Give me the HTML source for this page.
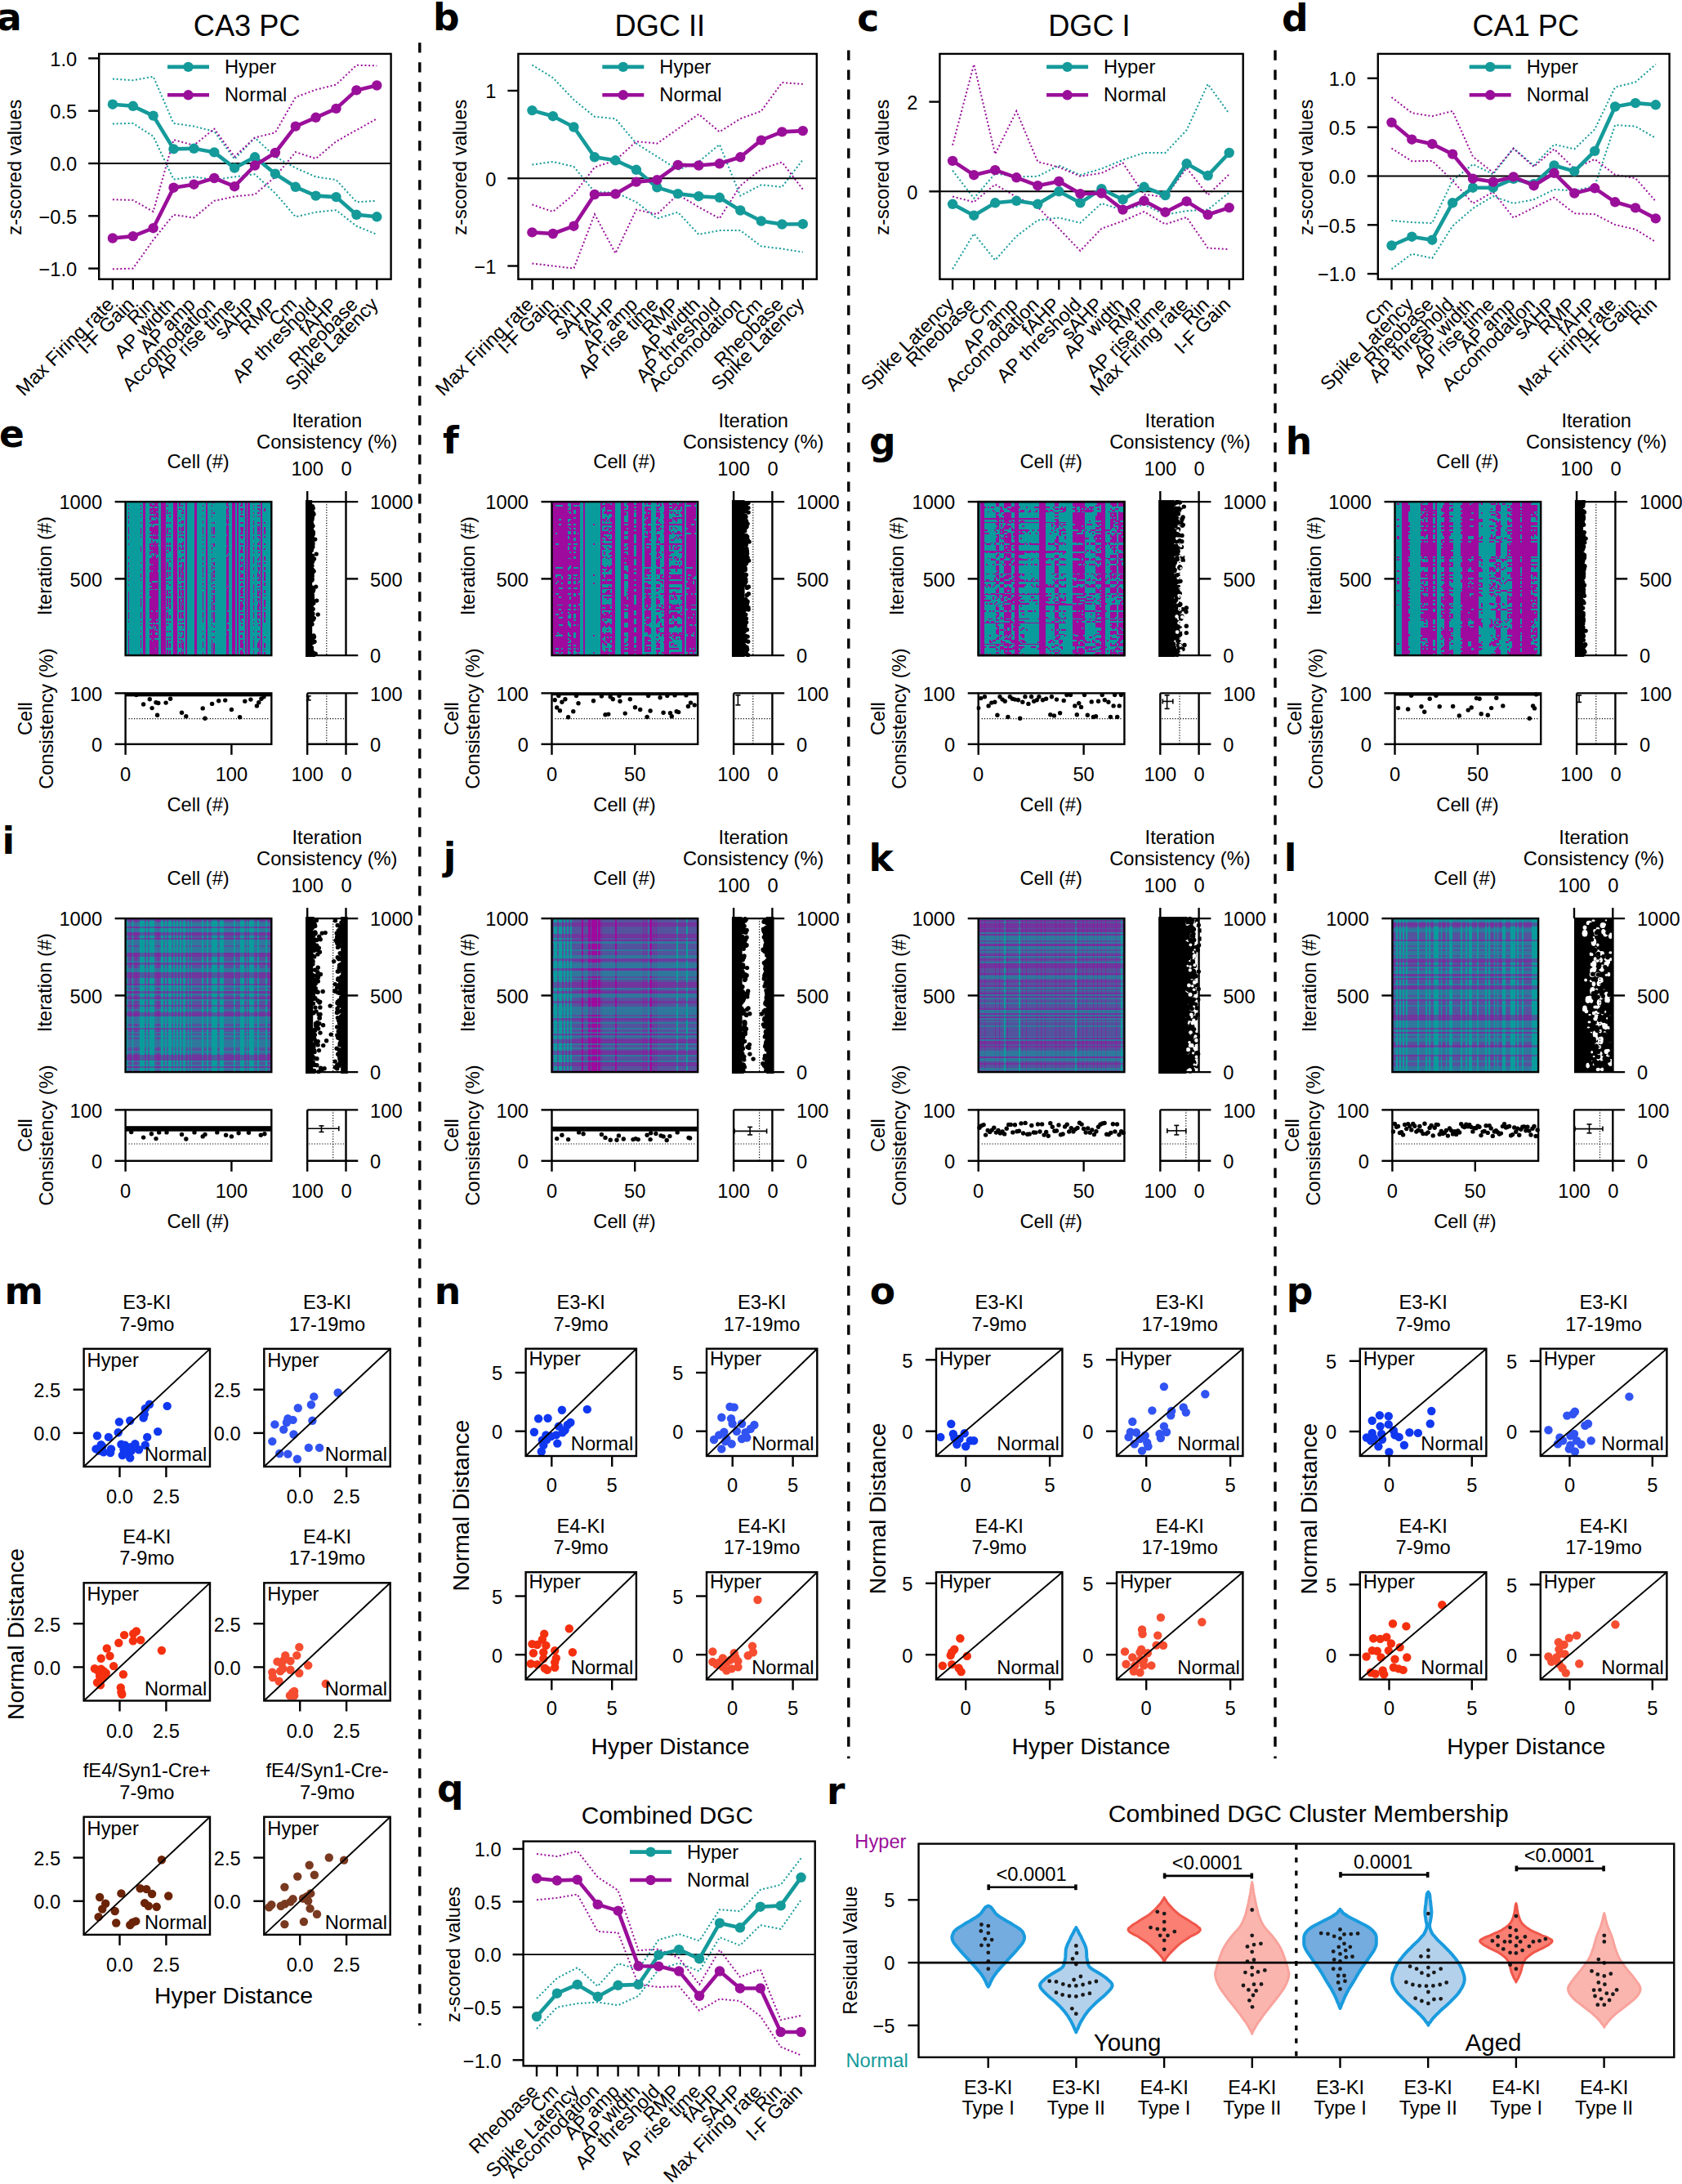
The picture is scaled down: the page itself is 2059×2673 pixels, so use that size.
<!DOCTYPE html>
<html><head><meta charset="utf-8"><title>Figure</title>
<style>
html,body{margin:0;padding:0;background:#fff}
svg{display:block;font-family:"Liberation Sans",Arial,sans-serif;font-size:23.7px;fill:#000}
.b{font-family:"DejaVu Sans",sans-serif;font-weight:bold}
.k{stroke:#000;stroke-width:2.4}
.hm{shape-rendering:crispEdges}
</style></head><body>
<svg width="2059" height="2673" viewBox="0 0 2059 2673">
<rect width="2059" height="2673" fill="#fff"/>
<polyline points="137.9,96.5 162.8,98.3 187.6,93.7 212.5,150.9 237.4,154.6 262.3,160.8 287.1,194.8 312,168.5 336.9,191.7 361.8,205.6 386.6,216.4 411.5,220.1 436.4,247.3 461.3,245.8" fill="none" stroke="#159a9a" stroke-width="2" stroke-dasharray="2 2.7"/>
<polyline points="137.9,151.5 162.8,150.9 187.6,166.9 212.5,219.5 237.4,216.4 262.3,220.1 287.1,216.4 312,213.3 336.9,236.5 361.8,265.3 386.6,259.7 411.5,257.2 436.4,276.7 461.3,286.9" fill="none" stroke="#159a9a" stroke-width="2" stroke-dasharray="2 2.7"/>
<polyline points="137.9,244.2 162.8,244.9 187.6,259.1 212.5,171 237.4,177.8 262.3,157.7 287.1,191.7 312,168.5 336.9,162.3 361.8,119 386.6,109.8 411.5,103.6 436.4,79.8 461.3,80.4" fill="none" stroke="#9a0f9a" stroke-width="2" stroke-dasharray="2 2.7"/>
<polyline points="137.9,329.3 162.8,328.6 187.6,293.7 212.5,262.8 237.4,266.5 262.3,245.8 287.1,240.5 312,238 336.9,216.4 361.8,186.1 386.6,194.1 411.5,173.1 436.4,159.2 461.3,145.3" fill="none" stroke="#9a0f9a" stroke-width="2" stroke-dasharray="2 2.7"/>
<line x1="121.2" y1="200" x2="478.6" y2="200" stroke="#000" stroke-width="1.9"/>
<polyline points="137.9,127.7 162.8,129.8 187.6,141.6 212.5,182.4 237.4,181.8 262.3,186.4 287.1,205.6 312,192.3 336.9,212.7 361.8,228.8 386.6,239.6 411.5,241.1 436.4,262.8 461.3,265.3" fill="none" stroke="#159a9a" stroke-width="4.6" stroke-linejoin="round"/>
<circle cx="137.9" cy="127.7" r="6.2" fill="#159a9a"/>
<circle cx="162.8" cy="129.8" r="6.2" fill="#159a9a"/>
<circle cx="187.6" cy="141.6" r="6.2" fill="#159a9a"/>
<circle cx="212.5" cy="182.4" r="6.2" fill="#159a9a"/>
<circle cx="237.4" cy="181.8" r="6.2" fill="#159a9a"/>
<circle cx="262.3" cy="186.4" r="6.2" fill="#159a9a"/>
<circle cx="287.1" cy="205.6" r="6.2" fill="#159a9a"/>
<circle cx="312" cy="192.3" r="6.2" fill="#159a9a"/>
<circle cx="336.9" cy="212.7" r="6.2" fill="#159a9a"/>
<circle cx="361.8" cy="228.8" r="6.2" fill="#159a9a"/>
<circle cx="386.6" cy="239.6" r="6.2" fill="#159a9a"/>
<circle cx="411.5" cy="241.1" r="6.2" fill="#159a9a"/>
<circle cx="436.4" cy="262.8" r="6.2" fill="#159a9a"/>
<circle cx="461.3" cy="265.3" r="6.2" fill="#159a9a"/>
<polyline points="137.9,291.5 162.8,289.1 187.6,279.2 212.5,229.7 237.4,225.7 262.3,218 287.1,228.2 312,202.5 336.9,187 361.8,154.6 386.6,143.8 411.5,132.9 436.4,110.4 461.3,104.5" fill="none" stroke="#9a0f9a" stroke-width="4.6" stroke-linejoin="round"/>
<circle cx="137.9" cy="291.5" r="6.2" fill="#9a0f9a"/>
<circle cx="162.8" cy="289.1" r="6.2" fill="#9a0f9a"/>
<circle cx="187.6" cy="279.2" r="6.2" fill="#9a0f9a"/>
<circle cx="212.5" cy="229.7" r="6.2" fill="#9a0f9a"/>
<circle cx="237.4" cy="225.7" r="6.2" fill="#9a0f9a"/>
<circle cx="262.3" cy="218" r="6.2" fill="#9a0f9a"/>
<circle cx="287.1" cy="228.2" r="6.2" fill="#9a0f9a"/>
<circle cx="312" cy="202.5" r="6.2" fill="#9a0f9a"/>
<circle cx="336.9" cy="187" r="6.2" fill="#9a0f9a"/>
<circle cx="361.8" cy="154.6" r="6.2" fill="#9a0f9a"/>
<circle cx="386.6" cy="143.8" r="6.2" fill="#9a0f9a"/>
<circle cx="411.5" cy="132.9" r="6.2" fill="#9a0f9a"/>
<circle cx="436.4" cy="110.4" r="6.2" fill="#9a0f9a"/>
<circle cx="461.3" cy="104.5" r="6.2" fill="#9a0f9a"/>
<rect x="121.2" y="65.9" width="357.4" height="275.8" fill="none" stroke="#000" stroke-width="2.4"/>
<line x1="108.2" y1="71.4" x2="121.2" y2="71.4" class="k"/>
<text x="94.2" y="80.6" text-anchor="end">1.0</text>
<line x1="108.2" y1="135.7" x2="121.2" y2="135.7" class="k"/>
<text x="94.2" y="144.9" text-anchor="end">0.5</text>
<line x1="108.2" y1="200" x2="121.2" y2="200" class="k"/>
<text x="94.2" y="209.2" text-anchor="end">0.0</text>
<line x1="108.2" y1="264.3" x2="121.2" y2="264.3" class="k"/>
<text x="94.2" y="273.5" text-anchor="end">−0.5</text>
<line x1="108.2" y1="328.6" x2="121.2" y2="328.6" class="k"/>
<text x="94.2" y="337.8" text-anchor="end">−1.0</text>
<line x1="137.9" y1="341.6" x2="137.9" y2="354.6" class="k"/>
<text transform="translate(140.9 374.1) rotate(-45)" text-anchor="end">Max Firing rate</text>
<line x1="162.8" y1="341.6" x2="162.8" y2="354.6" class="k"/>
<text transform="translate(165.8 374.1) rotate(-45)" text-anchor="end">I-F Gain</text>
<line x1="187.6" y1="341.6" x2="187.6" y2="354.6" class="k"/>
<text transform="translate(190.6 374.1) rotate(-45)" text-anchor="end">Rin</text>
<line x1="212.5" y1="341.6" x2="212.5" y2="354.6" class="k"/>
<text transform="translate(215.5 374.1) rotate(-45)" text-anchor="end">AP width</text>
<line x1="237.4" y1="341.6" x2="237.4" y2="354.6" class="k"/>
<text transform="translate(240.4 374.1) rotate(-45)" text-anchor="end">AP amp</text>
<line x1="262.3" y1="341.6" x2="262.3" y2="354.6" class="k"/>
<text transform="translate(265.3 374.1) rotate(-45)" text-anchor="end">Accomodation</text>
<line x1="287.1" y1="341.6" x2="287.1" y2="354.6" class="k"/>
<text transform="translate(290.1 374.1) rotate(-45)" text-anchor="end">AP rise time</text>
<line x1="312" y1="341.6" x2="312" y2="354.6" class="k"/>
<text transform="translate(315 374.1) rotate(-45)" text-anchor="end">sAHP</text>
<line x1="336.9" y1="341.6" x2="336.9" y2="354.6" class="k"/>
<text transform="translate(339.9 374.1) rotate(-45)" text-anchor="end">RMP</text>
<line x1="361.8" y1="341.6" x2="361.8" y2="354.6" class="k"/>
<text transform="translate(364.8 374.1) rotate(-45)" text-anchor="end">Cm</text>
<line x1="386.6" y1="341.6" x2="386.6" y2="354.6" class="k"/>
<text transform="translate(389.6 374.1) rotate(-45)" text-anchor="end">AP threshold</text>
<line x1="411.5" y1="341.6" x2="411.5" y2="354.6" class="k"/>
<text transform="translate(414.5 374.1) rotate(-45)" text-anchor="end">fAHP</text>
<line x1="436.4" y1="341.6" x2="436.4" y2="354.6" class="k"/>
<text transform="translate(439.4 374.1) rotate(-45)" text-anchor="end">Rheobase</text>
<line x1="461.3" y1="341.6" x2="461.3" y2="354.6" class="k"/>
<text transform="translate(464.3 374.1) rotate(-45)" text-anchor="end">Spike Latency</text>
<text transform="translate(26 204.7) rotate(-90)" text-anchor="middle">z-scored values</text>
<text x="302.2" y="44.4" text-anchor="middle" font-size="36.2">CA3 PC</text>
<line x1="205" y1="81.9" x2="256" y2="81.9" stroke="#159a9a" stroke-width="4.6"/>
<circle cx="230.5" cy="81.9" r="6.2" fill="#159a9a"/>
<text x="275" y="89.9">Hyper</text>
<line x1="205" y1="116.3" x2="256" y2="116.3" stroke="#9a0f9a" stroke-width="4.6"/>
<circle cx="230.5" cy="116.3" r="6.2" fill="#9a0f9a"/>
<text x="275" y="124.3">Normal</text>
<polyline points="651.4,79.5 676.9,95.2 702.4,122.1 727.9,142.8 753.4,145.3 778.9,175.6 804.4,191.7 829.8,207.8 855.3,197.9 880.8,176.8 906.3,239.6 931.8,226.3 957.3,228.8 982.8,195.4" fill="none" stroke="#159a9a" stroke-width="2" stroke-dasharray="2 2.7"/>
<polyline points="651.4,201.6 676.9,197.9 702.4,204 727.9,235 753.4,235.6 778.9,247.3 804.4,267.4 829.8,259.7 855.3,286.9 880.8,282 906.3,282 931.8,301.4 957.3,304.5 982.8,308.5" fill="none" stroke="#159a9a" stroke-width="2" stroke-dasharray="2 2.7"/>
<polyline points="651.4,250.4 676.9,259.1 702.4,238 727.9,204.7 753.4,196.3 778.9,173.1 804.4,175.6 829.8,157.7 855.3,139.7 880.8,161.4 906.3,145.3 931.8,136 957.3,101.1 982.8,102.9" fill="none" stroke="#9a0f9a" stroke-width="2" stroke-dasharray="2 2.7"/>
<polyline points="651.4,322.4 676.9,325.5 702.4,328.6 727.9,262.2 753.4,310.1 778.9,256.6 804.4,262.2 829.8,238 855.3,253.5 880.8,267.4 906.3,227.2 931.8,207.1 957.3,198.5 982.8,231.9" fill="none" stroke="#9a0f9a" stroke-width="2" stroke-dasharray="2 2.7"/>
<line x1="634.4" y1="218.3" x2="999.8" y2="218.3" stroke="#000" stroke-width="1.9"/>
<polyline points="651.4,135.1 676.9,142.2 702.4,155.5 727.9,192.3 753.4,196.3 778.9,207.8 804.4,229.4 829.8,237.1 855.3,240.2 880.8,241.8 906.3,257.5 931.8,270.5 957.3,274.5 982.8,274.2" fill="none" stroke="#159a9a" stroke-width="4.6" stroke-linejoin="round"/>
<circle cx="651.4" cy="135.1" r="6.2" fill="#159a9a"/>
<circle cx="676.9" cy="142.2" r="6.2" fill="#159a9a"/>
<circle cx="702.4" cy="155.5" r="6.2" fill="#159a9a"/>
<circle cx="727.9" cy="192.3" r="6.2" fill="#159a9a"/>
<circle cx="753.4" cy="196.3" r="6.2" fill="#159a9a"/>
<circle cx="778.9" cy="207.8" r="6.2" fill="#159a9a"/>
<circle cx="804.4" cy="229.4" r="6.2" fill="#159a9a"/>
<circle cx="829.8" cy="237.1" r="6.2" fill="#159a9a"/>
<circle cx="855.3" cy="240.2" r="6.2" fill="#159a9a"/>
<circle cx="880.8" cy="241.8" r="6.2" fill="#159a9a"/>
<circle cx="906.3" cy="257.5" r="6.2" fill="#159a9a"/>
<circle cx="931.8" cy="270.5" r="6.2" fill="#159a9a"/>
<circle cx="957.3" cy="274.5" r="6.2" fill="#159a9a"/>
<circle cx="982.8" cy="274.2" r="6.2" fill="#159a9a"/>
<polyline points="651.4,284.4 676.9,286 702.4,276.7 727.9,238 753.4,237.4 778.9,222.6 804.4,220.1 829.8,201.9 855.3,202.5 880.8,200.3 906.3,192.3 931.8,171.6 957.3,161.4 982.8,160.1" fill="none" stroke="#9a0f9a" stroke-width="4.6" stroke-linejoin="round"/>
<circle cx="651.4" cy="284.4" r="6.2" fill="#9a0f9a"/>
<circle cx="676.9" cy="286" r="6.2" fill="#9a0f9a"/>
<circle cx="702.4" cy="276.7" r="6.2" fill="#9a0f9a"/>
<circle cx="727.9" cy="238" r="6.2" fill="#9a0f9a"/>
<circle cx="753.4" cy="237.4" r="6.2" fill="#9a0f9a"/>
<circle cx="778.9" cy="222.6" r="6.2" fill="#9a0f9a"/>
<circle cx="804.4" cy="220.1" r="6.2" fill="#9a0f9a"/>
<circle cx="829.8" cy="201.9" r="6.2" fill="#9a0f9a"/>
<circle cx="855.3" cy="202.5" r="6.2" fill="#9a0f9a"/>
<circle cx="880.8" cy="200.3" r="6.2" fill="#9a0f9a"/>
<circle cx="906.3" cy="192.3" r="6.2" fill="#9a0f9a"/>
<circle cx="931.8" cy="171.6" r="6.2" fill="#9a0f9a"/>
<circle cx="957.3" cy="161.4" r="6.2" fill="#9a0f9a"/>
<circle cx="982.8" cy="160.1" r="6.2" fill="#9a0f9a"/>
<rect x="634.4" y="65.9" width="365.4" height="275.8" fill="none" stroke="#000" stroke-width="2.4"/>
<line x1="621.4" y1="111" x2="634.4" y2="111" class="k"/>
<text x="607.4" y="120.2" text-anchor="end">1</text>
<line x1="621.4" y1="218.3" x2="634.4" y2="218.3" class="k"/>
<text x="607.4" y="227.5" text-anchor="end">0</text>
<line x1="621.4" y1="325.5" x2="634.4" y2="325.5" class="k"/>
<text x="607.4" y="334.7" text-anchor="end">−1</text>
<line x1="651.4" y1="341.6" x2="651.4" y2="354.6" class="k"/>
<text transform="translate(654.4 374.1) rotate(-45)" text-anchor="end">Max Firing rate</text>
<line x1="676.9" y1="341.6" x2="676.9" y2="354.6" class="k"/>
<text transform="translate(679.9 374.1) rotate(-45)" text-anchor="end">I-F Gain</text>
<line x1="702.4" y1="341.6" x2="702.4" y2="354.6" class="k"/>
<text transform="translate(705.4 374.1) rotate(-45)" text-anchor="end">Rin</text>
<line x1="727.9" y1="341.6" x2="727.9" y2="354.6" class="k"/>
<text transform="translate(730.9 374.1) rotate(-45)" text-anchor="end">sAHP</text>
<line x1="753.4" y1="341.6" x2="753.4" y2="354.6" class="k"/>
<text transform="translate(756.4 374.1) rotate(-45)" text-anchor="end">fAHP</text>
<line x1="778.9" y1="341.6" x2="778.9" y2="354.6" class="k"/>
<text transform="translate(781.9 374.1) rotate(-45)" text-anchor="end">AP amp</text>
<line x1="804.4" y1="341.6" x2="804.4" y2="354.6" class="k"/>
<text transform="translate(807.4 374.1) rotate(-45)" text-anchor="end">AP rise time</text>
<line x1="829.8" y1="341.6" x2="829.8" y2="354.6" class="k"/>
<text transform="translate(832.8 374.1) rotate(-45)" text-anchor="end">RMP</text>
<line x1="855.3" y1="341.6" x2="855.3" y2="354.6" class="k"/>
<text transform="translate(858.3 374.1) rotate(-45)" text-anchor="end">AP width</text>
<line x1="880.8" y1="341.6" x2="880.8" y2="354.6" class="k"/>
<text transform="translate(883.8 374.1) rotate(-45)" text-anchor="end">AP threshold</text>
<line x1="906.3" y1="341.6" x2="906.3" y2="354.6" class="k"/>
<text transform="translate(909.3 374.1) rotate(-45)" text-anchor="end">Accomodation</text>
<line x1="931.8" y1="341.6" x2="931.8" y2="354.6" class="k"/>
<text transform="translate(934.8 374.1) rotate(-45)" text-anchor="end">Cm</text>
<line x1="957.3" y1="341.6" x2="957.3" y2="354.6" class="k"/>
<text transform="translate(960.3 374.1) rotate(-45)" text-anchor="end">Rheobase</text>
<line x1="982.8" y1="341.6" x2="982.8" y2="354.6" class="k"/>
<text transform="translate(985.8 374.1) rotate(-45)" text-anchor="end">Spike Latency</text>
<text transform="translate(571 204.7) rotate(-90)" text-anchor="middle">z-scored values</text>
<text x="807.8" y="44.4" text-anchor="middle" font-size="36.2">DGC II</text>
<line x1="737.3" y1="81.9" x2="788.3" y2="81.9" stroke="#159a9a" stroke-width="4.6"/>
<circle cx="762.8" cy="81.9" r="6.2" fill="#159a9a"/>
<text x="807.3" y="89.9">Hyper</text>
<line x1="737.3" y1="116.3" x2="788.3" y2="116.3" stroke="#9a0f9a" stroke-width="4.6"/>
<circle cx="762.8" cy="116.3" r="6.2" fill="#9a0f9a"/>
<text x="807.3" y="124.3">Normal</text>
<polyline points="1166.1,208.7 1192.2,242.7 1218.2,212.4 1244.3,216.4 1270.3,215.8 1296.3,202.5 1322.4,214.2 1348.4,206.5 1374.5,195.7 1400.5,187 1426.5,187 1452.6,159.2 1478.6,102.9 1504.7,139.1" fill="none" stroke="#159a9a" stroke-width="2" stroke-dasharray="2 2.7"/>
<polyline points="1166.1,329.3 1192.2,286 1218.2,318.4 1244.3,289.1 1270.3,269.6 1296.3,266.5 1322.4,272.7 1348.4,248.9 1374.5,257.2 1400.5,250.4 1426.5,262.8 1452.6,258.1 1478.6,256.6 1504.7,235.6" fill="none" stroke="#159a9a" stroke-width="2" stroke-dasharray="2 2.7"/>
<polyline points="1166.1,177.8 1192.2,78.8 1218.2,188.6 1244.3,136 1270.3,197.9 1296.3,204.7 1322.4,215.8 1348.4,211.8 1374.5,199.4 1400.5,238 1426.5,241.1 1452.6,205.6 1478.6,238.7 1504.7,213.3" fill="none" stroke="#9a0f9a" stroke-width="2" stroke-dasharray="2 2.7"/>
<polyline points="1166.1,240.5 1192.2,247.3 1218.2,225.7 1244.3,241.1 1270.3,253.5 1296.3,279.8 1322.4,307 1348.4,279.8 1374.5,270.5 1400.5,259.1 1426.5,274.5 1452.6,265.9 1478.6,303.6 1504.7,305.1" fill="none" stroke="#9a0f9a" stroke-width="2" stroke-dasharray="2 2.7"/>
<line x1="1150.4" y1="234.3" x2="1521.7" y2="234.3" stroke="#000" stroke-width="1.9"/>
<polyline points="1166.1,249.8 1192.2,263.7 1218.2,248.3 1244.3,245.8 1270.3,249.8 1296.3,234.3 1322.4,248.3 1348.4,231.2 1374.5,244.2 1400.5,228.8 1426.5,239 1452.6,200.3 1478.6,214.9 1504.7,187" fill="none" stroke="#159a9a" stroke-width="4.6" stroke-linejoin="round"/>
<circle cx="1166.1" cy="249.8" r="6.2" fill="#159a9a"/>
<circle cx="1192.2" cy="263.7" r="6.2" fill="#159a9a"/>
<circle cx="1218.2" cy="248.3" r="6.2" fill="#159a9a"/>
<circle cx="1244.3" cy="245.8" r="6.2" fill="#159a9a"/>
<circle cx="1270.3" cy="249.8" r="6.2" fill="#159a9a"/>
<circle cx="1296.3" cy="234.3" r="6.2" fill="#159a9a"/>
<circle cx="1322.4" cy="248.3" r="6.2" fill="#159a9a"/>
<circle cx="1348.4" cy="231.2" r="6.2" fill="#159a9a"/>
<circle cx="1374.5" cy="244.2" r="6.2" fill="#159a9a"/>
<circle cx="1400.5" cy="228.8" r="6.2" fill="#159a9a"/>
<circle cx="1426.5" cy="239" r="6.2" fill="#159a9a"/>
<circle cx="1452.6" cy="200.3" r="6.2" fill="#159a9a"/>
<circle cx="1478.6" cy="214.9" r="6.2" fill="#159a9a"/>
<circle cx="1504.7" cy="187" r="6.2" fill="#159a9a"/>
<polyline points="1166.1,196.9 1192.2,214.2 1218.2,208.1 1244.3,217.3 1270.3,227.2 1296.3,222 1322.4,237.1 1348.4,236.5 1374.5,256.6 1400.5,245.8 1426.5,259.7 1452.6,246.4 1478.6,262.8 1504.7,254.1" fill="none" stroke="#9a0f9a" stroke-width="4.6" stroke-linejoin="round"/>
<circle cx="1166.1" cy="196.9" r="6.2" fill="#9a0f9a"/>
<circle cx="1192.2" cy="214.2" r="6.2" fill="#9a0f9a"/>
<circle cx="1218.2" cy="208.1" r="6.2" fill="#9a0f9a"/>
<circle cx="1244.3" cy="217.3" r="6.2" fill="#9a0f9a"/>
<circle cx="1270.3" cy="227.2" r="6.2" fill="#9a0f9a"/>
<circle cx="1296.3" cy="222" r="6.2" fill="#9a0f9a"/>
<circle cx="1322.4" cy="237.1" r="6.2" fill="#9a0f9a"/>
<circle cx="1348.4" cy="236.5" r="6.2" fill="#9a0f9a"/>
<circle cx="1374.5" cy="256.6" r="6.2" fill="#9a0f9a"/>
<circle cx="1400.5" cy="245.8" r="6.2" fill="#9a0f9a"/>
<circle cx="1426.5" cy="259.7" r="6.2" fill="#9a0f9a"/>
<circle cx="1452.6" cy="246.4" r="6.2" fill="#9a0f9a"/>
<circle cx="1478.6" cy="262.8" r="6.2" fill="#9a0f9a"/>
<circle cx="1504.7" cy="254.1" r="6.2" fill="#9a0f9a"/>
<rect x="1150.4" y="65.9" width="371.3" height="275.8" fill="none" stroke="#000" stroke-width="2.4"/>
<line x1="1137.4" y1="124.6" x2="1150.4" y2="124.6" class="k"/>
<text x="1123.4" y="133.8" text-anchor="end">2</text>
<line x1="1137.4" y1="234.3" x2="1150.4" y2="234.3" class="k"/>
<text x="1123.4" y="243.5" text-anchor="end">0</text>
<line x1="1166.1" y1="341.6" x2="1166.1" y2="354.6" class="k"/>
<text transform="translate(1169.1 374.1) rotate(-45)" text-anchor="end">Spike Latency</text>
<line x1="1192.2" y1="341.6" x2="1192.2" y2="354.6" class="k"/>
<text transform="translate(1195.2 374.1) rotate(-45)" text-anchor="end">Rheobase</text>
<line x1="1218.2" y1="341.6" x2="1218.2" y2="354.6" class="k"/>
<text transform="translate(1221.2 374.1) rotate(-45)" text-anchor="end">Cm</text>
<line x1="1244.3" y1="341.6" x2="1244.3" y2="354.6" class="k"/>
<text transform="translate(1247.3 374.1) rotate(-45)" text-anchor="end">AP amp</text>
<line x1="1270.3" y1="341.6" x2="1270.3" y2="354.6" class="k"/>
<text transform="translate(1273.3 374.1) rotate(-45)" text-anchor="end">Accomodation</text>
<line x1="1296.3" y1="341.6" x2="1296.3" y2="354.6" class="k"/>
<text transform="translate(1299.3 374.1) rotate(-45)" text-anchor="end">fAHP</text>
<line x1="1322.4" y1="341.6" x2="1322.4" y2="354.6" class="k"/>
<text transform="translate(1325.4 374.1) rotate(-45)" text-anchor="end">AP threshold</text>
<line x1="1348.4" y1="341.6" x2="1348.4" y2="354.6" class="k"/>
<text transform="translate(1351.4 374.1) rotate(-45)" text-anchor="end">sAHP</text>
<line x1="1374.5" y1="341.6" x2="1374.5" y2="354.6" class="k"/>
<text transform="translate(1377.5 374.1) rotate(-45)" text-anchor="end">AP width</text>
<line x1="1400.5" y1="341.6" x2="1400.5" y2="354.6" class="k"/>
<text transform="translate(1403.5 374.1) rotate(-45)" text-anchor="end">RMP</text>
<line x1="1426.5" y1="341.6" x2="1426.5" y2="354.6" class="k"/>
<text transform="translate(1429.5 374.1) rotate(-45)" text-anchor="end">AP rise time</text>
<line x1="1452.6" y1="341.6" x2="1452.6" y2="354.6" class="k"/>
<text transform="translate(1455.6 374.1) rotate(-45)" text-anchor="end">Max Firing rate</text>
<line x1="1478.6" y1="341.6" x2="1478.6" y2="354.6" class="k"/>
<text transform="translate(1481.6 374.1) rotate(-45)" text-anchor="end">Rin</text>
<line x1="1504.7" y1="341.6" x2="1504.7" y2="354.6" class="k"/>
<text transform="translate(1507.7 374.1) rotate(-45)" text-anchor="end">I-F Gain</text>
<text transform="translate(1088 204.7) rotate(-90)" text-anchor="middle">z-scored values</text>
<text x="1333.4" y="44.4" text-anchor="middle" font-size="36.2">DGC I</text>
<line x1="1281.1" y1="81.9" x2="1332.1" y2="81.9" stroke="#159a9a" stroke-width="4.6"/>
<circle cx="1306.6" cy="81.9" r="6.2" fill="#159a9a"/>
<text x="1351.1" y="89.9">Hyper</text>
<line x1="1281.1" y1="116.3" x2="1332.1" y2="116.3" stroke="#9a0f9a" stroke-width="4.6"/>
<circle cx="1306.6" cy="116.3" r="6.2" fill="#9a0f9a"/>
<text x="1351.1" y="124.3">Normal</text>
<polyline points="1703.5,269.9 1728.3,272.1 1753.2,273 1778.1,221 1803,201 1827.8,213.3 1852.7,181.5 1877.6,202.5 1902.5,176.8 1927.3,182.4 1952.2,158.3 1977.1,106.7 2002,100.5 2026.8,78.8" fill="none" stroke="#159a9a" stroke-width="2" stroke-dasharray="2 2.7"/>
<polyline points="1703.5,329.3 1728.3,310.7 1753.2,316 1778.1,276.7 1803,255.1 1827.8,240.2 1852.7,248.9 1877.6,244.2 1902.5,231.9 1927.3,233.4 1952.2,227.8 1977.1,153 2002,154.6 2026.8,169.1" fill="none" stroke="#159a9a" stroke-width="2" stroke-dasharray="2 2.7"/>
<polyline points="1703.5,119 1728.3,138.2 1753.2,142.2 1778.1,136 1803,191.7 1827.8,211.2 1852.7,181.8 1877.6,204 1902.5,182.4 1927.3,206.5 1952.2,194.8 1977.1,213.9 2002,218 2026.8,246.4" fill="none" stroke="#9a0f9a" stroke-width="2" stroke-dasharray="2 2.7"/>
<polyline points="1703.5,181.5 1728.3,197.2 1753.2,196.9 1778.1,221 1803,248.9 1827.8,235 1852.7,266.5 1877.6,254.1 1902.5,241.8 1927.3,261.2 1952.2,262.2 1977.1,275.1 2002,280.7 2026.8,296.2" fill="none" stroke="#9a0f9a" stroke-width="2" stroke-dasharray="2 2.7"/>
<line x1="1686.8" y1="215.5" x2="2043.5" y2="215.5" stroke="#000" stroke-width="1.9"/>
<polyline points="1703.5,300.5 1728.3,289.7 1753.2,293.7 1778.1,248.3 1803,229.7 1827.8,229.7 1852.7,218.9 1877.6,225.1 1902.5,202.5 1927.3,209.6 1952.2,184.9 1977.1,130.5 2002,126.1 2026.8,128.3" fill="none" stroke="#159a9a" stroke-width="4.6" stroke-linejoin="round"/>
<circle cx="1703.5" cy="300.5" r="6.2" fill="#159a9a"/>
<circle cx="1728.3" cy="289.7" r="6.2" fill="#159a9a"/>
<circle cx="1753.2" cy="293.7" r="6.2" fill="#159a9a"/>
<circle cx="1778.1" cy="248.3" r="6.2" fill="#159a9a"/>
<circle cx="1803" cy="229.7" r="6.2" fill="#159a9a"/>
<circle cx="1827.8" cy="229.7" r="6.2" fill="#159a9a"/>
<circle cx="1852.7" cy="218.9" r="6.2" fill="#159a9a"/>
<circle cx="1877.6" cy="225.1" r="6.2" fill="#159a9a"/>
<circle cx="1902.5" cy="202.5" r="6.2" fill="#159a9a"/>
<circle cx="1927.3" cy="209.6" r="6.2" fill="#159a9a"/>
<circle cx="1952.2" cy="184.9" r="6.2" fill="#159a9a"/>
<circle cx="1977.1" cy="130.5" r="6.2" fill="#159a9a"/>
<circle cx="2002" cy="126.1" r="6.2" fill="#159a9a"/>
<circle cx="2026.8" cy="128.3" r="6.2" fill="#159a9a"/>
<polyline points="1703.5,149.9 1728.3,170.7 1753.2,176.2 1778.1,188.6 1803,218.6 1827.8,222.6 1852.7,216.4 1877.6,227.2 1902.5,211.8 1927.3,236.5 1952.2,230.3 1977.1,247.3 2002,254.4 2026.8,267.4" fill="none" stroke="#9a0f9a" stroke-width="4.6" stroke-linejoin="round"/>
<circle cx="1703.5" cy="149.9" r="6.2" fill="#9a0f9a"/>
<circle cx="1728.3" cy="170.7" r="6.2" fill="#9a0f9a"/>
<circle cx="1753.2" cy="176.2" r="6.2" fill="#9a0f9a"/>
<circle cx="1778.1" cy="188.6" r="6.2" fill="#9a0f9a"/>
<circle cx="1803" cy="218.6" r="6.2" fill="#9a0f9a"/>
<circle cx="1827.8" cy="222.6" r="6.2" fill="#9a0f9a"/>
<circle cx="1852.7" cy="216.4" r="6.2" fill="#9a0f9a"/>
<circle cx="1877.6" cy="227.2" r="6.2" fill="#9a0f9a"/>
<circle cx="1902.5" cy="211.8" r="6.2" fill="#9a0f9a"/>
<circle cx="1927.3" cy="236.5" r="6.2" fill="#9a0f9a"/>
<circle cx="1952.2" cy="230.3" r="6.2" fill="#9a0f9a"/>
<circle cx="1977.1" cy="247.3" r="6.2" fill="#9a0f9a"/>
<circle cx="2002" cy="254.4" r="6.2" fill="#9a0f9a"/>
<circle cx="2026.8" cy="267.4" r="6.2" fill="#9a0f9a"/>
<rect x="1686.8" y="65.9" width="356.8" height="275.8" fill="none" stroke="#000" stroke-width="2.4"/>
<line x1="1673.8" y1="95.8" x2="1686.8" y2="95.8" class="k"/>
<text x="1659.8" y="105" text-anchor="end">1.0</text>
<line x1="1673.8" y1="155.7" x2="1686.8" y2="155.7" class="k"/>
<text x="1659.8" y="164.9" text-anchor="end">0.5</text>
<line x1="1673.8" y1="215.5" x2="1686.8" y2="215.5" class="k"/>
<text x="1659.8" y="224.7" text-anchor="end">0.0</text>
<line x1="1673.8" y1="275.3" x2="1686.8" y2="275.3" class="k"/>
<text x="1659.8" y="284.5" text-anchor="end">−0.5</text>
<line x1="1673.8" y1="335.1" x2="1686.8" y2="335.1" class="k"/>
<text x="1659.8" y="344.3" text-anchor="end">−1.0</text>
<line x1="1703.5" y1="341.6" x2="1703.5" y2="354.6" class="k"/>
<text transform="translate(1706.5 374.1) rotate(-45)" text-anchor="end">Cm</text>
<line x1="1728.3" y1="341.6" x2="1728.3" y2="354.6" class="k"/>
<text transform="translate(1731.3 374.1) rotate(-45)" text-anchor="end">Spike Latency</text>
<line x1="1753.2" y1="341.6" x2="1753.2" y2="354.6" class="k"/>
<text transform="translate(1756.2 374.1) rotate(-45)" text-anchor="end">Rheobase</text>
<line x1="1778.1" y1="341.6" x2="1778.1" y2="354.6" class="k"/>
<text transform="translate(1781.1 374.1) rotate(-45)" text-anchor="end">AP threshold</text>
<line x1="1803" y1="341.6" x2="1803" y2="354.6" class="k"/>
<text transform="translate(1806 374.1) rotate(-45)" text-anchor="end">AP width</text>
<line x1="1827.8" y1="341.6" x2="1827.8" y2="354.6" class="k"/>
<text transform="translate(1830.8 374.1) rotate(-45)" text-anchor="end">AP rise time</text>
<line x1="1852.7" y1="341.6" x2="1852.7" y2="354.6" class="k"/>
<text transform="translate(1855.7 374.1) rotate(-45)" text-anchor="end">AP amp</text>
<line x1="1877.6" y1="341.6" x2="1877.6" y2="354.6" class="k"/>
<text transform="translate(1880.6 374.1) rotate(-45)" text-anchor="end">Accomodation</text>
<line x1="1902.5" y1="341.6" x2="1902.5" y2="354.6" class="k"/>
<text transform="translate(1905.5 374.1) rotate(-45)" text-anchor="end">sAHP</text>
<line x1="1927.3" y1="341.6" x2="1927.3" y2="354.6" class="k"/>
<text transform="translate(1930.3 374.1) rotate(-45)" text-anchor="end">RMP</text>
<line x1="1952.2" y1="341.6" x2="1952.2" y2="354.6" class="k"/>
<text transform="translate(1955.2 374.1) rotate(-45)" text-anchor="end">fAHP</text>
<line x1="1977.1" y1="341.6" x2="1977.1" y2="354.6" class="k"/>
<text transform="translate(1980.1 374.1) rotate(-45)" text-anchor="end">Max Firing rate</text>
<line x1="2002" y1="341.6" x2="2002" y2="354.6" class="k"/>
<text transform="translate(2005 374.1) rotate(-45)" text-anchor="end">I-F Gain</text>
<line x1="2026.8" y1="341.6" x2="2026.8" y2="354.6" class="k"/>
<text transform="translate(2029.8 374.1) rotate(-45)" text-anchor="end">Rin</text>
<text transform="translate(1607.4 204.7) rotate(-90)" text-anchor="middle">z-scored values</text>
<text x="1867.8" y="44.4" text-anchor="middle" font-size="36.2">CA1 PC</text>
<line x1="1798.7" y1="81.9" x2="1849.7" y2="81.9" stroke="#159a9a" stroke-width="4.6"/>
<circle cx="1824.2" cy="81.9" r="6.2" fill="#159a9a"/>
<text x="1868.7" y="89.9">Hyper</text>
<line x1="1798.7" y1="116.3" x2="1849.7" y2="116.3" stroke="#9a0f9a" stroke-width="4.6"/>
<circle cx="1824.2" cy="116.3" r="6.2" fill="#9a0f9a"/>
<text x="1868.7" y="124.3">Normal</text>
<polyline points="657,2445.9 681.9,2421.1 706.8,2408.2 731.7,2431 756.6,2403.2 781.5,2410.3 806.3,2374.1 831.2,2367 856.1,2375.4 881,2337.1 905.9,2339.2 930.8,2312.9 955.7,2306.8 980.6,2274.3" fill="none" stroke="#159a9a" stroke-width="2" stroke-dasharray="2 2.7"/>
<polyline points="657,2483 681.9,2456.7 706.8,2452.1 731.7,2450.5 756.6,2454.2 781.5,2442.8 806.3,2410.3 831.2,2402.6 856.1,2412.5 881,2371.1 905.9,2381 930.8,2356.2 955.7,2360.9 980.6,2325.3" fill="none" stroke="#159a9a" stroke-width="2" stroke-dasharray="2 2.7"/>
<polyline points="657,2269 681.9,2272.1 706.8,2265.6 731.7,2297.5 756.6,2313.6 781.5,2387.1 806.3,2385.6 831.2,2396.4 856.1,2428.9 881,2386.5 905.9,2419.6 930.8,2410.3 955.7,2472.2 980.6,2466.9" fill="none" stroke="#9a0f9a" stroke-width="2" stroke-dasharray="2 2.7"/>
<polyline points="657,2325.3 681.9,2322.8 706.8,2318.5 731.7,2363.9 756.6,2365.5 781.5,2428.9 806.3,2432 831.2,2431 856.1,2460.7 881,2446.5 905.9,2449 930.8,2467.5 955.7,2505.2 980.6,2515.4" fill="none" stroke="#9a0f9a" stroke-width="2" stroke-dasharray="2 2.7"/>
<line x1="640.6" y1="2392.1" x2="997.6" y2="2392.1" stroke="#000" stroke-width="1.9"/>
<polyline points="657,2468.1 681.9,2439.7 706.8,2428.9 731.7,2443.7 756.6,2429.8 781.5,2428.9 806.3,2392.7 831.2,2386.2 856.1,2397.3 881,2353.7 905.9,2359.3 930.8,2333.7 955.7,2332.4 980.6,2297.8" fill="none" stroke="#159a9a" stroke-width="4.6" stroke-linejoin="round"/>
<circle cx="657" cy="2468.1" r="6.2" fill="#159a9a"/>
<circle cx="681.9" cy="2439.7" r="6.2" fill="#159a9a"/>
<circle cx="706.8" cy="2428.9" r="6.2" fill="#159a9a"/>
<circle cx="731.7" cy="2443.7" r="6.2" fill="#159a9a"/>
<circle cx="756.6" cy="2429.8" r="6.2" fill="#159a9a"/>
<circle cx="781.5" cy="2428.9" r="6.2" fill="#159a9a"/>
<circle cx="806.3" cy="2392.7" r="6.2" fill="#159a9a"/>
<circle cx="831.2" cy="2386.2" r="6.2" fill="#159a9a"/>
<circle cx="856.1" cy="2397.3" r="6.2" fill="#159a9a"/>
<circle cx="881" cy="2353.7" r="6.2" fill="#159a9a"/>
<circle cx="905.9" cy="2359.3" r="6.2" fill="#159a9a"/>
<circle cx="930.8" cy="2333.7" r="6.2" fill="#159a9a"/>
<circle cx="955.7" cy="2332.4" r="6.2" fill="#159a9a"/>
<circle cx="980.6" cy="2297.8" r="6.2" fill="#159a9a"/>
<polyline points="657,2299 681.9,2301.5 706.8,2300.6 731.7,2330.9 756.6,2338.6 781.5,2406.3 806.3,2406.6 831.2,2412.5 856.1,2442.8 881,2412.5 905.9,2433.5 930.8,2433.5 955.7,2487 980.6,2487" fill="none" stroke="#9a0f9a" stroke-width="4.6" stroke-linejoin="round"/>
<circle cx="657" cy="2299" r="6.2" fill="#9a0f9a"/>
<circle cx="681.9" cy="2301.5" r="6.2" fill="#9a0f9a"/>
<circle cx="706.8" cy="2300.6" r="6.2" fill="#9a0f9a"/>
<circle cx="731.7" cy="2330.9" r="6.2" fill="#9a0f9a"/>
<circle cx="756.6" cy="2338.6" r="6.2" fill="#9a0f9a"/>
<circle cx="781.5" cy="2406.3" r="6.2" fill="#9a0f9a"/>
<circle cx="806.3" cy="2406.6" r="6.2" fill="#9a0f9a"/>
<circle cx="831.2" cy="2412.5" r="6.2" fill="#9a0f9a"/>
<circle cx="856.1" cy="2442.8" r="6.2" fill="#9a0f9a"/>
<circle cx="881" cy="2412.5" r="6.2" fill="#9a0f9a"/>
<circle cx="905.9" cy="2433.5" r="6.2" fill="#9a0f9a"/>
<circle cx="930.8" cy="2433.5" r="6.2" fill="#9a0f9a"/>
<circle cx="955.7" cy="2487" r="6.2" fill="#9a0f9a"/>
<circle cx="980.6" cy="2487" r="6.2" fill="#9a0f9a"/>
<rect x="640.6" y="2253.6" width="357.1" height="274.8" fill="none" stroke="#000" stroke-width="2.4"/>
<line x1="627.6" y1="2262.9" x2="640.6" y2="2262.9" class="k"/>
<text x="613.6" y="2272.1" text-anchor="end">1.0</text>
<line x1="627.6" y1="2327.5" x2="640.6" y2="2327.5" class="k"/>
<text x="613.6" y="2336.7" text-anchor="end">0.5</text>
<line x1="627.6" y1="2392.1" x2="640.6" y2="2392.1" class="k"/>
<text x="613.6" y="2401.3" text-anchor="end">0.0</text>
<line x1="627.6" y1="2456.7" x2="640.6" y2="2456.7" class="k"/>
<text x="613.6" y="2465.9" text-anchor="end">−0.5</text>
<line x1="627.6" y1="2521.3" x2="640.6" y2="2521.3" class="k"/>
<text x="613.6" y="2530.5" text-anchor="end">−1.0</text>
<line x1="657" y1="2528.4" x2="657" y2="2541.4" class="k"/>
<text transform="translate(660 2560.9) rotate(-45)" text-anchor="end">Rheobase</text>
<line x1="681.9" y1="2528.4" x2="681.9" y2="2541.4" class="k"/>
<text transform="translate(684.9 2560.9) rotate(-45)" text-anchor="end">Cm</text>
<line x1="706.8" y1="2528.4" x2="706.8" y2="2541.4" class="k"/>
<text transform="translate(709.8 2560.9) rotate(-45)" text-anchor="end">Spike Latency</text>
<line x1="731.7" y1="2528.4" x2="731.7" y2="2541.4" class="k"/>
<text transform="translate(734.7 2560.9) rotate(-45)" text-anchor="end">Accomodation</text>
<line x1="756.6" y1="2528.4" x2="756.6" y2="2541.4" class="k"/>
<text transform="translate(759.6 2560.9) rotate(-45)" text-anchor="end">AP amp</text>
<line x1="781.5" y1="2528.4" x2="781.5" y2="2541.4" class="k"/>
<text transform="translate(784.5 2560.9) rotate(-45)" text-anchor="end">AP width</text>
<line x1="806.3" y1="2528.4" x2="806.3" y2="2541.4" class="k"/>
<text transform="translate(809.3 2560.9) rotate(-45)" text-anchor="end">AP threshold</text>
<line x1="831.2" y1="2528.4" x2="831.2" y2="2541.4" class="k"/>
<text transform="translate(834.2 2560.9) rotate(-45)" text-anchor="end">RMP</text>
<line x1="856.1" y1="2528.4" x2="856.1" y2="2541.4" class="k"/>
<text transform="translate(859.1 2560.9) rotate(-45)" text-anchor="end">AP rise time</text>
<line x1="881" y1="2528.4" x2="881" y2="2541.4" class="k"/>
<text transform="translate(884 2560.9) rotate(-45)" text-anchor="end">fAHP</text>
<line x1="905.9" y1="2528.4" x2="905.9" y2="2541.4" class="k"/>
<text transform="translate(908.9 2560.9) rotate(-45)" text-anchor="end">sAHP</text>
<line x1="930.8" y1="2528.4" x2="930.8" y2="2541.4" class="k"/>
<text transform="translate(933.8 2560.9) rotate(-45)" text-anchor="end">Max Firing rate</text>
<line x1="955.7" y1="2528.4" x2="955.7" y2="2541.4" class="k"/>
<text transform="translate(958.7 2560.9) rotate(-45)" text-anchor="end">Rin</text>
<line x1="980.6" y1="2528.4" x2="980.6" y2="2541.4" class="k"/>
<text transform="translate(983.6 2560.9) rotate(-45)" text-anchor="end">I-F Gain</text>
<text transform="translate(563 2392) rotate(-90)" text-anchor="middle">z-scored values</text>
<text x="816.8" y="2232.1" text-anchor="middle" font-size="29.8">Combined DGC</text>
<line x1="771" y1="2266.6" x2="822" y2="2266.6" stroke="#159a9a" stroke-width="4.6"/>
<circle cx="796.5" cy="2266.6" r="6.2" fill="#159a9a"/>
<text x="841" y="2274.6">Hyper</text>
<line x1="771" y1="2301" x2="822" y2="2301" stroke="#9a0f9a" stroke-width="4.6"/>
<circle cx="796.5" cy="2301" r="6.2" fill="#9a0f9a"/>
<text x="841" y="2309">Normal</text>
<g class="hm">
<rect x="153.6" y="614.1" width="178.7" height="188" fill="#0a9c9c"/>
<rect x="156.8" y="614.1" width="1.4" height="188" fill="#9e0a9e"/>
<line x1="157.5" y1="614.1" x2="157.5" y2="802.1" stroke="#0a9c9c" stroke-width="1.5" stroke-dasharray="3.8 1.9 1.9 1.9 3.8 1.9 1.9 3.8 1.9 3.8 3.8 9.5 1.9 3.8 5.7 1.9 13.3 3.8 3.8 3.8 1.9 3.8 1.9 1.9 1.9 3.8 1.9 1.9 3.8 1.9 7.6 22.8 1.9 9.5 1.9 1.9 9.5 3.8 1.9 24.7"/>
<rect x="171.9" y="614.1" width="1.2" height="188" fill="#9e0a9e"/>
<line x1="172.5" y1="614.1" x2="172.5" y2="802.1" stroke="#0a9c9c" stroke-width="1.3" stroke-dasharray="3.8 1.9 1.9 1.9 3.8 1.9 1.9 1.9 5.7 1.9 5.7 7.6 1.9 1.9 11.4 5.7 13.3 1.9 5.7 1.9 3.8 5.7 1.9 1.9 11.4 1.9 3.8 1.9 1.9 11.4 5.7 7.6 3.8 1.9 1.9 1.9 5.7 1.9 3.8 3.8 1.9 9.5 5.7 3.8"/>
<rect x="175.4" y="614.1" width="3" height="188" fill="#9e0a9e"/>
<rect x="183.4" y="614.1" width="3.9" height="188" fill="#9e0a9e"/>
<line x1="184" y1="614.1" x2="184" y2="802.1" stroke="#0a9c9c" stroke-width="1.4" stroke-dasharray="1.9 3.8 1.9 3.8 1.9 1.9 1.9 5.7 1.9 1.9 3.8 5.7 1.9 1.9 1.9 1.9 7.6 7.6 1.9 3.8 3.8 7.6 1.9 5.7 1.9 13.3 1.9 1.9 1.9 1.9 1.9 7.6 1.9 24.7 3.8 1.9 1.9 1.9 3.8 5.7 1.9 3.8 1.9 19"/>
<line x1="185.3" y1="614.1" x2="185.3" y2="802.1" stroke="#0a9c9c" stroke-width="1.4" stroke-dasharray="1.9 3.8 1.9 7.6 1.9 1.9 3.8 3.8 1.9 11.4 1.9 7.6 1.9 1.9 1.9 7.6 5.7 34.2 1.9 1.9 1.9 24.7 1.9 7.6 1.9 3.8 1.9 3.8 1.9 3.8 3.8 24.7"/>
<line x1="186.6" y1="614.1" x2="186.6" y2="802.1" stroke="#0a9c9c" stroke-width="1.4" stroke-dasharray="0 1.9 1.9 1.9 1.9 1.9 3.8 1.9 1.9 1.9 3.8 5.7 1.9 13.3 3.8 1.9 1.9 1.9 1.9 3.8 1.9 1.9 1.9 11.4 1.9 5.7 1.9 11.4 1.9 7.6 1.9 24.7 1.9 19 1.9 13.3 1.9 17.1"/>
<rect x="187.3" y="614.1" width="6.7" height="188" fill="#9e0a9e"/>
<line x1="188" y1="614.1" x2="188" y2="802.1" stroke="#0a9c9c" stroke-width="1.4" stroke-dasharray="0 1.9 1.9 11.4 1.9 1.9 3.8 3.8 3.8 9.5 1.9 3.8 3.8 13.3 3.8 30.4 1.9 49.4 1.9 1.9 1.9 34.2"/>
<line x1="189.3" y1="614.1" x2="189.3" y2="802.1" stroke="#0a9c9c" stroke-width="1.4" stroke-dasharray="0 5.7 1.9 13.3 1.9 3.8 1.9 17.1 1.9 5.7 1.9 41.8 1.9 7.6 1.9 39.9 1.9 3.8 3.8 9.5 1.9 19"/>
<line x1="190.7" y1="614.1" x2="190.7" y2="802.1" stroke="#0a9c9c" stroke-width="1.4" stroke-dasharray="0 5.7 1.9 7.6 1.9 1.9 3.8 3.8 1.9 11.4 1.9 3.8 1.9 15.2 1.9 32.3 1.9 7.6 1.9 43.7 3.8 3.8 3.8 3.8 1.9 9.5 1.9 7.6"/>
<line x1="192" y1="614.1" x2="192" y2="802.1" stroke="#0a9c9c" stroke-width="1.4" stroke-dasharray="0 5.7 1.9 3.8 1.9 5.7 1.9 5.7 1.9 17.1 5.7 13.3 3.8 28.5 1.9 7.6 1.9 24.7 1.9 9.5 1.9 1.9 1.9 5.7 1.9 1.9 3.8 3.8 1.9 19"/>
<line x1="193.3" y1="614.1" x2="193.3" y2="802.1" stroke="#0a9c9c" stroke-width="1.4" stroke-dasharray="0 1.9 1.9 7.6 1.9 7.6 1.9 3.8 1.9 11.4 1.9 3.8 3.8 3.8 1.9 9.5 1.9 17.1 1.9 57 1.9 3.8 1.9 17.1 1.9 19"/>
<rect x="196.7" y="614.1" width="6.2" height="188" fill="#9e0a9e"/>
<rect x="203.8" y="614.1" width="1.8" height="188" fill="#9e0a9e"/>
<line x1="204.7" y1="614.1" x2="204.7" y2="802.1" stroke="#0a9c9c" stroke-width="1.8" stroke-dasharray="3.8 1.9 3.8 1.9 1.9 1.9 9.5 1.9 5.7 7.6 1.9 1.9 5.7 3.8 1.9 3.8 1.9 1.9 5.7 1.9 3.8 9.5 1.9 7.6 1.9 1.9 1.9 1.9 7.6 7.6 1.9 11.4 1.9 1.9 1.9 7.6 3.8 1.9 1.9 1.9 5.7 1.9 5.7 1.9 1.9 9.5 1.9 7.6"/>
<rect x="207.3" y="614.1" width="1.8" height="188" fill="#9e0a9e"/>
<line x1="208.2" y1="614.1" x2="208.2" y2="802.1" stroke="#0a9c9c" stroke-width="1.8" stroke-dasharray="0 1.9 11.4 1.9 1.9 1.9 5.7 1.9 5.7 1.9 3.8 1.9 1.9 1.9 5.7 3.8 1.9 5.7 7.6 1.9 1.9 1.9 5.7 3.8 1.9 1.9 1.9 1.9 3.8 1.9 3.8 1.9 5.7 1.9 1.9 3.8 1.9 5.7 1.9 5.7 7.6 3.8 3.8 1.9 9.5 1.9 5.7 1.9 1.9 1.9 1.9 5.7 3.8 5.7"/>
<rect x="211.7" y="614.1" width="5.3" height="188" fill="#9e0a9e"/>
<rect x="218.8" y="614.1" width="1.8" height="188" fill="#9e0a9e"/>
<line x1="219.7" y1="614.1" x2="219.7" y2="802.1" stroke="#0a9c9c" stroke-width="1.8" stroke-dasharray="0 5.7 1.9 1.9 9.5 1.9 3.8 1.9 3.8 5.7 1.9 1.9 1.9 1.9 7.6 1.9 1.9 3.8 9.5 3.8 1.9 3.8 1.9 13.3 1.9 1.9 3.8 1.9 1.9 1.9 1.9 7.6 1.9 15.2 1.9 7.6 3.8 1.9 1.9 1.9 5.7 1.9 1.9 1.9 1.9 1.9 1.9 1.9 1.9 5.7 5.7 3.8"/>
<rect x="221.5" y="614.1" width="3.5" height="188" fill="#9e0a9e"/>
<line x1="222.1" y1="614.1" x2="222.1" y2="802.1" stroke="#0a9c9c" stroke-width="1.2" stroke-dasharray="3.8 1.9 1.9 1.9 3.8 1.9 7.6 3.8 3.8 9.5 1.9 1.9 5.7 3.8 3.8 1.9 1.9 1.9 5.7 1.9 3.8 1.9 3.8 7.6 1.9 7.6 1.9 3.8 1.9 1.9 1.9 3.8 1.9 5.7 1.9 11.4 1.9 7.6 3.8 1.9 1.9 1.9 5.7 1.9 5.7 1.9 1.9 9.5 1.9 7.6"/>
<line x1="223.3" y1="614.1" x2="223.3" y2="802.1" stroke="#0a9c9c" stroke-width="1.2" stroke-dasharray="0 1.9 1.9 1.9 3.8 1.9 1.9 1.9 1.9 1.9 3.8 3.8 3.8 5.7 1.9 1.9 1.9 1.9 5.7 9.5 1.9 1.9 3.8 3.8 3.8 13.3 1.9 3.8 1.9 1.9 1.9 7.6 1.9 7.6 1.9 5.7 1.9 7.6 1.9 7.6 3.8 1.9 1.9 1.9 1.9 1.9 1.9 1.9 3.8 3.8 1.9 1.9 1.9 7.6 3.8 3.8"/>
<line x1="224.5" y1="614.1" x2="224.5" y2="802.1" stroke="#0a9c9c" stroke-width="1.2" stroke-dasharray="9.5 1.9 1.9 1.9 7.6 3.8 1.9 7.6 1.9 1.9 1.9 3.8 1.9 5.7 1.9 3.8 1.9 1.9 3.8 3.8 3.8 9.5 1.9 11.4 1.9 3.8 1.9 1.9 1.9 24.7 1.9 1.9 1.9 3.8 1.9 3.8 1.9 3.8 3.8 9.5 3.8 9.5 1.9 5.7"/>
<rect x="226.8" y="614.1" width="2.1" height="188" fill="#9e0a9e"/>
<rect x="237.5" y="614.1" width="3.5" height="188" fill="#9e0a9e"/>
<rect x="248.1" y="614.1" width="1.2" height="188" fill="#9e0a9e"/>
<line x1="248.7" y1="614.1" x2="248.7" y2="802.1" stroke="#0a9c9c" stroke-width="1.3" stroke-dasharray="3.8 1.9 3.8 1.9 5.7 1.9 3.8 3.8 3.8 9.5 1.9 1.9 1.9 1.9 3.8 1.9 3.8 1.9 1.9 1.9 3.8 5.7 1.9 3.8 1.9 7.6 1.9 3.8 1.9 1.9 1.9 3.8 1.9 1.9 3.8 22.8 1.9 7.6 1.9 3.8 9.5 1.9 3.8 3.8 3.8 7.6 5.7 3.8"/>
<rect x="251.6" y="614.1" width="2.1" height="188" fill="#9e0a9e"/>
<rect x="258.7" y="614.1" width="1.2" height="188" fill="#9e0a9e"/>
<line x1="259.3" y1="614.1" x2="259.3" y2="802.1" stroke="#0a9c9c" stroke-width="1.3" stroke-dasharray="0 1.9 1.9 1.9 3.8 1.9 1.9 1.9 1.9 1.9 5.7 1.9 3.8 9.5 1.9 1.9 7.6 1.9 1.9 3.8 1.9 1.9 5.7 3.8 1.9 1.9 1.9 5.7 1.9 13.3 1.9 3.8 3.8 3.8 1.9 1.9 1.9 1.9 1.9 11.4 1.9 7.6 3.8 1.9 1.9 1.9 5.7 1.9 5.7 1.9 1.9 19"/>
<rect x="261.4" y="614.1" width="1.4" height="188" fill="#9e0a9e"/>
<line x1="262.1" y1="614.1" x2="262.1" y2="802.1" stroke="#0a9c9c" stroke-width="1.5" stroke-dasharray="0 1.9 11.4 1.9 9.5 1.9 3.8 9.5 1.9 1.9 7.6 3.8 13.3 1.9 3.8 3.8 1.9 1.9 1.9 3.8 1.9 3.8 1.9 1.9 3.8 1.9 1.9 1.9 1.9 3.8 1.9 9.5 1.9 7.6 1.9 13.3 3.8 1.9 3.8 1.9 5.7 1.9 5.7 15.2"/>
<rect x="276.5" y="614.1" width="3.5" height="188" fill="#9e0a9e"/>
<line x1="277" y1="614.1" x2="277" y2="802.1" stroke="#0a9c9c" stroke-width="1.2" stroke-dasharray="0 5.7 1.9 19 1.9 11.4 1.9 11.4 1.9 9.5 1.9 39.9 1.9 53.2 1.9 24.7"/>
<line x1="278.2" y1="614.1" x2="278.2" y2="802.1" stroke="#0a9c9c" stroke-width="1.2" stroke-dasharray="0 5.7 1.9 7.6 1.9 1.9 1.9 43.7 1.9 36.1 1.9 28.5 1.9 13.3 1.9 5.7 1.9 30.4"/>
<line x1="279.4" y1="614.1" x2="279.4" y2="802.1" stroke="#0a9c9c" stroke-width="1.2" stroke-dasharray="0 1.9 1.9 7.6 1.9 13.3 1.9 34.2 1.9 68.4 1.9 13.3 1.9 5.7 1.9 30.4"/>
<rect x="284.1" y="614.1" width="3.9" height="188" fill="#9e0a9e"/>
<rect x="289.8" y="614.1" width="1.8" height="188" fill="#9e0a9e"/>
<rect x="294.2" y="614.1" width="3.5" height="188" fill="#9e0a9e"/>
<line x1="294.8" y1="614.1" x2="294.8" y2="802.1" stroke="#0a9c9c" stroke-width="1.2" stroke-dasharray="3.8 1.9 1.9 1.9 7.6 1.9 5.7 1.9 3.8 3.8 3.8 1.9 1.9 1.9 5.7 3.8 5.7 3.8 5.7 1.9 1.9 5.7 1.9 3.8 1.9 1.9 1.9 3.8 1.9 1.9 3.8 1.9 5.7 3.8 1.9 1.9 1.9 1.9 1.9 11.4 1.9 1.9 1.9 7.6 11.4 1.9 3.8 3.8 1.9 9.5 3.8 5.7"/>
<line x1="296" y1="614.1" x2="296" y2="802.1" stroke="#0a9c9c" stroke-width="1.2" stroke-dasharray="0 5.7 1.9 3.8 1.9 1.9 1.9 1.9 5.7 1.9 3.8 9.5 1.9 3.8 5.7 1.9 1.9 7.6 3.8 3.8 3.8 1.9 3.8 3.8 3.8 5.7 1.9 1.9 1.9 3.8 1.9 11.4 1.9 1.9 1.9 11.4 1.9 1.9 1.9 3.8 3.8 1.9 1.9 1.9 5.7 1.9 3.8 3.8 1.9 9.5 1.9 7.6"/>
<line x1="297.1" y1="614.1" x2="297.1" y2="802.1" stroke="#0a9c9c" stroke-width="1.2" stroke-dasharray="7.6 1.9 7.6 1.9 5.7 1.9 3.8 5.7 1.9 1.9 1.9 1.9 7.6 1.9 7.6 1.9 9.5 11.4 3.8 5.7 1.9 1.9 3.8 1.9 1.9 1.9 3.8 1.9 1.9 1.9 1.9 3.8 3.8 3.8 5.7 1.9 1.9 3.8 15.2 1.9 9.5 1.9 1.9 7.6 3.8 3.8"/>
<rect x="299.5" y="614.1" width="2.7" height="188" fill="#9e0a9e"/>
<rect x="303" y="614.1" width="2.7" height="188" fill="#9e0a9e"/>
<rect x="310.1" y="614.1" width="1.2" height="188" fill="#9e0a9e"/>
<line x1="310.8" y1="614.1" x2="310.8" y2="802.1" stroke="#0a9c9c" stroke-width="1.3" stroke-dasharray="0 1.9 1.9 1.9 1.9 1.9 3.8 1.9 1.9 1.9 3.8 5.7 1.9 9.5 1.9 3.8 5.7 1.9 1.9 3.8 1.9 1.9 3.8 9.5 3.8 3.8 5.7 3.8 1.9 1.9 3.8 5.7 1.9 3.8 1.9 1.9 1.9 5.7 1.9 7.6 1.9 7.6 3.8 1.9 1.9 1.9 5.7 1.9 5.7 1.9 1.9 9.5 3.8 5.7"/>
<rect x="314.6" y="614.1" width="3.5" height="188" fill="#9e0a9e"/>
<line x1="315.2" y1="614.1" x2="315.2" y2="802.1" stroke="#0a9c9c" stroke-width="1.2" stroke-dasharray="3.8 1.9 1.9 1.9 3.8 1.9 1.9 1.9 5.7 1.9 1.9 11.4 1.9 1.9 7.6 1.9 1.9 3.8 11.4 1.9 1.9 3.8 1.9 1.9 3.8 7.6 1.9 1.9 3.8 1.9 1.9 1.9 1.9 7.6 1.9 3.8 3.8 7.6 1.9 7.6 1.9 3.8 9.5 1.9 3.8 3.8 5.7 5.7 5.7 3.8"/>
<line x1="316.3" y1="614.1" x2="316.3" y2="802.1" stroke="#0a9c9c" stroke-width="1.2" stroke-dasharray="3.8 1.9 1.9 1.9 3.8 1.9 9.5 1.9 3.8 5.7 1.9 1.9 1.9 1.9 5.7 3.8 1.9 3.8 1.9 1.9 5.7 3.8 7.6 5.7 1.9 3.8 3.8 1.9 3.8 1.9 7.6 5.7 1.9 1.9 1.9 11.4 1.9 1.9 1.9 3.8 3.8 1.9 1.9 1.9 5.7 1.9 5.7 1.9 3.8 7.6 1.9 1.9 1.9 3.8"/>
<line x1="317.5" y1="614.1" x2="317.5" y2="802.1" stroke="#0a9c9c" stroke-width="1.2" stroke-dasharray="0 1.9 1.9 1.9 1.9 3.8 1.9 1.9 1.9 1.9 5.7 1.9 1.9 11.4 1.9 3.8 1.9 1.9 1.9 1.9 3.8 1.9 1.9 1.9 3.8 3.8 3.8 3.8 1.9 3.8 5.7 7.6 3.8 1.9 1.9 1.9 1.9 3.8 1.9 1.9 1.9 3.8 1.9 5.7 1.9 1.9 1.9 1.9 1.9 3.8 7.6 1.9 5.7 1.9 1.9 1.9 1.9 1.9 1.9 11.4 1.9 5.7"/>
<rect x="319" y="614.1" width="2.3" height="188" fill="#9e0a9e"/>
<rect x="323.4" y="614.1" width="1.4" height="188" fill="#9e0a9e"/>
<line x1="324.1" y1="614.1" x2="324.1" y2="802.1" stroke="#0a9c9c" stroke-width="1.5" stroke-dasharray="7.6 3.8 13.3 1.9 3.8 9.5 1.9 1.9 7.6 1.9 3.8 1.9 7.6 5.7 1.9 1.9 3.8 3.8 1.9 11.4 1.9 3.8 5.7 3.8 1.9 1.9 3.8 9.5 1.9 1.9 1.9 7.6 1.9 3.8 17.1 1.9 5.7 5.7 1.9 1.9 1.9 3.8"/>
</g>
<rect x="153.6" y="614.1" width="178.7" height="188" fill="none" stroke="#000" stroke-width="2.4"/>
<line x1="140.6" y1="614.1" x2="153.6" y2="614.1" class="k"/>
<text x="125.1" y="623.4" text-anchor="end">1000</text>
<line x1="140.6" y1="708.4" x2="153.6" y2="708.4" class="k"/>
<text x="125.1" y="717.7" text-anchor="end">500</text>
<text transform="translate(62.6 692.6) rotate(-90)" text-anchor="middle">Iteration (#)</text>
<text x="242.6" y="572.9" text-anchor="middle">Cell (#)</text>
<text x="400.3" y="523.3" text-anchor="middle">Iteration</text>
<text x="400.3" y="548.5" text-anchor="middle">Consistency (%)</text>
<text x="376.2" y="582.1" text-anchor="middle">100</text>
<text x="424.1" y="582.1" text-anchor="middle">0</text>
<clipPath id="c1"><rect x="373.2" y="612.1" width="53.3" height="192"/></clipPath>
<g clip-path="url(#c1)">
<rect x="374" y="612.1" width="8.2" height="192" fill="#000"/>
<circle cx="384.1" cy="699.1" r="2.7"/>
<circle cx="382.3" cy="701.6" r="2.7"/>
<circle cx="381.9" cy="709.6" r="2.7"/>
<circle cx="381.7" cy="710.3" r="2.7"/>
<circle cx="381.4" cy="732.5" r="2.7"/>
<circle cx="381.8" cy="671.1" r="2.7"/>
<circle cx="382" cy="631.1" r="2.7"/>
<circle cx="383.2" cy="622" r="2.7"/>
<circle cx="383.1" cy="798.8" r="2.7"/>
<circle cx="381.6" cy="729.8" r="2.7"/>
<circle cx="382.9" cy="643.7" r="2.7"/>
<circle cx="381.4" cy="625.3" r="2.7"/>
<circle cx="381.2" cy="649.9" r="2.7"/>
<circle cx="381.5" cy="701.3" r="2.7"/>
<circle cx="382.1" cy="696.9" r="2.7"/>
<circle cx="382.6" cy="734.5" r="2.7"/>
<circle cx="382" cy="708.1" r="2.7"/>
<circle cx="382.5" cy="666.4" r="2.7"/>
<circle cx="383.8" cy="801.7" r="2.7"/>
<circle cx="381.3" cy="747.2" r="2.7"/>
<circle cx="381.3" cy="673.4" r="2.7"/>
<circle cx="382.3" cy="627.3" r="2.7"/>
<circle cx="383.3" cy="758.2" r="2.7"/>
<circle cx="382.7" cy="686.8" r="2.7"/>
<circle cx="381.2" cy="794.2" r="2.7"/>
<circle cx="381.2" cy="653.5" r="2.7"/>
<circle cx="385" cy="785.2" r="2.7"/>
<circle cx="381.9" cy="688.8" r="2.7"/>
<circle cx="382.8" cy="627.8" r="2.7"/>
<circle cx="382.9" cy="664.8" r="2.7"/>
<circle cx="382.9" cy="630.5" r="2.7"/>
<circle cx="384.3" cy="756.6" r="2.7"/>
<circle cx="381.2" cy="636.3" r="2.7"/>
<circle cx="381.8" cy="625.4" r="2.7"/>
<circle cx="382" cy="763.9" r="2.7"/>
<circle cx="382.8" cy="698.2" r="2.7"/>
<circle cx="381.3" cy="649.9" r="2.7"/>
<circle cx="381.9" cy="735.1" r="2.7"/>
<circle cx="382" cy="636" r="2.7"/>
<circle cx="381.7" cy="664.8" r="2.7"/>
<circle cx="381.6" cy="796.6" r="2.7"/>
<circle cx="382.3" cy="780.5" r="2.7"/>
<circle cx="383.3" cy="653.7" r="2.7"/>
<circle cx="382.9" cy="734.8" r="2.7"/>
<circle cx="382.1" cy="633" r="2.7"/>
<circle cx="381.3" cy="662.7" r="2.7"/>
<circle cx="381.7" cy="759.4" r="2.7"/>
<circle cx="382.2" cy="627.9" r="2.7"/>
<circle cx="382.1" cy="631" r="2.7"/>
<circle cx="381.7" cy="727.1" r="2.7"/>
<circle cx="384.5" cy="684" r="2.7"/>
<circle cx="382.2" cy="705" r="2.7"/>
<circle cx="381.8" cy="722.1" r="2.7"/>
<circle cx="381.8" cy="643.1" r="2.7"/>
<circle cx="381.6" cy="784.9" r="2.7"/>
<circle cx="382.1" cy="649.8" r="2.7"/>
<circle cx="382" cy="753.1" r="2.7"/>
<circle cx="381.5" cy="792.7" r="2.7"/>
<circle cx="382.3" cy="780" r="2.7"/>
<circle cx="382.1" cy="633.6" r="2.7"/>
<circle cx="382.2" cy="621.4" r="2.7"/>
<circle cx="381.4" cy="746.6" r="2.7"/>
<circle cx="382" cy="662.4" r="2.7"/>
<circle cx="382.8" cy="669.3" r="2.7"/>
<circle cx="381.3" cy="647.1" r="2.7"/>
<circle cx="381.7" cy="657" r="2.7"/>
<circle cx="382.3" cy="719.3" r="2.7"/>
<circle cx="382.7" cy="666.8" r="2.7"/>
<circle cx="381.3" cy="786.6" r="2.7"/>
<circle cx="381.4" cy="664.7" r="2.7"/>
<circle cx="382" cy="697.9" r="2.7"/>
<circle cx="381.5" cy="683.4" r="2.7"/>
<circle cx="382.1" cy="721.7" r="2.7"/>
<circle cx="382.2" cy="781.6" r="2.7"/>
<circle cx="382.4" cy="798.4" r="2.7"/>
<circle cx="382.9" cy="724" r="2.7"/>
<circle cx="381.5" cy="640.5" r="2.7"/>
<circle cx="381.3" cy="785.2" r="2.7"/>
<circle cx="381.5" cy="745.9" r="2.7"/>
<circle cx="381.3" cy="733.7" r="2.7"/>
<circle cx="381.3" cy="704.8" r="2.7"/>
<circle cx="382.4" cy="802" r="2.7"/>
<circle cx="383.3" cy="628.2" r="2.7"/>
<circle cx="381.8" cy="783.3" r="2.7"/>
<circle cx="381.9" cy="752.7" r="2.7"/>
<circle cx="383.5" cy="786.1" r="2.7"/>
<circle cx="382.4" cy="680.2" r="2.7"/>
<circle cx="383.9" cy="777.9" r="2.7"/>
<circle cx="381.9" cy="692.5" r="2.7"/>
<circle cx="383.8" cy="721.8" r="2.7"/>
<circle cx="382.5" cy="731.6" r="2.7"/>
<circle cx="382.4" cy="728.6" r="2.7"/>
<circle cx="384" cy="629.2" r="2.7"/>
<circle cx="384.5" cy="779.5" r="2.7"/>
<circle cx="382.9" cy="751" r="2.7"/>
<circle cx="382.6" cy="723.3" r="2.7"/>
<circle cx="381.5" cy="696.9" r="2.7"/>
<circle cx="381.7" cy="755.1" r="2.7"/>
<circle cx="382.5" cy="619.7" r="2.7"/>
<circle cx="382.1" cy="657.4" r="2.7"/>
<circle cx="383.1" cy="745.4" r="2.7"/>
<circle cx="381.2" cy="787.1" r="2.7"/>
<circle cx="382.4" cy="662.2" r="2.7"/>
<circle cx="381.3" cy="741.6" r="2.7"/>
<circle cx="382.6" cy="652.2" r="2.7"/>
<circle cx="383.8" cy="738.2" r="2.7"/>
<circle cx="382.1" cy="697.2" r="2.7"/>
<circle cx="382" cy="739.3" r="2.7"/>
<circle cx="383.4" cy="651.4" r="2.7"/>
<circle cx="382.2" cy="786" r="2.7"/>
<circle cx="387.2" cy="678.1" r="2.7"/>
<circle cx="386.7" cy="718.1" r="2.7"/>
<circle cx="387.7" cy="735.1" r="2.7"/>
<circle cx="389.2" cy="752.1" r="2.7"/>
<circle cx="386.2" cy="800.1" r="2.7"/>
<circle cx="385.7" cy="660.1" r="2.7"/>
</g>
<line x1="399.8" y1="614.1" x2="399.8" y2="802.1" stroke="#000" stroke-width="1.2" stroke-dasharray="1.2 2"/>
<line x1="376.2" y1="601.1" x2="376.2" y2="614.1" class="k"/>
<line x1="423.5" y1="601.1" x2="423.5" y2="802.1" class="k"/>
<line x1="376.2" y1="614.1" x2="438.3" y2="614.1" class="k"/>
<line x1="376.2" y1="802.1" x2="438.3" y2="802.1" class="k"/>
<line x1="423.5" y1="708.4" x2="438.3" y2="708.4" class="k"/>
<text x="453.1" y="623.4">1000</text>
<text x="453.1" y="717.7">500</text>
<text x="453.1" y="811.4">0</text>
<line x1="157.6" y1="879.6" x2="330.3" y2="879.6" stroke="#000" stroke-width="1.2" stroke-dasharray="1.2 2"/>
<clipPath id="c2"><rect x="151.6" y="845.4" width="182.7" height="68.4"/></clipPath>
<g clip-path="url(#c2)">
<rect x="153.6" y="848.4" width="178.7" height="4" fill="#000"/>
<circle cx="166.9" cy="850.6" r="2.7"/>
<circle cx="175.6" cy="862" r="2.7"/>
<circle cx="183.3" cy="855.8" r="2.7"/>
<circle cx="186.1" cy="866.6" r="2.7"/>
<circle cx="191" cy="859.8" r="2.7"/>
<circle cx="193.8" cy="860.5" r="2.7"/>
<circle cx="192.6" cy="875.3" r="2.7"/>
<circle cx="203.1" cy="860.1" r="2.7"/>
<circle cx="208.6" cy="855.2" r="2.7"/>
<circle cx="222.5" cy="872.2" r="2.7"/>
<circle cx="227.8" cy="876.8" r="2.7"/>
<circle cx="248.2" cy="866.9" r="2.7"/>
<circle cx="251" cy="879.3" r="2.7"/>
<circle cx="259.6" cy="861.4" r="2.7"/>
<circle cx="267.7" cy="857.7" r="2.7"/>
<circle cx="275.7" cy="857.1" r="2.7"/>
<circle cx="283.4" cy="868.5" r="2.7"/>
<circle cx="293.6" cy="877.8" r="2.7"/>
<circle cx="299.8" cy="858.3" r="2.7"/>
<circle cx="306.9" cy="856.1" r="2.7"/>
<circle cx="314.4" cy="863.9" r="2.7"/>
<circle cx="316.8" cy="859.8" r="2.7"/>
<circle cx="319.9" cy="855.2" r="2.7"/>
<circle cx="323" cy="852.7" r="2.7"/>
</g>
<rect x="153.6" y="848.4" width="178.7" height="62.4" fill="none" stroke="#000" stroke-width="2.4"/>
<line x1="140.6" y1="848.4" x2="153.6" y2="848.4" class="k"/>
<text x="125.1" y="857.7" text-anchor="end">100</text>
<line x1="140.6" y1="910.8" x2="153.6" y2="910.8" class="k"/>
<text x="125.1" y="920.1" text-anchor="end">0</text>
<line x1="153.6" y1="910.8" x2="153.6" y2="923.8" class="k"/>
<line x1="283.4" y1="910.8" x2="283.4" y2="923.8" class="k"/>
<text x="153.6" y="956.1" text-anchor="middle">0</text>
<text x="283.4" y="956.1" text-anchor="middle">100</text>
<text transform="translate(39.1 879.6) rotate(-90)" text-anchor="middle">Cell</text>
<text transform="translate(65.1 879.6) rotate(-90)" text-anchor="middle">Consistency (%)</text>
<text x="242.6" y="993.3" text-anchor="middle">Cell (#)</text>
<line x1="399.8" y1="848.4" x2="399.8" y2="910.8" stroke="#000" stroke-width="1.2" stroke-dasharray="1.2 2"/>
<line x1="378.2" y1="879.6" x2="423.5" y2="879.6" stroke="#000" stroke-width="1.2" stroke-dasharray="1.2 2"/>
<line x1="376.2" y1="848.4" x2="376.2" y2="923.8" class="k"/>
<line x1="423.5" y1="848.4" x2="423.5" y2="923.8" class="k"/>
<line x1="376.2" y1="848.4" x2="438.3" y2="848.4" class="k"/>
<line x1="376.2" y1="910.8" x2="438.3" y2="910.8" class="k"/>
<text x="453.1" y="857.7">100</text>
<text x="453.1" y="920.1">0</text>
<text x="376.2" y="956.1" text-anchor="middle">100</text>
<text x="424.1" y="956.1" text-anchor="middle">0</text>
<line x1="377.7" y1="851.9" x2="377.7" y2="856.9" stroke="#000" stroke-width="1.6"/>
<line x1="374.7" y1="851.9" x2="380.7" y2="851.9" stroke="#000" stroke-width="1.6"/>
<line x1="374.7" y1="856.9" x2="380.7" y2="856.9" stroke="#000" stroke-width="1.6"/>
<g class="hm">
<rect x="675.5" y="614.1" width="178.7" height="188" fill="#0a9c9c"/>
<rect x="675.5" y="614.1" width="4.4" height="188" fill="#9e0a9e"/>
<rect x="679.9" y="614.1" width="8.9" height="188" fill="#9e0a9e"/>
<line x1="681.1" y1="614.1" x2="681.1" y2="802.1" stroke="#0a9c9c" stroke-width="2.3" stroke-dasharray="0 3.8 1.9 32.3 1.9 11.4 1.9 26.6 1.9 7.6 3.8 5.7 1.9 11.4 1.9 22.8 1.9 24.7 1.9 13.3 1.9 3.8 1.9 1.9"/>
<line x1="683.3" y1="614.1" x2="683.3" y2="802.1" stroke="#0a9c9c" stroke-width="2.3" stroke-dasharray="0 3.8 1.9 45.6 1.9 26.6 1.9 7.6 1.9 5.7 1.9 13.3 1.9 11.4 1.9 9.5 1.9 20.9 1.9 1.9 1.9 13.3 1.9 3.8 1.9 1.9"/>
<line x1="685.5" y1="614.1" x2="685.5" y2="802.1" stroke="#0a9c9c" stroke-width="2.3" stroke-dasharray="0 3.8 1.9 15.2 1.9 3.8 1.9 51.3 1.9 7.6 1.9 13.3 1.9 9.5 1.9 7.6 1.9 3.8 1.9 7.6 1.9 7.6 1.9 9.5 3.8 20.9 1.9 0"/>
<line x1="687.7" y1="614.1" x2="687.7" y2="802.1" stroke="#0a9c9c" stroke-width="2.3" stroke-dasharray="0 3.8 1.9 74.1 1.9 9.5 3.8 3.8 1.9 3.8 1.9 19 1.9 7.6 1.9 3.8 1.9 7.6 1.9 11.4 1.9 13.3 1.9 3.8 1.9 1.9"/>
<rect x="688.8" y="614.1" width="6.2" height="188" fill="#9e0a9e"/>
<rect x="695.1" y="614.1" width="3.6" height="188" fill="#9e0a9e"/>
<line x1="695.9" y1="614.1" x2="695.9" y2="802.1" stroke="#0a9c9c" stroke-width="1.8" stroke-dasharray="0 1.9 3.8 1.9 1.9 1.9 1.9 7.6 3.8 1.9 1.9 1.9 1.9 3.8 3.8 1.9 3.8 5.7 1.9 1.9 3.8 9.5 1.9 9.5 3.8 5.7 1.9 1.9 1.9 1.9 3.8 3.8 1.9 5.7 1.9 11.4 1.9 3.8 1.9 1.9 1.9 1.9 3.8 3.8 5.7 7.6 5.7 1.9 1.9 1.9 1.9 1.9 1.9 1.9 1.9 1.9 5.7 0"/>
<line x1="697.7" y1="614.1" x2="697.7" y2="802.1" stroke="#0a9c9c" stroke-width="1.8" stroke-dasharray="0 1.9 7.6 1.9 3.8 5.7 1.9 3.8 1.9 3.8 1.9 1.9 3.8 11.4 1.9 7.6 1.9 5.7 1.9 7.6 3.8 7.6 5.7 1.9 3.8 3.8 1.9 5.7 1.9 1.9 3.8 5.7 3.8 1.9 1.9 3.8 5.7 5.7 5.7 9.5 1.9 3.8 3.8 1.9 1.9 1.9 1.9 3.8 1.9 1.9"/>
<rect x="698.6" y="614.1" width="3.6" height="188" fill="#9e0a9e"/>
<rect x="702.2" y="614.1" width="2.7" height="188" fill="#9e0a9e"/>
<line x1="703.5" y1="614.1" x2="703.5" y2="802.1" stroke="#0a9c9c" stroke-width="2.7" stroke-dasharray="0 3.8 1.9 3.8 5.7 3.8 1.9 5.7 1.9 3.8 1.9 1.9 3.8 3.8 3.8 3.8 1.9 1.9 3.8 1.9 1.9 3.8 3.8 9.5 1.9 7.6 1.9 1.9 1.9 1.9 3.8 3.8 1.9 5.7 3.8 9.5 3.8 1.9 1.9 3.8 5.7 1.9 1.9 3.8 1.9 7.6 7.6 7.6 1.9 1.9 1.9 1.9 5.7 0"/>
<rect x="704.8" y="614.1" width="5.3" height="188" fill="#9e0a9e"/>
<line x1="705.7" y1="614.1" x2="705.7" y2="802.1" stroke="#0a9c9c" stroke-width="1.8" stroke-dasharray="0 3.8 1.9 45.6 1.9 26.6 1.9 7.6 1.9 13.3 1.9 77.9 1.9 1.9"/>
<line x1="707.5" y1="614.1" x2="707.5" y2="802.1" stroke="#0a9c9c" stroke-width="1.8" stroke-dasharray="0 38 1.9 39.9 1.9 11.4 1.9 3.8 1.9 30.4 1.9 17.1 1.9 26.6 1.9 7.6"/>
<line x1="709.3" y1="614.1" x2="709.3" y2="802.1" stroke="#0a9c9c" stroke-width="1.8" stroke-dasharray="0 3.8 1.9 91.2 1.9 13.3 1.9 11.4 1.9 57 1.9 1.9"/>
<rect x="713.7" y="614.1" width="2.1" height="188" fill="#9e0a9e"/>
<line x1="727.2" y1="614.1" x2="727.2" y2="802.1" stroke="#9e0a9e" stroke-width="2.2" stroke-dasharray="0 26.6 1.9 22.8 1.9 36.1 1.9 7.6 1.9 62.7 1.9 19 1.9 1.9"/>
<rect x="735.1" y="614.1" width="2.1" height="188" fill="#9e0a9e"/>
<line x1="738.2" y1="614.1" x2="738.2" y2="802.1" stroke="#9e0a9e" stroke-width="2.1" stroke-dasharray="1.9 1.9 3.8 13.3 1.9 3.8 1.9 7.6 7.6 1.9 1.9 1.9 3.8 1.9 3.8 7.6 1.9 9.5 3.8 1.9 1.9 3.8 5.7 1.9 3.8 3.8 1.9 5.7 1.9 11.4 3.8 1.9 1.9 3.8 5.7 3.8 7.6 5.7 7.6 1.9 3.8 9.5 5.7 0"/>
<line x1="740.2" y1="614.1" x2="740.2" y2="802.1" stroke="#9e0a9e" stroke-width="2.1" stroke-dasharray="0 3.8 1.9 5.7 3.8 5.7 3.8 1.9 1.9 3.8 1.9 1.9 3.8 1.9 1.9 7.6 1.9 3.8 1.9 1.9 3.8 15.2 1.9 11.4 1.9 1.9 3.8 3.8 1.9 5.7 1.9 1.9 1.9 7.6 3.8 1.9 1.9 1.9 1.9 1.9 3.8 1.9 1.9 1.9 3.8 9.5 3.8 5.7 3.8 9.5 3.8 0"/>
<line x1="742.2" y1="614.1" x2="742.2" y2="802.1" stroke="#9e0a9e" stroke-width="2.1" stroke-dasharray="15.2 3.8 3.8 3.8 1.9 1.9 3.8 1.9 3.8 1.9 5.7 3.8 1.9 13.3 1.9 11.4 1.9 1.9 1.9 3.8 11.4 3.8 1.9 3.8 3.8 1.9 1.9 7.6 7.6 1.9 7.6 1.9 1.9 3.8 3.8 5.7 11.4 1.9 3.8 1.9 1.9 1.9 5.7 0"/>
<line x1="744.3" y1="614.1" x2="744.3" y2="802.1" stroke="#9e0a9e" stroke-width="2.1" stroke-dasharray="0 1.9 7.6 1.9 5.7 5.7 1.9 1.9 1.9 1.9 1.9 3.8 3.8 3.8 3.8 3.8 1.9 1.9 1.9 11.4 1.9 7.6 7.6 3.8 5.7 1.9 3.8 3.8 1.9 1.9 5.7 1.9 3.8 5.7 7.6 1.9 7.6 5.7 5.7 1.9 1.9 1.9 5.7 1.9 5.7 5.7 1.9 1.9 5.7 0"/>
<line x1="746.3" y1="614.1" x2="746.3" y2="802.1" stroke="#9e0a9e" stroke-width="2.1" stroke-dasharray="0 1.9 7.6 1.9 3.8 5.7 1.9 3.8 1.9 3.8 3.8 1.9 1.9 1.9 1.9 1.9 1.9 3.8 1.9 3.8 1.9 3.8 1.9 3.8 1.9 9.5 3.8 5.7 5.7 1.9 3.8 1.9 3.8 1.9 5.7 1.9 1.9 7.6 7.6 3.8 5.7 5.7 3.8 7.6 13.3 11.4 1.9 1.9"/>
<line x1="748.3" y1="614.1" x2="748.3" y2="802.1" stroke="#9e0a9e" stroke-width="2.1" stroke-dasharray="1.9 1.9 5.7 1.9 3.8 3.8 5.7 1.9 1.9 3.8 1.9 1.9 3.8 5.7 1.9 3.8 1.9 3.8 1.9 1.9 3.8 1.9 1.9 9.5 3.8 7.6 5.7 1.9 3.8 3.8 1.9 5.7 1.9 1.9 1.9 7.6 1.9 3.8 1.9 1.9 3.8 1.9 1.9 7.6 3.8 7.6 3.8 1.9 1.9 3.8 1.9 3.8 1.9 3.8 3.8 0"/>
<rect x="749.3" y="614.1" width="3.6" height="188" fill="#9e0a9e"/>
<rect x="760" y="614.1" width="4.4" height="188" fill="#9e0a9e"/>
<rect x="764.4" y="614.1" width="4.4" height="188" fill="#9e0a9e"/>
<line x1="765.5" y1="614.1" x2="765.5" y2="802.1" stroke="#0a9c9c" stroke-width="2.3" stroke-dasharray="5.7 1.9 1.9 1.9 1.9 3.8 7.6 1.9 1.9 7.6 3.8 1.9 3.8 5.7 3.8 1.9 1.9 1.9 1.9 5.7 1.9 3.8 1.9 1.9 5.7 3.8 7.6 1.9 19 9.5 1.9 3.8 1.9 1.9 7.6 5.7 5.7 5.7 5.7 1.9 5.7 1.9 1.9 1.9 1.9 3.8 3.8 0"/>
<line x1="767.7" y1="614.1" x2="767.7" y2="802.1" stroke="#0a9c9c" stroke-width="2.3" stroke-dasharray="1.9 1.9 5.7 1.9 13.3 1.9 1.9 3.8 1.9 1.9 3.8 1.9 3.8 5.7 1.9 1.9 3.8 1.9 3.8 13.3 7.6 3.8 5.7 1.9 9.5 1.9 1.9 1.9 1.9 1.9 3.8 5.7 3.8 1.9 1.9 1.9 7.6 5.7 5.7 5.7 11.4 1.9 3.8 1.9 1.9 3.8 3.8 0"/>
<rect x="768.9" y="614.1" width="7.1" height="188" fill="#9e0a9e"/>
<line x1="777.3" y1="614.1" x2="777.3" y2="802.1" stroke="#9e0a9e" stroke-width="2.7" stroke-dasharray="0 3.8 1.9 1.9 1.9 1.9 1.9 5.7 1.9 5.7 1.9 3.8 1.9 1.9 3.8 11.4 1.9 13.3 3.8 7.6 3.8 1.9 1.9 3.8 5.7 1.9 3.8 1.9 3.8 3.8 3.8 11.4 7.6 5.7 3.8 7.6 3.8 5.7 5.7 7.6 1.9 3.8 1.9 1.9 3.8 1.9"/>
<rect x="778.6" y="614.1" width="7.1" height="188" fill="#9e0a9e"/>
<rect x="788.8" y="614.1" width="8.5" height="188" fill="#9e0a9e"/>
<line x1="789.8" y1="614.1" x2="789.8" y2="802.1" stroke="#0a9c9c" stroke-width="2.2" stroke-dasharray="0 3.8 1.9 5.7 3.8 5.7 1.9 3.8 1.9 3.8 1.9 1.9 1.9 3.8 1.9 36.1 1.9 11.4 1.9 1.9 1.9 5.7 1.9 5.7 1.9 1.9 1.9 13.3 1.9 11.4 1.9 1.9 1.9 9.5 5.7 19 3.8 0"/>
<line x1="792" y1="614.1" x2="792" y2="802.1" stroke="#0a9c9c" stroke-width="2.2" stroke-dasharray="0 1.9 3.8 13.3 1.9 15.2 3.8 1.9 1.9 7.6 1.9 1.9 1.9 22.8 1.9 7.6 1.9 1.9 1.9 1.9 1.9 5.7 1.9 19 3.8 11.4 1.9 7.6 1.9 7.6 5.7 9.5 1.9 7.6 1.9 1.9"/>
<line x1="794.1" y1="614.1" x2="794.1" y2="802.1" stroke="#0a9c9c" stroke-width="2.2" stroke-dasharray="0 3.8 1.9 1.9 1.9 3.8 1.9 11.4 1.9 22.8 1.9 1.9 1.9 22.8 1.9 7.6 5.7 1.9 3.8 3.8 1.9 5.7 1.9 17.1 1.9 7.6 1.9 7.6 1.9 11.4 1.9 3.8 1.9 3.8 1.9 1.9 1.9 3.8 1.9 1.9"/>
<line x1="796.2" y1="614.1" x2="796.2" y2="802.1" stroke="#0a9c9c" stroke-width="2.2" stroke-dasharray="0 3.8 1.9 1.9 1.9 17.1 1.9 7.6 1.9 7.6 1.9 3.8 1.9 9.5 1.9 15.2 1.9 1.9 1.9 3.8 1.9 1.9 1.9 1.9 3.8 3.8 1.9 5.7 1.9 1.9 1.9 7.6 1.9 1.9 3.8 15.2 5.7 7.6 5.7 1.9 1.9 3.8 1.9 7.6 3.8 0"/>
<rect x="802.6" y="614.1" width="5.3" height="188" fill="#9e0a9e"/>
<line x1="803.5" y1="614.1" x2="803.5" y2="802.1" stroke="#0a9c9c" stroke-width="1.8" stroke-dasharray="0 1.9 3.8 1.9 1.9 1.9 1.9 5.7 3.8 3.8 1.9 3.8 1.9 3.8 1.9 1.9 5.7 3.8 1.9 1.9 1.9 3.8 3.8 1.9 3.8 7.6 3.8 7.6 1.9 1.9 1.9 1.9 3.8 3.8 1.9 3.8 3.8 1.9 1.9 7.6 3.8 1.9 1.9 1.9 3.8 1.9 1.9 7.6 3.8 5.7 5.7 1.9 1.9 1.9 1.9 1.9 1.9 1.9 1.9 3.8 1.9 1.9"/>
<line x1="805.3" y1="614.1" x2="805.3" y2="802.1" stroke="#0a9c9c" stroke-width="1.8" stroke-dasharray="0 3.8 1.9 5.7 1.9 5.7 1.9 5.7 1.9 7.6 3.8 11.4 1.9 15.2 1.9 9.5 1.9 7.6 5.7 1.9 3.8 3.8 1.9 3.8 3.8 1.9 1.9 7.6 1.9 3.8 1.9 1.9 3.8 9.5 5.7 7.6 3.8 1.9 3.8 7.6 1.9 7.6"/>
<line x1="807.1" y1="614.1" x2="807.1" y2="802.1" stroke="#0a9c9c" stroke-width="1.8" stroke-dasharray="0 1.9 3.8 1.9 1.9 1.9 1.9 7.6 3.8 1.9 1.9 3.8 1.9 1.9 3.8 3.8 3.8 3.8 1.9 7.6 1.9 3.8 1.9 11.4 1.9 7.6 5.7 1.9 3.8 3.8 1.9 1.9 11.4 5.7 3.8 1.9 1.9 1.9 7.6 3.8 7.6 1.9 1.9 1.9 9.5 1.9 1.9 5.7 1.9 3.8 3.8 0"/>
<line x1="808.9" y1="614.1" x2="808.9" y2="802.1" stroke="#9e0a9e" stroke-width="1.8" stroke-dasharray="0 1.9 3.8 20.9 1.9 3.8 1.9 17.1 1.9 13.3 1.9 20.9 5.7 1.9 1.9 13.3 1.9 11.4 1.9 1.9 3.8 15.2 5.7 5.7 5.7 22.8"/>
<line x1="810.6" y1="614.1" x2="810.6" y2="802.1" stroke="#9e0a9e" stroke-width="1.8" stroke-dasharray="0 51.3 1.9 7.6 1.9 17.1 1.9 7.6 1.9 1.9 1.9 1.9 3.8 3.8 1.9 5.7 1.9 11.4 3.8 1.9 1.9 1.9 1.9 3.8 1.9 9.5 1.9 5.7 1.9 22.8 1.9 1.9"/>
<line x1="812.4" y1="614.1" x2="812.4" y2="802.1" stroke="#9e0a9e" stroke-width="1.8" stroke-dasharray="0 1.9 1.9 9.5 1.9 5.7 1.9 3.8 1.9 3.8 1.9 3.8 1.9 11.4 1.9 26.6 1.9 11.4 1.9 17.1 1.9 1.9 1.9 13.3 1.9 7.6 1.9 17.1 1.9 1.9 1.9 5.7 1.9 11.4 1.9 1.9"/>
<rect x="813.3" y="614.1" width="5.3" height="188" fill="#9e0a9e"/>
<line x1="819.6" y1="614.1" x2="819.6" y2="802.1" stroke="#9e0a9e" stroke-width="2.1" stroke-dasharray="0 3.8 1.9 1.9 1.9 1.9 1.9 7.6 3.8 1.9 1.9 7.6 3.8 11.4 1.9 7.6 3.8 1.9 1.9 11.4 1.9 1.9 1.9 3.8 1.9 1.9 1.9 1.9 3.8 3.8 1.9 5.7 1.9 11.4 1.9 3.8 1.9 3.8 5.7 7.6 3.8 5.7 1.9 1.9 1.9 1.9 3.8 7.6 1.9 5.7 1.9 0"/>
<line x1="821.6" y1="614.1" x2="821.6" y2="802.1" stroke="#9e0a9e" stroke-width="2.1" stroke-dasharray="1.9 1.9 1.9 1.9 1.9 1.9 3.8 5.7 3.8 1.9 1.9 1.9 3.8 3.8 1.9 5.7 1.9 3.8 7.6 1.9 1.9 3.8 1.9 1.9 1.9 5.7 3.8 7.6 5.7 1.9 3.8 3.8 1.9 5.7 1.9 1.9 3.8 5.7 7.6 1.9 7.6 3.8 1.9 1.9 3.8 7.6 3.8 3.8 1.9 1.9 3.8 1.9 1.9 3.8 3.8 0"/>
<line x1="823.6" y1="614.1" x2="823.6" y2="802.1" stroke="#9e0a9e" stroke-width="2.1" stroke-dasharray="0 1.9 7.6 1.9 1.9 5.7 1.9 5.7 1.9 7.6 1.9 7.6 1.9 3.8 1.9 7.6 1.9 15.2 3.8 7.6 5.7 1.9 3.8 3.8 1.9 3.8 3.8 3.8 1.9 5.7 7.6 1.9 3.8 5.7 1.9 3.8 3.8 5.7 3.8 1.9 1.9 5.7 1.9 3.8 1.9 3.8 3.8 0"/>
<line x1="825.6" y1="614.1" x2="825.6" y2="802.1" stroke="#9e0a9e" stroke-width="2.1" stroke-dasharray="0 1.9 5.7 5.7 1.9 3.8 3.8 3.8 1.9 1.9 1.9 5.7 1.9 3.8 1.9 5.7 1.9 1.9 3.8 7.6 3.8 7.6 3.8 7.6 5.7 1.9 3.8 3.8 1.9 3.8 7.6 7.6 7.6 1.9 7.6 3.8 5.7 7.6 9.5 5.7 1.9 1.9 1.9 3.8 3.8 0"/>
<line x1="827.6" y1="614.1" x2="827.6" y2="802.1" stroke="#9e0a9e" stroke-width="2.1" stroke-dasharray="0 1.9 3.8 1.9 1.9 5.7 1.9 1.9 5.7 1.9 1.9 3.8 1.9 3.8 1.9 1.9 1.9 7.6 3.8 1.9 1.9 7.6 1.9 1.9 1.9 1.9 1.9 1.9 7.6 3.8 5.7 1.9 3.8 3.8 1.9 5.7 1.9 1.9 3.8 5.7 3.8 1.9 1.9 1.9 7.6 3.8 5.7 7.6 5.7 9.5 1.9 1.9 1.9 3.8 3.8 0"/>
<line x1="829.6" y1="614.1" x2="829.6" y2="802.1" stroke="#9e0a9e" stroke-width="2.1" stroke-dasharray="0 3.8 5.7 1.9 1.9 1.9 1.9 1.9 1.9 5.7 1.9 7.6 3.8 3.8 1.9 5.7 1.9 1.9 3.8 9.5 3.8 5.7 3.8 7.6 5.7 1.9 3.8 3.8 3.8 3.8 1.9 11.4 3.8 1.9 1.9 3.8 3.8 9.5 3.8 7.6 3.8 1.9 1.9 9.5 1.9 3.8 3.8 0"/>
<line x1="831.6" y1="614.1" x2="831.6" y2="802.1" stroke="#9e0a9e" stroke-width="2.1" stroke-dasharray="0 1.9 7.6 9.5 1.9 5.7 1.9 7.6 3.8 1.9 1.9 7.6 1.9 1.9 1.9 3.8 1.9 11.4 1.9 3.8 1.9 7.6 5.7 1.9 3.8 3.8 1.9 5.7 1.9 13.3 1.9 1.9 1.9 3.8 3.8 9.5 3.8 5.7 5.7 19 3.8 0"/>
<line x1="833.6" y1="614.1" x2="833.6" y2="802.1" stroke="#9e0a9e" stroke-width="2.1" stroke-dasharray="0 1.9 3.8 5.7 3.8 3.8 1.9 5.7 1.9 9.5 1.9 1.9 3.8 5.7 1.9 7.6 1.9 5.7 3.8 5.7 3.8 7.6 1.9 1.9 1.9 1.9 3.8 11.4 1.9 1.9 3.8 5.7 1.9 7.6 1.9 1.9 3.8 7.6 1.9 7.6 1.9 1.9 5.7 15.2 1.9 1.9"/>
<rect x="834.6" y="614.1" width="3.6" height="188" fill="#9e0a9e"/>
<rect x="840" y="614.1" width="11.6" height="188" fill="#9e0a9e"/>
<line x1="840.9" y1="614.1" x2="840.9" y2="802.1" stroke="#0a9c9c" stroke-width="2" stroke-dasharray="0 3.8 1.9 26.6 1.9 3.8 1.9 39.9 1.9 15.2 1.9 5.7 1.9 5.7 1.9 17.1 1.9 28.5 3.8 19 1.9 1.9"/>
<line x1="842.9" y1="614.1" x2="842.9" y2="802.1" stroke="#0a9c9c" stroke-width="2" stroke-dasharray="0 3.8 1.9 32.3 1.9 39.9 1.9 7.6 1.9 1.9 1.9 9.5 1.9 34.2 1.9 45.6"/>
<line x1="844.8" y1="614.1" x2="844.8" y2="802.1" stroke="#0a9c9c" stroke-width="2" stroke-dasharray="0 3.8 1.9 32.3 1.9 39.9 1.9 7.6 1.9 58.9 1.9 26.6 1.9 3.8 1.9 1.9"/>
<line x1="846.7" y1="614.1" x2="846.7" y2="802.1" stroke="#0a9c9c" stroke-width="2" stroke-dasharray="0 26.6 1.9 51.3 1.9 30.4 1.9 11.4 1.9 3.8 1.9 7.6 1.9 7.6 1.9 9.5 3.8 19 1.9 1.9"/>
<line x1="848.6" y1="614.1" x2="848.6" y2="802.1" stroke="#0a9c9c" stroke-width="2" stroke-dasharray="0 26.6 1.9 64.6 1.9 1.9 3.8 24.7 1.9 3.8 1.9 3.8 1.9 20.9 1.9 1.9 1.9 13.3 1.9 7.6"/>
<line x1="850.6" y1="614.1" x2="850.6" y2="802.1" stroke="#0a9c9c" stroke-width="2" stroke-dasharray="0 3.8 1.9 15.2 1.9 15.2 1.9 51.3 3.8 17.1 1.9 11.4 1.9 3.8 1.9 17.1 1.9 32.3 1.9 1.9"/>
</g>
<rect x="675.5" y="614.1" width="178.7" height="188" fill="none" stroke="#000" stroke-width="2.4"/>
<line x1="662.5" y1="614.1" x2="675.5" y2="614.1" class="k"/>
<text x="647" y="623.4" text-anchor="end">1000</text>
<line x1="662.5" y1="708.4" x2="675.5" y2="708.4" class="k"/>
<text x="647" y="717.7" text-anchor="end">500</text>
<text transform="translate(580.9 692.6) rotate(-90)" text-anchor="middle">Iteration (#)</text>
<text x="764.5" y="572.9" text-anchor="middle">Cell (#)</text>
<text x="922.2" y="523.3" text-anchor="middle">Iteration</text>
<text x="922.2" y="548.5" text-anchor="middle">Consistency (%)</text>
<text x="898.1" y="582.1" text-anchor="middle">100</text>
<text x="946" y="582.1" text-anchor="middle">0</text>
<clipPath id="c3"><rect x="895.1" y="612.1" width="53.3" height="192"/></clipPath>
<g clip-path="url(#c3)">
<rect x="895.9" y="612.1" width="15.7" height="192" fill="#000"/>
<circle cx="912.6" cy="703.3" r="2.7"/>
<circle cx="913.7" cy="640.9" r="2.7"/>
<circle cx="912" cy="616.1" r="2.7"/>
<circle cx="912" cy="766.4" r="2.7"/>
<circle cx="913.2" cy="743.9" r="2.7"/>
<circle cx="912.5" cy="738.4" r="2.7"/>
<circle cx="912" cy="641.4" r="2.7"/>
<circle cx="911.1" cy="784.4" r="2.7"/>
<circle cx="911" cy="625.2" r="2.7"/>
<circle cx="911.5" cy="743.2" r="2.7"/>
<circle cx="914.6" cy="677.5" r="2.7"/>
<circle cx="913.3" cy="617.6" r="2.7"/>
<circle cx="913.2" cy="625.5" r="2.7"/>
<circle cx="912.1" cy="631.2" r="2.7"/>
<circle cx="911.8" cy="799.7" r="2.7"/>
<circle cx="911" cy="693.7" r="2.7"/>
<circle cx="911.9" cy="639.5" r="2.7"/>
<circle cx="913.8" cy="644.8" r="2.7"/>
<circle cx="912.1" cy="745.1" r="2.7"/>
<circle cx="911.1" cy="767.5" r="2.7"/>
<circle cx="913.5" cy="689.4" r="2.7"/>
<circle cx="912.2" cy="703.7" r="2.7"/>
<circle cx="914.6" cy="686.4" r="2.7"/>
<circle cx="911.4" cy="796" r="2.7"/>
<circle cx="911.8" cy="797.6" r="2.7"/>
<circle cx="912.6" cy="682.4" r="2.7"/>
<circle cx="911.2" cy="743.8" r="2.7"/>
<circle cx="911.7" cy="658.3" r="2.7"/>
<circle cx="915.1" cy="682.4" r="2.7"/>
<circle cx="910.9" cy="708.1" r="2.7"/>
<circle cx="911.8" cy="619.4" r="2.7"/>
<circle cx="913" cy="711.7" r="2.7"/>
<circle cx="912.8" cy="655.9" r="2.7"/>
<circle cx="911.7" cy="759.2" r="2.7"/>
<circle cx="912.1" cy="633.4" r="2.7"/>
<circle cx="911.1" cy="744.9" r="2.7"/>
<circle cx="911" cy="621" r="2.7"/>
<circle cx="912.9" cy="733.8" r="2.7"/>
<circle cx="912.3" cy="623.9" r="2.7"/>
<circle cx="911" cy="667.1" r="2.7"/>
<circle cx="913.4" cy="703.6" r="2.7"/>
<circle cx="911.3" cy="793.8" r="2.7"/>
<circle cx="912.7" cy="645.6" r="2.7"/>
<circle cx="911.7" cy="649.7" r="2.7"/>
<circle cx="910.8" cy="754.8" r="2.7"/>
<circle cx="910.8" cy="664.5" r="2.7"/>
<circle cx="911.6" cy="759" r="2.7"/>
<circle cx="912.2" cy="615.7" r="2.7"/>
<circle cx="915.9" cy="621.6" r="2.7"/>
<circle cx="915.5" cy="801.8" r="2.7"/>
<circle cx="912.8" cy="708.8" r="2.7"/>
<circle cx="910.9" cy="762.1" r="2.7"/>
<circle cx="911.8" cy="770.5" r="2.7"/>
<circle cx="912" cy="713.2" r="2.7"/>
<circle cx="912" cy="703.8" r="2.7"/>
<circle cx="912" cy="792.1" r="2.7"/>
<circle cx="911.7" cy="782.2" r="2.7"/>
<circle cx="912.4" cy="778.3" r="2.7"/>
<circle cx="913.4" cy="666.4" r="2.7"/>
<circle cx="911.6" cy="744.9" r="2.7"/>
<circle cx="911.1" cy="746.6" r="2.7"/>
<circle cx="912.6" cy="662" r="2.7"/>
<circle cx="911.1" cy="742.6" r="2.7"/>
<circle cx="911.8" cy="780.8" r="2.7"/>
<circle cx="910.7" cy="693.1" r="2.7"/>
<circle cx="913.3" cy="798.2" r="2.7"/>
<circle cx="914.6" cy="719.4" r="2.7"/>
<circle cx="914.6" cy="795" r="2.7"/>
<circle cx="913.5" cy="757.1" r="2.7"/>
<circle cx="912.2" cy="783.5" r="2.7"/>
<circle cx="912.6" cy="762.5" r="2.7"/>
<circle cx="911.7" cy="683.4" r="2.7"/>
<circle cx="911" cy="752.4" r="2.7"/>
<circle cx="910.8" cy="747.6" r="2.7"/>
<circle cx="912.2" cy="784" r="2.7"/>
<circle cx="915.7" cy="785.3" r="2.7"/>
<circle cx="911.2" cy="714.7" r="2.7"/>
<circle cx="913" cy="632.6" r="2.7"/>
<circle cx="912.8" cy="680.5" r="2.7"/>
<circle cx="916" cy="743.7" r="2.7"/>
<circle cx="911.5" cy="715.9" r="2.7"/>
<circle cx="911.5" cy="714.5" r="2.7"/>
<circle cx="912.1" cy="745.8" r="2.7"/>
<circle cx="911.8" cy="690.6" r="2.7"/>
<circle cx="911.1" cy="674.9" r="2.7"/>
<circle cx="911.9" cy="631.1" r="2.7"/>
<circle cx="912" cy="672.8" r="2.7"/>
<circle cx="914.6" cy="738.1" r="2.7"/>
<circle cx="911" cy="789.8" r="2.7"/>
<circle cx="911.1" cy="705.8" r="2.7"/>
<circle cx="912.2" cy="697.5" r="2.7"/>
<circle cx="914" cy="678.3" r="2.7"/>
<circle cx="913.4" cy="658.9" r="2.7"/>
<circle cx="915.9" cy="615.6" r="2.7"/>
<circle cx="910.9" cy="681.8" r="2.7"/>
<circle cx="912.2" cy="695.4" r="2.7"/>
<circle cx="913.2" cy="655.5" r="2.7"/>
<circle cx="912" cy="745.3" r="2.7"/>
<circle cx="913.9" cy="644.6" r="2.7"/>
<circle cx="911.4" cy="772.6" r="2.7"/>
<circle cx="915.4" cy="661.1" r="2.7"/>
<circle cx="911.8" cy="770.5" r="2.7"/>
<circle cx="914.7" cy="656.9" r="2.7"/>
<circle cx="911.6" cy="688.4" r="2.7"/>
<circle cx="914.1" cy="740.7" r="2.7"/>
<circle cx="916.3" cy="718.2" r="2.7"/>
<circle cx="913" cy="742.1" r="2.7"/>
<circle cx="913.9" cy="674.7" r="2.7"/>
<circle cx="912" cy="708.1" r="2.7"/>
<circle cx="912.2" cy="639.7" r="2.7"/>
<circle cx="912.4" cy="656.5" r="2.7"/>
<circle cx="911.1" cy="622.7" r="2.7"/>
<circle cx="911.9" cy="765.2" r="2.7"/>
<circle cx="916.3" cy="726.7" r="2.7"/>
<circle cx="914.3" cy="687.2" r="2.7"/>
<circle cx="914.4" cy="674.4" r="2.7"/>
<circle cx="913.6" cy="637.8" r="2.7"/>
<circle cx="914.3" cy="728.5" r="2.7"/>
<circle cx="913.6" cy="761.6" r="2.7"/>
<circle cx="912.4" cy="663.6" r="2.7"/>
<circle cx="912.4" cy="690.6" r="2.7"/>
<circle cx="912.3" cy="689.2" r="2.7"/>
<circle cx="911.4" cy="765.9" r="2.7"/>
<circle cx="912.1" cy="662" r="2.7"/>
<circle cx="911.4" cy="796.7" r="2.7"/>
<circle cx="910.7" cy="771.2" r="2.7"/>
<circle cx="911.6" cy="778.3" r="2.7"/>
<circle cx="912.7" cy="752.2" r="2.7"/>
<circle cx="913.9" cy="671.5" r="2.7"/>
<circle cx="914.4" cy="770.7" r="2.7"/>
<circle cx="916.1" cy="627.1" r="2.7"/>
<circle cx="915.1" cy="641.1" r="2.7"/>
<circle cx="917.1" cy="663.1" r="2.7"/>
<circle cx="916.6" cy="686.1" r="2.7"/>
<circle cx="915.1" cy="736.1" r="2.7"/>
<circle cx="916.1" cy="746.1" r="2.7"/>
<circle cx="915.1" cy="779.1" r="2.7"/>
<circle cx="914.1" cy="792.1" r="2.7"/>
</g>
<line x1="921.8" y1="614.1" x2="921.8" y2="802.1" stroke="#000" stroke-width="1.2" stroke-dasharray="1.2 2"/>
<line x1="898.1" y1="601.1" x2="898.1" y2="614.1" class="k"/>
<line x1="945.4" y1="601.1" x2="945.4" y2="802.1" class="k"/>
<line x1="898.1" y1="614.1" x2="960.2" y2="614.1" class="k"/>
<line x1="898.1" y1="802.1" x2="960.2" y2="802.1" class="k"/>
<line x1="945.4" y1="708.4" x2="960.2" y2="708.4" class="k"/>
<text x="975" y="623.4">1000</text>
<text x="975" y="717.7">500</text>
<text x="975" y="811.4">0</text>
<line x1="679.5" y1="879.6" x2="852.2" y2="879.6" stroke="#000" stroke-width="1.2" stroke-dasharray="1.2 2"/>
<clipPath id="c4"><rect x="673.5" y="845.4" width="182.7" height="68.4"/></clipPath>
<g clip-path="url(#c4)">
<rect x="675.5" y="848.4" width="178.7" height="2.8" fill="#000"/>
<circle cx="679.2" cy="856.7" r="2.7"/>
<circle cx="681.7" cy="866" r="2.7"/>
<circle cx="685.4" cy="869.7" r="2.7"/>
<circle cx="687.9" cy="859.2" r="2.7"/>
<circle cx="691.9" cy="855.8" r="2.7"/>
<circle cx="695.6" cy="877.8" r="2.7"/>
<circle cx="701.8" cy="870.7" r="2.7"/>
<circle cx="708" cy="860.8" r="2.7"/>
<circle cx="726.5" cy="857.7" r="2.7"/>
<circle cx="741" cy="874.7" r="2.7"/>
<circle cx="744.8" cy="874.1" r="2.7"/>
<circle cx="750.3" cy="855.8" r="2.7"/>
<circle cx="759" cy="858.3" r="2.7"/>
<circle cx="765.2" cy="873.1" r="2.7"/>
<circle cx="771.3" cy="855.8" r="2.7"/>
<circle cx="777.5" cy="865.7" r="2.7"/>
<circle cx="783.7" cy="868.5" r="2.7"/>
<circle cx="792.1" cy="877.5" r="2.7"/>
<circle cx="796.1" cy="870" r="2.7"/>
<circle cx="808.1" cy="853.7" r="2.7"/>
<circle cx="812.1" cy="872.2" r="2.7"/>
<circle cx="820.5" cy="872.8" r="2.7"/>
<circle cx="822.3" cy="876.8" r="2.7"/>
<circle cx="828.2" cy="870.7" r="2.7"/>
<circle cx="830.7" cy="871.6" r="2.7"/>
<circle cx="842.4" cy="864.5" r="2.7"/>
<circle cx="845.5" cy="860.1" r="2.7"/>
<circle cx="850.2" cy="862.9" r="2.7"/>
<circle cx="683.8" cy="851.5" r="2.7"/>
<circle cx="705.5" cy="851.5" r="2.7"/>
<circle cx="736.4" cy="852.1" r="2.7"/>
<circle cx="747.2" cy="852.7" r="2.7"/>
<circle cx="758" cy="851.5" r="2.7"/>
<circle cx="793.6" cy="851.5" r="2.7"/>
<circle cx="816.8" cy="851.5" r="2.7"/>
<circle cx="826.1" cy="850.9" r="2.7"/>
<circle cx="840" cy="850.9" r="2.7"/>
</g>
<rect x="675.5" y="848.4" width="178.7" height="62.4" fill="none" stroke="#000" stroke-width="2.4"/>
<line x1="662.5" y1="848.4" x2="675.5" y2="848.4" class="k"/>
<text x="647" y="857.7" text-anchor="end">100</text>
<line x1="662.5" y1="910.8" x2="675.5" y2="910.8" class="k"/>
<text x="647" y="920.1" text-anchor="end">0</text>
<line x1="675.5" y1="910.8" x2="675.5" y2="923.8" class="k"/>
<line x1="777.2" y1="910.8" x2="777.2" y2="923.8" class="k"/>
<text x="675.5" y="956.1" text-anchor="middle">0</text>
<text x="777.2" y="956.1" text-anchor="middle">50</text>
<text transform="translate(561 879.6) rotate(-90)" text-anchor="middle">Cell</text>
<text transform="translate(587 879.6) rotate(-90)" text-anchor="middle">Consistency (%)</text>
<text x="764.5" y="993.3" text-anchor="middle">Cell (#)</text>
<line x1="921.8" y1="848.4" x2="921.8" y2="910.8" stroke="#000" stroke-width="1.2" stroke-dasharray="1.2 2"/>
<line x1="900.1" y1="879.6" x2="945.4" y2="879.6" stroke="#000" stroke-width="1.2" stroke-dasharray="1.2 2"/>
<line x1="898.1" y1="848.4" x2="898.1" y2="923.8" class="k"/>
<line x1="945.4" y1="848.4" x2="945.4" y2="923.8" class="k"/>
<line x1="898.1" y1="848.4" x2="960.2" y2="848.4" class="k"/>
<line x1="898.1" y1="910.8" x2="960.2" y2="910.8" class="k"/>
<text x="975" y="857.7">100</text>
<text x="975" y="920.1">0</text>
<text x="898.1" y="956.1" text-anchor="middle">100</text>
<text x="946" y="956.1" text-anchor="middle">0</text>
<line x1="903.4" y1="850.9" x2="903.4" y2="862.9" stroke="#000" stroke-width="1.6"/>
<line x1="900.4" y1="850.9" x2="906.4" y2="850.9" stroke="#000" stroke-width="1.6"/>
<line x1="900.4" y1="862.9" x2="906.4" y2="862.9" stroke="#000" stroke-width="1.6"/>
<g class="hm">
<rect x="1197.7" y="614.1" width="178.7" height="188" fill="#0a9c9c"/>
<rect x="1200.4" y="614.1" width="5" height="188" fill="#9e0a9e"/>
<line x1="1206.3" y1="614.1" x2="1206.3" y2="802.1" stroke="#9e0a9e" stroke-width="2" stroke-dasharray="0 5.7 1.9 26.6 1.9 1.9 1.9 9.5 1.9 49.4 1.9 13.3 1.9 1.9 1.9 11.4 1.9 41.8 1.9 9.5"/>
<line x1="1208.3" y1="614.1" x2="1208.3" y2="802.1" stroke="#9e0a9e" stroke-width="2" stroke-dasharray="0 34.2 1.9 1.9 1.9 11.4 1.9 7.6 1.9 13.3 1.9 9.5 1.9 5.7 1.9 5.7 1.9 7.6 1.9 5.7 1.9 1.9 1.9 20.9 1.9 38 1.9 0"/>
<line x1="1210.2" y1="614.1" x2="1210.2" y2="802.1" stroke="#9e0a9e" stroke-width="2" stroke-dasharray="0 5.7 1.9 3.8 1.9 24.7 1.9 11.4 1.9 15.2 1.9 17.1 1.9 5.7 1.9 3.8 1.9 17.1 1.9 20.9 1.9 1.9 1.9 39.9"/>
<line x1="1212.2" y1="614.1" x2="1212.2" y2="802.1" stroke="#9e0a9e" stroke-width="2" stroke-dasharray="0 51.3 1.9 7.6 1.9 38 3.8 15.2 1.9 1.9 1.9 7.6 1.9 7.6 1.9 19 1.9 3.8 3.8 3.8 1.9 7.6 1.9 0"/>
<line x1="1214.1" y1="614.1" x2="1214.1" y2="802.1" stroke="#9e0a9e" stroke-width="2" stroke-dasharray="0 5.7 1.9 41.8 1.9 9.5 1.9 5.7 3.8 39.9 1.9 9.5 1.9 17.1 1.9 1.9 1.9 22.8 1.9 3.8 1.9 9.5"/>
<line x1="1216.1" y1="614.1" x2="1216.1" y2="802.1" stroke="#9e0a9e" stroke-width="2" stroke-dasharray="0 5.7 1.9 1.9 1.9 49.4 1.9 7.6 1.9 3.8 1.9 9.5 1.9 13.3 1.9 7.6 1.9 1.9 3.8 13.3 1.9 11.4 1.9 20.9 1.9 5.7 1.9 9.5"/>
<line x1="1218.1" y1="614.1" x2="1218.1" y2="802.1" stroke="#9e0a9e" stroke-width="2" stroke-dasharray="0 11.4 1.9 20.9 1.9 13.3 3.8 7.6 1.9 7.6 1.9 15.2 1.9 3.8 3.8 3.8 1.9 9.5 1.9 9.5 1.9 43.7 1.9 5.7 1.9 9.5"/>
<rect x="1219" y="614.1" width="4.4" height="188" fill="#9e0a9e"/>
<line x1="1220.1" y1="614.1" x2="1220.1" y2="802.1" stroke="#0a9c9c" stroke-width="2.3" stroke-dasharray="0 5.7 7.6 9.5 1.9 3.8 1.9 3.8 1.9 1.9 1.9 1.9 1.9 5.7 3.8 5.7 5.7 3.8 3.8 3.8 1.9 5.7 1.9 1.9 1.9 3.8 3.8 3.8 5.7 5.7 1.9 1.9 1.9 1.9 1.9 1.9 3.8 5.7 1.9 1.9 1.9 3.8 1.9 1.9 1.9 5.7 1.9 5.7 5.7 1.9 5.7 1.9 1.9 3.8 1.9 1.9 1.9 0"/>
<line x1="1222.4" y1="614.1" x2="1222.4" y2="802.1" stroke="#0a9c9c" stroke-width="2.3" stroke-dasharray="0 5.7 7.6 1.9 1.9 17.1 5.7 9.5 3.8 7.6 1.9 3.8 5.7 3.8 1.9 9.5 1.9 5.7 1.9 3.8 3.8 7.6 1.9 3.8 7.6 1.9 1.9 3.8 1.9 5.7 3.8 1.9 1.9 1.9 1.9 11.4 1.9 3.8 5.7 1.9 3.8 1.9 1.9 1.9 1.9 0"/>
<line x1="1224.4" y1="614.1" x2="1224.4" y2="802.1" stroke="#9e0a9e" stroke-width="1.8" stroke-dasharray="0 5.7 1.9 1.9 5.7 17.1 7.6 1.9 1.9 5.7 3.8 7.6 1.9 5.7 3.8 1.9 1.9 11.4 1.9 3.8 3.8 3.8 3.8 7.6 1.9 1.9 1.9 5.7 1.9 7.6 1.9 7.6 1.9 11.4 1.9 5.7 3.8 9.5 3.8 1.9 1.9 1.9 1.9 0"/>
<line x1="1226.1" y1="614.1" x2="1226.1" y2="802.1" stroke="#9e0a9e" stroke-width="1.8" stroke-dasharray="0 5.7 7.6 5.7 1.9 1.9 1.9 1.9 3.8 3.8 1.9 1.9 1.9 3.8 1.9 3.8 1.9 9.5 1.9 5.7 3.8 15.2 3.8 1.9 3.8 3.8 3.8 7.6 1.9 3.8 3.8 11.4 1.9 5.7 3.8 11.4 1.9 5.7 1.9 3.8 3.8 3.8 3.8 7.6"/>
<line x1="1227.9" y1="614.1" x2="1227.9" y2="802.1" stroke="#9e0a9e" stroke-width="1.8" stroke-dasharray="0 9.5 3.8 1.9 1.9 15.2 7.6 3.8 1.9 3.8 3.8 7.6 1.9 5.7 3.8 3.8 1.9 9.5 1.9 3.8 3.8 3.8 3.8 7.6 9.5 1.9 1.9 1.9 1.9 3.8 1.9 7.6 1.9 11.4 1.9 13.3 1.9 3.8 3.8 7.6"/>
<rect x="1228.8" y="614.1" width="8.9" height="188" fill="#9e0a9e"/>
<line x1="1229.9" y1="614.1" x2="1229.9" y2="802.1" stroke="#0a9c9c" stroke-width="2.3" stroke-dasharray="0 7.6 5.7 11.4 3.8 5.7 1.9 1.9 1.9 9.5 3.8 7.6 1.9 7.6 1.9 3.8 1.9 9.5 3.8 3.8 1.9 3.8 3.8 7.6 1.9 1.9 5.7 1.9 1.9 7.6 1.9 11.4 1.9 7.6 1.9 7.6 1.9 1.9 1.9 5.7 1.9 7.6 1.9 0"/>
<line x1="1232.2" y1="614.1" x2="1232.2" y2="802.1" stroke="#0a9c9c" stroke-width="2.3" stroke-dasharray="0 7.6 5.7 20.9 1.9 1.9 1.9 1.9 1.9 7.6 1.9 1.9 1.9 3.8 1.9 3.8 5.7 15.2 1.9 5.7 1.9 3.8 3.8 7.6 1.9 1.9 1.9 1.9 1.9 1.9 1.9 7.6 1.9 7.6 1.9 1.9 1.9 15.2 1.9 3.8 3.8 3.8 1.9 3.8 1.9 3.8"/>
<line x1="1234.4" y1="614.1" x2="1234.4" y2="802.1" stroke="#0a9c9c" stroke-width="2.3" stroke-dasharray="0 5.7 1.9 1.9 3.8 13.3 1.9 5.7 3.8 13.3 1.9 5.7 3.8 5.7 3.8 15.2 1.9 5.7 1.9 3.8 1.9 5.7 1.9 1.9 1.9 3.8 1.9 3.8 1.9 17.1 1.9 1.9 1.9 5.7 3.8 7.6 1.9 1.9 3.8 15.2"/>
<line x1="1236.6" y1="614.1" x2="1236.6" y2="802.1" stroke="#0a9c9c" stroke-width="2.3" stroke-dasharray="0 5.7 1.9 3.8 1.9 9.5 1.9 1.9 1.9 3.8 5.7 22.8 1.9 5.7 1.9 5.7 1.9 9.5 1.9 3.8 1.9 5.7 3.8 7.6 1.9 3.8 1.9 3.8 1.9 7.6 1.9 7.6 1.9 19 1.9 5.7 3.8 1.9 1.9 3.8 1.9 3.8"/>
<line x1="1238.8" y1="614.1" x2="1238.8" y2="802.1" stroke="#9e0a9e" stroke-width="2.3" stroke-dasharray="0 5.7 7.6 9.5 1.9 7.6 3.8 13.3 3.8 7.6 1.9 5.7 3.8 3.8 1.9 17.1 1.9 15.2 1.9 3.8 7.6 7.6 1.9 11.4 1.9 15.2 1.9 3.8 3.8 5.7 1.9 5.7 1.9 0"/>
<line x1="1241" y1="614.1" x2="1241" y2="802.1" stroke="#9e0a9e" stroke-width="2.3" stroke-dasharray="0 5.7 7.6 20.9 1.9 1.9 3.8 1.9 1.9 3.8 3.8 1.9 1.9 3.8 1.9 5.7 1.9 3.8 3.8 9.5 3.8 1.9 1.9 5.7 3.8 7.6 1.9 1.9 5.7 1.9 1.9 7.6 1.9 7.6 1.9 5.7 1.9 1.9 3.8 11.4 3.8 3.8 3.8 5.7 1.9 0"/>
<rect x="1242.2" y="614.1" width="4.4" height="188" fill="#9e0a9e"/>
<line x1="1247.8" y1="614.1" x2="1247.8" y2="802.1" stroke="#9e0a9e" stroke-width="2.4" stroke-dasharray="0 5.7 1.9 3.8 1.9 11.4 1.9 7.6 1.9 1.9 1.9 9.5 3.8 7.6 3.8 3.8 3.8 3.8 1.9 9.5 3.8 1.9 3.8 3.8 3.8 7.6 1.9 1.9 3.8 1.9 3.8 17.1 1.9 1.9 1.9 1.9 1.9 19 3.8 1.9 1.9 3.8 1.9 1.9 1.9 0"/>
<line x1="1250.2" y1="614.1" x2="1250.2" y2="802.1" stroke="#9e0a9e" stroke-width="2.4" stroke-dasharray="0 9.5 3.8 9.5 1.9 9.5 5.7 3.8 1.9 5.7 1.9 7.6 3.8 3.8 3.8 3.8 1.9 9.5 1.9 5.7 1.9 3.8 3.8 11.4 1.9 1.9 1.9 1.9 1.9 1.9 1.9 3.8 1.9 7.6 1.9 1.9 1.9 7.6 1.9 3.8 3.8 3.8 1.9 1.9 1.9 1.9 3.8 7.6"/>
<line x1="1252.5" y1="614.1" x2="1252.5" y2="802.1" stroke="#9e0a9e" stroke-width="2.4" stroke-dasharray="0 9.5 3.8 9.5 1.9 3.8 1.9 3.8 1.9 1.9 1.9 11.4 1.9 7.6 3.8 5.7 1.9 3.8 1.9 9.5 3.8 3.8 1.9 3.8 3.8 7.6 1.9 5.7 1.9 1.9 1.9 7.6 1.9 1.9 1.9 3.8 1.9 1.9 1.9 5.7 1.9 5.7 5.7 1.9 3.8 3.8 1.9 7.6 1.9 0"/>
<line x1="1254.7" y1="614.1" x2="1254.7" y2="802.1" stroke="#9e0a9e" stroke-width="2.1" stroke-dasharray="0 34.2 1.9 13.3 1.9 19 1.9 28.5 1.9 20.9 1.9 17.1 1.9 26.6 1.9 15.2"/>
<line x1="1256.8" y1="614.1" x2="1256.8" y2="802.1" stroke="#9e0a9e" stroke-width="2.1" stroke-dasharray="0 5.7 1.9 26.6 3.8 13.3 1.9 7.6 1.9 7.6 1.9 3.8 1.9 17.1 1.9 26.6 1.9 17.1 1.9 11.4 1.9 30.4"/>
<line x1="1258.9" y1="614.1" x2="1258.9" y2="802.1" stroke="#9e0a9e" stroke-width="2.1" stroke-dasharray="0 11.4 1.9 20.9 1.9 24.7 1.9 5.7 1.9 41.8 1.9 9.5 1.9 7.6 1.9 7.6 1.9 43.7"/>
<line x1="1261" y1="614.1" x2="1261" y2="802.1" stroke="#9e0a9e" stroke-width="2.1" stroke-dasharray="0 9.5 3.8 24.7 1.9 9.5 3.8 7.6 1.9 57 1.9 11.4 1.9 53.2"/>
<line x1="1263" y1="614.1" x2="1263" y2="802.1" stroke="#9e0a9e" stroke-width="2.1" stroke-dasharray="0 51.3 1.9 17.1 1.9 3.8 1.9 9.5 1.9 5.7 1.9 3.8 1.9 9.5 1.9 1.9 1.9 15.2 1.9 41.8 1.9 9.5"/>
<line x1="1265.1" y1="614.1" x2="1265.1" y2="802.1" stroke="#9e0a9e" stroke-width="2.1" stroke-dasharray="0 34.2 1.9 15.2 1.9 7.6 1.9 5.7 1.9 22.8 1.9 7.6 1.9 11.4 1.9 1.9 1.9 55.1 1.9 9.5"/>
<line x1="1267.2" y1="614.1" x2="1267.2" y2="802.1" stroke="#9e0a9e" stroke-width="2.1" stroke-dasharray="0 5.7 1.9 3.8 1.9 38 1.9 7.6 1.9 13.3 1.9 34.2 1.9 5.7 1.9 11.4 1.9 41.8 1.9 9.5"/>
<line x1="1269.3" y1="614.1" x2="1269.3" y2="802.1" stroke="#9e0a9e" stroke-width="2.1" stroke-dasharray="0 5.7 1.9 1.9 3.8 24.7 1.9 11.4 1.9 22.8 1.9 17.1 1.9 3.8 3.8 15.2 1.9 1.9 1.9 62.7"/>
<line x1="1271.3" y1="614.1" x2="1271.3" y2="802.1" stroke="#9e0a9e" stroke-width="2.1" stroke-dasharray="0 5.7 1.9 26.6 1.9 15.2 1.9 7.6 1.9 5.7 1.9 32.3 1.9 7.6 1.9 28.5 1.9 26.6 1.9 5.7 1.9 7.6"/>
<rect x="1272.4" y="614.1" width="8" height="188" fill="#9e0a9e"/>
<line x1="1281.4" y1="614.1" x2="1281.4" y2="802.1" stroke="#9e0a9e" stroke-width="2.2" stroke-dasharray="0 5.7 1.9 1.9 3.8 47.5 1.9 5.7 3.8 3.8 1.9 22.8 3.8 7.6 1.9 1.9 5.7 1.9 1.9 7.6 1.9 5.7 1.9 34.2 1.9 7.6 1.9 0"/>
<line x1="1283.6" y1="614.1" x2="1283.6" y2="802.1" stroke="#9e0a9e" stroke-width="2.2" stroke-dasharray="0 5.7 1.9 3.8 1.9 36.1 3.8 7.6 1.9 5.7 1.9 5.7 1.9 24.7 1.9 11.4 1.9 1.9 1.9 11.4 1.9 7.6 1.9 26.6 1.9 5.7 1.9 7.6"/>
<line x1="1285.7" y1="614.1" x2="1285.7" y2="802.1" stroke="#9e0a9e" stroke-width="2.2" stroke-dasharray="0 9.5 1.9 26.6 1.9 11.4 1.9 7.6 1.9 5.7 1.9 5.7 1.9 22.8 3.8 7.6 1.9 1.9 1.9 51.3 3.8 9.5 1.9 1.9 1.9 0"/>
<line x1="1287.9" y1="614.1" x2="1287.9" y2="802.1" stroke="#9e0a9e" stroke-width="2.2" stroke-dasharray="0 9.5 1.9 15.2 3.8 3.8 1.9 15.2 1.9 7.6 1.9 5.7 3.8 15.2 1.9 13.3 1.9 41.8 1.9 7.6 1.9 11.4 1.9 5.7 1.9 9.5"/>
<line x1="1290" y1="614.1" x2="1290" y2="802.1" stroke="#9e0a9e" stroke-width="2.2" stroke-dasharray="0 5.7 1.9 3.8 1.9 36.1 3.8 7.6 1.9 5.7 1.9 17.1 1.9 5.7 1.9 3.8 3.8 15.2 1.9 11.4 1.9 11.4 1.9 22.8 1.9 3.8 1.9 3.8 1.9 3.8"/>
<rect x="1291.1" y="614.1" width="4.4" height="188" fill="#9e0a9e"/>
<line x1="1292.2" y1="614.1" x2="1292.2" y2="802.1" stroke="#0a9c9c" stroke-width="2.3" stroke-dasharray="0 5.7 1.9 1.9 3.8 1.9 1.9 1.9 1.9 1.9 1.9 3.8 1.9 3.8 1.9 1.9 7.6 3.8 3.8 1.9 3.8 1.9 3.8 3.8 3.8 15.2 3.8 1.9 3.8 3.8 3.8 7.6 1.9 1.9 1.9 1.9 1.9 1.9 1.9 7.6 1.9 7.6 1.9 1.9 1.9 17.1 1.9 1.9 5.7 1.9 3.8 1.9 1.9 3.8"/>
<line x1="1294.4" y1="614.1" x2="1294.4" y2="802.1" stroke="#0a9c9c" stroke-width="2.3" stroke-dasharray="0 5.7 1.9 1.9 3.8 1.9 1.9 1.9 1.9 11.4 9.5 9.5 1.9 5.7 5.7 3.8 3.8 3.8 1.9 9.5 1.9 3.8 1.9 5.7 3.8 7.6 1.9 1.9 5.7 1.9 1.9 7.6 1.9 7.6 1.9 1.9 1.9 7.6 1.9 5.7 1.9 3.8 5.7 1.9 3.8 1.9 1.9 1.9 1.9 0"/>
<line x1="1296.5" y1="614.1" x2="1296.5" y2="802.1" stroke="#9e0a9e" stroke-width="2" stroke-dasharray="0 11.4 1.9 20.9 1.9 1.9 1.9 9.5 3.8 7.6 1.9 7.6 1.9 28.5 3.8 7.6 1.9 1.9 5.7 1.9 1.9 7.6 1.9 5.7 3.8 11.4 1.9 5.7 3.8 1.9 3.8 9.5 1.9 3.8"/>
<line x1="1298.4" y1="614.1" x2="1298.4" y2="802.1" stroke="#9e0a9e" stroke-width="2" stroke-dasharray="0 7.6 1.9 1.9 1.9 13.3 1.9 5.7 7.6 7.6 1.9 17.1 1.9 5.7 1.9 17.1 1.9 3.8 3.8 7.6 1.9 3.8 7.6 7.6 1.9 7.6 1.9 1.9 1.9 13.3 1.9 5.7 5.7 1.9 1.9 7.6 1.9 0"/>
<line x1="1300.4" y1="614.1" x2="1300.4" y2="802.1" stroke="#9e0a9e" stroke-width="2" stroke-dasharray="0 5.7 3.8 1.9 1.9 15.2 1.9 3.8 1.9 13.3 3.8 15.2 3.8 3.8 1.9 9.5 3.8 3.8 1.9 5.7 1.9 13.3 3.8 1.9 1.9 17.1 1.9 11.4 1.9 3.8 1.9 5.7 3.8 3.8 3.8 7.6"/>
<line x1="1302.3" y1="614.1" x2="1302.3" y2="802.1" stroke="#9e0a9e" stroke-width="2" stroke-dasharray="0 7.6 5.7 13.3 1.9 3.8 3.8 1.9 1.9 9.5 1.9 9.5 3.8 3.8 3.8 3.8 1.9 9.5 1.9 5.7 1.9 5.7 1.9 7.6 1.9 5.7 1.9 1.9 1.9 7.6 1.9 1.9 1.9 3.8 1.9 1.9 1.9 7.6 1.9 3.8 1.9 24.7"/>
<line x1="1304.3" y1="614.1" x2="1304.3" y2="802.1" stroke="#9e0a9e" stroke-width="2" stroke-dasharray="0 5.7 5.7 15.2 1.9 5.7 1.9 1.9 1.9 1.9 3.8 5.7 1.9 7.6 1.9 7.6 1.9 3.8 1.9 9.5 1.9 3.8 3.8 3.8 3.8 7.6 1.9 1.9 5.7 1.9 1.9 7.6 1.9 5.7 3.8 11.4 1.9 5.7 1.9 22.8"/>
<rect x="1313.3" y="614.1" width="15.1" height="188" fill="#9e0a9e"/>
<line x1="1314.4" y1="614.1" x2="1314.4" y2="802.1" stroke="#0a9c9c" stroke-width="2.2" stroke-dasharray="0 5.7 1.9 1.9 3.8 13.3 1.9 5.7 1.9 13.3 3.8 7.6 1.9 5.7 3.8 15.2 1.9 3.8 1.9 7.6 1.9 7.6 1.9 9.5 1.9 7.6 1.9 7.6 1.9 17.1 1.9 5.7 1.9 5.7 3.8 5.7 1.9 0"/>
<line x1="1316.5" y1="614.1" x2="1316.5" y2="802.1" stroke="#0a9c9c" stroke-width="2.2" stroke-dasharray="0 34.2 1.9 13.3 3.8 7.6 1.9 5.7 3.8 20.9 3.8 5.7 1.9 7.6 1.9 9.5 1.9 7.6 1.9 7.6 1.9 19 1.9 3.8 1.9 17.1"/>
<line x1="1318.7" y1="614.1" x2="1318.7" y2="802.1" stroke="#0a9c9c" stroke-width="2.2" stroke-dasharray="0 5.7 3.8 1.9 1.9 20.9 1.9 1.9 1.9 11.4 1.9 7.6 1.9 5.7 3.8 15.2 1.9 11.4 3.8 7.6 1.9 1.9 1.9 24.7 1.9 1.9 1.9 15.2 1.9 11.4 3.8 1.9 1.9 3.8"/>
<line x1="1320.8" y1="614.1" x2="1320.8" y2="802.1" stroke="#0a9c9c" stroke-width="2.2" stroke-dasharray="0 5.7 7.6 24.7 1.9 9.5 3.8 7.6 1.9 7.6 1.9 3.8 1.9 9.5 1.9 5.7 1.9 3.8 1.9 9.5 1.9 1.9 1.9 5.7 1.9 7.6 1.9 7.6 1.9 26.6 3.8 1.9 1.9 7.6 1.9 0"/>
<line x1="1323" y1="614.1" x2="1323" y2="802.1" stroke="#0a9c9c" stroke-width="2.2" stroke-dasharray="0 38 1.9 9.5 3.8 7.6 1.9 13.3 1.9 17.1 1.9 3.8 3.8 7.6 1.9 1.9 1.9 1.9 1.9 1.9 1.9 17.1 1.9 24.7 1.9 5.7 1.9 9.5"/>
<line x1="1325.2" y1="614.1" x2="1325.2" y2="802.1" stroke="#0a9c9c" stroke-width="2.2" stroke-dasharray="0 7.6 1.9 1.9 1.9 15.2 1.9 3.8 5.7 11.4 1.9 7.6 1.9 5.7 3.8 22.8 1.9 3.8 3.8 7.6 1.9 1.9 1.9 1.9 1.9 1.9 1.9 7.6 1.9 1.9 1.9 3.8 1.9 1.9 1.9 5.7 1.9 13.3 1.9 5.7 1.9 9.5"/>
<line x1="1327.3" y1="614.1" x2="1327.3" y2="802.1" stroke="#0a9c9c" stroke-width="2.2" stroke-dasharray="0 11.4 1.9 20.9 1.9 24.7 1.9 13.3 1.9 9.5 1.9 5.7 1.9 3.8 1.9 13.3 1.9 1.9 1.9 24.7 1.9 15.2 1.9 5.7 1.9 3.8 3.8 5.7 1.9 0"/>
<line x1="1329.4" y1="614.1" x2="1329.4" y2="802.1" stroke="#9e0a9e" stroke-width="2.1" stroke-dasharray="0 5.7 1.9 1.9 3.8 20.9 1.9 7.6 1.9 15.2 1.9 5.7 3.8 3.8 1.9 22.8 1.9 9.5 1.9 3.8 3.8 1.9 1.9 7.6 1.9 7.6 1.9 24.7 3.8 3.8 3.8 7.6"/>
<line x1="1331.5" y1="614.1" x2="1331.5" y2="802.1" stroke="#9e0a9e" stroke-width="2.1" stroke-dasharray="0 7.6 5.7 13.3 1.9 15.2 1.9 3.8 3.8 5.7 1.9 7.6 3.8 15.2 1.9 5.7 1.9 3.8 3.8 11.4 1.9 1.9 1.9 1.9 1.9 7.6 1.9 11.4 1.9 22.8 1.9 3.8 3.8 1.9 1.9 3.8"/>
<line x1="1333.6" y1="614.1" x2="1333.6" y2="802.1" stroke="#9e0a9e" stroke-width="2.1" stroke-dasharray="0 5.7 1.9 1.9 3.8 9.5 1.9 1.9 1.9 7.6 1.9 38 1.9 15.2 3.8 5.7 1.9 7.6 1.9 1.9 1.9 1.9 1.9 1.9 1.9 7.6 1.9 7.6 1.9 1.9 1.9 17.1 1.9 3.8 1.9 3.8 1.9 3.8 1.9 3.8"/>
<line x1="1335.7" y1="614.1" x2="1335.7" y2="802.1" stroke="#9e0a9e" stroke-width="2.1" stroke-dasharray="0 5.7 7.6 13.3 1.9 5.7 1.9 13.3 3.8 5.7 3.8 7.6 1.9 3.8 1.9 9.5 1.9 11.4 3.8 7.6 1.9 1.9 1.9 1.9 1.9 1.9 1.9 7.6 1.9 1.9 1.9 3.8 1.9 20.9 1.9 9.5 3.8 1.9 1.9 3.8"/>
<line x1="1337.7" y1="614.1" x2="1337.7" y2="802.1" stroke="#9e0a9e" stroke-width="2.1" stroke-dasharray="0 5.7 1.9 1.9 1.9 22.8 1.9 1.9 1.9 9.5 3.8 7.6 1.9 5.7 3.8 3.8 1.9 9.5 1.9 5.7 1.9 3.8 3.8 7.6 1.9 5.7 1.9 11.4 1.9 11.4 1.9 20.9 3.8 3.8 1.9 3.8 1.9 3.8"/>
<line x1="1339.8" y1="614.1" x2="1339.8" y2="802.1" stroke="#9e0a9e" stroke-width="2.1" stroke-dasharray="0 34.2 1.9 5.7 3.8 3.8 3.8 7.6 1.9 5.7 3.8 3.8 1.9 11.4 1.9 3.8 1.9 3.8 3.8 7.6 1.9 3.8 1.9 3.8 1.9 7.6 1.9 7.6 1.9 1.9 1.9 15.2 1.9 5.7 1.9 3.8 1.9 3.8 1.9 1.9 1.9 0"/>
<rect x="1340.8" y="614.1" width="7.1" height="188" fill="#9e0a9e"/>
<line x1="1342" y1="614.1" x2="1342" y2="802.1" stroke="#0a9c9c" stroke-width="2.4" stroke-dasharray="0 1.9 1.9 1.9 11.4 5.7 1.9 1.9 3.8 3.8 1.9 1.9 1.9 3.8 1.9 3.8 3.8 5.7 3.8 3.8 5.7 1.9 3.8 9.5 3.8 1.9 3.8 3.8 3.8 7.6 13.3 7.6 1.9 7.6 1.9 1.9 1.9 5.7 7.6 1.9 3.8 1.9 3.8 3.8 3.8 1.9 1.9 3.8"/>
<line x1="1344.4" y1="614.1" x2="1344.4" y2="802.1" stroke="#0a9c9c" stroke-width="2.4" stroke-dasharray="0 5.7 1.9 1.9 3.8 9.5 1.9 3.8 1.9 3.8 1.9 1.9 1.9 9.5 3.8 3.8 1.9 1.9 1.9 3.8 5.7 3.8 3.8 7.6 1.9 5.7 1.9 3.8 5.7 5.7 7.6 1.9 3.8 7.6 1.9 1.9 1.9 1.9 3.8 1.9 1.9 5.7 3.8 1.9 1.9 1.9 3.8 1.9 3.8 3.8 3.8 1.9 1.9 3.8"/>
<line x1="1346.8" y1="614.1" x2="1346.8" y2="802.1" stroke="#0a9c9c" stroke-width="2.4" stroke-dasharray="0 3.8 9.5 9.5 1.9 1.9 1.9 3.8 3.8 1.9 1.9 3.8 1.9 3.8 3.8 1.9 1.9 1.9 3.8 5.7 3.8 1.9 3.8 9.5 1.9 3.8 3.8 3.8 3.8 3.8 1.9 1.9 1.9 1.9 1.9 1.9 1.9 1.9 1.9 1.9 1.9 3.8 1.9 5.7 3.8 1.9 1.9 5.7 3.8 5.7 3.8 3.8 3.8 1.9 1.9 3.8 1.9 1.9 1.9 0"/>
<rect x="1348" y="614.1" width="5.3" height="188" fill="#9e0a9e"/>
<line x1="1354.2" y1="614.1" x2="1354.2" y2="802.1" stroke="#9e0a9e" stroke-width="1.8" stroke-dasharray="0 34.2 1.9 13.3 3.8 15.2 1.9 17.1 1.9 5.7 1.9 3.8 3.8 19 1.9 7.6 1.9 7.6 1.9 32.3 1.9 9.5"/>
<line x1="1356" y1="614.1" x2="1356" y2="802.1" stroke="#9e0a9e" stroke-width="1.8" stroke-dasharray="0 34.2 1.9 1.9 1.9 9.5 1.9 17.1 1.9 5.7 1.9 15.2 1.9 5.7 3.8 7.6 1.9 1.9 1.9 24.7 1.9 24.7 1.9 11.4 1.9 3.8"/>
<line x1="1357.7" y1="614.1" x2="1357.7" y2="802.1" stroke="#9e0a9e" stroke-width="1.8" stroke-dasharray="0 11.4 1.9 20.9 1.9 1.9 1.9 9.5 3.8 15.2 3.8 15.2 1.9 11.4 3.8 7.6 1.9 74.1"/>
<rect x="1358.6" y="614.1" width="8" height="188" fill="#9e0a9e"/>
<line x1="1359.6" y1="614.1" x2="1359.6" y2="802.1" stroke="#0a9c9c" stroke-width="2.1" stroke-dasharray="0 3.8 3.8 1.9 3.8 5.7 1.9 13.3 5.7 3.8 1.9 3.8 3.8 3.8 7.6 3.8 3.8 3.8 1.9 5.7 1.9 9.5 1.9 3.8 3.8 7.6 15.2 5.7 1.9 7.6 1.9 1.9 1.9 1.9 1.9 1.9 3.8 5.7 1.9 3.8 3.8 3.8 3.8 7.6"/>
<line x1="1361.6" y1="614.1" x2="1361.6" y2="802.1" stroke="#0a9c9c" stroke-width="2.1" stroke-dasharray="0 5.7 3.8 1.9 1.9 1.9 1.9 15.2 3.8 1.9 3.8 7.6 3.8 1.9 1.9 1.9 5.7 3.8 3.8 3.8 1.9 9.5 3.8 1.9 3.8 3.8 3.8 7.6 1.9 3.8 3.8 1.9 1.9 7.6 1.9 7.6 1.9 1.9 1.9 7.6 1.9 5.7 3.8 1.9 5.7 1.9 3.8 1.9 1.9 1.9 1.9 0"/>
<line x1="1363.6" y1="614.1" x2="1363.6" y2="802.1" stroke="#0a9c9c" stroke-width="2.1" stroke-dasharray="0 5.7 3.8 1.9 1.9 5.7 1.9 1.9 1.9 1.9 3.8 1.9 3.8 1.9 1.9 11.4 1.9 9.5 1.9 3.8 3.8 3.8 1.9 9.5 1.9 5.7 1.9 3.8 3.8 7.6 1.9 1.9 3.8 3.8 1.9 7.6 1.9 7.6 1.9 1.9 1.9 7.6 1.9 3.8 5.7 1.9 5.7 1.9 3.8 7.6"/>
<line x1="1365.6" y1="614.1" x2="1365.6" y2="802.1" stroke="#0a9c9c" stroke-width="2.1" stroke-dasharray="0 5.7 1.9 1.9 3.8 11.4 1.9 1.9 1.9 3.8 3.8 11.4 3.8 1.9 1.9 1.9 5.7 3.8 1.9 5.7 1.9 9.5 1.9 3.8 3.8 3.8 1.9 9.5 1.9 1.9 9.5 7.6 1.9 5.7 3.8 1.9 1.9 5.7 3.8 5.7 3.8 1.9 3.8 3.8 1.9 3.8 1.9 3.8"/>
<line x1="1368" y1="614.1" x2="1368" y2="802.1" stroke="#9e0a9e" stroke-width="2.7" stroke-dasharray="0 7.6 1.9 13.3 1.9 1.9 1.9 5.7 3.8 11.4 1.9 9.5 1.9 5.7 1.9 5.7 1.9 9.5 1.9 5.7 1.9 3.8 3.8 7.6 1.9 3.8 1.9 22.8 1.9 9.5 1.9 7.6 1.9 5.7 1.9 3.8 3.8 5.7 1.9 0"/>
<rect x="1369.3" y="614.1" width="5.3" height="188" fill="#9e0a9e"/>
<line x1="1370.2" y1="614.1" x2="1370.2" y2="802.1" stroke="#0a9c9c" stroke-width="1.8" stroke-dasharray="0 5.7 5.7 26.6 1.9 9.5 3.8 5.7 3.8 5.7 1.9 17.1 3.8 1.9 3.8 5.7 1.9 7.6 1.9 1.9 1.9 1.9 5.7 7.6 1.9 7.6 1.9 1.9 1.9 13.3 1.9 1.9 1.9 9.5 1.9 3.8 1.9 1.9 1.9 0"/>
<line x1="1372" y1="614.1" x2="1372" y2="802.1" stroke="#0a9c9c" stroke-width="1.8" stroke-dasharray="0 5.7 7.6 9.5 1.9 9.5 1.9 1.9 1.9 9.5 3.8 5.7 3.8 7.6 1.9 15.2 1.9 5.7 1.9 3.8 3.8 7.6 1.9 1.9 1.9 1.9 1.9 11.4 1.9 7.6 1.9 1.9 1.9 5.7 1.9 5.7 1.9 7.6 1.9 3.8 3.8 1.9 1.9 3.8"/>
<line x1="1373.7" y1="614.1" x2="1373.7" y2="802.1" stroke="#0a9c9c" stroke-width="1.8" stroke-dasharray="0 5.7 7.6 9.5 1.9 3.8 1.9 3.8 1.9 5.7 1.9 5.7 3.8 7.6 1.9 5.7 3.8 1.9 3.8 9.5 1.9 5.7 1.9 3.8 5.7 5.7 1.9 1.9 3.8 3.8 1.9 7.6 1.9 7.6 1.9 1.9 1.9 7.6 1.9 3.8 1.9 5.7 3.8 3.8 3.8 1.9 1.9 3.8"/>
</g>
<rect x="1197.7" y="614.1" width="178.7" height="188" fill="none" stroke="#000" stroke-width="2.4"/>
<g class="hm">
<rect x="1200.4" y="674.2" width="104.9" height="1.5" fill="#9e0a9e"/>
<rect x="1200.4" y="638.5" width="104.9" height="1.5" fill="#9e0a9e"/>
<rect x="1205.3" y="634.1" width="67.9" height="1.5" fill="#9e0a9e"/>
<rect x="1280.4" y="739.3" width="32.9" height="1.5" fill="#9e0a9e"/>
<rect x="1205.3" y="761.6" width="99.9" height="1.5" fill="#9e0a9e"/>
<rect x="1205.3" y="787.5" width="67.9" height="1.5" fill="#9e0a9e"/>
<rect x="1205.3" y="710.8" width="67.9" height="1.5" fill="#9e0a9e"/>
<rect x="1205.3" y="726.8" width="67.9" height="1.5" fill="#9e0a9e"/>
</g>
<rect x="1197.7" y="614.1" width="178.7" height="188" fill="none" stroke="#000" stroke-width="2.4"/>
<line x1="1184.7" y1="614.1" x2="1197.7" y2="614.1" class="k"/>
<text x="1169.2" y="623.4" text-anchor="end">1000</text>
<line x1="1184.7" y1="708.4" x2="1197.7" y2="708.4" class="k"/>
<text x="1169.2" y="717.7" text-anchor="end">500</text>
<text transform="translate(1105.7 692.6) rotate(-90)" text-anchor="middle">Iteration (#)</text>
<text x="1286.7" y="572.9" text-anchor="middle">Cell (#)</text>
<text x="1444.4" y="523.3" text-anchor="middle">Iteration</text>
<text x="1444.4" y="548.5" text-anchor="middle">Consistency (%)</text>
<text x="1420.3" y="582.1" text-anchor="middle">100</text>
<text x="1468.2" y="582.1" text-anchor="middle">0</text>
<clipPath id="c5"><rect x="1417.3" y="612.1" width="53.3" height="192"/></clipPath>
<g clip-path="url(#c5)">
<rect x="1418.1" y="612.1" width="19.2" height="192" fill="#000"/>
<circle cx="1439.8" cy="662.8" r="2.7"/>
<circle cx="1444.5" cy="773.8" r="2.7"/>
<circle cx="1436.7" cy="649" r="2.7"/>
<circle cx="1439.6" cy="656.4" r="2.7"/>
<circle cx="1441.3" cy="752.1" r="2.7"/>
<circle cx="1441.6" cy="654.3" r="2.7"/>
<circle cx="1446.5" cy="669.5" r="2.7"/>
<circle cx="1441" cy="728.5" r="2.7"/>
<circle cx="1436.8" cy="616.8" r="2.7"/>
<circle cx="1439.6" cy="777.9" r="2.7"/>
<circle cx="1440.1" cy="766.3" r="2.7"/>
<circle cx="1446.7" cy="754.1" r="2.7"/>
<circle cx="1437.5" cy="792.6" r="2.7"/>
<circle cx="1440.7" cy="773.9" r="2.7"/>
<circle cx="1436.5" cy="705.6" r="2.7"/>
<circle cx="1443.9" cy="694.9" r="2.7"/>
<circle cx="1440.9" cy="682.6" r="2.7"/>
<circle cx="1438.5" cy="636.2" r="2.7"/>
<circle cx="1441.4" cy="768.2" r="2.7"/>
<circle cx="1452.3" cy="744" r="2.7"/>
<circle cx="1436.3" cy="718.3" r="2.7"/>
<circle cx="1439.5" cy="741.3" r="2.7"/>
<circle cx="1438.1" cy="697.5" r="2.7"/>
<circle cx="1439.9" cy="712.4" r="2.7"/>
<circle cx="1444.1" cy="661.7" r="2.7"/>
<circle cx="1438.3" cy="688.5" r="2.7"/>
<circle cx="1440.6" cy="638.7" r="2.7"/>
<circle cx="1436.5" cy="658.4" r="2.7"/>
<circle cx="1437.8" cy="650.7" r="2.7"/>
<circle cx="1438" cy="736.5" r="2.7"/>
<circle cx="1443.5" cy="793.4" r="2.7"/>
<circle cx="1442.3" cy="789.5" r="2.7"/>
<circle cx="1443" cy="622.2" r="2.7"/>
<circle cx="1444.6" cy="771.7" r="2.7"/>
<circle cx="1439.6" cy="734.2" r="2.7"/>
<circle cx="1441.4" cy="777.3" r="2.7"/>
<circle cx="1437.6" cy="780.7" r="2.7"/>
<circle cx="1440.1" cy="774.6" r="2.7"/>
<circle cx="1437" cy="684.6" r="2.7"/>
<circle cx="1439.4" cy="796.7" r="2.7"/>
<circle cx="1437" cy="727.6" r="2.7"/>
<circle cx="1440.3" cy="730.1" r="2.7"/>
<circle cx="1441" cy="723.3" r="2.7"/>
<circle cx="1439.3" cy="750.9" r="2.7"/>
<circle cx="1437.3" cy="678.3" r="2.7"/>
<circle cx="1439.7" cy="742.7" r="2.7"/>
<circle cx="1436.6" cy="635.2" r="2.7"/>
<circle cx="1438.5" cy="735.1" r="2.7"/>
<circle cx="1437.9" cy="718.7" r="2.7"/>
<circle cx="1436.7" cy="696.7" r="2.7"/>
<circle cx="1436.7" cy="678.6" r="2.7"/>
<circle cx="1436.6" cy="801.7" r="2.7"/>
<circle cx="1437.8" cy="636.9" r="2.7"/>
<circle cx="1440.7" cy="726.4" r="2.7"/>
<circle cx="1441.8" cy="628.7" r="2.7"/>
<circle cx="1437.4" cy="771" r="2.7"/>
<circle cx="1439.8" cy="615.2" r="2.7"/>
<circle cx="1442.3" cy="796.4" r="2.7"/>
<circle cx="1445" cy="711.2" r="2.7"/>
<circle cx="1437.7" cy="669.9" r="2.7"/>
<circle cx="1449.3" cy="620.1" r="2.7"/>
<circle cx="1436.4" cy="752.9" r="2.7"/>
<circle cx="1440.9" cy="662.7" r="2.7"/>
<circle cx="1446.8" cy="662.7" r="2.7"/>
<circle cx="1439" cy="724.6" r="2.7"/>
<circle cx="1439.8" cy="668.1" r="2.7"/>
<circle cx="1437.3" cy="652.4" r="2.7"/>
<circle cx="1437.6" cy="688.9" r="2.7"/>
<circle cx="1436.7" cy="630.4" r="2.7"/>
<circle cx="1444.3" cy="614.9" r="2.7"/>
<circle cx="1438.8" cy="759.6" r="2.7"/>
<circle cx="1442.6" cy="718.4" r="2.7"/>
<circle cx="1437.8" cy="676.7" r="2.7"/>
<circle cx="1442.4" cy="639.9" r="2.7"/>
<circle cx="1444.7" cy="776.5" r="2.7"/>
<circle cx="1443.4" cy="655.1" r="2.7"/>
<circle cx="1437.5" cy="671.1" r="2.7"/>
<circle cx="1437.3" cy="638.2" r="2.7"/>
<circle cx="1447.6" cy="682" r="2.7"/>
<circle cx="1440.6" cy="800.2" r="2.7"/>
<circle cx="1439.3" cy="622.3" r="2.7"/>
<circle cx="1437" cy="765.2" r="2.7"/>
<circle cx="1442.1" cy="674.8" r="2.7"/>
<circle cx="1440.9" cy="637.7" r="2.7"/>
<circle cx="1436.4" cy="615" r="2.7"/>
<circle cx="1448.2" cy="642.3" r="2.7"/>
<circle cx="1440.1" cy="704.1" r="2.7"/>
<circle cx="1440.2" cy="764.8" r="2.7"/>
<circle cx="1438" cy="654.3" r="2.7"/>
<circle cx="1444.9" cy="789.9" r="2.7"/>
<circle cx="1441.9" cy="711.8" r="2.7"/>
<circle cx="1439.4" cy="721.9" r="2.7"/>
<circle cx="1443" cy="730.8" r="2.7"/>
<circle cx="1447" cy="635.8" r="2.7"/>
<circle cx="1446.9" cy="639.9" r="2.7"/>
<circle cx="1438.6" cy="714.4" r="2.7"/>
<circle cx="1441.1" cy="670.4" r="2.7"/>
<circle cx="1437.5" cy="630.4" r="2.7"/>
<circle cx="1445.6" cy="623.9" r="2.7"/>
<circle cx="1438.1" cy="634.2" r="2.7"/>
<circle cx="1452" cy="748.7" r="2.7"/>
<circle cx="1452.3" cy="766.2" r="2.7"/>
<circle cx="1444.3" cy="693.9" r="2.7"/>
<circle cx="1444.1" cy="748.7" r="2.7"/>
<circle cx="1436.5" cy="668.7" r="2.7"/>
<circle cx="1439.1" cy="672.1" r="2.7"/>
<circle cx="1440.9" cy="801.4" r="2.7"/>
<circle cx="1437.1" cy="761.6" r="2.7"/>
<circle cx="1437.7" cy="698.7" r="2.7"/>
<circle cx="1436.3" cy="662.8" r="2.7"/>
<circle cx="1440.4" cy="676.5" r="2.7"/>
<circle cx="1438" cy="773.9" r="2.7"/>
<circle cx="1452.3" cy="774.6" r="2.7"/>
<circle cx="1445.7" cy="757.3" r="2.7"/>
<circle cx="1436.8" cy="705.1" r="2.7"/>
<circle cx="1442.9" cy="783.7" r="2.7"/>
<circle cx="1438.3" cy="715" r="2.7"/>
<circle cx="1441.7" cy="703.6" r="2.7"/>
<circle cx="1437.7" cy="650" r="2.7"/>
<circle cx="1437" cy="768.5" r="2.7"/>
<circle cx="1442.6" cy="647.7" r="2.7"/>
<circle cx="1441" cy="671.9" r="2.7"/>
<circle cx="1443.5" cy="780.5" r="2.7"/>
<circle cx="1436.4" cy="771" r="2.7"/>
<circle cx="1436.5" cy="654.4" r="2.7"/>
<circle cx="1444.8" cy="694.6" r="2.7"/>
<circle cx="1448" cy="794.5" r="2.7"/>
<circle cx="1437.9" cy="641.1" r="2.7"/>
<circle cx="1437.4" cy="772" r="2.7"/>
<circle cx="1437.9" cy="708.2" r="2.7"/>
<circle cx="1436.6" cy="788.2" r="2.7"/>
<circle cx="1443.1" cy="728.4" r="2.7"/>
<circle cx="1437.1" cy="659.9" r="2.7"/>
<circle cx="1436.5" cy="698.6" r="2.7"/>
<circle cx="1438.5" cy="756.9" r="2.7"/>
<circle cx="1439.8" cy="623.7" r="2.7"/>
<circle cx="1448" cy="745.8" r="2.7"/>
<circle cx="1442.1" cy="753.3" r="2.7"/>
<circle cx="1448.1" cy="633" r="2.7"/>
<circle cx="1443.3" cy="767.7" r="2.7"/>
<circle cx="1440.2" cy="770.4" r="2.7"/>
<circle cx="1444.9" cy="739.5" r="2.7"/>
<circle cx="1436.4" cy="725.2" r="2.7"/>
<circle cx="1439.5" cy="750.6" r="2.7"/>
<circle cx="1444.2" cy="726.2" r="2.7"/>
<circle cx="1439.2" cy="728.8" r="2.7"/>
<circle cx="1438.2" cy="710.3" r="2.7"/>
<circle cx="1448.2" cy="685.7" r="2.7"/>
<circle cx="1444" cy="767.3" r="2.7"/>
<circle cx="1436.3" cy="691.9" r="2.7"/>
<circle cx="1450" cy="789.5" r="2.7"/>
<circle cx="1441.3" cy="677.7" r="2.7"/>
<circle cx="1443.9" cy="740.5" r="2.7"/>
<circle cx="1441" cy="684.7" r="2.7"/>
<circle cx="1442.4" cy="628.7" r="2.7"/>
<circle cx="1437.1" cy="767.1" r="2.7"/>
<circle cx="1442.7" cy="761.6" r="2.7"/>
<circle cx="1436.9" cy="691.3" r="2.7"/>
<circle cx="1436.3" cy="720.2" r="2.7"/>
<circle cx="1438.7" cy="654.6" r="2.7"/>
<circle cx="1438.6" cy="641.5" r="2.7"/>
<circle cx="1440.8" cy="796.1" r="2.7"/>
<circle cx="1440.8" cy="653.2" r="2.7"/>
<circle cx="1438.3" cy="652.4" r="2.7"/>
<circle cx="1438.8" cy="797.3" r="2.7"/>
<circle cx="1437.8" cy="638.3" r="2.7"/>
<circle cx="1439.4" cy="626.7" r="2.7"/>
<circle cx="1439" cy="644" r="2.7"/>
<circle cx="1436.9" cy="617" r="2.7"/>
<circle cx="1438.1" cy="657.6" r="2.7"/>
<circle cx="1442.8" cy="720.4" r="2.7"/>
<circle cx="1442.1" cy="747.4" r="2.7"/>
<circle cx="1439.7" cy="745.8" r="2.7"/>
<circle cx="1447.4" cy="643.2" r="2.7"/>
<circle cx="1441.5" cy="624.3" r="2.7"/>
<circle cx="1441.2" cy="712" r="2.7"/>
<circle cx="1440.5" cy="761.1" r="2.7"/>
<circle cx="1444.5" cy="694.3" r="2.7"/>
<circle cx="1436.5" cy="693.4" r="2.7"/>
<circle cx="1441.1" cy="722.9" r="2.7"/>
<circle cx="1440.3" cy="718.2" r="2.7"/>
<circle cx="1438.9" cy="748.6" r="2.7"/>
<circle cx="1438.3" cy="632.3" r="2.7"/>
<circle cx="1439.2" cy="775.3" r="2.7"/>
<circle cx="1436.6" cy="795.6" r="2.7"/>
<circle cx="1447" cy="655.4" r="2.7"/>
<circle cx="1441.4" cy="671.5" r="2.7"/>
<circle cx="1440.2" cy="633.7" r="2.7"/>
<circle cx="1441.8" cy="746.5" r="2.7"/>
<circle cx="1439.1" cy="747.6" r="2.7"/>
<circle cx="1439.1" cy="658" r="2.7"/>
<circle cx="1441.2" cy="614.5" r="2.7"/>
<circle cx="1438.6" cy="780.8" r="2.7"/>
<circle cx="1437.7" cy="764.1" r="2.7"/>
<circle cx="1442.1" cy="768" r="2.7"/>
<circle cx="1438.3" cy="640.3" r="2.7"/>
<circle cx="1440.7" cy="614.3" r="2.7"/>
<circle cx="1436.9" cy="642.5" r="2.7"/>
<circle cx="1441.9" cy="784.4" r="2.7"/>
<circle cx="1437" cy="755.4" r="2.7"/>
<circle cx="1440.5" cy="754.5" r="2.2" fill="#fff"/>
<circle cx="1446.2" cy="720" r="2.5" fill="#fff"/>
<circle cx="1445.9" cy="764.2" r="2.3" fill="#fff"/>
<circle cx="1445.4" cy="706.6" r="2.3" fill="#fff"/>
<circle cx="1443.4" cy="730.6" r="1.2" fill="#fff"/>
<circle cx="1443" cy="762.6" r="1.8" fill="#fff"/>
<circle cx="1445.4" cy="668.2" r="1.8" fill="#fff"/>
<circle cx="1445.8" cy="770.9" r="2" fill="#fff"/>
<circle cx="1444.1" cy="761.3" r="2" fill="#fff"/>
<circle cx="1447.2" cy="755.2" r="2.2" fill="#fff"/>
<circle cx="1445.4" cy="781.6" r="2" fill="#fff"/>
<circle cx="1442" cy="649.5" r="1.8" fill="#fff"/>
<circle cx="1449.2" cy="707.9" r="1.3" fill="#fff"/>
<circle cx="1447.4" cy="679.8" r="1.8" fill="#fff"/>
<circle cx="1441.1" cy="773.6" r="2.3" fill="#fff"/>
<circle cx="1445.5" cy="695.2" r="1.3" fill="#fff"/>
<circle cx="1448.1" cy="689.8" r="2.2" fill="#fff"/>
<circle cx="1444" cy="720.1" r="1.3" fill="#fff"/>
<circle cx="1444.2" cy="745.5" r="2.2" fill="#fff"/>
<circle cx="1443.7" cy="729.1" r="2.4" fill="#fff"/>
<circle cx="1449.8" cy="638.9" r="1.3" fill="#fff"/>
<circle cx="1445.8" cy="796.3" r="1.8" fill="#fff"/>
<circle cx="1444.9" cy="790" r="1.9" fill="#fff"/>
<circle cx="1448.1" cy="625.4" r="2.1" fill="#fff"/>
<circle cx="1440.6" cy="659.1" r="1.8" fill="#fff"/>
</g>
<line x1="1444" y1="614.1" x2="1444" y2="802.1" stroke="#000" stroke-width="1.2" stroke-dasharray="1.2 2"/>
<line x1="1420.3" y1="601.1" x2="1420.3" y2="614.1" class="k"/>
<line x1="1467.6" y1="601.1" x2="1467.6" y2="802.1" class="k"/>
<line x1="1420.3" y1="614.1" x2="1482.4" y2="614.1" class="k"/>
<line x1="1420.3" y1="802.1" x2="1482.4" y2="802.1" class="k"/>
<line x1="1467.6" y1="708.4" x2="1482.4" y2="708.4" class="k"/>
<text x="1497.2" y="623.4">1000</text>
<text x="1497.2" y="717.7">500</text>
<text x="1497.2" y="811.4">0</text>
<line x1="1201.7" y1="879.6" x2="1374.4" y2="879.6" stroke="#000" stroke-width="1.2" stroke-dasharray="1.2 2"/>
<clipPath id="c6"><rect x="1195.7" y="845.4" width="182.7" height="68.4"/></clipPath>
<g clip-path="url(#c6)">
<circle cx="1197.7" cy="866.6" r="2.7"/>
<circle cx="1200.8" cy="854.6" r="2.7"/>
<circle cx="1205.4" cy="852.7" r="2.7"/>
<circle cx="1210.1" cy="863.9" r="2.7"/>
<circle cx="1213.8" cy="860.1" r="2.7"/>
<circle cx="1217.8" cy="859.2" r="2.7"/>
<circle cx="1220.9" cy="875.3" r="2.7"/>
<circle cx="1224" cy="852.7" r="2.7"/>
<circle cx="1227.1" cy="856.1" r="2.7"/>
<circle cx="1230.2" cy="858.3" r="2.7"/>
<circle cx="1233.9" cy="877.5" r="2.7"/>
<circle cx="1236.3" cy="852.7" r="2.7"/>
<circle cx="1239.4" cy="855.2" r="2.7"/>
<circle cx="1242.5" cy="856.1" r="2.7"/>
<circle cx="1246.5" cy="856.7" r="2.7"/>
<circle cx="1248.7" cy="879.3" r="2.7"/>
<circle cx="1251.8" cy="859.2" r="2.7"/>
<circle cx="1254.9" cy="852.7" r="2.7"/>
<circle cx="1258.9" cy="861.4" r="2.7"/>
<circle cx="1262.6" cy="852.7" r="2.7"/>
<circle cx="1265.7" cy="858.3" r="2.7"/>
<circle cx="1269.4" cy="856.7" r="2.7"/>
<circle cx="1271.9" cy="852.7" r="2.7"/>
<circle cx="1276.5" cy="856.7" r="2.7"/>
<circle cx="1280.6" cy="855.2" r="2.7"/>
<circle cx="1285.8" cy="874.7" r="2.7"/>
<circle cx="1287.4" cy="852.7" r="2.7"/>
<circle cx="1290.4" cy="875.9" r="2.7"/>
<circle cx="1293.5" cy="856.1" r="2.7"/>
<circle cx="1297.6" cy="872.8" r="2.7"/>
<circle cx="1302.2" cy="857.4" r="2.7"/>
<circle cx="1305.9" cy="850.6" r="2.7"/>
<circle cx="1310.5" cy="850.6" r="2.7"/>
<circle cx="1315.8" cy="863.9" r="2.7"/>
<circle cx="1318.3" cy="874.7" r="2.7"/>
<circle cx="1320.7" cy="860.8" r="2.7"/>
<circle cx="1323.5" cy="865.4" r="2.7"/>
<circle cx="1327.5" cy="850.6" r="2.7"/>
<circle cx="1331.3" cy="875.3" r="2.7"/>
<circle cx="1336.2" cy="858.9" r="2.7"/>
<circle cx="1338.4" cy="877.5" r="2.7"/>
<circle cx="1341.5" cy="876.8" r="2.7"/>
<circle cx="1344.5" cy="858.3" r="2.7"/>
<circle cx="1349.2" cy="850.6" r="2.7"/>
<circle cx="1352.3" cy="856.7" r="2.7"/>
<circle cx="1356.9" cy="859.2" r="2.7"/>
<circle cx="1359.4" cy="877.5" r="2.7"/>
<circle cx="1363.1" cy="863.9" r="2.7"/>
<circle cx="1364.6" cy="850.6" r="2.7"/>
<circle cx="1367.7" cy="877.5" r="2.7"/>
<circle cx="1370.2" cy="863.9" r="2.7"/>
<circle cx="1372.4" cy="850.6" r="2.7"/>
</g>
<rect x="1197.7" y="848.4" width="178.7" height="62.4" fill="none" stroke="#000" stroke-width="2.4"/>
<line x1="1184.7" y1="848.4" x2="1197.7" y2="848.4" class="k"/>
<text x="1169.2" y="857.7" text-anchor="end">100</text>
<line x1="1184.7" y1="910.8" x2="1197.7" y2="910.8" class="k"/>
<text x="1169.2" y="920.1" text-anchor="end">0</text>
<line x1="1197.7" y1="910.8" x2="1197.7" y2="923.8" class="k"/>
<line x1="1326.6" y1="910.8" x2="1326.6" y2="923.8" class="k"/>
<text x="1197.7" y="956.1" text-anchor="middle">0</text>
<text x="1326.6" y="956.1" text-anchor="middle">50</text>
<text transform="translate(1083.2 879.6) rotate(-90)" text-anchor="middle">Cell</text>
<text transform="translate(1109.2 879.6) rotate(-90)" text-anchor="middle">Consistency (%)</text>
<text x="1286.7" y="993.3" text-anchor="middle">Cell (#)</text>
<line x1="1444" y1="848.4" x2="1444" y2="910.8" stroke="#000" stroke-width="1.2" stroke-dasharray="1.2 2"/>
<line x1="1422.3" y1="879.6" x2="1467.6" y2="879.6" stroke="#000" stroke-width="1.2" stroke-dasharray="1.2 2"/>
<line x1="1420.3" y1="848.4" x2="1420.3" y2="923.8" class="k"/>
<line x1="1467.6" y1="848.4" x2="1467.6" y2="923.8" class="k"/>
<line x1="1420.3" y1="848.4" x2="1482.4" y2="848.4" class="k"/>
<line x1="1420.3" y1="910.8" x2="1482.4" y2="910.8" class="k"/>
<text x="1497.2" y="857.7">100</text>
<text x="1497.2" y="920.1">0</text>
<text x="1420.3" y="956.1" text-anchor="middle">100</text>
<text x="1468.2" y="956.1" text-anchor="middle">0</text>
<line x1="1423.3" y1="858.4" x2="1435.8" y2="858.4" stroke="#000" stroke-width="1.6"/>
<line x1="1423.3" y1="855.4" x2="1423.3" y2="861.4" stroke="#000" stroke-width="1.6"/>
<line x1="1435.8" y1="855.4" x2="1435.8" y2="861.4" stroke="#000" stroke-width="1.6"/>
<line x1="1428.6" y1="850.9" x2="1428.6" y2="867.4" stroke="#000" stroke-width="1.6"/>
<line x1="1425.6" y1="850.9" x2="1431.6" y2="850.9" stroke="#000" stroke-width="1.6"/>
<line x1="1425.6" y1="867.4" x2="1431.6" y2="867.4" stroke="#000" stroke-width="1.6"/>
<g class="hm">
<rect x="1707.5" y="614.1" width="178.7" height="188" fill="#0a9c9c"/>
<line x1="1711.9" y1="614.1" x2="1711.9" y2="802.1" stroke="#9e0a9e" stroke-width="2.9" stroke-dasharray="0 1.9 1.9 17.1 1.9 5.7 1.9 11.4 3.8 20.9 1.9 1.9 1.9 11.4 1.9 7.6 1.9 1.9 3.8 7.6 1.9 15.2 1.9 45.6 1.9 13.3"/>
<rect x="1716.4" y="614.1" width="7.1" height="188" fill="#9e0a9e"/>
<rect x="1723.5" y="614.1" width="2.1" height="188" fill="#9e0a9e"/>
<line x1="1724.6" y1="614.1" x2="1724.6" y2="802.1" stroke="#0a9c9c" stroke-width="2.2" stroke-dasharray="3.8 7.6 13.3 3.8 1.9 5.7 1.9 1.9 5.7 1.9 1.9 3.8 1.9 1.9 1.9 7.6 1.9 1.9 3.8 5.7 5.7 1.9 3.8 1.9 1.9 1.9 7.6 3.8 1.9 1.9 1.9 1.9 1.9 1.9 1.9 1.9 3.8 3.8 5.7 3.8 1.9 3.8 15.2 3.8 11.4 1.9 3.8 3.8 1.9 0"/>
<rect x="1738.6" y="614.1" width="9.8" height="188" fill="#9e0a9e"/>
<line x1="1739.6" y1="614.1" x2="1739.6" y2="802.1" stroke="#0a9c9c" stroke-width="2" stroke-dasharray="1.9 9.5 1.9 1.9 1.9 3.8 1.9 5.7 1.9 3.8 1.9 5.7 3.8 1.9 1.9 17.1 1.9 1.9 1.9 7.6 5.7 7.6 1.9 3.8 1.9 1.9 1.9 3.8 1.9 13.3 1.9 5.7 1.9 1.9 1.9 5.7 1.9 1.9 7.6 9.5 1.9 5.7 1.9 15.2"/>
<line x1="1741.6" y1="614.1" x2="1741.6" y2="802.1" stroke="#0a9c9c" stroke-width="2" stroke-dasharray="0 1.9 1.9 7.6 3.8 5.7 3.8 3.8 1.9 11.4 3.8 24.7 3.8 5.7 3.8 9.5 1.9 1.9 3.8 3.8 1.9 1.9 1.9 1.9 1.9 13.3 1.9 1.9 1.9 1.9 1.9 5.7 1.9 1.9 7.6 13.3 1.9 1.9 5.7 1.9 1.9 7.6"/>
<line x1="1743.5" y1="614.1" x2="1743.5" y2="802.1" stroke="#0a9c9c" stroke-width="2" stroke-dasharray="3.8 3.8 1.9 1.9 1.9 5.7 1.9 13.3 1.9 7.6 1.9 1.9 1.9 17.1 1.9 1.9 3.8 5.7 5.7 7.6 1.9 5.7 1.9 9.5 3.8 7.6 3.8 3.8 1.9 15.2 1.9 1.9 1.9 13.3 1.9 1.9 3.8 13.3"/>
<line x1="1745.5" y1="614.1" x2="1745.5" y2="802.1" stroke="#0a9c9c" stroke-width="2" stroke-dasharray="3.8 17.1 3.8 9.5 1.9 5.7 3.8 20.9 1.9 3.8 1.9 7.6 3.8 3.8 1.9 1.9 1.9 1.9 5.7 9.5 1.9 17.1 1.9 11.4 1.9 1.9 1.9 1.9 1.9 13.3 3.8 3.8 1.9 11.4"/>
<line x1="1747.4" y1="614.1" x2="1747.4" y2="802.1" stroke="#0a9c9c" stroke-width="2" stroke-dasharray="3.8 7.6 1.9 1.9 1.9 1.9 1.9 1.9 1.9 3.8 1.9 9.5 5.7 1.9 1.9 20.9 3.8 5.7 5.7 7.6 1.9 1.9 5.7 1.9 1.9 1.9 1.9 1.9 3.8 7.6 3.8 3.8 1.9 13.3 7.6 17.1 1.9 1.9 1.9 1.9 1.9 7.6"/>
<rect x="1748.4" y="614.1" width="5.9" height="188" fill="#9e0a9e"/>
<rect x="1754.3" y="614.1" width="2.5" height="188" fill="#9e0a9e"/>
<line x1="1755.5" y1="614.1" x2="1755.5" y2="802.1" stroke="#0a9c9c" stroke-width="2.5" stroke-dasharray="9.5 1.9 1.9 1.9 1.9 1.9 7.6 1.9 3.8 1.9 3.8 1.9 5.7 1.9 1.9 17.1 1.9 1.9 3.8 1.9 1.9 1.9 5.7 3.8 5.7 1.9 3.8 1.9 3.8 1.9 1.9 1.9 3.8 3.8 1.9 1.9 3.8 3.8 3.8 9.5 5.7 1.9 1.9 1.9 1.9 11.4 7.6 1.9 3.8 3.8 1.9 0"/>
<rect x="1756.8" y="614.1" width="2.3" height="188" fill="#9e0a9e"/>
<rect x="1763.5" y="614.1" width="4.4" height="188" fill="#9e0a9e"/>
<line x1="1764.6" y1="614.1" x2="1764.6" y2="802.1" stroke="#0a9c9c" stroke-width="2.3" stroke-dasharray="7.6 3.8 5.7 1.9 5.7 3.8 1.9 3.8 1.9 1.9 7.6 5.7 1.9 1.9 1.9 9.5 1.9 1.9 3.8 5.7 5.7 3.8 1.9 1.9 1.9 1.9 5.7 1.9 5.7 1.9 3.8 7.6 3.8 3.8 1.9 5.7 1.9 1.9 11.4 1.9 1.9 5.7 3.8 1.9 3.8 1.9 3.8 3.8 1.9 1.9 1.9 0"/>
<line x1="1766.8" y1="614.1" x2="1766.8" y2="802.1" stroke="#0a9c9c" stroke-width="2.3" stroke-dasharray="3.8 9.5 1.9 3.8 5.7 3.8 1.9 3.8 1.9 5.7 3.8 1.9 1.9 17.1 1.9 1.9 3.8 5.7 5.7 1.9 3.8 1.9 1.9 1.9 3.8 7.6 1.9 1.9 3.8 1.9 1.9 5.7 3.8 1.9 1.9 1.9 1.9 5.7 13.3 11.4 9.5 3.8 3.8 3.8"/>
<rect x="1768" y="614.1" width="6.2" height="188" fill="#9e0a9e"/>
<rect x="1774.2" y="614.1" width="4.4" height="188" fill="#9e0a9e"/>
<line x1="1775.3" y1="614.1" x2="1775.3" y2="802.1" stroke="#0a9c9c" stroke-width="2.3" stroke-dasharray="3.8 1.9 3.8 1.9 5.7 1.9 1.9 1.9 1.9 3.8 1.9 3.8 1.9 5.7 3.8 1.9 1.9 20.9 3.8 1.9 1.9 1.9 5.7 3.8 1.9 1.9 1.9 1.9 5.7 3.8 3.8 1.9 1.9 9.5 3.8 3.8 1.9 1.9 1.9 1.9 1.9 1.9 1.9 1.9 7.6 1.9 1.9 9.5 1.9 1.9 11.4 3.8 1.9 0"/>
<line x1="1777.5" y1="614.1" x2="1777.5" y2="802.1" stroke="#0a9c9c" stroke-width="2.3" stroke-dasharray="0 1.9 1.9 1.9 1.9 3.8 5.7 1.9 5.7 3.8 1.9 3.8 1.9 1.9 7.6 1.9 1.9 9.5 1.9 5.7 1.9 1.9 3.8 5.7 5.7 3.8 1.9 1.9 1.9 3.8 5.7 3.8 1.9 1.9 3.8 7.6 1.9 1.9 1.9 1.9 5.7 5.7 11.4 5.7 1.9 1.9 1.9 3.8 3.8 1.9 5.7 7.6"/>
<rect x="1787.5" y="614.1" width="2.7" height="188" fill="#9e0a9e"/>
<line x1="1788.8" y1="614.1" x2="1788.8" y2="802.1" stroke="#0a9c9c" stroke-width="2.7" stroke-dasharray="3.8 3.8 1.9 3.8 1.9 3.8 1.9 1.9 1.9 3.8 1.9 3.8 1.9 3.8 5.7 1.9 1.9 17.1 1.9 1.9 3.8 5.7 5.7 3.8 5.7 3.8 7.6 1.9 1.9 15.2 3.8 1.9 1.9 13.3 3.8 1.9 1.9 13.3 1.9 1.9 3.8 1.9 1.9 3.8 1.9 3.8"/>
<rect x="1790.2" y="614.1" width="7.1" height="188" fill="#9e0a9e"/>
<rect x="1797.3" y="614.1" width="6.2" height="188" fill="#9e0a9e"/>
<line x1="1798.3" y1="614.1" x2="1798.3" y2="802.1" stroke="#0a9c9c" stroke-width="2.1" stroke-dasharray="0 41.8 3.8 1.9 1.9 20.9 1.9 9.5 3.8 7.6 1.9 3.8 1.9 1.9 1.9 30.4 1.9 5.7 1.9 1.9 5.7 19 5.7 11.4"/>
<line x1="1800.4" y1="614.1" x2="1800.4" y2="802.1" stroke="#0a9c9c" stroke-width="2.1" stroke-dasharray="0 1.9 1.9 17.1 1.9 5.7 1.9 11.4 3.8 1.9 1.9 20.9 3.8 5.7 5.7 7.6 1.9 1.9 1.9 13.3 3.8 28.5 5.7 1.9 1.9 17.1 5.7 11.4"/>
<line x1="1802.5" y1="614.1" x2="1802.5" y2="802.1" stroke="#0a9c9c" stroke-width="2.1" stroke-dasharray="1.9 11.4 1.9 5.7 1.9 5.7 1.9 11.4 3.8 20.9 1.9 1.9 1.9 11.4 1.9 7.6 1.9 3.8 1.9 3.8 1.9 5.7 1.9 17.1 1.9 13.3 3.8 1.9 1.9 24.7 3.8 5.7"/>
<rect x="1803.5" y="614.1" width="6.6" height="188" fill="#9e0a9e"/>
<line x1="1811.3" y1="614.1" x2="1811.3" y2="802.1" stroke="#9e0a9e" stroke-width="2.5" stroke-dasharray="1.9 19 3.8 19 1.9 1.9 1.9 17.1 1.9 1.9 1.9 7.6 5.7 7.6 1.9 3.8 1.9 1.9 1.9 3.8 1.9 1.9 3.8 15.2 1.9 9.5 9.5 11.4 1.9 7.6 3.8 1.9 3.8 5.7"/>
<line x1="1813.8" y1="614.1" x2="1813.8" y2="802.1" stroke="#9e0a9e" stroke-width="2.5" stroke-dasharray="3.8 9.5 1.9 5.7 3.8 3.8 1.9 11.4 3.8 1.9 1.9 20.9 3.8 1.9 1.9 3.8 3.8 7.6 1.9 3.8 5.7 3.8 1.9 3.8 1.9 7.6 5.7 1.9 1.9 1.9 1.9 5.7 1.9 3.8 5.7 17.1 1.9 1.9 1.9 1.9 1.9 7.6"/>
<line x1="1824.1" y1="614.1" x2="1824.1" y2="802.1" stroke="#9e0a9e" stroke-width="2.1" stroke-dasharray="1.9 9.5 1.9 7.6 1.9 5.7 1.9 13.3 1.9 1.9 1.9 20.9 3.8 5.7 5.7 3.8 1.9 1.9 1.9 5.7 1.9 1.9 1.9 1.9 1.9 1.9 1.9 9.5 1.9 17.1 1.9 5.7 3.8 19 3.8 11.4"/>
<line x1="1826.1" y1="614.1" x2="1826.1" y2="802.1" stroke="#9e0a9e" stroke-width="2.1" stroke-dasharray="0 1.9 1.9 3.8 1.9 1.9 1.9 1.9 1.9 3.8 1.9 5.7 1.9 3.8 1.9 3.8 5.7 1.9 1.9 17.1 1.9 1.9 3.8 5.7 3.8 9.5 1.9 1.9 1.9 3.8 3.8 1.9 1.9 1.9 3.8 7.6 3.8 3.8 1.9 11.4 9.5 9.5 1.9 5.7 3.8 11.4 1.9 0"/>
<line x1="1828.1" y1="614.1" x2="1828.1" y2="802.1" stroke="#9e0a9e" stroke-width="2.1" stroke-dasharray="0 1.9 1.9 7.6 1.9 1.9 1.9 3.8 3.8 3.8 1.9 3.8 1.9 7.6 1.9 1.9 1.9 17.1 1.9 1.9 3.8 5.7 5.7 7.6 1.9 3.8 5.7 3.8 1.9 1.9 1.9 9.5 3.8 3.8 1.9 17.1 1.9 15.2 1.9 1.9 5.7 9.5 1.9 0"/>
<line x1="1830.1" y1="614.1" x2="1830.1" y2="802.1" stroke="#9e0a9e" stroke-width="2.1" stroke-dasharray="3.8 7.6 1.9 1.9 1.9 5.7 1.9 17.1 3.8 20.9 1.9 1.9 3.8 1.9 1.9 3.8 3.8 3.8 1.9 1.9 1.9 3.8 3.8 1.9 1.9 7.6 1.9 15.2 1.9 13.3 3.8 1.9 3.8 13.3 7.6 5.7 1.9 1.9 1.9 0"/>
<rect x="1831.1" y="614.1" width="6.2" height="188" fill="#9e0a9e"/>
<line x1="1832.1" y1="614.1" x2="1832.1" y2="802.1" stroke="#0a9c9c" stroke-width="2.1" stroke-dasharray="3.8 11.4 1.9 1.9 3.8 5.7 1.9 3.8 1.9 5.7 3.8 1.9 1.9 17.1 1.9 1.9 3.8 7.6 3.8 7.6 1.9 1.9 9.5 1.9 1.9 1.9 3.8 7.6 1.9 1.9 1.9 13.3 1.9 1.9 3.8 1.9 1.9 13.3 1.9 3.8 1.9 1.9 1.9 9.5"/>
<line x1="1834.2" y1="614.1" x2="1834.2" y2="802.1" stroke="#0a9c9c" stroke-width="2.1" stroke-dasharray="0 11.4 1.9 7.6 3.8 17.1 3.8 1.9 1.9 20.9 3.8 1.9 1.9 1.9 5.7 7.6 1.9 1.9 3.8 7.6 1.9 1.9 1.9 17.1 1.9 9.5 3.8 1.9 1.9 1.9 1.9 9.5 1.9 7.6 3.8 11.4"/>
<line x1="1836.3" y1="614.1" x2="1836.3" y2="802.1" stroke="#0a9c9c" stroke-width="2.1" stroke-dasharray="3.8 7.6 3.8 5.7 1.9 19 3.8 20.9 1.9 1.9 3.8 7.6 1.9 9.5 1.9 3.8 3.8 1.9 1.9 1.9 1.9 1.9 3.8 7.6 1.9 5.7 1.9 17.1 3.8 15.2 5.7 1.9 3.8 7.6"/>
<line x1="1838.3" y1="614.1" x2="1838.3" y2="802.1" stroke="#9e0a9e" stroke-width="2.1" stroke-dasharray="0 28.5 1.9 13.3 1.9 1.9 1.9 20.9 1.9 9.5 1.9 15.2 1.9 7.6 1.9 20.9 1.9 13.3 1.9 3.8 1.9 34.2"/>
<line x1="1840.3" y1="614.1" x2="1840.3" y2="802.1" stroke="#9e0a9e" stroke-width="2.1" stroke-dasharray="0 1.9 1.9 66.5 3.8 7.6 1.9 9.5 1.9 13.3 1.9 13.3 3.8 3.8 1.9 55.1"/>
<line x1="1842.3" y1="614.1" x2="1842.3" y2="802.1" stroke="#9e0a9e" stroke-width="2.1" stroke-dasharray="0 1.9 1.9 39.9 1.9 24.7 1.9 7.6 1.9 17.1 1.9 7.6 1.9 15.2 1.9 3.8 1.9 11.4 1.9 5.7 1.9 34.2"/>
<line x1="1844.3" y1="614.1" x2="1844.3" y2="802.1" stroke="#9e0a9e" stroke-width="2.1" stroke-dasharray="0 34.2 1.9 7.6 1.9 20.9 1.9 1.9 1.9 24.7 1.9 9.5 1.9 20.9 1.9 13.3 1.9 3.8 1.9 17.1 1.9 15.2"/>
<rect x="1845.3" y="614.1" width="5.3" height="188" fill="#9e0a9e"/>
<line x1="1846.2" y1="614.1" x2="1846.2" y2="802.1" stroke="#0a9c9c" stroke-width="1.8" stroke-dasharray="3.8 1.9 1.9 3.8 3.8 3.8 3.8 5.7 1.9 3.8 1.9 3.8 5.7 1.9 3.8 15.2 1.9 1.9 3.8 1.9 1.9 1.9 5.7 3.8 5.7 1.9 13.3 1.9 1.9 11.4 3.8 1.9 1.9 1.9 1.9 5.7 1.9 1.9 9.5 7.6 1.9 1.9 3.8 1.9 3.8 1.9 3.8 3.8 1.9 0"/>
<line x1="1848" y1="614.1" x2="1848" y2="802.1" stroke="#0a9c9c" stroke-width="1.8" stroke-dasharray="7.6 3.8 5.7 1.9 5.7 3.8 1.9 3.8 1.9 3.8 5.7 1.9 1.9 1.9 1.9 5.7 1.9 1.9 1.9 1.9 1.9 1.9 3.8 5.7 5.7 1.9 7.6 1.9 9.5 1.9 1.9 1.9 3.8 1.9 1.9 3.8 5.7 1.9 1.9 1.9 1.9 1.9 1.9 1.9 11.4 9.5 1.9 1.9 1.9 1.9 13.3 3.8"/>
<line x1="1849.7" y1="614.1" x2="1849.7" y2="802.1" stroke="#0a9c9c" stroke-width="1.8" stroke-dasharray="3.8 3.8 1.9 1.9 1.9 1.9 1.9 3.8 3.8 1.9 3.8 3.8 1.9 1.9 1.9 3.8 1.9 1.9 1.9 17.1 1.9 1.9 3.8 1.9 1.9 1.9 5.7 7.6 1.9 1.9 9.5 1.9 1.9 1.9 3.8 7.6 5.7 1.9 1.9 1.9 1.9 5.7 5.7 1.9 5.7 7.6 1.9 5.7 7.6 9.5"/>
<rect x="1850.6" y="614.1" width="10.7" height="188" fill="#9e0a9e"/>
<rect x="1861.3" y="614.1" width="1.8" height="188" fill="#9e0a9e"/>
<line x1="1862.2" y1="614.1" x2="1862.2" y2="802.1" stroke="#0a9c9c" stroke-width="1.8" stroke-dasharray="5.7 1.9 1.9 1.9 1.9 1.9 1.9 1.9 5.7 3.8 3.8 1.9 1.9 3.8 5.7 1.9 1.9 17.1 1.9 1.9 3.8 5.7 7.6 1.9 1.9 1.9 1.9 1.9 3.8 1.9 1.9 3.8 1.9 1.9 3.8 7.6 5.7 1.9 5.7 5.7 7.6 1.9 1.9 5.7 1.9 1.9 7.6 1.9 3.8 1.9 5.7 3.8"/>
<rect x="1863.1" y="614.1" width="10.7" height="188" fill="#9e0a9e"/>
<rect x="1873.8" y="614.1" width="8" height="188" fill="#9e0a9e"/>
<line x1="1874.8" y1="614.1" x2="1874.8" y2="802.1" stroke="#0a9c9c" stroke-width="2.1" stroke-dasharray="0 1.9 1.9 11.4 1.9 1.9 5.7 3.8 1.9 3.8 1.9 5.7 3.8 1.9 1.9 17.1 1.9 1.9 3.8 1.9 1.9 1.9 5.7 3.8 5.7 1.9 3.8 1.9 1.9 3.8 5.7 5.7 1.9 3.8 1.9 3.8 1.9 13.3 1.9 3.8 1.9 1.9 3.8 3.8 3.8 3.8 3.8 13.3"/>
<line x1="1876.8" y1="614.1" x2="1876.8" y2="802.1" stroke="#0a9c9c" stroke-width="2.1" stroke-dasharray="3.8 15.2 5.7 3.8 1.9 13.3 1.9 1.9 1.9 17.1 1.9 1.9 3.8 1.9 1.9 1.9 5.7 7.6 1.9 3.8 1.9 11.4 1.9 9.5 1.9 1.9 1.9 1.9 1.9 17.1 5.7 7.6 1.9 1.9 7.6 13.3"/>
<line x1="1878.8" y1="614.1" x2="1878.8" y2="802.1" stroke="#0a9c9c" stroke-width="2.1" stroke-dasharray="3.8 7.6 3.8 3.8 5.7 3.8 1.9 3.8 1.9 3.8 5.7 1.9 1.9 17.1 1.9 1.9 3.8 1.9 1.9 3.8 3.8 5.7 3.8 1.9 3.8 7.6 1.9 1.9 3.8 3.8 1.9 1.9 1.9 5.7 1.9 1.9 1.9 5.7 7.6 1.9 1.9 3.8 1.9 3.8 1.9 3.8 1.9 1.9 1.9 3.8 3.8 5.7"/>
<line x1="1880.8" y1="614.1" x2="1880.8" y2="802.1" stroke="#0a9c9c" stroke-width="2.1" stroke-dasharray="3.8 7.6 1.9 1.9 1.9 5.7 1.9 3.8 1.9 11.4 3.8 1.9 1.9 17.1 1.9 1.9 3.8 1.9 1.9 1.9 5.7 7.6 1.9 1.9 3.8 3.8 1.9 1.9 1.9 1.9 3.8 9.5 1.9 3.8 1.9 9.5 1.9 1.9 7.6 13.3 3.8 1.9 3.8 1.9 1.9 5.7 1.9 0"/>
</g>
<rect x="1707.5" y="614.1" width="178.7" height="188" fill="none" stroke="#000" stroke-width="2.4"/>
<line x1="1694.5" y1="614.1" x2="1707.5" y2="614.1" class="k"/>
<text x="1679" y="623.4" text-anchor="end">1000</text>
<line x1="1694.5" y1="708.4" x2="1707.5" y2="708.4" class="k"/>
<text x="1679" y="717.7" text-anchor="end">500</text>
<text transform="translate(1617.3 692.6) rotate(-90)" text-anchor="middle">Iteration (#)</text>
<text x="1796.5" y="572.9" text-anchor="middle">Cell (#)</text>
<text x="1954.2" y="523.3" text-anchor="middle">Iteration</text>
<text x="1954.2" y="548.5" text-anchor="middle">Consistency (%)</text>
<text x="1930.1" y="582.1" text-anchor="middle">100</text>
<text x="1978" y="582.1" text-anchor="middle">0</text>
<clipPath id="c7"><rect x="1927.1" y="612.1" width="53.3" height="192"/></clipPath>
<g clip-path="url(#c7)">
<rect x="1927.9" y="612.1" width="10.2" height="192" fill="#000"/>
<circle cx="1937.6" cy="634.2" r="2.7"/>
<circle cx="1938.7" cy="790.9" r="2.7"/>
<circle cx="1937.2" cy="665.1" r="2.7"/>
<circle cx="1938.9" cy="737.9" r="2.7"/>
<circle cx="1937.6" cy="671.1" r="2.7"/>
<circle cx="1938.1" cy="760.3" r="2.7"/>
<circle cx="1937.5" cy="636.4" r="2.7"/>
<circle cx="1939.5" cy="681.4" r="2.7"/>
<circle cx="1937.6" cy="663.1" r="2.7"/>
<circle cx="1938.6" cy="642.2" r="2.7"/>
<circle cx="1937.5" cy="717.8" r="2.7"/>
<circle cx="1937.7" cy="736.6" r="2.7"/>
<circle cx="1937.3" cy="637.2" r="2.7"/>
<circle cx="1937.5" cy="652.5" r="2.7"/>
<circle cx="1939.9" cy="798" r="2.7"/>
<circle cx="1939.1" cy="696.6" r="2.7"/>
<circle cx="1938.3" cy="728.3" r="2.7"/>
<circle cx="1938.3" cy="635.1" r="2.7"/>
<circle cx="1937.6" cy="724.8" r="2.7"/>
<circle cx="1937.6" cy="631.9" r="2.7"/>
<circle cx="1937.8" cy="778.6" r="2.7"/>
<circle cx="1937.2" cy="699.2" r="2.7"/>
<circle cx="1937.5" cy="655.1" r="2.7"/>
<circle cx="1938.4" cy="633.4" r="2.7"/>
<circle cx="1937.9" cy="767.9" r="2.7"/>
<circle cx="1937.6" cy="619.4" r="2.7"/>
<circle cx="1938.1" cy="753.3" r="2.7"/>
<circle cx="1938" cy="631.6" r="2.7"/>
<circle cx="1937.7" cy="704.4" r="2.7"/>
<circle cx="1938.4" cy="699.7" r="2.7"/>
<circle cx="1938.5" cy="705.3" r="2.7"/>
<circle cx="1937.7" cy="631.9" r="2.7"/>
<circle cx="1937.3" cy="703.3" r="2.7"/>
<circle cx="1939.4" cy="790.6" r="2.7"/>
<circle cx="1938.2" cy="626.6" r="2.7"/>
<circle cx="1938.5" cy="721.5" r="2.7"/>
<circle cx="1937.9" cy="617.7" r="2.7"/>
<circle cx="1939.7" cy="693.6" r="2.7"/>
<circle cx="1939.5" cy="679.4" r="2.7"/>
<circle cx="1938.2" cy="663.6" r="2.7"/>
<circle cx="1937.7" cy="670.9" r="2.7"/>
<circle cx="1938.6" cy="702.3" r="2.7"/>
<circle cx="1937.3" cy="662.2" r="2.7"/>
<circle cx="1937.3" cy="672.8" r="2.7"/>
<circle cx="1937.9" cy="798.9" r="2.7"/>
<circle cx="1937.6" cy="790.1" r="2.7"/>
<circle cx="1937.1" cy="681.5" r="2.7"/>
<circle cx="1937.4" cy="641.6" r="2.7"/>
<circle cx="1937.4" cy="651.5" r="2.7"/>
<circle cx="1939.4" cy="663.8" r="2.7"/>
<circle cx="1939.1" cy="660.8" r="2.7"/>
<circle cx="1938.6" cy="668.9" r="2.7"/>
<circle cx="1938.1" cy="757.3" r="2.7"/>
<circle cx="1938.2" cy="726.1" r="2.7"/>
<circle cx="1937.2" cy="791.3" r="2.7"/>
<circle cx="1938.5" cy="772.3" r="2.7"/>
<circle cx="1939.3" cy="683" r="2.7"/>
<circle cx="1939" cy="716.7" r="2.7"/>
<circle cx="1938.1" cy="759.5" r="2.7"/>
<circle cx="1939.4" cy="729.3" r="2.7"/>
<circle cx="1938.3" cy="660.6" r="2.7"/>
<circle cx="1937.6" cy="677.9" r="2.7"/>
<circle cx="1937.7" cy="663.5" r="2.7"/>
<circle cx="1937.6" cy="744.2" r="2.7"/>
<circle cx="1937.2" cy="640.5" r="2.7"/>
<circle cx="1938.3" cy="716.5" r="2.7"/>
<circle cx="1937.3" cy="685.6" r="2.7"/>
<circle cx="1938" cy="683.4" r="2.7"/>
<circle cx="1937.7" cy="694" r="2.7"/>
<circle cx="1937.7" cy="641.6" r="2.7"/>
<circle cx="1938.1" cy="750.5" r="2.7"/>
<circle cx="1938.4" cy="655.8" r="2.7"/>
<circle cx="1937.7" cy="735.7" r="2.7"/>
<circle cx="1938" cy="789.5" r="2.7"/>
<circle cx="1937.4" cy="737.6" r="2.7"/>
<circle cx="1937.2" cy="690.5" r="2.7"/>
<circle cx="1939.7" cy="664.1" r="2.7"/>
<circle cx="1937.6" cy="776.5" r="2.7"/>
<circle cx="1938.2" cy="625.7" r="2.7"/>
<circle cx="1939.5" cy="716.1" r="2.7"/>
<circle cx="1937.9" cy="632.3" r="2.7"/>
<circle cx="1938" cy="798.4" r="2.7"/>
<circle cx="1938.4" cy="778.5" r="2.7"/>
<circle cx="1939.4" cy="626.9" r="2.7"/>
<circle cx="1937.3" cy="763.3" r="2.7"/>
<circle cx="1937.7" cy="685.4" r="2.7"/>
<circle cx="1938.3" cy="724.8" r="2.7"/>
<circle cx="1937.1" cy="761.5" r="2.7"/>
<circle cx="1938" cy="707.2" r="2.7"/>
<circle cx="1937.3" cy="796.7" r="2.7"/>
<circle cx="1937.8" cy="660.8" r="2.7"/>
<circle cx="1938.6" cy="614.2" r="2.7"/>
<circle cx="1937.4" cy="801.4" r="2.7"/>
<circle cx="1940.5" cy="788.6" r="2.7"/>
<circle cx="1937.8" cy="783.5" r="2.7"/>
<circle cx="1938" cy="697.8" r="2.7"/>
<circle cx="1937.4" cy="679.1" r="2.7"/>
<circle cx="1937.2" cy="639.8" r="2.7"/>
<circle cx="1937.7" cy="793.9" r="2.7"/>
<circle cx="1938.8" cy="796.1" r="2.7"/>
<circle cx="1937.7" cy="712.5" r="2.7"/>
<circle cx="1938.2" cy="783.4" r="2.7"/>
<circle cx="1938.5" cy="627.2" r="2.7"/>
<circle cx="1937.7" cy="763.4" r="2.7"/>
<circle cx="1938.4" cy="693.5" r="2.7"/>
<circle cx="1939.8" cy="692.8" r="2.7"/>
<circle cx="1939.3" cy="651.6" r="2.7"/>
<circle cx="1937.5" cy="703.6" r="2.7"/>
<circle cx="1937.7" cy="687" r="2.7"/>
<circle cx="1937.2" cy="655.8" r="2.7"/>
<circle cx="1941.1" cy="659.1" r="2.7"/>
<circle cx="1941.1" cy="772.1" r="2.7"/>
<circle cx="1940.6" cy="789.1" r="2.7"/>
</g>
<line x1="1953.8" y1="614.1" x2="1953.8" y2="802.1" stroke="#000" stroke-width="1.2" stroke-dasharray="1.2 2"/>
<line x1="1930.1" y1="601.1" x2="1930.1" y2="614.1" class="k"/>
<line x1="1977.4" y1="601.1" x2="1977.4" y2="802.1" class="k"/>
<line x1="1930.1" y1="614.1" x2="1992.2" y2="614.1" class="k"/>
<line x1="1930.1" y1="802.1" x2="1992.2" y2="802.1" class="k"/>
<line x1="1977.4" y1="708.4" x2="1992.2" y2="708.4" class="k"/>
<text x="2007" y="623.4">1000</text>
<text x="2007" y="717.7">500</text>
<text x="2007" y="811.4">0</text>
<line x1="1711.5" y1="879.6" x2="1884.2" y2="879.6" stroke="#000" stroke-width="1.2" stroke-dasharray="1.2 2"/>
<clipPath id="c8"><rect x="1705.5" y="845.4" width="182.7" height="68.4"/></clipPath>
<g clip-path="url(#c8)">
<rect x="1707.5" y="848.4" width="178.7" height="3.1" fill="#000"/>
<circle cx="1711.5" cy="866.6" r="2.7"/>
<circle cx="1723.6" cy="867.9" r="2.7"/>
<circle cx="1727.6" cy="851.2" r="2.7"/>
<circle cx="1740" cy="864.8" r="2.7"/>
<circle cx="1743.7" cy="871.3" r="2.7"/>
<circle cx="1750.2" cy="855.2" r="2.7"/>
<circle cx="1757.9" cy="851.2" r="2.7"/>
<circle cx="1762.2" cy="864.8" r="2.7"/>
<circle cx="1778.6" cy="864.5" r="2.7"/>
<circle cx="1786.3" cy="875.9" r="2.7"/>
<circle cx="1797.2" cy="869.1" r="2.7"/>
<circle cx="1801.2" cy="866" r="2.7"/>
<circle cx="1807.4" cy="854.6" r="2.7"/>
<circle cx="1811.1" cy="855.2" r="2.7"/>
<circle cx="1813.2" cy="873.8" r="2.7"/>
<circle cx="1821.3" cy="875.3" r="2.7"/>
<circle cx="1825.6" cy="866.6" r="2.7"/>
<circle cx="1831.8" cy="854.3" r="2.7"/>
<circle cx="1839.8" cy="863.9" r="2.7"/>
<circle cx="1872.3" cy="879.3" r="2.7"/>
<circle cx="1876.6" cy="863.9" r="2.7"/>
<circle cx="1878.5" cy="866.9" r="2.7"/>
<circle cx="1880.6" cy="849.9" r="2.7"/>
</g>
<rect x="1707.5" y="848.4" width="178.7" height="62.4" fill="none" stroke="#000" stroke-width="2.4"/>
<line x1="1694.5" y1="848.4" x2="1707.5" y2="848.4" class="k"/>
<text x="1679" y="857.7" text-anchor="end">100</text>
<line x1="1694.5" y1="910.8" x2="1707.5" y2="910.8" class="k"/>
<text x="1679" y="920.1" text-anchor="end">0</text>
<line x1="1707.5" y1="910.8" x2="1707.5" y2="923.8" class="k"/>
<line x1="1808.9" y1="910.8" x2="1808.9" y2="923.8" class="k"/>
<text x="1707.5" y="956.1" text-anchor="middle">0</text>
<text x="1808.9" y="956.1" text-anchor="middle">50</text>
<text transform="translate(1593 879.6) rotate(-90)" text-anchor="middle">Cell</text>
<text transform="translate(1619 879.6) rotate(-90)" text-anchor="middle">Consistency (%)</text>
<text x="1796.5" y="993.3" text-anchor="middle">Cell (#)</text>
<line x1="1953.8" y1="848.4" x2="1953.8" y2="910.8" stroke="#000" stroke-width="1.2" stroke-dasharray="1.2 2"/>
<line x1="1932.1" y1="879.6" x2="1977.4" y2="879.6" stroke="#000" stroke-width="1.2" stroke-dasharray="1.2 2"/>
<line x1="1930.1" y1="848.4" x2="1930.1" y2="923.8" class="k"/>
<line x1="1977.4" y1="848.4" x2="1977.4" y2="923.8" class="k"/>
<line x1="1930.1" y1="848.4" x2="1992.2" y2="848.4" class="k"/>
<line x1="1930.1" y1="910.8" x2="1992.2" y2="910.8" class="k"/>
<text x="2007" y="857.7">100</text>
<text x="2007" y="920.1">0</text>
<text x="1930.1" y="956.1" text-anchor="middle">100</text>
<text x="1978" y="956.1" text-anchor="middle">0</text>
<line x1="1933.1" y1="850.9" x2="1933.1" y2="859.4" stroke="#000" stroke-width="1.6"/>
<line x1="1930.1" y1="850.9" x2="1936.1" y2="850.9" stroke="#000" stroke-width="1.6"/>
<line x1="1930.1" y1="859.4" x2="1936.1" y2="859.4" stroke="#000" stroke-width="1.6"/>
<g class="hm">
<rect x="153.6" y="1124.1" width="178.7" height="188" fill="#0a9c9c"/>
<rect x="155.5" y="1124.1" width="2.2" height="188" fill="#9e0a9e" opacity="0.50"/>
<rect x="157.5" y="1124.1" width="2.2" height="188" fill="#9e0a9e" opacity="0.50"/>
<rect x="159.4" y="1124.1" width="2.2" height="188" fill="#9e0a9e" opacity="0.50"/>
<rect x="163.3" y="1124.1" width="2.2" height="188" fill="#9e0a9e" opacity="0.50"/>
<rect x="165.3" y="1124.1" width="2.2" height="188" fill="#9e0a9e" opacity="0.50"/>
<rect x="167.2" y="1124.1" width="2.2" height="188" fill="#9e0a9e" opacity="0.50"/>
<rect x="169.1" y="1124.1" width="2.2" height="188" fill="#9e0a9e" opacity="0.50"/>
<rect x="176.9" y="1124.1" width="2.2" height="188" fill="#9e0a9e" opacity="0.50"/>
<rect x="180.8" y="1124.1" width="2.2" height="188" fill="#9e0a9e" opacity="0.50"/>
<rect x="188.6" y="1124.1" width="2.2" height="188" fill="#9e0a9e" opacity="0.50"/>
<rect x="190.5" y="1124.1" width="2.2" height="188" fill="#9e0a9e" opacity="0.50"/>
<rect x="192.4" y="1124.1" width="2.2" height="188" fill="#9e0a9e" opacity="0.50"/>
<rect x="194.4" y="1124.1" width="2.2" height="188" fill="#9e0a9e" opacity="0.50"/>
<rect x="200.2" y="1124.1" width="2.2" height="188" fill="#9e0a9e" opacity="0.50"/>
<rect x="204.1" y="1124.1" width="2.2" height="188" fill="#9e0a9e" opacity="0.50"/>
<rect x="209.9" y="1124.1" width="2.2" height="188" fill="#9e0a9e" opacity="0.50"/>
<rect x="213.8" y="1124.1" width="2.2" height="188" fill="#9e0a9e" opacity="0.50"/>
<rect x="217.7" y="1124.1" width="2.2" height="188" fill="#9e0a9e" opacity="0.50"/>
<rect x="221.6" y="1124.1" width="2.2" height="188" fill="#9e0a9e" opacity="0.50"/>
<rect x="227.4" y="1124.1" width="2.2" height="188" fill="#9e0a9e" opacity="0.50"/>
<rect x="231.3" y="1124.1" width="2.2" height="188" fill="#9e0a9e" opacity="0.50"/>
<rect x="235.2" y="1124.1" width="2.2" height="188" fill="#9e0a9e" opacity="0.50"/>
<rect x="237.1" y="1124.1" width="2.2" height="188" fill="#9e0a9e" opacity="0.50"/>
<rect x="239.1" y="1124.1" width="2.2" height="188" fill="#9e0a9e" opacity="0.50"/>
<rect x="241" y="1124.1" width="2.2" height="188" fill="#9e0a9e" opacity="0.50"/>
<rect x="242.9" y="1124.1" width="2.2" height="188" fill="#9e0a9e" opacity="0.50"/>
<rect x="244.9" y="1124.1" width="2.2" height="188" fill="#9e0a9e" opacity="0.50"/>
<rect x="248.8" y="1124.1" width="2.2" height="188" fill="#9e0a9e" opacity="0.50"/>
<rect x="250.7" y="1124.1" width="2.2" height="188" fill="#9e0a9e" opacity="0.50"/>
<rect x="254.6" y="1124.1" width="2.2" height="188" fill="#9e0a9e" opacity="0.50"/>
<rect x="256.5" y="1124.1" width="2.2" height="188" fill="#9e0a9e" opacity="0.50"/>
<rect x="266.3" y="1124.1" width="2.2" height="188" fill="#9e0a9e" opacity="0.50"/>
<rect x="274" y="1124.1" width="2.2" height="188" fill="#9e0a9e" opacity="0.50"/>
<rect x="276" y="1124.1" width="2.2" height="188" fill="#9e0a9e" opacity="0.50"/>
<rect x="277.9" y="1124.1" width="2.2" height="188" fill="#9e0a9e" opacity="0.50"/>
<rect x="279.9" y="1124.1" width="2.2" height="188" fill="#9e0a9e" opacity="0.50"/>
<rect x="281.8" y="1124.1" width="2.2" height="188" fill="#9e0a9e" opacity="0.50"/>
<rect x="283.7" y="1124.1" width="2.2" height="188" fill="#9e0a9e" opacity="0.50"/>
<rect x="287.6" y="1124.1" width="2.2" height="188" fill="#9e0a9e" opacity="0.50"/>
<rect x="289.6" y="1124.1" width="2.2" height="188" fill="#9e0a9e" opacity="0.50"/>
<rect x="291.5" y="1124.1" width="2.2" height="188" fill="#9e0a9e" opacity="0.50"/>
<rect x="299.3" y="1124.1" width="2.2" height="188" fill="#9e0a9e" opacity="0.50"/>
<rect x="303.2" y="1124.1" width="2.2" height="188" fill="#9e0a9e" opacity="0.50"/>
<rect x="310.9" y="1124.1" width="2.2" height="188" fill="#9e0a9e" opacity="0.50"/>
<rect x="312.9" y="1124.1" width="2.2" height="188" fill="#9e0a9e" opacity="0.50"/>
<rect x="316.8" y="1124.1" width="2.2" height="188" fill="#9e0a9e" opacity="0.50"/>
<rect x="318.7" y="1124.1" width="2.2" height="188" fill="#9e0a9e" opacity="0.50"/>
<rect x="320.6" y="1124.1" width="2.2" height="188" fill="#9e0a9e" opacity="0.50"/>
<rect x="322.6" y="1124.1" width="2.2" height="188" fill="#9e0a9e" opacity="0.50"/>
<rect x="326.5" y="1124.1" width="2.2" height="188" fill="#9e0a9e" opacity="0.50"/>
<rect x="328.4" y="1124.1" width="2.2" height="188" fill="#9e0a9e" opacity="0.50"/>
<rect x="330.4" y="1124.1" width="2.2" height="188" fill="#9e0a9e" opacity="0.50"/>
<rect x="153.6" y="1124.1" width="178.7" height="2.4" fill="#9e0a9e" opacity="0.42"/>
<rect x="153.6" y="1128.8" width="178.7" height="2.4" fill="#0a9c9c" opacity="0.50"/>
<rect x="153.6" y="1131.1" width="178.7" height="2.4" fill="#0a9c9c" opacity="0.50"/>
<rect x="153.6" y="1133.5" width="178.7" height="2.4" fill="#9e0a9e" opacity="0.42"/>
<rect x="153.6" y="1135.8" width="178.7" height="2.4" fill="#0a9c9c" opacity="0.50"/>
<rect x="153.6" y="1138.2" width="178.7" height="2.4" fill="#0a9c9c" opacity="0.50"/>
<rect x="153.6" y="1140.5" width="178.7" height="2.4" fill="#9e0a9e" opacity="0.42"/>
<rect x="153.6" y="1142.9" width="178.7" height="2.4" fill="#9e0a9e" opacity="0.42"/>
<rect x="153.6" y="1147.6" width="178.7" height="2.4" fill="#9e0a9e" opacity="0.42"/>
<rect x="153.6" y="1149.9" width="178.7" height="2.4" fill="#0a9c9c" opacity="0.50"/>
<rect x="153.6" y="1152.3" width="178.7" height="2.4" fill="#0a9c9c" opacity="0.50"/>
<rect x="153.6" y="1154.6" width="178.7" height="2.4" fill="#0a9c9c" opacity="0.50"/>
<rect x="153.6" y="1159.3" width="178.7" height="2.4" fill="#0a9c9c" opacity="0.50"/>
<rect x="153.6" y="1161.7" width="178.7" height="2.4" fill="#0a9c9c" opacity="0.50"/>
<rect x="153.6" y="1164" width="178.7" height="2.4" fill="#0a9c9c" opacity="0.50"/>
<rect x="153.6" y="1166.4" width="178.7" height="2.4" fill="#9e0a9e" opacity="0.42"/>
<rect x="153.6" y="1168.8" width="178.7" height="2.4" fill="#9e0a9e" opacity="0.42"/>
<rect x="153.6" y="1175.8" width="178.7" height="2.4" fill="#0a9c9c" opacity="0.50"/>
<rect x="153.6" y="1178.1" width="178.7" height="2.4" fill="#9e0a9e" opacity="0.42"/>
<rect x="153.6" y="1185.2" width="178.7" height="2.4" fill="#0a9c9c" opacity="0.50"/>
<rect x="153.6" y="1187.5" width="178.7" height="2.4" fill="#0a9c9c" opacity="0.50"/>
<rect x="153.6" y="1189.9" width="178.7" height="2.4" fill="#9e0a9e" opacity="0.42"/>
<rect x="153.6" y="1192.2" width="178.7" height="2.4" fill="#9e0a9e" opacity="0.42"/>
<rect x="153.6" y="1194.6" width="178.7" height="2.4" fill="#9e0a9e" opacity="0.42"/>
<rect x="153.6" y="1204" width="178.7" height="2.4" fill="#9e0a9e" opacity="0.42"/>
<rect x="153.6" y="1206.3" width="178.7" height="2.4" fill="#0a9c9c" opacity="0.50"/>
<rect x="153.6" y="1211" width="178.7" height="2.4" fill="#0a9c9c" opacity="0.50"/>
<rect x="153.6" y="1213.4" width="178.7" height="2.4" fill="#9e0a9e" opacity="0.42"/>
<rect x="153.6" y="1215.8" width="178.7" height="2.4" fill="#0a9c9c" opacity="0.50"/>
<rect x="153.6" y="1220.4" width="178.7" height="2.4" fill="#9e0a9e" opacity="0.42"/>
<rect x="153.6" y="1222.8" width="178.7" height="2.4" fill="#0a9c9c" opacity="0.50"/>
<rect x="153.6" y="1229.8" width="178.7" height="2.4" fill="#9e0a9e" opacity="0.42"/>
<rect x="153.6" y="1234.5" width="178.7" height="2.4" fill="#0a9c9c" opacity="0.50"/>
<rect x="153.6" y="1239.2" width="178.7" height="2.4" fill="#9e0a9e" opacity="0.42"/>
<rect x="153.6" y="1241.6" width="178.7" height="2.4" fill="#9e0a9e" opacity="0.42"/>
<rect x="153.6" y="1243.9" width="178.7" height="2.4" fill="#0a9c9c" opacity="0.50"/>
<rect x="153.6" y="1246.3" width="178.7" height="2.4" fill="#0a9c9c" opacity="0.50"/>
<rect x="153.6" y="1248.6" width="178.7" height="2.4" fill="#0a9c9c" opacity="0.50"/>
<rect x="153.6" y="1251" width="178.7" height="2.4" fill="#0a9c9c" opacity="0.50"/>
<rect x="153.6" y="1255.7" width="178.7" height="2.4" fill="#0a9c9c" opacity="0.50"/>
<rect x="153.6" y="1258" width="178.7" height="2.4" fill="#9e0a9e" opacity="0.42"/>
<rect x="153.6" y="1262.8" width="178.7" height="2.4" fill="#0a9c9c" opacity="0.50"/>
<rect x="153.6" y="1267.4" width="178.7" height="2.4" fill="#0a9c9c" opacity="0.50"/>
<rect x="153.6" y="1272.1" width="178.7" height="2.4" fill="#0a9c9c" opacity="0.50"/>
<rect x="153.6" y="1274.5" width="178.7" height="2.4" fill="#0a9c9c" opacity="0.50"/>
<rect x="153.6" y="1276.8" width="178.7" height="2.4" fill="#0a9c9c" opacity="0.50"/>
<rect x="153.6" y="1279.2" width="178.7" height="2.4" fill="#0a9c9c" opacity="0.50"/>
<rect x="153.6" y="1286.2" width="178.7" height="2.4" fill="#0a9c9c" opacity="0.50"/>
<rect x="153.6" y="1290.9" width="178.7" height="2.4" fill="#9e0a9e" opacity="0.42"/>
<rect x="153.6" y="1293.3" width="178.7" height="2.4" fill="#9e0a9e" opacity="0.42"/>
<rect x="153.6" y="1295.6" width="178.7" height="2.4" fill="#9e0a9e" opacity="0.42"/>
<rect x="153.6" y="1298" width="178.7" height="2.4" fill="#0a9c9c" opacity="0.50"/>
<rect x="153.6" y="1302.7" width="178.7" height="2.4" fill="#0a9c9c" opacity="0.50"/>
<rect x="153.6" y="1305" width="178.7" height="2.4" fill="#9e0a9e" opacity="0.42"/>
<rect x="153.6" y="1307.4" width="178.7" height="2.4" fill="#0a9c9c" opacity="0.50"/>
</g>
<rect x="153.6" y="1124.1" width="178.7" height="188" fill="none" stroke="#000" stroke-width="2.4"/>
<line x1="140.6" y1="1124.1" x2="153.6" y2="1124.1" class="k"/>
<text x="125.1" y="1133.4" text-anchor="end">1000</text>
<line x1="140.6" y1="1218.4" x2="153.6" y2="1218.4" class="k"/>
<text x="125.1" y="1227.7" text-anchor="end">500</text>
<text transform="translate(62.6 1202.6) rotate(-90)" text-anchor="middle">Iteration (#)</text>
<text x="242.6" y="1082.9" text-anchor="middle">Cell (#)</text>
<text x="400.3" y="1033.3" text-anchor="middle">Iteration</text>
<text x="400.3" y="1058.5" text-anchor="middle">Consistency (%)</text>
<text x="376.2" y="1092.1" text-anchor="middle">100</text>
<text x="424.1" y="1092.1" text-anchor="middle">0</text>
<clipPath id="c9"><rect x="373.2" y="1122.1" width="53.3" height="192"/></clipPath>
<g clip-path="url(#c9)">
<rect x="374" y="1122.1" width="9.2" height="192" fill="#000"/>
<circle cx="387.4" cy="1126.4" r="2.7"/>
<circle cx="386.6" cy="1252.7" r="2.7"/>
<circle cx="386" cy="1150.2" r="2.7"/>
<circle cx="385.4" cy="1266.5" r="2.7"/>
<circle cx="382.8" cy="1151.8" r="2.7"/>
<circle cx="392.2" cy="1149.8" r="2.7"/>
<circle cx="388.9" cy="1224.8" r="2.7"/>
<circle cx="384.5" cy="1311.4" r="2.7"/>
<circle cx="398.2" cy="1141.6" r="2.7"/>
<circle cx="384.3" cy="1199.9" r="2.7"/>
<circle cx="385.3" cy="1161.4" r="2.7"/>
<circle cx="387.9" cy="1303.7" r="2.7"/>
<circle cx="384.1" cy="1163.6" r="2.7"/>
<circle cx="391" cy="1227" r="2.7"/>
<circle cx="385.6" cy="1303.4" r="2.7"/>
<circle cx="387.6" cy="1162.4" r="2.7"/>
<circle cx="383.9" cy="1281.3" r="2.7"/>
<circle cx="382.3" cy="1262.3" r="2.7"/>
<circle cx="385" cy="1287.4" r="2.7"/>
<circle cx="386.1" cy="1273.9" r="2.7"/>
<circle cx="385.6" cy="1261.3" r="2.7"/>
<circle cx="391.4" cy="1165.3" r="2.7"/>
<circle cx="385.4" cy="1131.9" r="2.7"/>
<circle cx="387.5" cy="1198.6" r="2.7"/>
<circle cx="391.2" cy="1245.7" r="2.7"/>
<circle cx="397.1" cy="1307.7" r="2.7"/>
<circle cx="383.6" cy="1310.9" r="2.7"/>
<circle cx="387.8" cy="1157.2" r="2.7"/>
<circle cx="392" cy="1241.4" r="2.7"/>
<circle cx="385.1" cy="1141.7" r="2.7"/>
<circle cx="390.3" cy="1160.3" r="2.7"/>
<circle cx="386.6" cy="1254.8" r="2.7"/>
<circle cx="394.3" cy="1142.1" r="2.7"/>
<circle cx="391.1" cy="1246.2" r="2.7"/>
<circle cx="384.7" cy="1310.5" r="2.7"/>
<circle cx="389.3" cy="1274.6" r="2.7"/>
<circle cx="384.3" cy="1207.7" r="2.7"/>
<circle cx="390.7" cy="1146.3" r="2.7"/>
<circle cx="385.6" cy="1142.7" r="2.7"/>
<circle cx="382.6" cy="1160.6" r="2.7"/>
<circle cx="385.2" cy="1187.1" r="2.7"/>
<circle cx="395.2" cy="1213.5" r="2.7"/>
<circle cx="383.5" cy="1217.8" r="2.7"/>
<circle cx="387.5" cy="1194.1" r="2.7"/>
<circle cx="383.4" cy="1239.3" r="2.7"/>
<circle cx="383.6" cy="1145.2" r="2.7"/>
<circle cx="383.8" cy="1150" r="2.7"/>
<circle cx="392.5" cy="1307.1" r="2.7"/>
<circle cx="382.5" cy="1268.4" r="2.7"/>
<circle cx="393.8" cy="1309.3" r="2.7"/>
<circle cx="388.8" cy="1189.7" r="2.7"/>
<circle cx="382.7" cy="1177.2" r="2.7"/>
<circle cx="385.6" cy="1157.2" r="2.7"/>
<circle cx="383.2" cy="1286.8" r="2.7"/>
<circle cx="385.7" cy="1133.5" r="2.7"/>
<circle cx="385.2" cy="1160.4" r="2.7"/>
<circle cx="383.5" cy="1278.4" r="2.7"/>
<circle cx="386.3" cy="1209.6" r="2.7"/>
<circle cx="395.6" cy="1254.7" r="2.7"/>
<circle cx="384.3" cy="1199.6" r="2.7"/>
<circle cx="383.8" cy="1222.6" r="2.7"/>
<circle cx="389.6" cy="1258.9" r="2.7"/>
<circle cx="384.5" cy="1211.9" r="2.7"/>
<circle cx="384.8" cy="1271.3" r="2.7"/>
<circle cx="392" cy="1264.1" r="2.7"/>
<circle cx="385.9" cy="1233.1" r="2.7"/>
<circle cx="384.3" cy="1155.3" r="2.7"/>
<circle cx="384.9" cy="1204" r="2.7"/>
<circle cx="386.5" cy="1150.5" r="2.7"/>
<circle cx="386.2" cy="1204.1" r="2.7"/>
<circle cx="387.1" cy="1257.8" r="2.7"/>
<circle cx="383.5" cy="1270.5" r="2.7"/>
<circle cx="383" cy="1262.3" r="2.7"/>
<circle cx="383.8" cy="1239.7" r="2.7"/>
<circle cx="382.5" cy="1292.4" r="2.7"/>
<circle cx="386.8" cy="1277.1" r="2.7"/>
<circle cx="392.4" cy="1192.5" r="2.7"/>
<circle cx="389.5" cy="1196.3" r="2.7"/>
<circle cx="383.6" cy="1161.4" r="2.7"/>
<circle cx="388.3" cy="1255.3" r="2.7"/>
<circle cx="382.5" cy="1193.3" r="2.7"/>
<circle cx="384.7" cy="1170.9" r="2.7"/>
<circle cx="390.2" cy="1241.6" r="2.7"/>
<circle cx="383.2" cy="1300" r="2.7"/>
<circle cx="382.9" cy="1176.2" r="2.7"/>
<circle cx="383.8" cy="1214.8" r="2.7"/>
<circle cx="382.9" cy="1180" r="2.7"/>
<circle cx="382.3" cy="1124.1" r="2.7"/>
<circle cx="382.5" cy="1195.5" r="2.7"/>
<circle cx="388" cy="1295.7" r="2.7"/>
<circle cx="391.9" cy="1233" r="2.7"/>
<circle cx="388.9" cy="1167.9" r="2.7"/>
<circle cx="387" cy="1237.9" r="2.7"/>
<circle cx="389.2" cy="1184.2" r="2.7"/>
<circle cx="386.1" cy="1142.1" r="2.7"/>
<circle cx="384.2" cy="1194.3" r="2.7"/>
<circle cx="391.7" cy="1226.1" r="2.7"/>
<circle cx="385.9" cy="1221.7" r="2.7"/>
<circle cx="384.6" cy="1285.5" r="2.7"/>
<circle cx="388.5" cy="1251.4" r="2.7"/>
<circle cx="383.4" cy="1228.3" r="2.7"/>
<circle cx="389.1" cy="1278.9" r="2.7"/>
<circle cx="382.8" cy="1169.7" r="2.7"/>
<circle cx="384.3" cy="1303.6" r="2.7"/>
<circle cx="390.9" cy="1252.7" r="2.7"/>
<circle cx="399.6" cy="1273.8" r="2.7"/>
<circle cx="382.3" cy="1135.7" r="2.7"/>
<circle cx="390.1" cy="1311.8" r="2.7"/>
<circle cx="387.8" cy="1150.6" r="2.7"/>
<circle cx="383.9" cy="1132.5" r="2.7"/>
<circle cx="389.3" cy="1201" r="2.7"/>
<circle cx="384" cy="1150.7" r="2.7"/>
<circle cx="384.6" cy="1128.5" r="2.7"/>
<circle cx="389.1" cy="1214.3" r="2.7"/>
<circle cx="388" cy="1214" r="2.7"/>
<circle cx="395.7" cy="1279.6" r="2.7"/>
<circle cx="384.4" cy="1260.8" r="2.7"/>
<circle cx="385.7" cy="1141" r="2.7"/>
<circle cx="390.5" cy="1285.6" r="2.7"/>
<circle cx="385.3" cy="1295.1" r="2.7"/>
<circle cx="404.2" cy="1231.1" r="2.7"/>
<circle cx="405.2" cy="1266.1" r="2.7"/>
<circle cx="410.2" cy="1299.1" r="2.7"/>
<circle cx="412.2" cy="1142.1" r="2.7"/>
<rect x="417.2" y="1122.1" width="8.5" height="192" fill="#000"/>
<circle cx="415.3" cy="1184.7" r="2.7"/>
<circle cx="415.8" cy="1301.7" r="2.7"/>
<circle cx="417.7" cy="1252.7" r="2.7"/>
<circle cx="417.3" cy="1261.4" r="2.7"/>
<circle cx="412.7" cy="1208.9" r="2.7"/>
<circle cx="414.3" cy="1262.3" r="2.7"/>
<circle cx="417.6" cy="1295.3" r="2.7"/>
<circle cx="410.2" cy="1204.6" r="2.7"/>
<circle cx="417.3" cy="1228.6" r="2.7"/>
<circle cx="414.3" cy="1149.9" r="2.7"/>
<circle cx="413.1" cy="1234.2" r="2.7"/>
<circle cx="412.9" cy="1147.6" r="2.7"/>
<circle cx="417.8" cy="1195.7" r="2.7"/>
<circle cx="414.9" cy="1304.5" r="2.7"/>
<circle cx="417.1" cy="1203.3" r="2.7"/>
<circle cx="415.5" cy="1206.9" r="2.7"/>
<circle cx="416.9" cy="1250" r="2.7"/>
<circle cx="416.2" cy="1166.6" r="2.7"/>
<circle cx="416.4" cy="1173" r="2.7"/>
<circle cx="417" cy="1265.9" r="2.7"/>
<circle cx="417.6" cy="1144.4" r="2.7"/>
<circle cx="415.4" cy="1270.7" r="2.7"/>
<circle cx="416.8" cy="1205.3" r="2.7"/>
<circle cx="417.4" cy="1274.5" r="2.7"/>
<circle cx="414.8" cy="1226" r="2.7"/>
<circle cx="417.9" cy="1254.1" r="2.7"/>
<circle cx="413.6" cy="1214.8" r="2.7"/>
<circle cx="416.3" cy="1183.1" r="2.7"/>
<circle cx="412.2" cy="1283.3" r="2.7"/>
<circle cx="416.3" cy="1146.7" r="2.7"/>
<circle cx="412.7" cy="1257" r="2.7"/>
<circle cx="413.7" cy="1290.3" r="2.7"/>
<circle cx="413" cy="1227.8" r="2.7"/>
<circle cx="414.8" cy="1173.7" r="2.7"/>
<circle cx="417.1" cy="1226.5" r="2.7"/>
<circle cx="413.4" cy="1226.1" r="2.7"/>
<circle cx="415.4" cy="1285" r="2.7"/>
<circle cx="417.8" cy="1138.2" r="2.7"/>
<circle cx="412.5" cy="1239.4" r="2.7"/>
<circle cx="410.5" cy="1213.3" r="2.7"/>
<circle cx="415.2" cy="1224.5" r="2.7"/>
<circle cx="411.5" cy="1150.9" r="2.7"/>
<circle cx="416.5" cy="1209.3" r="2.7"/>
<circle cx="414.5" cy="1149.2" r="2.7"/>
<circle cx="416" cy="1289" r="2.7"/>
<circle cx="415.4" cy="1292.8" r="2.7"/>
<circle cx="416" cy="1278.9" r="2.7"/>
<circle cx="414.5" cy="1248.8" r="2.7"/>
<circle cx="413.5" cy="1159.4" r="2.7"/>
<circle cx="412.8" cy="1154.6" r="2.7"/>
<circle cx="417.8" cy="1257.2" r="2.7"/>
<circle cx="413.3" cy="1189.1" r="2.7"/>
<circle cx="417.9" cy="1285.3" r="2.7"/>
<circle cx="416.8" cy="1292.8" r="2.7"/>
<circle cx="417.7" cy="1243.8" r="2.7"/>
<circle cx="416.1" cy="1142.5" r="2.7"/>
<circle cx="416.3" cy="1276.6" r="2.7"/>
<circle cx="415.5" cy="1157.9" r="2.7"/>
<circle cx="415.6" cy="1137.9" r="2.7"/>
<circle cx="416.6" cy="1133.9" r="2.7"/>
<circle cx="417.6" cy="1180.1" r="2.7"/>
<circle cx="417" cy="1200" r="2.7"/>
<circle cx="417.7" cy="1220.8" r="2.7"/>
<circle cx="417.4" cy="1138.1" r="2.7"/>
<circle cx="411.1" cy="1151.1" r="2.7"/>
<circle cx="417" cy="1256.7" r="2.7"/>
<circle cx="416.9" cy="1293.2" r="2.7"/>
<circle cx="415.7" cy="1287.6" r="2.7"/>
<circle cx="415.2" cy="1238.1" r="2.7"/>
<circle cx="416.6" cy="1201.8" r="2.7"/>
<circle cx="416.6" cy="1259.1" r="2.7"/>
<circle cx="416.7" cy="1173.6" r="2.7"/>
<circle cx="410.5" cy="1126.7" r="2.7"/>
<circle cx="415.2" cy="1230.9" r="2.7"/>
<circle cx="416.3" cy="1152" r="2.7"/>
<circle cx="413.3" cy="1143.9" r="2.7"/>
<circle cx="415.9" cy="1296" r="2.7"/>
<circle cx="414.6" cy="1188.8" r="2.7"/>
<circle cx="414.8" cy="1154.3" r="2.7"/>
<circle cx="417.5" cy="1167.9" r="2.7"/>
<circle cx="413.4" cy="1245.6" r="2.7"/>
<circle cx="410.5" cy="1306.2" r="2.7"/>
<circle cx="417.5" cy="1211.7" r="2.7"/>
<circle cx="414.8" cy="1205.6" r="2.7"/>
<circle cx="417.1" cy="1230.7" r="2.7"/>
<circle cx="418.1" cy="1211.1" r="2.7"/>
<circle cx="415.2" cy="1187.3" r="2.7"/>
<circle cx="409.8" cy="1212.8" r="2.7"/>
<circle cx="414.2" cy="1139.1" r="2.7"/>
<circle cx="415.5" cy="1252.1" r="2.7"/>
<circle cx="413.7" cy="1270.1" r="2.7"/>
<circle cx="417.2" cy="1268.4" r="2.7"/>
<circle cx="417.9" cy="1129.3" r="2.7"/>
<circle cx="412.7" cy="1307.9" r="2.7"/>
<circle cx="416.3" cy="1301.4" r="2.7"/>
<circle cx="408.7" cy="1176.6" r="2.7"/>
<circle cx="415.5" cy="1209.2" r="2.7"/>
<circle cx="414" cy="1197.7" r="2.7"/>
<circle cx="416.4" cy="1252.9" r="2.7"/>
<circle cx="417.7" cy="1247.7" r="2.7"/>
<circle cx="418.1" cy="1237.2" r="2.7"/>
<circle cx="417.2" cy="1300.6" r="2.7"/>
<circle cx="417" cy="1254.8" r="2.7"/>
<circle cx="417" cy="1293.3" r="2.7"/>
<circle cx="413.7" cy="1199.1" r="2.7"/>
<circle cx="417.2" cy="1208" r="2.7"/>
<circle cx="412.8" cy="1303.4" r="2.7"/>
<circle cx="417.1" cy="1269.4" r="2.7"/>
<circle cx="416.6" cy="1299.5" r="2.7"/>
<circle cx="415.3" cy="1302.7" r="2.7"/>
<circle cx="413" cy="1238" r="2.7"/>
<circle cx="412.8" cy="1146.4" r="2.7"/>
<circle cx="413.3" cy="1171.7" r="2.7"/>
<circle cx="415.9" cy="1215.6" r="2.7"/>
<circle cx="415.6" cy="1181.3" r="2.7"/>
<circle cx="417.2" cy="1257.4" r="2.7"/>
<circle cx="412.8" cy="1266.9" r="2.7"/>
<circle cx="413.2" cy="1132.5" r="2.7"/>
<circle cx="417.2" cy="1230.4" r="2.7"/>
<circle cx="416.7" cy="1229.1" r="2.7"/>
</g>
<line x1="407.7" y1="1124.1" x2="407.7" y2="1312.1" stroke="#000" stroke-width="1.2" stroke-dasharray="1.2 2"/>
<line x1="376.2" y1="1111.1" x2="376.2" y2="1124.1" class="k"/>
<line x1="423.5" y1="1111.1" x2="423.5" y2="1312.1" class="k"/>
<line x1="376.2" y1="1124.1" x2="438.3" y2="1124.1" class="k"/>
<line x1="376.2" y1="1312.1" x2="438.3" y2="1312.1" class="k"/>
<line x1="423.5" y1="1218.4" x2="438.3" y2="1218.4" class="k"/>
<text x="453.1" y="1133.4">1000</text>
<text x="453.1" y="1227.7">500</text>
<text x="453.1" y="1321.4">0</text>
<line x1="157.6" y1="1400" x2="330.3" y2="1400" stroke="#000" stroke-width="1.2" stroke-dasharray="1.2 2"/>
<clipPath id="c10"><rect x="151.6" y="1355.4" width="182.7" height="68.4"/></clipPath>
<g clip-path="url(#c10)">
<rect x="153.6" y="1378.2" width="178.7" height="6.5" fill="#000"/>
<circle cx="175.6" cy="1392.1" r="2.7"/>
<circle cx="185.4" cy="1387.8" r="2.7"/>
<circle cx="191" cy="1393.6" r="2.7"/>
<circle cx="194.7" cy="1385.9" r="2.7"/>
<circle cx="222.5" cy="1388.4" r="2.7"/>
<circle cx="227.8" cy="1394" r="2.7"/>
<circle cx="248.2" cy="1390.9" r="2.7"/>
<circle cx="251" cy="1388.4" r="2.7"/>
<circle cx="276.6" cy="1389.3" r="2.7"/>
<circle cx="283.4" cy="1390.9" r="2.7"/>
<circle cx="292.1" cy="1386.8" r="2.7"/>
<circle cx="319.3" cy="1389.3" r="2.7"/>
<circle cx="323.9" cy="1387.8" r="2.7"/>
<circle cx="160.7" cy="1385.6" r="2.7"/>
<circle cx="204" cy="1385.9" r="2.7"/>
<circle cx="238" cy="1385.9" r="2.7"/>
<circle cx="265.8" cy="1385.9" r="2.7"/>
<circle cx="304.5" cy="1386.2" r="2.7"/>
</g>
<rect x="153.6" y="1358.4" width="178.7" height="62.4" fill="none" stroke="#000" stroke-width="2.4"/>
<line x1="140.6" y1="1358.4" x2="153.6" y2="1358.4" class="k"/>
<text x="125.1" y="1367.7" text-anchor="end">100</text>
<line x1="140.6" y1="1420.8" x2="153.6" y2="1420.8" class="k"/>
<text x="125.1" y="1430.1" text-anchor="end">0</text>
<line x1="153.6" y1="1420.8" x2="153.6" y2="1433.8" class="k"/>
<line x1="283.4" y1="1420.8" x2="283.4" y2="1433.8" class="k"/>
<text x="153.6" y="1466.1" text-anchor="middle">0</text>
<text x="283.4" y="1466.1" text-anchor="middle">100</text>
<text transform="translate(39.1 1389.6) rotate(-90)" text-anchor="middle">Cell</text>
<text transform="translate(65.1 1389.6) rotate(-90)" text-anchor="middle">Consistency (%)</text>
<text x="242.6" y="1503.3" text-anchor="middle">Cell (#)</text>
<line x1="407.7" y1="1358.4" x2="407.7" y2="1420.8" stroke="#000" stroke-width="1.2" stroke-dasharray="1.2 2"/>
<line x1="378.2" y1="1400" x2="423.5" y2="1400" stroke="#000" stroke-width="1.2" stroke-dasharray="1.2 2"/>
<line x1="376.2" y1="1358.4" x2="376.2" y2="1433.8" class="k"/>
<line x1="423.5" y1="1358.4" x2="423.5" y2="1433.8" class="k"/>
<line x1="376.2" y1="1358.4" x2="438.3" y2="1358.4" class="k"/>
<line x1="376.2" y1="1420.8" x2="438.3" y2="1420.8" class="k"/>
<text x="453.1" y="1367.7">100</text>
<text x="453.1" y="1430.1">0</text>
<text x="376.2" y="1466.1" text-anchor="middle">100</text>
<text x="424.1" y="1466.1" text-anchor="middle">0</text>
<line x1="376.2" y1="1381.3" x2="414.8" y2="1381.3" stroke="#000" stroke-width="1.6"/>
<line x1="376.2" y1="1378.3" x2="376.2" y2="1384.3" stroke="#000" stroke-width="1.6"/>
<line x1="414.8" y1="1378.3" x2="414.8" y2="1384.3" stroke="#000" stroke-width="1.6"/>
<line x1="393.5" y1="1377.9" x2="393.5" y2="1385.4" stroke="#000" stroke-width="1.6"/>
<line x1="390.5" y1="1377.9" x2="396.5" y2="1377.9" stroke="#000" stroke-width="1.6"/>
<line x1="390.5" y1="1385.4" x2="396.5" y2="1385.4" stroke="#000" stroke-width="1.6"/>
<g class="hm">
<rect x="675.5" y="1124.1" width="178.7" height="188" fill="#0a9c9c"/>
<rect x="675.5" y="1124.1" width="2.3" height="188" fill="#9e0a9e" opacity="0.50"/>
<rect x="681.6" y="1124.1" width="2.3" height="188" fill="#9e0a9e" opacity="0.50"/>
<rect x="687.7" y="1124.1" width="2.3" height="188" fill="#9e0a9e" opacity="0.50"/>
<rect x="691.7" y="1124.1" width="2.3" height="188" fill="#9e0a9e" opacity="0.50"/>
<rect x="695.8" y="1124.1" width="2.3" height="188" fill="#9e0a9e" opacity="0.50"/>
<rect x="699.9" y="1124.1" width="2.3" height="188" fill="#9e0a9e" opacity="0.50"/>
<rect x="701.9" y="1124.1" width="2.3" height="188" fill="#9e0a9e" opacity="0.50"/>
<rect x="703.9" y="1124.1" width="2.3" height="188" fill="#9e0a9e" opacity="0.50"/>
<rect x="706" y="1124.1" width="2.3" height="188" fill="#9e0a9e" opacity="0.50"/>
<rect x="708" y="1124.1" width="2.3" height="188" fill="#9e0a9e" opacity="0.50"/>
<rect x="710" y="1124.1" width="2.3" height="188" fill="#9e0a9e" opacity="0.50"/>
<rect x="712.1" y="1124.1" width="2.3" height="188" fill="#9e0a9e" opacity="1.00"/>
<rect x="714.1" y="1124.1" width="2.3" height="188" fill="#9e0a9e" opacity="0.50"/>
<rect x="716.1" y="1124.1" width="2.3" height="188" fill="#9e0a9e" opacity="0.50"/>
<rect x="718.1" y="1124.1" width="2.3" height="188" fill="#9e0a9e" opacity="0.50"/>
<rect x="720.2" y="1124.1" width="2.3" height="188" fill="#9e0a9e" opacity="1.00"/>
<rect x="722.2" y="1124.1" width="2.3" height="188" fill="#9e0a9e" opacity="0.50"/>
<rect x="724.2" y="1124.1" width="2.3" height="188" fill="#9e0a9e" opacity="1.00"/>
<rect x="726.3" y="1124.1" width="2.3" height="188" fill="#9e0a9e" opacity="1.00"/>
<rect x="728.3" y="1124.1" width="2.3" height="188" fill="#9e0a9e" opacity="1.00"/>
<rect x="730.3" y="1124.1" width="2.3" height="188" fill="#9e0a9e" opacity="0.50"/>
<rect x="732.4" y="1124.1" width="2.3" height="188" fill="#9e0a9e" opacity="1.00"/>
<rect x="734.4" y="1124.1" width="2.3" height="188" fill="#9e0a9e" opacity="0.50"/>
<rect x="736.4" y="1124.1" width="2.3" height="188" fill="#9e0a9e" opacity="0.50"/>
<rect x="738.5" y="1124.1" width="2.3" height="188" fill="#9e0a9e" opacity="0.50"/>
<rect x="740.5" y="1124.1" width="2.3" height="188" fill="#9e0a9e" opacity="0.50"/>
<rect x="742.5" y="1124.1" width="2.3" height="188" fill="#9e0a9e" opacity="0.50"/>
<rect x="744.5" y="1124.1" width="2.3" height="188" fill="#9e0a9e" opacity="0.50"/>
<rect x="746.6" y="1124.1" width="2.3" height="188" fill="#9e0a9e" opacity="0.50"/>
<rect x="748.6" y="1124.1" width="2.3" height="188" fill="#9e0a9e" opacity="0.50"/>
<rect x="750.6" y="1124.1" width="2.3" height="188" fill="#9e0a9e" opacity="0.50"/>
<rect x="752.7" y="1124.1" width="2.3" height="188" fill="#9e0a9e" opacity="1.00"/>
<rect x="754.7" y="1124.1" width="2.3" height="188" fill="#9e0a9e" opacity="0.50"/>
<rect x="756.7" y="1124.1" width="2.3" height="188" fill="#9e0a9e" opacity="0.50"/>
<rect x="758.8" y="1124.1" width="2.3" height="188" fill="#9e0a9e" opacity="0.50"/>
<rect x="760.8" y="1124.1" width="2.3" height="188" fill="#9e0a9e" opacity="0.50"/>
<rect x="762.8" y="1124.1" width="2.3" height="188" fill="#9e0a9e" opacity="0.50"/>
<rect x="764.9" y="1124.1" width="2.3" height="188" fill="#9e0a9e" opacity="0.50"/>
<rect x="766.9" y="1124.1" width="2.3" height="188" fill="#9e0a9e" opacity="0.50"/>
<rect x="768.9" y="1124.1" width="2.3" height="188" fill="#9e0a9e" opacity="0.50"/>
<rect x="770.9" y="1124.1" width="2.3" height="188" fill="#9e0a9e" opacity="0.50"/>
<rect x="773" y="1124.1" width="2.3" height="188" fill="#9e0a9e" opacity="0.50"/>
<rect x="775" y="1124.1" width="2.3" height="188" fill="#9e0a9e" opacity="0.50"/>
<rect x="777" y="1124.1" width="2.3" height="188" fill="#9e0a9e" opacity="0.50"/>
<rect x="779.1" y="1124.1" width="2.3" height="188" fill="#9e0a9e" opacity="0.50"/>
<rect x="781.1" y="1124.1" width="2.3" height="188" fill="#9e0a9e" opacity="0.50"/>
<rect x="783.1" y="1124.1" width="2.3" height="188" fill="#9e0a9e" opacity="0.50"/>
<rect x="785.2" y="1124.1" width="2.3" height="188" fill="#9e0a9e" opacity="0.50"/>
<rect x="787.2" y="1124.1" width="2.3" height="188" fill="#9e0a9e" opacity="0.50"/>
<rect x="789.2" y="1124.1" width="2.3" height="188" fill="#9e0a9e" opacity="0.50"/>
<rect x="791.2" y="1124.1" width="2.3" height="188" fill="#9e0a9e" opacity="0.50"/>
<rect x="795.3" y="1124.1" width="2.3" height="188" fill="#9e0a9e" opacity="1.00"/>
<rect x="797.3" y="1124.1" width="2.3" height="188" fill="#9e0a9e" opacity="0.50"/>
<rect x="799.4" y="1124.1" width="2.3" height="188" fill="#9e0a9e" opacity="0.50"/>
<rect x="801.4" y="1124.1" width="2.3" height="188" fill="#9e0a9e" opacity="0.50"/>
<rect x="803.4" y="1124.1" width="2.3" height="188" fill="#9e0a9e" opacity="0.50"/>
<rect x="805.5" y="1124.1" width="2.3" height="188" fill="#9e0a9e" opacity="0.50"/>
<rect x="807.5" y="1124.1" width="2.3" height="188" fill="#9e0a9e" opacity="0.50"/>
<rect x="809.5" y="1124.1" width="2.3" height="188" fill="#9e0a9e" opacity="0.50"/>
<rect x="811.6" y="1124.1" width="2.3" height="188" fill="#9e0a9e" opacity="0.50"/>
<rect x="813.6" y="1124.1" width="2.3" height="188" fill="#9e0a9e" opacity="0.50"/>
<rect x="815.6" y="1124.1" width="2.3" height="188" fill="#9e0a9e" opacity="0.50"/>
<rect x="817.6" y="1124.1" width="2.3" height="188" fill="#9e0a9e" opacity="0.50"/>
<rect x="819.7" y="1124.1" width="2.3" height="188" fill="#9e0a9e" opacity="0.50"/>
<rect x="821.7" y="1124.1" width="2.3" height="188" fill="#9e0a9e" opacity="0.50"/>
<rect x="823.7" y="1124.1" width="2.3" height="188" fill="#9e0a9e" opacity="0.50"/>
<rect x="825.8" y="1124.1" width="2.3" height="188" fill="#9e0a9e" opacity="0.50"/>
<rect x="829.8" y="1124.1" width="2.3" height="188" fill="#9e0a9e" opacity="0.50"/>
<rect x="831.9" y="1124.1" width="2.3" height="188" fill="#9e0a9e" opacity="0.50"/>
<rect x="833.9" y="1124.1" width="2.3" height="188" fill="#9e0a9e" opacity="0.50"/>
<rect x="835.9" y="1124.1" width="2.3" height="188" fill="#9e0a9e" opacity="0.50"/>
<rect x="838" y="1124.1" width="2.3" height="188" fill="#9e0a9e" opacity="0.50"/>
<rect x="842" y="1124.1" width="2.3" height="188" fill="#9e0a9e" opacity="0.50"/>
<rect x="844" y="1124.1" width="2.3" height="188" fill="#9e0a9e" opacity="0.50"/>
<rect x="846.1" y="1124.1" width="2.3" height="188" fill="#9e0a9e" opacity="0.50"/>
<rect x="848.1" y="1124.1" width="2.3" height="188" fill="#9e0a9e" opacity="0.50"/>
<rect x="850.1" y="1124.1" width="2.3" height="188" fill="#9e0a9e" opacity="0.50"/>
<rect x="852.2" y="1124.1" width="2.3" height="188" fill="#9e0a9e" opacity="0.50"/>
<rect x="675.5" y="1128.8" width="178.7" height="2.4" fill="#9e0a9e" opacity="0.42"/>
<rect x="675.5" y="1131.1" width="178.7" height="2.4" fill="#9e0a9e" opacity="0.42"/>
<rect x="675.5" y="1142.9" width="178.7" height="2.4" fill="#9e0a9e" opacity="0.42"/>
<rect x="675.5" y="1145.2" width="178.7" height="2.4" fill="#9e0a9e" opacity="0.42"/>
<rect x="675.5" y="1149.9" width="178.7" height="2.4" fill="#9e0a9e" opacity="0.42"/>
<rect x="675.5" y="1152.3" width="178.7" height="2.4" fill="#0a9c9c" opacity="0.50"/>
<rect x="675.5" y="1161.7" width="178.7" height="2.4" fill="#0a9c9c" opacity="0.50"/>
<rect x="675.5" y="1168.8" width="178.7" height="2.4" fill="#0a9c9c" opacity="0.50"/>
<rect x="675.5" y="1171.1" width="178.7" height="2.4" fill="#0a9c9c" opacity="0.50"/>
<rect x="675.5" y="1173.4" width="178.7" height="2.4" fill="#9e0a9e" opacity="0.42"/>
<rect x="675.5" y="1178.1" width="178.7" height="2.4" fill="#0a9c9c" opacity="0.50"/>
<rect x="675.5" y="1180.5" width="178.7" height="2.4" fill="#0a9c9c" opacity="0.50"/>
<rect x="675.5" y="1182.8" width="178.7" height="2.4" fill="#0a9c9c" opacity="0.50"/>
<rect x="675.5" y="1185.2" width="178.7" height="2.4" fill="#9e0a9e" opacity="0.42"/>
<rect x="675.5" y="1187.5" width="178.7" height="2.4" fill="#0a9c9c" opacity="0.50"/>
<rect x="675.5" y="1189.9" width="178.7" height="2.4" fill="#0a9c9c" opacity="0.50"/>
<rect x="675.5" y="1192.2" width="178.7" height="2.4" fill="#0a9c9c" opacity="0.50"/>
<rect x="675.5" y="1196.9" width="178.7" height="2.4" fill="#0a9c9c" opacity="0.50"/>
<rect x="675.5" y="1201.6" width="178.7" height="2.4" fill="#9e0a9e" opacity="0.42"/>
<rect x="675.5" y="1204" width="178.7" height="2.4" fill="#9e0a9e" opacity="0.42"/>
<rect x="675.5" y="1206.3" width="178.7" height="2.4" fill="#9e0a9e" opacity="0.42"/>
<rect x="675.5" y="1208.7" width="178.7" height="2.4" fill="#0a9c9c" opacity="0.50"/>
<rect x="675.5" y="1213.4" width="178.7" height="2.4" fill="#9e0a9e" opacity="0.42"/>
<rect x="675.5" y="1215.8" width="178.7" height="2.4" fill="#0a9c9c" opacity="0.50"/>
<rect x="675.5" y="1218.1" width="178.7" height="2.4" fill="#0a9c9c" opacity="0.50"/>
<rect x="675.5" y="1225.1" width="178.7" height="2.4" fill="#9e0a9e" opacity="0.42"/>
<rect x="675.5" y="1232.2" width="178.7" height="2.4" fill="#0a9c9c" opacity="0.50"/>
<rect x="675.5" y="1234.5" width="178.7" height="2.4" fill="#0a9c9c" opacity="0.50"/>
<rect x="675.5" y="1236.9" width="178.7" height="2.4" fill="#0a9c9c" opacity="0.50"/>
<rect x="675.5" y="1239.2" width="178.7" height="2.4" fill="#0a9c9c" opacity="0.50"/>
<rect x="675.5" y="1243.9" width="178.7" height="2.4" fill="#0a9c9c" opacity="0.50"/>
<rect x="675.5" y="1246.3" width="178.7" height="2.4" fill="#9e0a9e" opacity="0.42"/>
<rect x="675.5" y="1251" width="178.7" height="2.4" fill="#0a9c9c" opacity="0.50"/>
<rect x="675.5" y="1258" width="178.7" height="2.4" fill="#0a9c9c" opacity="0.50"/>
<rect x="675.5" y="1262.8" width="178.7" height="2.4" fill="#0a9c9c" opacity="0.50"/>
<rect x="675.5" y="1265.1" width="178.7" height="2.4" fill="#9e0a9e" opacity="0.42"/>
<rect x="675.5" y="1267.4" width="178.7" height="2.4" fill="#0a9c9c" opacity="0.50"/>
<rect x="675.5" y="1272.1" width="178.7" height="2.4" fill="#9e0a9e" opacity="0.42"/>
<rect x="675.5" y="1274.5" width="178.7" height="2.4" fill="#9e0a9e" opacity="0.42"/>
<rect x="675.5" y="1276.8" width="178.7" height="2.4" fill="#0a9c9c" opacity="0.50"/>
<rect x="675.5" y="1281.5" width="178.7" height="2.4" fill="#0a9c9c" opacity="0.50"/>
<rect x="675.5" y="1286.2" width="178.7" height="2.4" fill="#9e0a9e" opacity="0.42"/>
<rect x="675.5" y="1288.6" width="178.7" height="2.4" fill="#9e0a9e" opacity="0.42"/>
<rect x="675.5" y="1290.9" width="178.7" height="2.4" fill="#0a9c9c" opacity="0.50"/>
<rect x="675.5" y="1298" width="178.7" height="2.4" fill="#0a9c9c" opacity="0.50"/>
<rect x="675.5" y="1300.3" width="178.7" height="2.4" fill="#9e0a9e" opacity="0.42"/>
<rect x="675.5" y="1302.7" width="178.7" height="2.4" fill="#9e0a9e" opacity="0.42"/>
<rect x="675.5" y="1309.8" width="178.7" height="2.4" fill="#9e0a9e" opacity="0.42"/>
</g>
<rect x="675.5" y="1124.1" width="178.7" height="188" fill="none" stroke="#000" stroke-width="2.4"/>
<line x1="662.5" y1="1124.1" x2="675.5" y2="1124.1" class="k"/>
<text x="647" y="1133.4" text-anchor="end">1000</text>
<line x1="662.5" y1="1218.4" x2="675.5" y2="1218.4" class="k"/>
<text x="647" y="1227.7" text-anchor="end">500</text>
<text transform="translate(580.9 1202.6) rotate(-90)" text-anchor="middle">Iteration (#)</text>
<text x="764.5" y="1082.9" text-anchor="middle">Cell (#)</text>
<text x="922.2" y="1033.3" text-anchor="middle">Iteration</text>
<text x="922.2" y="1058.5" text-anchor="middle">Consistency (%)</text>
<text x="898.1" y="1092.1" text-anchor="middle">100</text>
<text x="946" y="1092.1" text-anchor="middle">0</text>
<clipPath id="c11"><rect x="895.1" y="1122.1" width="53.3" height="192"/></clipPath>
<g clip-path="url(#c11)">
<rect x="895.9" y="1122.1" width="12.7" height="192" fill="#000"/>
<circle cx="908.3" cy="1138.7" r="2.7"/>
<circle cx="910.8" cy="1293.3" r="2.7"/>
<circle cx="907.9" cy="1217.4" r="2.7"/>
<circle cx="909.3" cy="1219.8" r="2.7"/>
<circle cx="916.8" cy="1282.6" r="2.7"/>
<circle cx="908.9" cy="1289.9" r="2.7"/>
<circle cx="914.1" cy="1193.8" r="2.7"/>
<circle cx="907.6" cy="1147.9" r="2.7"/>
<circle cx="908.5" cy="1125.9" r="2.7"/>
<circle cx="915" cy="1281.4" r="2.7"/>
<circle cx="908.1" cy="1303.3" r="2.7"/>
<circle cx="909.1" cy="1146.8" r="2.7"/>
<circle cx="909.3" cy="1307.9" r="2.7"/>
<circle cx="909.1" cy="1127.9" r="2.7"/>
<circle cx="911.1" cy="1133.4" r="2.7"/>
<circle cx="908.5" cy="1154.8" r="2.7"/>
<circle cx="909.7" cy="1182.3" r="2.7"/>
<circle cx="908.6" cy="1277.2" r="2.7"/>
<circle cx="912.2" cy="1262.9" r="2.7"/>
<circle cx="909.7" cy="1268.9" r="2.7"/>
<circle cx="908" cy="1234.5" r="2.7"/>
<circle cx="911" cy="1170" r="2.7"/>
<circle cx="911.7" cy="1199.4" r="2.7"/>
<circle cx="907.9" cy="1137.2" r="2.7"/>
<circle cx="909.2" cy="1213.7" r="2.7"/>
<circle cx="911.5" cy="1256.1" r="2.7"/>
<circle cx="912.9" cy="1141.2" r="2.7"/>
<circle cx="909.8" cy="1133.2" r="2.7"/>
<circle cx="909.5" cy="1180.9" r="2.7"/>
<circle cx="909.3" cy="1130.9" r="2.7"/>
<circle cx="913.2" cy="1125.4" r="2.7"/>
<circle cx="909.4" cy="1303" r="2.7"/>
<circle cx="915" cy="1216.5" r="2.7"/>
<circle cx="909.8" cy="1240.3" r="2.7"/>
<circle cx="910.4" cy="1222.8" r="2.7"/>
<circle cx="907.8" cy="1194.8" r="2.7"/>
<circle cx="910.1" cy="1260" r="2.7"/>
<circle cx="914.7" cy="1219.9" r="2.7"/>
<circle cx="910" cy="1237.7" r="2.7"/>
<circle cx="912.6" cy="1150" r="2.7"/>
<circle cx="908.5" cy="1170.7" r="2.7"/>
<circle cx="907.6" cy="1303" r="2.7"/>
<circle cx="914.2" cy="1235.6" r="2.7"/>
<circle cx="908.9" cy="1183.5" r="2.7"/>
<circle cx="911.4" cy="1305.9" r="2.7"/>
<circle cx="909.6" cy="1139.8" r="2.7"/>
<circle cx="909.5" cy="1184" r="2.7"/>
<circle cx="910.8" cy="1139.6" r="2.7"/>
<circle cx="910.2" cy="1258.2" r="2.7"/>
<circle cx="907.9" cy="1270.7" r="2.7"/>
<circle cx="916" cy="1234" r="2.7"/>
<circle cx="908.5" cy="1195" r="2.7"/>
<circle cx="917.4" cy="1278.5" r="2.7"/>
<circle cx="909.8" cy="1158.4" r="2.7"/>
<circle cx="912.1" cy="1124.8" r="2.7"/>
<circle cx="911.8" cy="1251" r="2.7"/>
<circle cx="909" cy="1268.1" r="2.7"/>
<circle cx="908.9" cy="1183.9" r="2.7"/>
<circle cx="910.4" cy="1303.4" r="2.7"/>
<circle cx="907.9" cy="1207.2" r="2.7"/>
<circle cx="907.9" cy="1208.8" r="2.7"/>
<circle cx="907.8" cy="1280" r="2.7"/>
<circle cx="909.5" cy="1171.7" r="2.7"/>
<circle cx="908.2" cy="1139.9" r="2.7"/>
<circle cx="917.9" cy="1290.1" r="2.7"/>
<circle cx="907.8" cy="1286.7" r="2.7"/>
<circle cx="912.2" cy="1265.6" r="2.7"/>
<circle cx="909.9" cy="1310.6" r="2.7"/>
<circle cx="909.9" cy="1218.7" r="2.7"/>
<circle cx="908.6" cy="1309.8" r="2.7"/>
<circle cx="907.7" cy="1307.7" r="2.7"/>
<circle cx="911" cy="1258.5" r="2.7"/>
<circle cx="912" cy="1219.5" r="2.7"/>
<circle cx="917.8" cy="1240.8" r="2.7"/>
<circle cx="912.2" cy="1192.7" r="2.7"/>
<circle cx="908.2" cy="1265.5" r="2.7"/>
<circle cx="912.9" cy="1157.5" r="2.7"/>
<circle cx="910.8" cy="1297.1" r="2.7"/>
<circle cx="913" cy="1195" r="2.7"/>
<circle cx="908.5" cy="1221.9" r="2.7"/>
<circle cx="908" cy="1148.2" r="2.7"/>
<circle cx="910.2" cy="1161.2" r="2.7"/>
<circle cx="909.7" cy="1140.7" r="2.7"/>
<circle cx="909.3" cy="1283.4" r="2.7"/>
<circle cx="914.5" cy="1184.6" r="2.7"/>
<circle cx="909.2" cy="1174.7" r="2.7"/>
<circle cx="911.5" cy="1153.1" r="2.7"/>
<circle cx="909.5" cy="1224.7" r="2.7"/>
<circle cx="914" cy="1147.3" r="2.7"/>
<circle cx="908.9" cy="1207.8" r="2.7"/>
<circle cx="910.5" cy="1172.1" r="2.7"/>
<circle cx="909.1" cy="1311.2" r="2.7"/>
<circle cx="911.8" cy="1253.6" r="2.7"/>
<circle cx="907.7" cy="1152.1" r="2.7"/>
<circle cx="909" cy="1271.9" r="2.7"/>
<circle cx="908.4" cy="1303.1" r="2.7"/>
<circle cx="911.5" cy="1274.4" r="2.7"/>
<circle cx="910.7" cy="1138.1" r="2.7"/>
<circle cx="909.1" cy="1308.8" r="2.7"/>
<circle cx="912.1" cy="1216.2" r="2.7"/>
<circle cx="915.7" cy="1212.9" r="2.7"/>
<circle cx="908.5" cy="1216.7" r="2.7"/>
<circle cx="912.5" cy="1198.1" r="2.7"/>
<circle cx="913.5" cy="1259.3" r="2.7"/>
<circle cx="908.7" cy="1294.7" r="2.7"/>
<circle cx="909.1" cy="1189.5" r="2.7"/>
<circle cx="909" cy="1237.2" r="2.7"/>
<circle cx="913.7" cy="1242.5" r="2.7"/>
<circle cx="910.1" cy="1237.1" r="2.7"/>
<circle cx="912" cy="1127" r="2.7"/>
<circle cx="907.8" cy="1226.9" r="2.7"/>
<circle cx="909.1" cy="1239.2" r="2.7"/>
<circle cx="908.8" cy="1282.2" r="2.7"/>
<circle cx="913.2" cy="1241.7" r="2.7"/>
<circle cx="911.7" cy="1252.2" r="2.7"/>
<circle cx="911.9" cy="1139.1" r="2.7"/>
<circle cx="909.9" cy="1240.1" r="2.7"/>
<circle cx="910.9" cy="1251" r="2.7"/>
<circle cx="914" cy="1156.7" r="2.7"/>
<circle cx="914.1" cy="1138.5" r="2.7"/>
<circle cx="922.1" cy="1296.1" r="2.7"/>
<circle cx="934.1" cy="1162.1" r="2.7"/>
<rect x="938.1" y="1122.1" width="9.5" height="192" fill="#000"/>
<circle cx="938.5" cy="1284.2" r="2.7"/>
<circle cx="936.9" cy="1268.1" r="2.7"/>
<circle cx="934.9" cy="1139" r="2.7"/>
<circle cx="932.4" cy="1241" r="2.7"/>
<circle cx="937.4" cy="1155.6" r="2.7"/>
<circle cx="937.3" cy="1226.8" r="2.7"/>
<circle cx="937.8" cy="1310.2" r="2.7"/>
<circle cx="936.1" cy="1206.9" r="2.7"/>
<circle cx="938" cy="1228.9" r="2.7"/>
<circle cx="938.7" cy="1281.1" r="2.7"/>
<circle cx="939" cy="1261.6" r="2.7"/>
<circle cx="938" cy="1264.5" r="2.7"/>
<circle cx="938.4" cy="1284.5" r="2.7"/>
<circle cx="938.1" cy="1228.5" r="2.7"/>
<circle cx="937.6" cy="1250.2" r="2.7"/>
<circle cx="937.3" cy="1143.3" r="2.7"/>
<circle cx="938.4" cy="1150.6" r="2.7"/>
<circle cx="935.3" cy="1147" r="2.7"/>
<circle cx="937.6" cy="1161.3" r="2.7"/>
<circle cx="938.8" cy="1169.2" r="2.7"/>
<circle cx="938.8" cy="1262.6" r="2.7"/>
<circle cx="936.2" cy="1140" r="2.7"/>
<circle cx="938.3" cy="1221.4" r="2.7"/>
<circle cx="936.8" cy="1159.8" r="2.7"/>
<circle cx="938.7" cy="1129.8" r="2.7"/>
<circle cx="936.8" cy="1143.1" r="2.7"/>
<circle cx="938.3" cy="1204.3" r="2.7"/>
<circle cx="939.1" cy="1249" r="2.7"/>
<circle cx="938.4" cy="1303.8" r="2.7"/>
<circle cx="936.7" cy="1280.7" r="2.7"/>
<circle cx="933.8" cy="1301.8" r="2.7"/>
<circle cx="937.4" cy="1268" r="2.7"/>
<circle cx="939" cy="1301.4" r="2.7"/>
<circle cx="937.1" cy="1149.4" r="2.7"/>
<circle cx="938.6" cy="1215.7" r="2.7"/>
<circle cx="937.4" cy="1191.8" r="2.7"/>
<circle cx="937.4" cy="1139.6" r="2.7"/>
<circle cx="938.7" cy="1283.6" r="2.7"/>
<circle cx="937.7" cy="1135.4" r="2.7"/>
<circle cx="937.2" cy="1306.1" r="2.7"/>
<circle cx="938.4" cy="1165" r="2.7"/>
<circle cx="938.9" cy="1188.8" r="2.7"/>
<circle cx="938.7" cy="1125.1" r="2.7"/>
<circle cx="938.4" cy="1159.8" r="2.7"/>
<circle cx="939" cy="1138.5" r="2.7"/>
<circle cx="938.1" cy="1155" r="2.7"/>
<circle cx="938.8" cy="1160.5" r="2.7"/>
<circle cx="935.9" cy="1193.6" r="2.7"/>
<circle cx="934.6" cy="1163.1" r="2.7"/>
<circle cx="938.8" cy="1284.6" r="2.7"/>
<circle cx="938.5" cy="1302.3" r="2.7"/>
<circle cx="936.8" cy="1185.8" r="2.7"/>
<circle cx="936.9" cy="1160.7" r="2.7"/>
<circle cx="938.2" cy="1300.4" r="2.7"/>
<circle cx="937.9" cy="1161.7" r="2.7"/>
<circle cx="935.6" cy="1247.9" r="2.7"/>
<circle cx="937.9" cy="1239.4" r="2.7"/>
<circle cx="938.8" cy="1221.5" r="2.7"/>
<circle cx="935.2" cy="1237.6" r="2.7"/>
<circle cx="938.2" cy="1164.8" r="2.7"/>
<circle cx="939.1" cy="1152" r="2.7"/>
<circle cx="938.8" cy="1295.5" r="2.7"/>
<circle cx="935.5" cy="1140.4" r="2.7"/>
<circle cx="936.5" cy="1139.9" r="2.7"/>
<circle cx="936.6" cy="1143.3" r="2.7"/>
<circle cx="936.4" cy="1126" r="2.7"/>
<circle cx="938" cy="1212.2" r="2.7"/>
<circle cx="935.3" cy="1198" r="2.7"/>
<circle cx="937" cy="1125.6" r="2.7"/>
<circle cx="937.2" cy="1203.4" r="2.7"/>
<circle cx="936.9" cy="1236.2" r="2.7"/>
<circle cx="937.8" cy="1227.4" r="2.7"/>
<circle cx="938.6" cy="1229.7" r="2.7"/>
<circle cx="935.1" cy="1128.2" r="2.7"/>
<circle cx="939" cy="1271.6" r="2.7"/>
<circle cx="936.7" cy="1165" r="2.7"/>
<circle cx="937.1" cy="1182.1" r="2.7"/>
<circle cx="937.6" cy="1144.1" r="2.7"/>
<circle cx="936.9" cy="1179.4" r="2.7"/>
<circle cx="938.5" cy="1223.7" r="2.7"/>
<circle cx="934.5" cy="1137.1" r="2.7"/>
<circle cx="937.3" cy="1263" r="2.7"/>
<circle cx="938.3" cy="1228.9" r="2.7"/>
<circle cx="937" cy="1157.3" r="2.7"/>
<circle cx="939" cy="1239.2" r="2.7"/>
<circle cx="937.3" cy="1268.6" r="2.7"/>
<circle cx="938.4" cy="1219.9" r="2.7"/>
<circle cx="937.7" cy="1262.1" r="2.7"/>
<circle cx="936.1" cy="1246.3" r="2.7"/>
<circle cx="936.9" cy="1177.7" r="2.7"/>
<circle cx="935.6" cy="1256.2" r="2.7"/>
<circle cx="935.9" cy="1295.8" r="2.7"/>
<circle cx="939.1" cy="1151.3" r="2.7"/>
<circle cx="937.7" cy="1277.6" r="2.7"/>
<circle cx="937.7" cy="1254.4" r="2.7"/>
<circle cx="938.6" cy="1201.5" r="2.7"/>
<circle cx="934.4" cy="1253.9" r="2.7"/>
<circle cx="938.1" cy="1256.5" r="2.7"/>
<circle cx="936.5" cy="1292.2" r="2.7"/>
<circle cx="938.2" cy="1180.7" r="2.7"/>
<circle cx="936" cy="1195.5" r="2.7"/>
<circle cx="938.9" cy="1175.6" r="2.7"/>
<circle cx="935.4" cy="1178.4" r="2.7"/>
<circle cx="938.8" cy="1126.7" r="2.7"/>
<circle cx="937.5" cy="1293.6" r="2.7"/>
<circle cx="936.9" cy="1228.4" r="2.7"/>
<circle cx="937.3" cy="1278.7" r="2.7"/>
<circle cx="938.2" cy="1141.1" r="2.7"/>
<circle cx="937.5" cy="1186.9" r="2.7"/>
<circle cx="938.5" cy="1244.7" r="2.7"/>
<circle cx="936.9" cy="1191.4" r="2.7"/>
<circle cx="937.7" cy="1281.3" r="2.7"/>
<circle cx="934.7" cy="1163.1" r="2.7"/>
<circle cx="938.5" cy="1294.2" r="2.7"/>
<circle cx="937.8" cy="1275.5" r="2.7"/>
<circle cx="938.9" cy="1282.7" r="2.7"/>
<circle cx="935.4" cy="1303.9" r="2.7"/>
<circle cx="938.1" cy="1241.6" r="2.7"/>
<circle cx="936.3" cy="1268.9" r="2.7"/>
<circle cx="937.3" cy="1151.3" r="2.7"/>
</g>
<line x1="929.6" y1="1124.1" x2="929.6" y2="1312.1" stroke="#000" stroke-width="1.2" stroke-dasharray="1.2 2"/>
<line x1="898.1" y1="1111.1" x2="898.1" y2="1124.1" class="k"/>
<line x1="945.4" y1="1111.1" x2="945.4" y2="1312.1" class="k"/>
<line x1="898.1" y1="1124.1" x2="960.2" y2="1124.1" class="k"/>
<line x1="898.1" y1="1312.1" x2="960.2" y2="1312.1" class="k"/>
<line x1="945.4" y1="1218.4" x2="960.2" y2="1218.4" class="k"/>
<text x="975" y="1133.4">1000</text>
<text x="975" y="1227.7">500</text>
<text x="975" y="1321.4">0</text>
<line x1="679.5" y1="1400" x2="852.2" y2="1400" stroke="#000" stroke-width="1.2" stroke-dasharray="1.2 2"/>
<clipPath id="c12"><rect x="673.5" y="1355.4" width="182.7" height="68.4"/></clipPath>
<g clip-path="url(#c12)">
<rect x="675.5" y="1378.8" width="178.7" height="5.9" fill="#000"/>
<circle cx="681.7" cy="1393.6" r="2.7"/>
<circle cx="687.9" cy="1389.3" r="2.7"/>
<circle cx="695.6" cy="1394.6" r="2.7"/>
<circle cx="714.1" cy="1387.8" r="2.7"/>
<circle cx="736.4" cy="1388.4" r="2.7"/>
<circle cx="741" cy="1392.4" r="2.7"/>
<circle cx="747.2" cy="1395.2" r="2.7"/>
<circle cx="755" cy="1395.2" r="2.7"/>
<circle cx="757.4" cy="1389.9" r="2.7"/>
<circle cx="763.3" cy="1394" r="2.7"/>
<circle cx="775" cy="1394.6" r="2.7"/>
<circle cx="778.1" cy="1393.6" r="2.7"/>
<circle cx="781.2" cy="1394.6" r="2.7"/>
<circle cx="792.1" cy="1389.3" r="2.7"/>
<circle cx="796.1" cy="1394.6" r="2.7"/>
<circle cx="809.1" cy="1389.9" r="2.7"/>
<circle cx="812.1" cy="1390.9" r="2.7"/>
<circle cx="816.2" cy="1395.5" r="2.7"/>
<circle cx="819.9" cy="1390.6" r="2.7"/>
<circle cx="843.1" cy="1392.4" r="2.7"/>
<circle cx="844.6" cy="1393" r="2.7"/>
<circle cx="708.6" cy="1385.9" r="2.7"/>
<circle cx="796.7" cy="1386.8" r="2.7"/>
<circle cx="802.9" cy="1387.5" r="2.7"/>
<circle cx="829.2" cy="1385.9" r="2.7"/>
</g>
<rect x="675.5" y="1358.4" width="178.7" height="62.4" fill="none" stroke="#000" stroke-width="2.4"/>
<line x1="662.5" y1="1358.4" x2="675.5" y2="1358.4" class="k"/>
<text x="647" y="1367.7" text-anchor="end">100</text>
<line x1="662.5" y1="1420.8" x2="675.5" y2="1420.8" class="k"/>
<text x="647" y="1430.1" text-anchor="end">0</text>
<line x1="675.5" y1="1420.8" x2="675.5" y2="1433.8" class="k"/>
<line x1="777.2" y1="1420.8" x2="777.2" y2="1433.8" class="k"/>
<text x="675.5" y="1466.1" text-anchor="middle">0</text>
<text x="777.2" y="1466.1" text-anchor="middle">50</text>
<text transform="translate(561 1389.6) rotate(-90)" text-anchor="middle">Cell</text>
<text transform="translate(587 1389.6) rotate(-90)" text-anchor="middle">Consistency (%)</text>
<text x="764.5" y="1503.3" text-anchor="middle">Cell (#)</text>
<line x1="929.6" y1="1358.4" x2="929.6" y2="1420.8" stroke="#000" stroke-width="1.2" stroke-dasharray="1.2 2"/>
<line x1="900.1" y1="1400" x2="945.4" y2="1400" stroke="#000" stroke-width="1.2" stroke-dasharray="1.2 2"/>
<line x1="898.1" y1="1358.4" x2="898.1" y2="1433.8" class="k"/>
<line x1="945.4" y1="1358.4" x2="945.4" y2="1433.8" class="k"/>
<line x1="898.1" y1="1358.4" x2="960.2" y2="1358.4" class="k"/>
<line x1="898.1" y1="1420.8" x2="960.2" y2="1420.8" class="k"/>
<text x="975" y="1367.7">100</text>
<text x="975" y="1430.1">0</text>
<text x="898.1" y="1466.1" text-anchor="middle">100</text>
<text x="946" y="1466.1" text-anchor="middle">0</text>
<line x1="899.1" y1="1384.4" x2="938.6" y2="1384.4" stroke="#000" stroke-width="1.6"/>
<line x1="899.1" y1="1381.4" x2="899.1" y2="1387.4" stroke="#000" stroke-width="1.6"/>
<line x1="938.6" y1="1381.4" x2="938.6" y2="1387.4" stroke="#000" stroke-width="1.6"/>
<line x1="918.1" y1="1379.4" x2="918.1" y2="1388.9" stroke="#000" stroke-width="1.6"/>
<line x1="915.1" y1="1379.4" x2="921.1" y2="1379.4" stroke="#000" stroke-width="1.6"/>
<line x1="915.1" y1="1388.9" x2="921.1" y2="1388.9" stroke="#000" stroke-width="1.6"/>
<g class="hm">
<rect x="1197.7" y="1124.1" width="178.7" height="188" fill="#0a9c9c"/>
<rect x="1197.7" y="1124.1" width="2.9" height="188" fill="#9e0a9e" opacity="0.50"/>
<rect x="1200.3" y="1124.1" width="2.9" height="188" fill="#9e0a9e" opacity="0.50"/>
<rect x="1202.8" y="1124.1" width="2.9" height="188" fill="#9e0a9e" opacity="0.50"/>
<rect x="1205.4" y="1124.1" width="2.9" height="188" fill="#9e0a9e" opacity="0.50"/>
<rect x="1207.9" y="1124.1" width="2.9" height="188" fill="#9e0a9e" opacity="0.50"/>
<rect x="1210.5" y="1124.1" width="2.9" height="188" fill="#9e0a9e" opacity="0.50"/>
<rect x="1213" y="1124.1" width="2.9" height="188" fill="#9e0a9e" opacity="0.50"/>
<rect x="1215.6" y="1124.1" width="2.9" height="188" fill="#9e0a9e" opacity="0.50"/>
<rect x="1218.1" y="1124.1" width="2.9" height="188" fill="#9e0a9e" opacity="0.50"/>
<rect x="1220.7" y="1124.1" width="2.9" height="188" fill="#9e0a9e" opacity="0.50"/>
<rect x="1223.2" y="1124.1" width="2.9" height="188" fill="#9e0a9e" opacity="0.50"/>
<rect x="1225.8" y="1124.1" width="2.9" height="188" fill="#9e0a9e" opacity="0.50"/>
<rect x="1230.9" y="1124.1" width="2.9" height="188" fill="#9e0a9e" opacity="0.50"/>
<rect x="1233.4" y="1124.1" width="2.9" height="188" fill="#9e0a9e" opacity="0.50"/>
<rect x="1236" y="1124.1" width="2.9" height="188" fill="#9e0a9e" opacity="0.50"/>
<rect x="1238.5" y="1124.1" width="2.9" height="188" fill="#9e0a9e" opacity="0.50"/>
<rect x="1241.1" y="1124.1" width="2.9" height="188" fill="#9e0a9e" opacity="0.50"/>
<rect x="1243.7" y="1124.1" width="2.9" height="188" fill="#9e0a9e" opacity="0.50"/>
<rect x="1248.8" y="1124.1" width="2.9" height="188" fill="#9e0a9e" opacity="0.50"/>
<rect x="1251.3" y="1124.1" width="2.9" height="188" fill="#9e0a9e" opacity="0.50"/>
<rect x="1253.9" y="1124.1" width="2.9" height="188" fill="#9e0a9e" opacity="0.50"/>
<rect x="1256.4" y="1124.1" width="2.9" height="188" fill="#9e0a9e" opacity="0.50"/>
<rect x="1259" y="1124.1" width="2.9" height="188" fill="#9e0a9e" opacity="0.50"/>
<rect x="1261.5" y="1124.1" width="2.9" height="188" fill="#9e0a9e" opacity="0.50"/>
<rect x="1264.1" y="1124.1" width="2.9" height="188" fill="#9e0a9e" opacity="0.50"/>
<rect x="1266.6" y="1124.1" width="2.9" height="188" fill="#9e0a9e" opacity="0.50"/>
<rect x="1269.2" y="1124.1" width="2.9" height="188" fill="#9e0a9e" opacity="0.50"/>
<rect x="1271.7" y="1124.1" width="2.9" height="188" fill="#9e0a9e" opacity="0.50"/>
<rect x="1274.3" y="1124.1" width="2.9" height="188" fill="#9e0a9e" opacity="0.50"/>
<rect x="1276.8" y="1124.1" width="2.9" height="188" fill="#9e0a9e" opacity="0.50"/>
<rect x="1279.4" y="1124.1" width="2.9" height="188" fill="#9e0a9e" opacity="0.50"/>
<rect x="1281.9" y="1124.1" width="2.9" height="188" fill="#9e0a9e" opacity="0.50"/>
<rect x="1284.5" y="1124.1" width="2.9" height="188" fill="#9e0a9e" opacity="0.50"/>
<rect x="1287" y="1124.1" width="2.9" height="188" fill="#9e0a9e" opacity="0.50"/>
<rect x="1289.6" y="1124.1" width="2.9" height="188" fill="#9e0a9e" opacity="0.50"/>
<rect x="1292.2" y="1124.1" width="2.9" height="188" fill="#9e0a9e" opacity="0.50"/>
<rect x="1294.7" y="1124.1" width="2.9" height="188" fill="#9e0a9e" opacity="0.50"/>
<rect x="1297.3" y="1124.1" width="2.9" height="188" fill="#9e0a9e" opacity="0.50"/>
<rect x="1299.8" y="1124.1" width="2.9" height="188" fill="#9e0a9e" opacity="0.50"/>
<rect x="1302.4" y="1124.1" width="2.9" height="188" fill="#9e0a9e" opacity="0.50"/>
<rect x="1304.9" y="1124.1" width="2.9" height="188" fill="#9e0a9e" opacity="0.50"/>
<rect x="1307.5" y="1124.1" width="2.9" height="188" fill="#9e0a9e" opacity="0.50"/>
<rect x="1310" y="1124.1" width="2.9" height="188" fill="#9e0a9e" opacity="0.50"/>
<rect x="1312.6" y="1124.1" width="2.9" height="188" fill="#9e0a9e" opacity="0.50"/>
<rect x="1317.7" y="1124.1" width="2.9" height="188" fill="#9e0a9e" opacity="0.50"/>
<rect x="1320.2" y="1124.1" width="2.9" height="188" fill="#9e0a9e" opacity="0.50"/>
<rect x="1322.8" y="1124.1" width="2.9" height="188" fill="#9e0a9e" opacity="0.50"/>
<rect x="1325.3" y="1124.1" width="2.9" height="188" fill="#9e0a9e" opacity="0.50"/>
<rect x="1327.9" y="1124.1" width="2.9" height="188" fill="#9e0a9e" opacity="0.50"/>
<rect x="1330.4" y="1124.1" width="2.9" height="188" fill="#9e0a9e" opacity="0.50"/>
<rect x="1333" y="1124.1" width="2.9" height="188" fill="#9e0a9e" opacity="0.50"/>
<rect x="1335.6" y="1124.1" width="2.9" height="188" fill="#9e0a9e" opacity="0.50"/>
<rect x="1338.1" y="1124.1" width="2.9" height="188" fill="#9e0a9e" opacity="0.50"/>
<rect x="1340.7" y="1124.1" width="2.9" height="188" fill="#9e0a9e" opacity="0.50"/>
<rect x="1343.2" y="1124.1" width="2.9" height="188" fill="#9e0a9e" opacity="0.50"/>
<rect x="1345.8" y="1124.1" width="2.9" height="188" fill="#9e0a9e" opacity="0.50"/>
<rect x="1348.3" y="1124.1" width="2.9" height="188" fill="#9e0a9e" opacity="0.50"/>
<rect x="1350.9" y="1124.1" width="2.9" height="188" fill="#9e0a9e" opacity="0.50"/>
<rect x="1353.4" y="1124.1" width="2.9" height="188" fill="#9e0a9e" opacity="0.50"/>
<rect x="1356" y="1124.1" width="2.9" height="188" fill="#9e0a9e" opacity="0.50"/>
<rect x="1358.5" y="1124.1" width="2.9" height="188" fill="#9e0a9e" opacity="0.50"/>
<rect x="1361.1" y="1124.1" width="2.9" height="188" fill="#9e0a9e" opacity="0.50"/>
<rect x="1363.6" y="1124.1" width="2.9" height="188" fill="#9e0a9e" opacity="0.50"/>
<rect x="1366.2" y="1124.1" width="2.9" height="188" fill="#9e0a9e" opacity="0.50"/>
<rect x="1368.7" y="1124.1" width="2.9" height="188" fill="#9e0a9e" opacity="0.50"/>
<rect x="1373.8" y="1124.1" width="2.9" height="188" fill="#9e0a9e" opacity="0.50"/>
<rect x="1197.7" y="1124.1" width="178.7" height="1.9" fill="#0a9c9c" opacity="0.50"/>
<rect x="1197.7" y="1126" width="178.7" height="1.9" fill="#9e0a9e" opacity="0.42"/>
<rect x="1197.7" y="1129.8" width="178.7" height="1.9" fill="#9e0a9e" opacity="0.42"/>
<rect x="1197.7" y="1131.7" width="178.7" height="1.9" fill="#9e0a9e" opacity="0.42"/>
<rect x="1197.7" y="1133.6" width="178.7" height="1.9" fill="#9e0a9e" opacity="0.42"/>
<rect x="1197.7" y="1137.4" width="178.7" height="1.9" fill="#9e0a9e" opacity="0.42"/>
<rect x="1197.7" y="1139.3" width="178.7" height="1.9" fill="#9e0a9e" opacity="0.42"/>
<rect x="1197.7" y="1141.2" width="178.7" height="1.9" fill="#0a9c9c" opacity="0.50"/>
<rect x="1197.7" y="1143.1" width="178.7" height="1.9" fill="#9e0a9e" opacity="0.42"/>
<rect x="1197.7" y="1145" width="178.7" height="1.9" fill="#0a9c9c" opacity="0.50"/>
<rect x="1197.7" y="1146.9" width="178.7" height="1.9" fill="#0a9c9c" opacity="0.50"/>
<rect x="1197.7" y="1148.8" width="178.7" height="1.9" fill="#0a9c9c" opacity="0.50"/>
<rect x="1197.7" y="1152.6" width="178.7" height="1.9" fill="#0a9c9c" opacity="0.50"/>
<rect x="1197.7" y="1154.5" width="178.7" height="1.9" fill="#9e0a9e" opacity="0.42"/>
<rect x="1197.7" y="1156.4" width="178.7" height="1.9" fill="#9e0a9e" opacity="0.42"/>
<rect x="1197.7" y="1158.3" width="178.7" height="1.9" fill="#0a9c9c" opacity="0.50"/>
<rect x="1197.7" y="1160.2" width="178.7" height="1.9" fill="#0a9c9c" opacity="0.50"/>
<rect x="1197.7" y="1164" width="178.7" height="1.9" fill="#0a9c9c" opacity="0.50"/>
<rect x="1197.7" y="1167.8" width="178.7" height="1.9" fill="#9e0a9e" opacity="0.42"/>
<rect x="1197.7" y="1169.7" width="178.7" height="1.9" fill="#0a9c9c" opacity="0.50"/>
<rect x="1197.7" y="1173.5" width="178.7" height="1.9" fill="#9e0a9e" opacity="0.42"/>
<rect x="1197.7" y="1177.3" width="178.7" height="1.9" fill="#0a9c9c" opacity="0.50"/>
<rect x="1197.7" y="1179.2" width="178.7" height="1.9" fill="#9e0a9e" opacity="0.42"/>
<rect x="1197.7" y="1181.1" width="178.7" height="1.9" fill="#9e0a9e" opacity="0.42"/>
<rect x="1197.7" y="1183" width="178.7" height="1.9" fill="#9e0a9e" opacity="0.42"/>
<rect x="1197.7" y="1190.6" width="178.7" height="1.9" fill="#9e0a9e" opacity="0.42"/>
<rect x="1197.7" y="1194.4" width="178.7" height="1.9" fill="#0a9c9c" opacity="0.50"/>
<rect x="1197.7" y="1196.3" width="178.7" height="1.9" fill="#0a9c9c" opacity="0.50"/>
<rect x="1197.7" y="1200.1" width="178.7" height="1.9" fill="#9e0a9e" opacity="0.42"/>
<rect x="1197.7" y="1205.8" width="178.7" height="1.9" fill="#9e0a9e" opacity="0.42"/>
<rect x="1197.7" y="1207.7" width="178.7" height="1.9" fill="#0a9c9c" opacity="0.50"/>
<rect x="1197.7" y="1211.5" width="178.7" height="1.9" fill="#0a9c9c" opacity="0.50"/>
<rect x="1197.7" y="1215.3" width="178.7" height="1.9" fill="#9e0a9e" opacity="0.42"/>
<rect x="1197.7" y="1217.2" width="178.7" height="1.9" fill="#0a9c9c" opacity="0.50"/>
<rect x="1197.7" y="1219.1" width="178.7" height="1.9" fill="#9e0a9e" opacity="0.42"/>
<rect x="1197.7" y="1221" width="178.7" height="1.9" fill="#0a9c9c" opacity="0.50"/>
<rect x="1197.7" y="1226.7" width="178.7" height="1.9" fill="#0a9c9c" opacity="0.50"/>
<rect x="1197.7" y="1234.3" width="178.7" height="1.9" fill="#9e0a9e" opacity="0.42"/>
<rect x="1197.7" y="1236.2" width="178.7" height="1.9" fill="#0a9c9c" opacity="0.50"/>
<rect x="1197.7" y="1238.1" width="178.7" height="1.9" fill="#0a9c9c" opacity="0.50"/>
<rect x="1197.7" y="1240" width="178.7" height="1.9" fill="#9e0a9e" opacity="0.42"/>
<rect x="1197.7" y="1241.9" width="178.7" height="1.9" fill="#0a9c9c" opacity="0.50"/>
<rect x="1197.7" y="1243.8" width="178.7" height="1.9" fill="#9e0a9e" opacity="0.42"/>
<rect x="1197.7" y="1245.7" width="178.7" height="1.9" fill="#0a9c9c" opacity="0.50"/>
<rect x="1197.7" y="1249.5" width="178.7" height="1.9" fill="#0a9c9c" opacity="0.50"/>
<rect x="1197.7" y="1255.2" width="178.7" height="1.9" fill="#0a9c9c" opacity="0.50"/>
<rect x="1197.7" y="1268.5" width="178.7" height="1.9" fill="#0a9c9c" opacity="0.50"/>
<rect x="1197.7" y="1270.4" width="178.7" height="1.9" fill="#9e0a9e" opacity="0.42"/>
<rect x="1197.7" y="1272.3" width="178.7" height="1.9" fill="#0a9c9c" opacity="0.50"/>
<rect x="1197.7" y="1274.2" width="178.7" height="1.9" fill="#9e0a9e" opacity="0.42"/>
<rect x="1197.7" y="1276.1" width="178.7" height="1.9" fill="#9e0a9e" opacity="0.42"/>
<rect x="1197.7" y="1279.9" width="178.7" height="1.9" fill="#9e0a9e" opacity="0.42"/>
<rect x="1197.7" y="1285.6" width="178.7" height="1.9" fill="#0a9c9c" opacity="0.50"/>
<rect x="1197.7" y="1287.5" width="178.7" height="1.9" fill="#0a9c9c" opacity="0.50"/>
<rect x="1197.7" y="1289.4" width="178.7" height="1.9" fill="#0a9c9c" opacity="0.50"/>
<rect x="1197.7" y="1291.3" width="178.7" height="1.9" fill="#0a9c9c" opacity="0.50"/>
<rect x="1197.7" y="1293.2" width="178.7" height="1.9" fill="#9e0a9e" opacity="0.42"/>
<rect x="1197.7" y="1295.1" width="178.7" height="1.9" fill="#0a9c9c" opacity="0.50"/>
<rect x="1197.7" y="1297" width="178.7" height="1.9" fill="#0a9c9c" opacity="0.50"/>
<rect x="1197.7" y="1300.8" width="178.7" height="1.9" fill="#9e0a9e" opacity="0.42"/>
<rect x="1197.7" y="1306.5" width="178.7" height="1.9" fill="#0a9c9c" opacity="0.50"/>
<rect x="1197.7" y="1308.4" width="178.7" height="1.9" fill="#0a9c9c" opacity="0.50"/>
</g>
<rect x="1197.7" y="1124.1" width="178.7" height="188" fill="none" stroke="#000" stroke-width="2.4"/>
<line x1="1184.7" y1="1124.1" x2="1197.7" y2="1124.1" class="k"/>
<text x="1169.2" y="1133.4" text-anchor="end">1000</text>
<line x1="1184.7" y1="1218.4" x2="1197.7" y2="1218.4" class="k"/>
<text x="1169.2" y="1227.7" text-anchor="end">500</text>
<text transform="translate(1109.3 1202.6) rotate(-90)" text-anchor="middle">Iteration (#)</text>
<text x="1286.7" y="1082.9" text-anchor="middle">Cell (#)</text>
<text x="1444.4" y="1033.3" text-anchor="middle">Iteration</text>
<text x="1444.4" y="1058.5" text-anchor="middle">Consistency (%)</text>
<text x="1420.3" y="1092.1" text-anchor="middle">100</text>
<text x="1468.2" y="1092.1" text-anchor="middle">0</text>
<clipPath id="c13"><rect x="1417.3" y="1122.1" width="53.3" height="192"/></clipPath>
<g clip-path="url(#c13)">
<rect x="1418.1" y="1122.1" width="33.2" height="192" fill="#000"/>
<circle cx="1459.3" cy="1231.3" r="2.7"/>
<circle cx="1460.2" cy="1176.2" r="2.7"/>
<circle cx="1462.6" cy="1246.6" r="2.7"/>
<circle cx="1460.4" cy="1159.2" r="2.7"/>
<circle cx="1456.7" cy="1246.6" r="2.7"/>
<circle cx="1456.1" cy="1305.7" r="2.7"/>
<circle cx="1466.7" cy="1223.4" r="2.7"/>
<circle cx="1456.2" cy="1243.6" r="2.7"/>
<circle cx="1453.4" cy="1180.7" r="2.7"/>
<circle cx="1458.2" cy="1134" r="2.7"/>
<circle cx="1451" cy="1238.3" r="2.7"/>
<circle cx="1457.9" cy="1283.3" r="2.7"/>
<circle cx="1460.6" cy="1298.6" r="2.7"/>
<circle cx="1454.1" cy="1146.1" r="2.7"/>
<circle cx="1456.2" cy="1134.6" r="2.7"/>
<circle cx="1451" cy="1164.2" r="2.7"/>
<circle cx="1450.3" cy="1292.7" r="2.7"/>
<circle cx="1454" cy="1184.6" r="2.7"/>
<circle cx="1450.4" cy="1169.7" r="2.7"/>
<circle cx="1451.1" cy="1222.7" r="2.7"/>
<circle cx="1454" cy="1181.3" r="2.7"/>
<circle cx="1453.2" cy="1144.8" r="2.7"/>
<circle cx="1458.7" cy="1130.3" r="2.7"/>
<circle cx="1459" cy="1229.3" r="2.7"/>
<circle cx="1452.5" cy="1147.4" r="2.7"/>
<circle cx="1453.3" cy="1183.6" r="2.7"/>
<circle cx="1451.1" cy="1134.9" r="2.7"/>
<circle cx="1455.1" cy="1160.4" r="2.7"/>
<circle cx="1458.2" cy="1247" r="2.7"/>
<circle cx="1452.5" cy="1191.4" r="2.7"/>
<circle cx="1451.7" cy="1225.4" r="2.7"/>
<circle cx="1456.4" cy="1137.3" r="2.7"/>
<circle cx="1459.5" cy="1214.6" r="2.7"/>
<circle cx="1459" cy="1145" r="2.7"/>
<circle cx="1459.4" cy="1288.2" r="2.7"/>
<circle cx="1451.1" cy="1207.5" r="2.7"/>
<circle cx="1459" cy="1183.4" r="2.7"/>
<circle cx="1457.6" cy="1154.8" r="2.7"/>
<circle cx="1451.7" cy="1217.1" r="2.7"/>
<circle cx="1451.5" cy="1140.5" r="2.7"/>
<circle cx="1451.3" cy="1237.2" r="2.7"/>
<circle cx="1458.3" cy="1203.4" r="2.7"/>
<circle cx="1451.3" cy="1219.4" r="2.7"/>
<circle cx="1465.1" cy="1304.9" r="2.7"/>
<circle cx="1457.6" cy="1214.7" r="2.7"/>
<circle cx="1451.2" cy="1275.1" r="2.7"/>
<circle cx="1454" cy="1185.2" r="2.7"/>
<circle cx="1453.2" cy="1257.9" r="2.7"/>
<circle cx="1452.6" cy="1241" r="2.7"/>
<circle cx="1460.2" cy="1267.1" r="2.7"/>
<circle cx="1454.1" cy="1305.7" r="2.7"/>
<circle cx="1457.1" cy="1276.3" r="2.7"/>
<circle cx="1458.5" cy="1298.1" r="2.7"/>
<circle cx="1459.2" cy="1234.4" r="2.7"/>
<circle cx="1456.3" cy="1220.3" r="2.7"/>
<circle cx="1458.5" cy="1259.7" r="2.7"/>
<circle cx="1455.1" cy="1166.9" r="2.7"/>
<circle cx="1453.5" cy="1233.8" r="2.7"/>
<circle cx="1451.8" cy="1231.8" r="2.7"/>
<circle cx="1454.8" cy="1302.7" r="2.7"/>
<circle cx="1461.5" cy="1137.5" r="2.7"/>
<circle cx="1455.9" cy="1231.9" r="2.7"/>
<circle cx="1450.7" cy="1311.3" r="2.7"/>
<circle cx="1451.1" cy="1300.7" r="2.7"/>
<circle cx="1461.8" cy="1201.8" r="2.7"/>
<circle cx="1457" cy="1150.1" r="2.7"/>
<circle cx="1462.9" cy="1131.6" r="2.7"/>
<circle cx="1452" cy="1272.9" r="2.7"/>
<circle cx="1455.6" cy="1167" r="2.7"/>
<circle cx="1454.8" cy="1274.4" r="2.7"/>
<circle cx="1463.1" cy="1263.4" r="2.7"/>
<circle cx="1464.5" cy="1266" r="2.7"/>
<circle cx="1451.1" cy="1281.2" r="2.7"/>
<circle cx="1450.4" cy="1286.2" r="2.7"/>
<circle cx="1452.1" cy="1240.4" r="2.7"/>
<circle cx="1453.7" cy="1186.6" r="2.7"/>
<circle cx="1458.2" cy="1187.9" r="2.7"/>
<circle cx="1450.5" cy="1162.1" r="2.7"/>
<circle cx="1451.4" cy="1139.5" r="2.7"/>
<circle cx="1453.9" cy="1142.9" r="2.7"/>
<circle cx="1459.2" cy="1202" r="2.7"/>
<circle cx="1459.8" cy="1226.5" r="2.7"/>
<circle cx="1453.7" cy="1210.6" r="2.7"/>
<circle cx="1454.4" cy="1128.5" r="2.7"/>
<circle cx="1453.9" cy="1138.9" r="2.7"/>
<circle cx="1456.2" cy="1171.6" r="2.7"/>
<circle cx="1450.8" cy="1181.7" r="2.7"/>
<circle cx="1451.1" cy="1208.5" r="2.7"/>
<circle cx="1452.6" cy="1196.1" r="2.7"/>
<circle cx="1461.7" cy="1166.3" r="2.7"/>
<circle cx="1461.1" cy="1132" r="2.7"/>
<circle cx="1467.3" cy="1189.1" r="2.7"/>
<circle cx="1460.6" cy="1146.1" r="2.7"/>
<circle cx="1452.2" cy="1303.9" r="2.7"/>
<circle cx="1451.1" cy="1186.4" r="2.7"/>
<circle cx="1452.3" cy="1168.8" r="2.7"/>
<circle cx="1463.1" cy="1273.5" r="2.7"/>
<circle cx="1451.6" cy="1196.6" r="2.7"/>
<circle cx="1459.3" cy="1288.9" r="2.7"/>
<circle cx="1455.1" cy="1159.6" r="2.7"/>
<circle cx="1456" cy="1161.6" r="2.7"/>
<circle cx="1455.5" cy="1276.9" r="2.7"/>
<circle cx="1452.3" cy="1177.5" r="2.7"/>
<circle cx="1466" cy="1242" r="2.7"/>
<circle cx="1459.1" cy="1168.2" r="2.7"/>
<circle cx="1465.8" cy="1274.7" r="2.7"/>
<circle cx="1453" cy="1207.6" r="2.7"/>
<circle cx="1452.3" cy="1268.6" r="2.7"/>
<circle cx="1450.7" cy="1153.9" r="2.7"/>
<circle cx="1452.1" cy="1154.9" r="2.7"/>
<circle cx="1454.8" cy="1196.2" r="2.7"/>
<circle cx="1451" cy="1203.9" r="2.7"/>
<circle cx="1453.5" cy="1266.6" r="2.7"/>
<circle cx="1452.5" cy="1222.3" r="2.7"/>
<circle cx="1458.5" cy="1294" r="2.7"/>
<circle cx="1455" cy="1141.3" r="2.7"/>
<circle cx="1465.9" cy="1288.4" r="2.7"/>
<circle cx="1451" cy="1223.9" r="2.7"/>
<circle cx="1461.3" cy="1196" r="2.7"/>
<circle cx="1457" cy="1311" r="2.7"/>
<circle cx="1456.6" cy="1216.9" r="2.7"/>
<circle cx="1450.6" cy="1225.6" r="2.7"/>
<circle cx="1452" cy="1226.3" r="2.7"/>
<circle cx="1458.2" cy="1296.2" r="2.7"/>
<circle cx="1450.4" cy="1168.5" r="2.7"/>
<circle cx="1456.5" cy="1285.5" r="2.7"/>
<circle cx="1458.1" cy="1181.1" r="2.7"/>
<circle cx="1465.1" cy="1288.7" r="2.7"/>
<circle cx="1453" cy="1275.3" r="2.7"/>
<circle cx="1457.8" cy="1278.9" r="2.7"/>
<circle cx="1462.1" cy="1170.3" r="2.7"/>
<circle cx="1459.1" cy="1299.6" r="2.7"/>
<circle cx="1451.6" cy="1190" r="2.7"/>
<circle cx="1451.5" cy="1183.6" r="2.7"/>
<circle cx="1452.9" cy="1227" r="2.7"/>
<circle cx="1463.6" cy="1246.3" r="2.7"/>
<circle cx="1453.3" cy="1240.9" r="2.7"/>
<circle cx="1456" cy="1246.3" r="2.7"/>
<circle cx="1451.2" cy="1190.1" r="2.7"/>
<circle cx="1453.8" cy="1272.4" r="2.7"/>
<circle cx="1461.6" cy="1293.4" r="2.7"/>
<circle cx="1452.5" cy="1135.8" r="2.7"/>
<circle cx="1456.7" cy="1202.6" r="2.7"/>
<circle cx="1464.6" cy="1205.5" r="2.7"/>
<circle cx="1453.7" cy="1220.1" r="2.7"/>
<circle cx="1454.7" cy="1169.8" r="2.7"/>
<circle cx="1459.5" cy="1135.8" r="2.7"/>
<circle cx="1451.1" cy="1262.9" r="2.7"/>
<circle cx="1451.6" cy="1250.2" r="2.7"/>
<circle cx="1469.3" cy="1138.9" r="2.7"/>
<circle cx="1452.6" cy="1205.3" r="2.7"/>
<circle cx="1454.3" cy="1304.8" r="2.7"/>
<circle cx="1453.4" cy="1258.5" r="2.7"/>
<circle cx="1453.6" cy="1276.4" r="2.7"/>
<circle cx="1452.2" cy="1194.1" r="2.7"/>
<circle cx="1456.1" cy="1185.3" r="2.7"/>
<circle cx="1454" cy="1234.8" r="2.7"/>
<circle cx="1459.3" cy="1136" r="2.7"/>
<circle cx="1455.8" cy="1224.7" r="2.7"/>
<circle cx="1453.5" cy="1287.2" r="2.7"/>
<circle cx="1454.4" cy="1298.6" r="2.7"/>
<circle cx="1456.6" cy="1155.3" r="2.7"/>
<circle cx="1451.4" cy="1241.7" r="2.7"/>
<circle cx="1454.5" cy="1224.2" r="2.7"/>
<circle cx="1458.2" cy="1161.7" r="2.7"/>
<circle cx="1459.7" cy="1126.3" r="2.7"/>
<circle cx="1452.7" cy="1243" r="2.7"/>
<circle cx="1456.5" cy="1260.1" r="2.7"/>
<circle cx="1455.1" cy="1305.6" r="2.7"/>
<circle cx="1461.5" cy="1189.3" r="2.7"/>
<circle cx="1455.3" cy="1300.9" r="2.7"/>
<circle cx="1459.8" cy="1139.7" r="2.7"/>
<circle cx="1451" cy="1229.4" r="2.7"/>
<circle cx="1466.4" cy="1268" r="2.7"/>
<circle cx="1458.6" cy="1227.4" r="2.7"/>
<circle cx="1456.3" cy="1246" r="2.7"/>
<circle cx="1453" cy="1239" r="2.7"/>
<circle cx="1462" cy="1300.3" r="2.7"/>
<circle cx="1458.8" cy="1240.8" r="2.7"/>
<circle cx="1458.7" cy="1195.6" r="2.7"/>
<circle cx="1459.4" cy="1275" r="2.7"/>
<circle cx="1460.5" cy="1289.4" r="2.7"/>
<circle cx="1459.7" cy="1292.7" r="2.7"/>
<circle cx="1456.3" cy="1217.8" r="2.7"/>
<circle cx="1460.2" cy="1178.3" r="2.7"/>
<circle cx="1462.1" cy="1191.5" r="2.7"/>
<circle cx="1451" cy="1163.7" r="2.7"/>
<circle cx="1466.2" cy="1162.8" r="2.7"/>
<circle cx="1457.3" cy="1150.2" r="2.7"/>
<circle cx="1456.3" cy="1280.5" r="2.7"/>
<circle cx="1450.9" cy="1170.7" r="2.7"/>
<circle cx="1452.5" cy="1163.4" r="2.7"/>
<circle cx="1450.7" cy="1226.9" r="2.7"/>
<circle cx="1458.8" cy="1253.4" r="2.7"/>
<circle cx="1456.6" cy="1191.7" r="2.7"/>
<circle cx="1456.4" cy="1124.5" r="2.7"/>
<circle cx="1456.6" cy="1161.8" r="2.7"/>
<circle cx="1458.9" cy="1161.1" r="2.7"/>
<circle cx="1460.8" cy="1169.9" r="2.7"/>
<circle cx="1450.9" cy="1201.3" r="2.7"/>
<circle cx="1453.2" cy="1271.3" r="2.7"/>
<circle cx="1463.4" cy="1229.1" r="2.7"/>
<circle cx="1456.6" cy="1239.6" r="2.7"/>
<circle cx="1454.7" cy="1197.9" r="2.7"/>
<circle cx="1460.3" cy="1172.2" r="2.7"/>
<circle cx="1461.7" cy="1166" r="2.7"/>
<circle cx="1452.5" cy="1145.5" r="2.7"/>
<circle cx="1454.1" cy="1128.5" r="2.7"/>
<circle cx="1451.9" cy="1295.7" r="2.7"/>
<circle cx="1450.8" cy="1224" r="2.7"/>
<circle cx="1467.7" cy="1156.8" r="2.7"/>
<circle cx="1452.1" cy="1308" r="2.7"/>
<circle cx="1452" cy="1198.9" r="2.7"/>
<circle cx="1458.6" cy="1139.2" r="2.7"/>
<circle cx="1455" cy="1199.4" r="2.7"/>
<circle cx="1462" cy="1260" r="2.7"/>
<circle cx="1458.6" cy="1309.8" r="2.7"/>
<circle cx="1458" cy="1277.9" r="2.7"/>
<circle cx="1460.4" cy="1297.9" r="2.7"/>
<circle cx="1461" cy="1188.1" r="2.7"/>
<circle cx="1453" cy="1195.1" r="2.7"/>
<circle cx="1452.8" cy="1182" r="2.7"/>
<circle cx="1451.6" cy="1193.8" r="2.7"/>
<circle cx="1454.8" cy="1246.8" r="2.7"/>
<circle cx="1462.5" cy="1182.3" r="2.7"/>
<circle cx="1454.9" cy="1302" r="2.7"/>
<circle cx="1451.5" cy="1166.2" r="2.7"/>
<circle cx="1453.1" cy="1165.6" r="2.7"/>
<circle cx="1456.2" cy="1155" r="2.7"/>
<circle cx="1457.5" cy="1278.6" r="2.7"/>
<circle cx="1450.8" cy="1248.1" r="2.7"/>
<circle cx="1465.1" cy="1233.8" r="2.7"/>
<circle cx="1457.8" cy="1166.5" r="2.7"/>
<circle cx="1462.5" cy="1278.3" r="2.7"/>
<circle cx="1462.9" cy="1245.5" r="2.7"/>
<circle cx="1454.2" cy="1199.8" r="2.7"/>
<circle cx="1464.8" cy="1159.1" r="2.7"/>
<circle cx="1457.5" cy="1291.2" r="2.7"/>
<circle cx="1458.2" cy="1125.3" r="2.7"/>
<circle cx="1450.7" cy="1295.2" r="2.7"/>
<circle cx="1451.7" cy="1289.3" r="2.7"/>
<circle cx="1452.7" cy="1162.8" r="2.7"/>
<circle cx="1456.2" cy="1269.6" r="2.7"/>
<circle cx="1452.6" cy="1304.7" r="2.7"/>
<circle cx="1465.3" cy="1127.4" r="2.7"/>
<circle cx="1451.6" cy="1255.8" r="2.7"/>
<circle cx="1451.6" cy="1291.1" r="2.7"/>
<circle cx="1459.5" cy="1308.1" r="2.7"/>
<circle cx="1469.3" cy="1149" r="2.7"/>
<circle cx="1459.8" cy="1154.3" r="2.7"/>
<circle cx="1450.3" cy="1269.6" r="2.7"/>
<circle cx="1455.9" cy="1310.2" r="2.7"/>
<circle cx="1465.2" cy="1270.9" r="2.7"/>
<circle cx="1466.6" cy="1290" r="2.7"/>
<circle cx="1462.8" cy="1214.2" r="2.7"/>
<circle cx="1452.6" cy="1234.1" r="2.7"/>
<circle cx="1457.6" cy="1264" r="2.7"/>
<circle cx="1454.3" cy="1276" r="2.7"/>
<circle cx="1453.3" cy="1261" r="2.7"/>
<circle cx="1456.1" cy="1209.5" r="2.7"/>
<circle cx="1467.2" cy="1210.4" r="2.7"/>
<circle cx="1451.4" cy="1124.4" r="2.7"/>
<circle cx="1459.7" cy="1240.3" r="2.7"/>
<circle cx="1461.4" cy="1223.3" r="2.7"/>
<circle cx="1464.6" cy="1292.9" r="2.7"/>
<circle cx="1459.5" cy="1155.8" r="2.7"/>
<circle cx="1451.5" cy="1136.2" r="2.7"/>
<circle cx="1458.4" cy="1270.3" r="2.7"/>
<circle cx="1460.5" cy="1207.3" r="2.7"/>
<circle cx="1456.3" cy="1193.4" r="2.7"/>
<circle cx="1459" cy="1217.4" r="2.7"/>
<circle cx="1456.8" cy="1137.5" r="2.7"/>
<circle cx="1460" cy="1211" r="2.7"/>
<circle cx="1455.6" cy="1293.7" r="2.7"/>
<circle cx="1461.3" cy="1193.9" r="2.7"/>
<circle cx="1453" cy="1196.2" r="2.7"/>
<circle cx="1457.2" cy="1229.7" r="2.7"/>
<circle cx="1458.4" cy="1128.8" r="2.7"/>
<circle cx="1451" cy="1292.8" r="2.7"/>
<circle cx="1451.2" cy="1140.3" r="2.7"/>
<circle cx="1451.4" cy="1187.9" r="2.7"/>
<circle cx="1464.1" cy="1194.8" r="2.7"/>
<circle cx="1451.5" cy="1296.4" r="2.7"/>
<circle cx="1456.9" cy="1303" r="2.7"/>
<circle cx="1453.6" cy="1285.5" r="2.7"/>
<circle cx="1451.7" cy="1137" r="2.7"/>
<circle cx="1452.1" cy="1254.7" r="2.7"/>
<circle cx="1453.2" cy="1141.5" r="2.7"/>
<circle cx="1454.3" cy="1184.8" r="2.7"/>
<circle cx="1460.3" cy="1310.1" r="2.7"/>
<circle cx="1453" cy="1155.9" r="2.7"/>
<circle cx="1459.7" cy="1287" r="2.7"/>
<circle cx="1453.6" cy="1310.6" r="2.7"/>
<circle cx="1452.2" cy="1263" r="2.7"/>
<circle cx="1451.7" cy="1269.6" r="2.7"/>
<circle cx="1451.6" cy="1267" r="2.7"/>
<circle cx="1451.1" cy="1242.1" r="2.7"/>
<circle cx="1462.5" cy="1262.3" r="2.7"/>
<circle cx="1467.2" cy="1132.2" r="2.7"/>
<circle cx="1456.8" cy="1190.4" r="2.7"/>
<circle cx="1457.5" cy="1271.8" r="2.7"/>
<circle cx="1453.2" cy="1187.2" r="2.7"/>
<circle cx="1451.7" cy="1237.3" r="2.7"/>
<circle cx="1457.7" cy="1255.4" r="2.7"/>
<circle cx="1461.5" cy="1303.5" r="2.7"/>
<circle cx="1461.7" cy="1150.5" r="2.7"/>
<circle cx="1454" cy="1235.7" r="2.7"/>
<circle cx="1456.7" cy="1177.4" r="2.7"/>
<circle cx="1455.1" cy="1176.3" r="2.7"/>
<circle cx="1455.8" cy="1201.9" r="2.7"/>
<circle cx="1454.6" cy="1170" r="2.7"/>
<circle cx="1453.2" cy="1173.5" r="2.7"/>
<circle cx="1455.2" cy="1211.6" r="2.7"/>
<circle cx="1453.4" cy="1158.3" r="2.7"/>
<circle cx="1453.5" cy="1269.8" r="2.7"/>
<circle cx="1452.2" cy="1307" r="2.7"/>
<circle cx="1453.9" cy="1161.8" r="2.7"/>
<circle cx="1454.3" cy="1279.6" r="2.7"/>
<circle cx="1459.2" cy="1193.6" r="2.7"/>
<circle cx="1459.7" cy="1256.4" r="2.7"/>
<circle cx="1453.4" cy="1182.5" r="2.7"/>
<circle cx="1459.4" cy="1222.9" r="2.7"/>
<circle cx="1452.7" cy="1258.4" r="2.7"/>
<circle cx="1451.4" cy="1124.6" r="2.7"/>
<circle cx="1455.9" cy="1275.4" r="2.7"/>
<circle cx="1461.1" cy="1210" r="2.7"/>
<circle cx="1459.5" cy="1303.5" r="2.7"/>
<circle cx="1461" cy="1143" r="2.7"/>
<circle cx="1451.9" cy="1292.1" r="2.7"/>
<circle cx="1451.7" cy="1285.4" r="2.7"/>
<circle cx="1462.4" cy="1168" r="1.2" fill="#fff"/>
<circle cx="1459.8" cy="1206.7" r="1.8" fill="#fff"/>
<circle cx="1457.3" cy="1279.5" r="2.5" fill="#fff"/>
<circle cx="1466.8" cy="1154.2" r="1.6" fill="#fff"/>
<circle cx="1466.3" cy="1251.6" r="2.2" fill="#fff"/>
<circle cx="1454.5" cy="1284.5" r="2.6" fill="#fff"/>
<circle cx="1462.8" cy="1131.8" r="2.4" fill="#fff"/>
<circle cx="1463.5" cy="1268.2" r="2" fill="#fff"/>
<circle cx="1456.4" cy="1309.7" r="2.5" fill="#fff"/>
<circle cx="1456" cy="1275.7" r="1.8" fill="#fff"/>
<circle cx="1455.4" cy="1206" r="2.4" fill="#fff"/>
<circle cx="1463.8" cy="1284.9" r="1.2" fill="#fff"/>
<circle cx="1466.3" cy="1261.3" r="2.2" fill="#fff"/>
<circle cx="1466.7" cy="1299.3" r="2.2" fill="#fff"/>
<circle cx="1457.5" cy="1263.6" r="2.3" fill="#fff"/>
<circle cx="1457" cy="1183" r="1.7" fill="#fff"/>
<circle cx="1453.8" cy="1182.2" r="1.4" fill="#fff"/>
<circle cx="1456.3" cy="1176.1" r="1.2" fill="#fff"/>
<circle cx="1464.9" cy="1262.4" r="1.7" fill="#fff"/>
<circle cx="1465.5" cy="1258.2" r="1.2" fill="#fff"/>
<circle cx="1461.6" cy="1231.8" r="1.4" fill="#fff"/>
<circle cx="1464.6" cy="1293.5" r="2" fill="#fff"/>
<circle cx="1465" cy="1224.9" r="1.3" fill="#fff"/>
<circle cx="1460.6" cy="1288.8" r="1.6" fill="#fff"/>
<circle cx="1460.9" cy="1173" r="1.3" fill="#fff"/>
<circle cx="1459" cy="1279.5" r="2.5" fill="#fff"/>
<circle cx="1464.4" cy="1303.3" r="1.4" fill="#fff"/>
<circle cx="1462.1" cy="1170.1" r="2.5" fill="#fff"/>
<circle cx="1458.3" cy="1241.7" r="2.3" fill="#fff"/>
<circle cx="1461.6" cy="1211.3" r="1.8" fill="#fff"/>
<circle cx="1461.9" cy="1302.9" r="1.4" fill="#fff"/>
<circle cx="1458.9" cy="1245" r="1.4" fill="#fff"/>
<circle cx="1457" cy="1217.3" r="2.5" fill="#fff"/>
<circle cx="1460.9" cy="1165.3" r="1.2" fill="#fff"/>
<circle cx="1462.4" cy="1181.2" r="1.9" fill="#fff"/>
<circle cx="1461.3" cy="1248.7" r="2.1" fill="#fff"/>
<circle cx="1466.2" cy="1172.3" r="2.1" fill="#fff"/>
<circle cx="1465" cy="1129.3" r="1.4" fill="#fff"/>
<circle cx="1462.4" cy="1202.3" r="2.5" fill="#fff"/>
<circle cx="1457.4" cy="1156.3" r="1.9" fill="#fff"/>
<circle cx="1459.8" cy="1252.3" r="2.2" fill="#fff"/>
<circle cx="1454.2" cy="1310.3" r="1.8" fill="#fff"/>
<circle cx="1464.7" cy="1273.2" r="2.5" fill="#fff"/>
<circle cx="1456.8" cy="1187.4" r="2.1" fill="#fff"/>
<circle cx="1464.5" cy="1279.7" r="1.9" fill="#fff"/>
</g>
<line x1="1451.8" y1="1124.1" x2="1451.8" y2="1312.1" stroke="#000" stroke-width="1.2" stroke-dasharray="1.2 2"/>
<line x1="1420.3" y1="1111.1" x2="1420.3" y2="1124.1" class="k"/>
<line x1="1467.6" y1="1111.1" x2="1467.6" y2="1312.1" class="k"/>
<line x1="1420.3" y1="1124.1" x2="1482.4" y2="1124.1" class="k"/>
<line x1="1420.3" y1="1312.1" x2="1482.4" y2="1312.1" class="k"/>
<line x1="1467.6" y1="1218.4" x2="1482.4" y2="1218.4" class="k"/>
<text x="1497.2" y="1133.4">1000</text>
<text x="1497.2" y="1227.7">500</text>
<text x="1497.2" y="1321.4">0</text>
<line x1="1201.7" y1="1400" x2="1374.4" y2="1400" stroke="#000" stroke-width="1.2" stroke-dasharray="1.2 2"/>
<clipPath id="c14"><rect x="1195.7" y="1355.4" width="182.7" height="68.4"/></clipPath>
<g clip-path="url(#c14)">
<circle cx="1199" cy="1380.2" r="2.7"/>
<circle cx="1201.5" cy="1377.7" r="2.7"/>
<circle cx="1204.1" cy="1376.6" r="2.7"/>
<circle cx="1206.6" cy="1389.1" r="2.7"/>
<circle cx="1209.2" cy="1383.5" r="2.7"/>
<circle cx="1211.7" cy="1385.4" r="2.7"/>
<circle cx="1214.3" cy="1383.1" r="2.7"/>
<circle cx="1216.8" cy="1380.3" r="2.7"/>
<circle cx="1219.4" cy="1386.1" r="2.7"/>
<circle cx="1222" cy="1383.5" r="2.7"/>
<circle cx="1224.5" cy="1386.9" r="2.7"/>
<circle cx="1227.1" cy="1384.9" r="2.7"/>
<circle cx="1229.6" cy="1387.9" r="2.7"/>
<circle cx="1232.2" cy="1381.2" r="2.7"/>
<circle cx="1234.7" cy="1376.4" r="2.7"/>
<circle cx="1237.3" cy="1376.4" r="2.7"/>
<circle cx="1239.8" cy="1385.9" r="2.7"/>
<circle cx="1242.4" cy="1376.7" r="2.7"/>
<circle cx="1244.9" cy="1384.8" r="2.7"/>
<circle cx="1247.5" cy="1384.2" r="2.7"/>
<circle cx="1250" cy="1374.9" r="2.7"/>
<circle cx="1252.6" cy="1387" r="2.7"/>
<circle cx="1255.1" cy="1374.4" r="2.7"/>
<circle cx="1257.7" cy="1388.3" r="2.7"/>
<circle cx="1260.2" cy="1387.9" r="2.7"/>
<circle cx="1262.8" cy="1377.5" r="2.7"/>
<circle cx="1265.4" cy="1386" r="2.7"/>
<circle cx="1267.9" cy="1386.1" r="2.7"/>
<circle cx="1270.5" cy="1375.9" r="2.7"/>
<circle cx="1273" cy="1385" r="2.7"/>
<circle cx="1275.6" cy="1375.9" r="2.7"/>
<circle cx="1278.1" cy="1389.1" r="2.7"/>
<circle cx="1280.7" cy="1385.4" r="2.7"/>
<circle cx="1283.2" cy="1390.2" r="2.7"/>
<circle cx="1285.8" cy="1374.8" r="2.7"/>
<circle cx="1288.3" cy="1379.2" r="2.7"/>
<circle cx="1290.9" cy="1384.2" r="2.7"/>
<circle cx="1293.4" cy="1384" r="2.7"/>
<circle cx="1296" cy="1376.9" r="2.7"/>
<circle cx="1298.5" cy="1388.7" r="2.7"/>
<circle cx="1301.1" cy="1388" r="2.7"/>
<circle cx="1303.6" cy="1378.9" r="2.7"/>
<circle cx="1306.2" cy="1376.3" r="2.7"/>
<circle cx="1308.7" cy="1385" r="2.7"/>
<circle cx="1311.3" cy="1380.7" r="2.7"/>
<circle cx="1313.9" cy="1384.9" r="2.7"/>
<circle cx="1316.4" cy="1382.1" r="2.7"/>
<circle cx="1319" cy="1380.4" r="2.7"/>
<circle cx="1321.5" cy="1374.2" r="2.7"/>
<circle cx="1324.1" cy="1376.1" r="2.7"/>
<circle cx="1326.6" cy="1381.5" r="2.7"/>
<circle cx="1329.2" cy="1386" r="2.7"/>
<circle cx="1331.7" cy="1381" r="2.7"/>
<circle cx="1334.3" cy="1386.3" r="2.7"/>
<circle cx="1336.8" cy="1382.9" r="2.7"/>
<circle cx="1339.4" cy="1388.6" r="2.7"/>
<circle cx="1341.9" cy="1384.8" r="2.7"/>
<circle cx="1344.5" cy="1379.2" r="2.7"/>
<circle cx="1347" cy="1376.2" r="2.7"/>
<circle cx="1349.6" cy="1375" r="2.7"/>
<circle cx="1352.1" cy="1374.5" r="2.7"/>
<circle cx="1354.7" cy="1388.3" r="2.7"/>
<circle cx="1357.3" cy="1388.5" r="2.7"/>
<circle cx="1359.8" cy="1386.4" r="2.7"/>
<circle cx="1362.4" cy="1375.7" r="2.7"/>
<circle cx="1364.9" cy="1384.9" r="2.7"/>
<circle cx="1367.5" cy="1376" r="2.7"/>
<circle cx="1370" cy="1388.7" r="2.7"/>
<circle cx="1372.6" cy="1384.8" r="2.7"/>
<circle cx="1375.1" cy="1386.4" r="2.7"/>
</g>
<rect x="1197.7" y="1358.4" width="178.7" height="62.4" fill="none" stroke="#000" stroke-width="2.4"/>
<line x1="1184.7" y1="1358.4" x2="1197.7" y2="1358.4" class="k"/>
<text x="1169.2" y="1367.7" text-anchor="end">100</text>
<line x1="1184.7" y1="1420.8" x2="1197.7" y2="1420.8" class="k"/>
<text x="1169.2" y="1430.1" text-anchor="end">0</text>
<line x1="1197.7" y1="1420.8" x2="1197.7" y2="1433.8" class="k"/>
<line x1="1326.6" y1="1420.8" x2="1326.6" y2="1433.8" class="k"/>
<text x="1197.7" y="1466.1" text-anchor="middle">0</text>
<text x="1326.6" y="1466.1" text-anchor="middle">50</text>
<text transform="translate(1083.2 1389.6) rotate(-90)" text-anchor="middle">Cell</text>
<text transform="translate(1109.2 1389.6) rotate(-90)" text-anchor="middle">Consistency (%)</text>
<text x="1286.7" y="1503.3" text-anchor="middle">Cell (#)</text>
<line x1="1451.8" y1="1358.4" x2="1451.8" y2="1420.8" stroke="#000" stroke-width="1.2" stroke-dasharray="1.2 2"/>
<line x1="1422.3" y1="1400" x2="1467.6" y2="1400" stroke="#000" stroke-width="1.2" stroke-dasharray="1.2 2"/>
<line x1="1420.3" y1="1358.4" x2="1420.3" y2="1433.8" class="k"/>
<line x1="1467.6" y1="1358.4" x2="1467.6" y2="1433.8" class="k"/>
<line x1="1420.3" y1="1358.4" x2="1482.4" y2="1358.4" class="k"/>
<line x1="1420.3" y1="1420.8" x2="1482.4" y2="1420.8" class="k"/>
<text x="1497.2" y="1367.7">100</text>
<text x="1497.2" y="1430.1">0</text>
<text x="1420.3" y="1466.1" text-anchor="middle">100</text>
<text x="1468.2" y="1466.1" text-anchor="middle">0</text>
<line x1="1428.8" y1="1383.9" x2="1451.8" y2="1383.9" stroke="#000" stroke-width="1.6"/>
<line x1="1428.8" y1="1380.9" x2="1428.8" y2="1386.9" stroke="#000" stroke-width="1.6"/>
<line x1="1451.8" y1="1380.9" x2="1451.8" y2="1386.9" stroke="#000" stroke-width="1.6"/>
<line x1="1440.3" y1="1377.4" x2="1440.3" y2="1388.9" stroke="#000" stroke-width="1.6"/>
<line x1="1437.3" y1="1377.4" x2="1443.3" y2="1377.4" stroke="#000" stroke-width="1.6"/>
<line x1="1437.3" y1="1388.9" x2="1443.3" y2="1388.9" stroke="#000" stroke-width="1.6"/>
<g class="hm">
<rect x="1704.4" y="1124.1" width="178.7" height="188" fill="#0a9c9c"/>
<rect x="1704.4" y="1124.1" width="2.3" height="188" fill="#9e0a9e" opacity="0.50"/>
<rect x="1706.4" y="1124.1" width="2.3" height="188" fill="#9e0a9e" opacity="0.50"/>
<rect x="1710.5" y="1124.1" width="2.3" height="188" fill="#9e0a9e" opacity="0.50"/>
<rect x="1714.6" y="1124.1" width="2.3" height="188" fill="#9e0a9e" opacity="0.50"/>
<rect x="1718.6" y="1124.1" width="2.3" height="188" fill="#9e0a9e" opacity="0.50"/>
<rect x="1722.7" y="1124.1" width="2.3" height="188" fill="#9e0a9e" opacity="0.50"/>
<rect x="1724.7" y="1124.1" width="2.3" height="188" fill="#9e0a9e" opacity="0.50"/>
<rect x="1726.7" y="1124.1" width="2.3" height="188" fill="#9e0a9e" opacity="0.50"/>
<rect x="1728.8" y="1124.1" width="2.3" height="188" fill="#9e0a9e" opacity="0.50"/>
<rect x="1730.8" y="1124.1" width="2.3" height="188" fill="#9e0a9e" opacity="0.50"/>
<rect x="1732.8" y="1124.1" width="2.3" height="188" fill="#9e0a9e" opacity="0.50"/>
<rect x="1736.9" y="1124.1" width="2.3" height="188" fill="#9e0a9e" opacity="0.50"/>
<rect x="1738.9" y="1124.1" width="2.3" height="188" fill="#9e0a9e" opacity="0.50"/>
<rect x="1741" y="1124.1" width="2.3" height="188" fill="#9e0a9e" opacity="0.50"/>
<rect x="1743" y="1124.1" width="2.3" height="188" fill="#9e0a9e" opacity="0.50"/>
<rect x="1747" y="1124.1" width="2.3" height="188" fill="#9e0a9e" opacity="0.50"/>
<rect x="1751.1" y="1124.1" width="2.3" height="188" fill="#9e0a9e" opacity="0.50"/>
<rect x="1753.1" y="1124.1" width="2.3" height="188" fill="#9e0a9e" opacity="0.50"/>
<rect x="1761.3" y="1124.1" width="2.3" height="188" fill="#9e0a9e" opacity="0.50"/>
<rect x="1765.3" y="1124.1" width="2.3" height="188" fill="#9e0a9e" opacity="0.50"/>
<rect x="1767.4" y="1124.1" width="2.3" height="188" fill="#9e0a9e" opacity="0.50"/>
<rect x="1771.4" y="1124.1" width="2.3" height="188" fill="#9e0a9e" opacity="0.50"/>
<rect x="1777.5" y="1124.1" width="2.3" height="188" fill="#9e0a9e" opacity="0.50"/>
<rect x="1779.5" y="1124.1" width="2.3" height="188" fill="#9e0a9e" opacity="0.50"/>
<rect x="1781.6" y="1124.1" width="2.3" height="188" fill="#9e0a9e" opacity="0.50"/>
<rect x="1783.6" y="1124.1" width="2.3" height="188" fill="#9e0a9e" opacity="0.50"/>
<rect x="1785.6" y="1124.1" width="2.3" height="188" fill="#9e0a9e" opacity="0.50"/>
<rect x="1789.7" y="1124.1" width="2.3" height="188" fill="#9e0a9e" opacity="0.50"/>
<rect x="1791.7" y="1124.1" width="2.3" height="188" fill="#9e0a9e" opacity="0.50"/>
<rect x="1795.8" y="1124.1" width="2.3" height="188" fill="#9e0a9e" opacity="0.50"/>
<rect x="1801.9" y="1124.1" width="2.3" height="188" fill="#9e0a9e" opacity="0.50"/>
<rect x="1803.9" y="1124.1" width="2.3" height="188" fill="#9e0a9e" opacity="0.50"/>
<rect x="1805.9" y="1124.1" width="2.3" height="188" fill="#9e0a9e" opacity="0.50"/>
<rect x="1810" y="1124.1" width="2.3" height="188" fill="#9e0a9e" opacity="0.50"/>
<rect x="1812" y="1124.1" width="2.3" height="188" fill="#9e0a9e" opacity="0.50"/>
<rect x="1814.1" y="1124.1" width="2.3" height="188" fill="#9e0a9e" opacity="0.50"/>
<rect x="1816.1" y="1124.1" width="2.3" height="188" fill="#9e0a9e" opacity="0.50"/>
<rect x="1820.1" y="1124.1" width="2.3" height="188" fill="#9e0a9e" opacity="0.50"/>
<rect x="1824.2" y="1124.1" width="2.3" height="188" fill="#9e0a9e" opacity="0.50"/>
<rect x="1826.2" y="1124.1" width="2.3" height="188" fill="#9e0a9e" opacity="0.50"/>
<rect x="1830.3" y="1124.1" width="2.3" height="188" fill="#9e0a9e" opacity="0.50"/>
<rect x="1834.4" y="1124.1" width="2.3" height="188" fill="#9e0a9e" opacity="0.50"/>
<rect x="1836.4" y="1124.1" width="2.3" height="188" fill="#9e0a9e" opacity="0.50"/>
<rect x="1842.5" y="1124.1" width="2.3" height="188" fill="#9e0a9e" opacity="0.50"/>
<rect x="1844.5" y="1124.1" width="2.3" height="188" fill="#9e0a9e" opacity="0.50"/>
<rect x="1846.5" y="1124.1" width="2.3" height="188" fill="#9e0a9e" opacity="0.50"/>
<rect x="1854.7" y="1124.1" width="2.3" height="188" fill="#9e0a9e" opacity="0.50"/>
<rect x="1858.7" y="1124.1" width="2.3" height="188" fill="#9e0a9e" opacity="0.50"/>
<rect x="1860.8" y="1124.1" width="2.3" height="188" fill="#9e0a9e" opacity="0.50"/>
<rect x="1864.8" y="1124.1" width="2.3" height="188" fill="#9e0a9e" opacity="0.50"/>
<rect x="1866.9" y="1124.1" width="2.3" height="188" fill="#9e0a9e" opacity="0.50"/>
<rect x="1868.9" y="1124.1" width="2.3" height="188" fill="#9e0a9e" opacity="0.50"/>
<rect x="1870.9" y="1124.1" width="2.3" height="188" fill="#9e0a9e" opacity="0.50"/>
<rect x="1872.9" y="1124.1" width="2.3" height="188" fill="#9e0a9e" opacity="0.50"/>
<rect x="1704.4" y="1124.1" width="178.7" height="2.4" fill="#0a9c9c" opacity="0.50"/>
<rect x="1704.4" y="1126.4" width="178.7" height="2.4" fill="#0a9c9c" opacity="0.50"/>
<rect x="1704.4" y="1128.8" width="178.7" height="2.4" fill="#9e0a9e" opacity="0.42"/>
<rect x="1704.4" y="1131.1" width="178.7" height="2.4" fill="#9e0a9e" opacity="0.42"/>
<rect x="1704.4" y="1135.8" width="178.7" height="2.4" fill="#0a9c9c" opacity="0.50"/>
<rect x="1704.4" y="1138.2" width="178.7" height="2.4" fill="#0a9c9c" opacity="0.50"/>
<rect x="1704.4" y="1149.9" width="178.7" height="2.4" fill="#9e0a9e" opacity="0.42"/>
<rect x="1704.4" y="1152.3" width="178.7" height="2.4" fill="#0a9c9c" opacity="0.50"/>
<rect x="1704.4" y="1154.6" width="178.7" height="2.4" fill="#0a9c9c" opacity="0.50"/>
<rect x="1704.4" y="1159.3" width="178.7" height="2.4" fill="#0a9c9c" opacity="0.50"/>
<rect x="1704.4" y="1164" width="178.7" height="2.4" fill="#0a9c9c" opacity="0.50"/>
<rect x="1704.4" y="1166.4" width="178.7" height="2.4" fill="#0a9c9c" opacity="0.50"/>
<rect x="1704.4" y="1171.1" width="178.7" height="2.4" fill="#0a9c9c" opacity="0.50"/>
<rect x="1704.4" y="1173.4" width="178.7" height="2.4" fill="#9e0a9e" opacity="0.42"/>
<rect x="1704.4" y="1175.8" width="178.7" height="2.4" fill="#9e0a9e" opacity="0.42"/>
<rect x="1704.4" y="1180.5" width="178.7" height="2.4" fill="#9e0a9e" opacity="0.42"/>
<rect x="1704.4" y="1182.8" width="178.7" height="2.4" fill="#0a9c9c" opacity="0.50"/>
<rect x="1704.4" y="1187.5" width="178.7" height="2.4" fill="#0a9c9c" opacity="0.50"/>
<rect x="1704.4" y="1189.9" width="178.7" height="2.4" fill="#0a9c9c" opacity="0.50"/>
<rect x="1704.4" y="1192.2" width="178.7" height="2.4" fill="#9e0a9e" opacity="0.42"/>
<rect x="1704.4" y="1194.6" width="178.7" height="2.4" fill="#0a9c9c" opacity="0.50"/>
<rect x="1704.4" y="1196.9" width="178.7" height="2.4" fill="#9e0a9e" opacity="0.42"/>
<rect x="1704.4" y="1204" width="178.7" height="2.4" fill="#0a9c9c" opacity="0.50"/>
<rect x="1704.4" y="1206.3" width="178.7" height="2.4" fill="#9e0a9e" opacity="0.42"/>
<rect x="1704.4" y="1208.7" width="178.7" height="2.4" fill="#9e0a9e" opacity="0.42"/>
<rect x="1704.4" y="1211" width="178.7" height="2.4" fill="#0a9c9c" opacity="0.50"/>
<rect x="1704.4" y="1213.4" width="178.7" height="2.4" fill="#0a9c9c" opacity="0.50"/>
<rect x="1704.4" y="1215.8" width="178.7" height="2.4" fill="#0a9c9c" opacity="0.50"/>
<rect x="1704.4" y="1220.4" width="178.7" height="2.4" fill="#0a9c9c" opacity="0.50"/>
<rect x="1704.4" y="1222.8" width="178.7" height="2.4" fill="#9e0a9e" opacity="0.42"/>
<rect x="1704.4" y="1229.8" width="178.7" height="2.4" fill="#0a9c9c" opacity="0.50"/>
<rect x="1704.4" y="1241.6" width="178.7" height="2.4" fill="#9e0a9e" opacity="0.42"/>
<rect x="1704.4" y="1243.9" width="178.7" height="2.4" fill="#9e0a9e" opacity="0.42"/>
<rect x="1704.4" y="1246.3" width="178.7" height="2.4" fill="#9e0a9e" opacity="0.42"/>
<rect x="1704.4" y="1248.6" width="178.7" height="2.4" fill="#0a9c9c" opacity="0.50"/>
<rect x="1704.4" y="1251" width="178.7" height="2.4" fill="#0a9c9c" opacity="0.50"/>
<rect x="1704.4" y="1253.3" width="178.7" height="2.4" fill="#0a9c9c" opacity="0.50"/>
<rect x="1704.4" y="1255.7" width="178.7" height="2.4" fill="#0a9c9c" opacity="0.50"/>
<rect x="1704.4" y="1258" width="178.7" height="2.4" fill="#9e0a9e" opacity="0.42"/>
<rect x="1704.4" y="1260.4" width="178.7" height="2.4" fill="#0a9c9c" opacity="0.50"/>
<rect x="1704.4" y="1262.8" width="178.7" height="2.4" fill="#9e0a9e" opacity="0.42"/>
<rect x="1704.4" y="1265.1" width="178.7" height="2.4" fill="#0a9c9c" opacity="0.50"/>
<rect x="1704.4" y="1269.8" width="178.7" height="2.4" fill="#0a9c9c" opacity="0.50"/>
<rect x="1704.4" y="1272.1" width="178.7" height="2.4" fill="#0a9c9c" opacity="0.50"/>
<rect x="1704.4" y="1279.2" width="178.7" height="2.4" fill="#9e0a9e" opacity="0.42"/>
<rect x="1704.4" y="1281.5" width="178.7" height="2.4" fill="#0a9c9c" opacity="0.50"/>
<rect x="1704.4" y="1283.9" width="178.7" height="2.4" fill="#0a9c9c" opacity="0.50"/>
<rect x="1704.4" y="1286.2" width="178.7" height="2.4" fill="#0a9c9c" opacity="0.50"/>
<rect x="1704.4" y="1288.6" width="178.7" height="2.4" fill="#0a9c9c" opacity="0.50"/>
<rect x="1704.4" y="1290.9" width="178.7" height="2.4" fill="#9e0a9e" opacity="0.42"/>
<rect x="1704.4" y="1298" width="178.7" height="2.4" fill="#0a9c9c" opacity="0.50"/>
<rect x="1704.4" y="1305" width="178.7" height="2.4" fill="#0a9c9c" opacity="0.50"/>
<rect x="1704.4" y="1307.4" width="178.7" height="2.4" fill="#0a9c9c" opacity="0.50"/>
<rect x="1704.4" y="1309.8" width="178.7" height="2.4" fill="#0a9c9c" opacity="0.50"/>
</g>
<rect x="1704.4" y="1124.1" width="178.7" height="188" fill="none" stroke="#000" stroke-width="2.4"/>
<line x1="1691.4" y1="1124.1" x2="1704.4" y2="1124.1" class="k"/>
<text x="1675.9" y="1133.4" text-anchor="end">1000</text>
<line x1="1691.4" y1="1218.4" x2="1704.4" y2="1218.4" class="k"/>
<text x="1675.9" y="1227.7" text-anchor="end">500</text>
<text transform="translate(1610.5 1202.6) rotate(-90)" text-anchor="middle">Iteration (#)</text>
<text x="1793.4" y="1082.9" text-anchor="middle">Cell (#)</text>
<text x="1951.1" y="1033.3" text-anchor="middle">Iteration</text>
<text x="1951.1" y="1058.5" text-anchor="middle">Consistency (%)</text>
<text x="1927" y="1092.1" text-anchor="middle">100</text>
<text x="1974.9" y="1092.1" text-anchor="middle">0</text>
<clipPath id="c15"><rect x="1924" y="1122.1" width="53.3" height="192"/></clipPath>
<g clip-path="url(#c15)">
<rect x="1927" y="1124.1" width="48.3" height="188" fill="#000"/>
<ellipse cx="1943.8" cy="1223.5" rx="3.2" ry="4.4" fill="#fff"/>
<ellipse cx="1949.1" cy="1192.7" rx="3.3" ry="3.2" fill="#fff"/>
<ellipse cx="1964.9" cy="1181.7" rx="1.6" ry="1.4" fill="#fff"/>
<ellipse cx="1962.4" cy="1238.9" rx="2.9" ry="3.7" fill="#fff"/>
<ellipse cx="1962.7" cy="1140.3" rx="2.5" ry="3.3" fill="#fff"/>
<ellipse cx="1959.3" cy="1274.6" rx="3.3" ry="3.7" fill="#fff"/>
<ellipse cx="1955.2" cy="1243.8" rx="1.7" ry="1.9" fill="#fff"/>
<ellipse cx="1963.7" cy="1238.3" rx="2.5" ry="2.4" fill="#fff"/>
<ellipse cx="1957.1" cy="1203.8" rx="2.5" ry="3.2" fill="#fff"/>
<ellipse cx="1971.5" cy="1276.7" rx="1.9" ry="1.3" fill="#fff"/>
<ellipse cx="1968.8" cy="1177.3" rx="2.2" ry="2.8" fill="#fff"/>
<ellipse cx="1949.2" cy="1188.4" rx="3.1" ry="2.1" fill="#fff"/>
<ellipse cx="1965.3" cy="1263.4" rx="2.3" ry="1.6" fill="#fff"/>
<ellipse cx="1956" cy="1175.8" rx="1.8" ry="1.6" fill="#fff"/>
<ellipse cx="1955.9" cy="1137" rx="2.4" ry="2.3" fill="#fff"/>
<ellipse cx="1960.6" cy="1166.9" rx="3.3" ry="2.9" fill="#fff"/>
<ellipse cx="1967.6" cy="1224" rx="3.3" ry="3.8" fill="#fff"/>
<ellipse cx="1948.7" cy="1287.8" rx="1.4" ry="1.8" fill="#fff"/>
<ellipse cx="1951.1" cy="1187.3" rx="2.9" ry="2.6" fill="#fff"/>
<ellipse cx="1969.4" cy="1192.4" rx="1.9" ry="2.7" fill="#fff"/>
<ellipse cx="1956.4" cy="1239.7" rx="1.4" ry="1.2" fill="#fff"/>
<ellipse cx="1966.8" cy="1218.4" rx="3.3" ry="4.6" fill="#fff"/>
<ellipse cx="1957.5" cy="1227" rx="2.8" ry="4.1" fill="#fff"/>
<ellipse cx="1950.9" cy="1153.1" rx="3.3" ry="4.8" fill="#fff"/>
<ellipse cx="1966.4" cy="1193.3" rx="1.6" ry="1.6" fill="#fff"/>
<ellipse cx="1940" cy="1235.7" rx="3" ry="2.5" fill="#fff"/>
<ellipse cx="1952.5" cy="1265.4" rx="2.8" ry="3.9" fill="#fff"/>
<ellipse cx="1941.9" cy="1237.7" rx="2.4" ry="2.5" fill="#fff"/>
<ellipse cx="1947.9" cy="1200.6" rx="2.1" ry="1.6" fill="#fff"/>
<ellipse cx="1959.2" cy="1198.9" rx="3.3" ry="2.9" fill="#fff"/>
<ellipse cx="1961.4" cy="1308.9" rx="1.8" ry="2.4" fill="#fff"/>
<ellipse cx="1949.4" cy="1303.6" rx="2" ry="2.3" fill="#fff"/>
<ellipse cx="1954.1" cy="1265.8" rx="1.8" ry="2.2" fill="#fff"/>
<ellipse cx="1954.2" cy="1243.5" rx="2.7" ry="2.3" fill="#fff"/>
<ellipse cx="1958.5" cy="1289.5" rx="3.1" ry="2.7" fill="#fff"/>
<ellipse cx="1947.9" cy="1224.3" rx="2.4" ry="3.5" fill="#fff"/>
<ellipse cx="1949.5" cy="1300.3" rx="1.9" ry="2.7" fill="#fff"/>
<ellipse cx="1968.7" cy="1291.7" rx="2.7" ry="1.7" fill="#fff"/>
<ellipse cx="1961.5" cy="1181.5" rx="1.4" ry="0.9" fill="#fff"/>
<ellipse cx="1965.3" cy="1142.8" rx="3.1" ry="3.6" fill="#fff"/>
<ellipse cx="1966.7" cy="1287" rx="3.1" ry="3.1" fill="#fff"/>
<ellipse cx="1953.4" cy="1238.6" rx="1.7" ry="1.7" fill="#fff"/>
<ellipse cx="1940" cy="1142.2" rx="3.4" ry="4.3" fill="#fff"/>
<ellipse cx="1961.9" cy="1132.5" rx="3.4" ry="3.6" fill="#fff"/>
<ellipse cx="1945.5" cy="1251" rx="2" ry="1.4" fill="#fff"/>
<ellipse cx="1964.6" cy="1210.4" rx="1.7" ry="1.4" fill="#fff"/>
<ellipse cx="1953.4" cy="1161.3" rx="1.8" ry="2.1" fill="#fff"/>
<ellipse cx="1945.4" cy="1129.4" rx="3.3" ry="2.7" fill="#fff"/>
<ellipse cx="1946.2" cy="1220.3" rx="2.2" ry="1.7" fill="#fff"/>
<ellipse cx="1968.4" cy="1285.9" rx="2.5" ry="2.1" fill="#fff"/>
<ellipse cx="1967.5" cy="1258.2" rx="3" ry="2.7" fill="#fff"/>
<ellipse cx="1949" cy="1168.3" rx="1.4" ry="2" fill="#fff"/>
<ellipse cx="1947.2" cy="1167.8" rx="1.5" ry="2.2" fill="#fff"/>
<ellipse cx="1967.6" cy="1229.6" rx="1.7" ry="2.2" fill="#fff"/>
<ellipse cx="1965.5" cy="1250" rx="2.8" ry="2.4" fill="#fff"/>
<ellipse cx="1960.6" cy="1187.1" rx="3.1" ry="2.3" fill="#fff"/>
<ellipse cx="1963.6" cy="1171.4" rx="2.2" ry="1.9" fill="#fff"/>
<ellipse cx="1963.5" cy="1141.7" rx="1.6" ry="2" fill="#fff"/>
<ellipse cx="1958.3" cy="1233.3" rx="3.3" ry="4" fill="#fff"/>
<ellipse cx="1953.3" cy="1232.6" rx="3" ry="2" fill="#fff"/>
<ellipse cx="1956.3" cy="1238.5" rx="2.9" ry="1.8" fill="#fff"/>
<ellipse cx="1958.9" cy="1262" rx="1.9" ry="2.6" fill="#fff"/>
<ellipse cx="1940" cy="1135.2" rx="2.4" ry="2.8" fill="#fff"/>
<ellipse cx="1959.7" cy="1221.3" rx="2.5" ry="2.4" fill="#fff"/>
<ellipse cx="1952.6" cy="1173.7" rx="2" ry="2.4" fill="#fff"/>
<ellipse cx="1971.5" cy="1300.4" rx="3.3" ry="4.4" fill="#fff"/>
<ellipse cx="1951.1" cy="1293.1" rx="1.5" ry="1" fill="#fff"/>
<ellipse cx="1949" cy="1180.5" rx="2.3" ry="2.4" fill="#fff"/>
<ellipse cx="1950.5" cy="1126.7" rx="2.1" ry="1.4" fill="#fff"/>
<ellipse cx="1953.2" cy="1270.3" rx="3" ry="3.8" fill="#fff"/>
<ellipse cx="1971.5" cy="1145.3" rx="2.6" ry="3.8" fill="#fff"/>
<ellipse cx="1959.6" cy="1200.8" rx="3" ry="2.1" fill="#fff"/>
<ellipse cx="1952.2" cy="1139.3" rx="2" ry="2.2" fill="#fff"/>
<ellipse cx="1946.1" cy="1242" rx="1.8" ry="1.1" fill="#fff"/>
<ellipse cx="1954.5" cy="1211.4" rx="1.7" ry="1.8" fill="#fff"/>
<ellipse cx="1971.5" cy="1165.9" rx="2.2" ry="1.7" fill="#fff"/>
<ellipse cx="1956.4" cy="1166.3" rx="2.7" ry="4" fill="#fff"/>
<ellipse cx="1943.8" cy="1304.1" rx="2.4" ry="3.3" fill="#fff"/>
<ellipse cx="1958" cy="1251.6" rx="3.3" ry="4" fill="#fff"/>
<ellipse cx="1951" cy="1147.1" rx="1.3" ry="1.2" fill="#fff"/>
<ellipse cx="1953.2" cy="1247.1" rx="2.9" ry="2.4" fill="#fff"/>
<ellipse cx="1963.8" cy="1131.5" rx="2.2" ry="2" fill="#fff"/>
<ellipse cx="1969.4" cy="1246.5" rx="3.4" ry="4.3" fill="#fff"/>
<ellipse cx="1966.4" cy="1220.9" rx="1.7" ry="1.1" fill="#fff"/>
<ellipse cx="1963.4" cy="1251.3" rx="3" ry="4.4" fill="#fff"/>
<ellipse cx="1954.6" cy="1278.3" rx="2.4" ry="3" fill="#fff"/>
<ellipse cx="1951.5" cy="1185.3" rx="3" ry="2.5" fill="#fff"/>
<ellipse cx="1957.3" cy="1281.4" rx="2.8" ry="2.3" fill="#fff"/>
<ellipse cx="1953.8" cy="1141.7" rx="2.6" ry="3.6" fill="#fff"/>
<ellipse cx="1950.3" cy="1178.2" rx="1.6" ry="1.8" fill="#fff"/>
<ellipse cx="1955.4" cy="1255.4" rx="2.3" ry="2.6" fill="#fff"/>
<ellipse cx="1956.4" cy="1296.6" rx="1.9" ry="1.7" fill="#fff"/>
<ellipse cx="1955.8" cy="1192.9" rx="2.9" ry="3.2" fill="#fff"/>
<ellipse cx="1950.5" cy="1240.1" rx="1.5" ry="2.1" fill="#fff"/>
<ellipse cx="1949.5" cy="1212.8" rx="3.3" ry="4.7" fill="#fff"/>
<ellipse cx="1959.5" cy="1271.6" rx="3.3" ry="3.1" fill="#fff"/>
<ellipse cx="1956.9" cy="1309.1" rx="3.2" ry="2.4" fill="#fff"/>
<ellipse cx="1943.3" cy="1129.7" rx="1.6" ry="2.3" fill="#fff"/>
<ellipse cx="1968.7" cy="1219.1" rx="3" ry="2.4" fill="#fff"/>
<ellipse cx="1957.1" cy="1217.9" rx="1.8" ry="1.9" fill="#fff"/>
<ellipse cx="1951.5" cy="1179.7" rx="2.8" ry="4.3" fill="#fff"/>
<ellipse cx="1966.8" cy="1173" rx="3.4" ry="3.1" fill="#fff"/>
<ellipse cx="1950.9" cy="1204.3" rx="2.3" ry="3.1" fill="#fff"/>
<ellipse cx="1960.2" cy="1295.2" rx="3.3" ry="3.2" fill="#fff"/>
<ellipse cx="1961.6" cy="1183.9" rx="2" ry="1.3" fill="#fff"/>
<ellipse cx="1966.6" cy="1179.9" rx="3" ry="3.6" fill="#fff"/>
<ellipse cx="1951.3" cy="1240" rx="2.3" ry="2" fill="#fff"/>
<ellipse cx="1971.3" cy="1174.2" rx="2.1" ry="2.1" fill="#fff"/>
<ellipse cx="1948.6" cy="1186.4" rx="2.1" ry="1.6" fill="#fff"/>
<ellipse cx="1959.7" cy="1174.7" rx="2.2" ry="3.3" fill="#fff"/>
<ellipse cx="1966.2" cy="1126.2" rx="1.3" ry="1.3" fill="#fff"/>
<ellipse cx="1955.2" cy="1176.2" rx="1.3" ry="1.7" fill="#fff"/>
<ellipse cx="1964.5" cy="1255" rx="3.3" ry="4.8" fill="#fff"/>
<ellipse cx="1956" cy="1238.9" rx="2.5" ry="2" fill="#fff"/>
<ellipse cx="1944.5" cy="1257.5" rx="1.8" ry="1.1" fill="#fff"/>
<ellipse cx="1955.9" cy="1156.4" rx="1.7" ry="2" fill="#fff"/>
<ellipse cx="1941.1" cy="1199.5" rx="1.9" ry="2" fill="#fff"/>
<ellipse cx="1948" cy="1262.6" rx="1.4" ry="2" fill="#fff"/>
<ellipse cx="1940" cy="1233.8" rx="2.7" ry="3.3" fill="#fff"/>
<ellipse cx="1963.2" cy="1295" rx="2.2" ry="1.5" fill="#fff"/>
<circle cx="1964.3" cy="1248.9" r="2.7"/>
<circle cx="1948.5" cy="1149.9" r="2.7"/>
<circle cx="1945.7" cy="1271.7" r="2.7"/>
<circle cx="1965.1" cy="1151.9" r="2.7"/>
<circle cx="1965.8" cy="1304.1" r="2.7"/>
<circle cx="1968.1" cy="1241.8" r="2.7"/>
<circle cx="1949.7" cy="1192.2" r="2.7"/>
<circle cx="1954" cy="1280.3" r="2.7"/>
<circle cx="1958.6" cy="1244.8" r="2.7"/>
<circle cx="1951.2" cy="1221.3" r="2.7"/>
<circle cx="1956.4" cy="1167.4" r="2.7"/>
<circle cx="1945.5" cy="1293.3" r="2.7"/>
<circle cx="1950.4" cy="1215.7" r="2.7"/>
<circle cx="1968" cy="1171.7" r="2.7"/>
<circle cx="1950.3" cy="1198.6" r="2.7"/>
<circle cx="1965.8" cy="1209.3" r="2.7"/>
<circle cx="1962.8" cy="1249.3" r="2.7"/>
<circle cx="1970.7" cy="1245.8" r="2.7"/>
<circle cx="1947.9" cy="1260.3" r="2.7"/>
<circle cx="1961.6" cy="1238.5" r="2.7"/>
<circle cx="1955.1" cy="1261.3" r="2.7"/>
<circle cx="1970.8" cy="1201" r="2.7"/>
<circle cx="1969.9" cy="1217.6" r="2.7"/>
<circle cx="1951.1" cy="1271.8" r="2.7"/>
<circle cx="1956" cy="1220.1" r="2.7"/>
<circle cx="1951.7" cy="1298.9" r="2.7"/>
<circle cx="1968.6" cy="1130.4" r="2.7"/>
<circle cx="1956.3" cy="1193" r="2.7"/>
<circle cx="1965.1" cy="1242.5" r="2.7"/>
<circle cx="1971.4" cy="1138.1" r="2.7"/>
<circle cx="1968.7" cy="1209.2" r="2.7"/>
<circle cx="1967.9" cy="1141.6" r="2.7"/>
<circle cx="1964.9" cy="1155.5" r="2.7"/>
<circle cx="1969.6" cy="1126" r="2.7"/>
<circle cx="1954" cy="1214" r="2.7"/>
<circle cx="1956" cy="1139.8" r="2.7"/>
<circle cx="1962.3" cy="1219.3" r="2.7"/>
<circle cx="1968.9" cy="1298.1" r="2.7"/>
<circle cx="1972.4" cy="1183.7" r="2.7"/>
<circle cx="1962" cy="1231.3" r="2.7"/>
<circle cx="1971.1" cy="1289.8" r="2.7"/>
<circle cx="1970.6" cy="1248.8" r="2.7"/>
<circle cx="1957.8" cy="1236.8" r="2.7"/>
<circle cx="1962.9" cy="1170.8" r="2.7"/>
<circle cx="1964.2" cy="1295.5" r="2.7"/>
<circle cx="1947.9" cy="1131.7" r="2.7"/>
<circle cx="1966.8" cy="1229.6" r="2.7"/>
<circle cx="1964.4" cy="1266.2" r="2.7"/>
<circle cx="1956.5" cy="1293.6" r="2.7"/>
<circle cx="1965" cy="1183.6" r="2.7"/>
<circle cx="1970.6" cy="1216" r="2.7"/>
<circle cx="1951.8" cy="1219.6" r="2.7"/>
<circle cx="1954.3" cy="1141.8" r="2.7"/>
<circle cx="1966.3" cy="1242.8" r="2.7"/>
<circle cx="1954.6" cy="1281.5" r="2.7"/>
<circle cx="1963.4" cy="1234.7" r="2.7"/>
<circle cx="1945.7" cy="1137.7" r="2.7"/>
<circle cx="1952.9" cy="1162.5" r="2.7"/>
<circle cx="1970.1" cy="1232.5" r="2.7"/>
<circle cx="1956.4" cy="1287.5" r="2.7"/>
<circle cx="1954.3" cy="1257.3" r="2.7"/>
<circle cx="1946.3" cy="1309.1" r="2.7"/>
<circle cx="1971.6" cy="1277.9" r="2.7"/>
<circle cx="1948.4" cy="1305.6" r="2.7"/>
<circle cx="1968.1" cy="1262.1" r="2.7"/>
<circle cx="1960.7" cy="1233.8" r="2.7"/>
<circle cx="1967" cy="1250.2" r="2.7"/>
<circle cx="1947.6" cy="1301.1" r="2.7"/>
<circle cx="1957.9" cy="1248.2" r="2.7"/>
<circle cx="1951.4" cy="1274.5" r="2.7"/>
</g>
<line x1="1958.5" y1="1124.1" x2="1958.5" y2="1312.1" stroke="#000" stroke-width="1.2" stroke-dasharray="1.2 2"/>
<line x1="1927" y1="1111.1" x2="1927" y2="1124.1" class="k"/>
<line x1="1974.3" y1="1111.1" x2="1974.3" y2="1312.1" class="k"/>
<line x1="1927" y1="1124.1" x2="1989.1" y2="1124.1" class="k"/>
<line x1="1927" y1="1312.1" x2="1989.1" y2="1312.1" class="k"/>
<line x1="1974.3" y1="1218.4" x2="1989.1" y2="1218.4" class="k"/>
<text x="2003.9" y="1133.4">1000</text>
<text x="2003.9" y="1227.7">500</text>
<text x="2003.9" y="1321.4">0</text>
<line x1="1708.4" y1="1400" x2="1881.1" y2="1400" stroke="#000" stroke-width="1.2" stroke-dasharray="1.2 2"/>
<clipPath id="c16"><rect x="1702.4" y="1355.4" width="182.7" height="68.4"/></clipPath>
<g clip-path="url(#c16)">
<circle cx="1705.4" cy="1385" r="2.7"/>
<circle cx="1707.4" cy="1375.5" r="2.7"/>
<circle cx="1709.5" cy="1379.3" r="2.7"/>
<circle cx="1711.5" cy="1378.5" r="2.7"/>
<circle cx="1713.5" cy="1386.5" r="2.7"/>
<circle cx="1715.6" cy="1385.6" r="2.7"/>
<circle cx="1717.6" cy="1388.9" r="2.7"/>
<circle cx="1719.6" cy="1376.4" r="2.7"/>
<circle cx="1721.7" cy="1381.6" r="2.7"/>
<circle cx="1723.7" cy="1375.6" r="2.7"/>
<circle cx="1725.7" cy="1378.5" r="2.7"/>
<circle cx="1727.8" cy="1382.9" r="2.7"/>
<circle cx="1729.8" cy="1375.5" r="2.7"/>
<circle cx="1731.8" cy="1378.2" r="2.7"/>
<circle cx="1733.8" cy="1385.1" r="2.7"/>
<circle cx="1735.9" cy="1383.5" r="2.7"/>
<circle cx="1737.9" cy="1378.5" r="2.7"/>
<circle cx="1739.9" cy="1384.2" r="2.7"/>
<circle cx="1742" cy="1387.6" r="2.7"/>
<circle cx="1744" cy="1375.2" r="2.7"/>
<circle cx="1746" cy="1387.6" r="2.7"/>
<circle cx="1748.1" cy="1385.9" r="2.7"/>
<circle cx="1750.1" cy="1380.4" r="2.7"/>
<circle cx="1752.1" cy="1377.5" r="2.7"/>
<circle cx="1754.2" cy="1389.9" r="2.7"/>
<circle cx="1756.2" cy="1380.3" r="2.7"/>
<circle cx="1758.2" cy="1376.5" r="2.7"/>
<circle cx="1760.2" cy="1376.6" r="2.7"/>
<circle cx="1762.3" cy="1388.2" r="2.7"/>
<circle cx="1764.3" cy="1384.4" r="2.7"/>
<circle cx="1766.3" cy="1387.6" r="2.7"/>
<circle cx="1768.4" cy="1386.4" r="2.7"/>
<circle cx="1770.4" cy="1383.4" r="2.7"/>
<circle cx="1772.4" cy="1390.1" r="2.7"/>
<circle cx="1774.5" cy="1380.9" r="2.7"/>
<circle cx="1776.5" cy="1383.6" r="2.7"/>
<circle cx="1778.5" cy="1387.9" r="2.7"/>
<circle cx="1780.6" cy="1384.7" r="2.7"/>
<circle cx="1782.6" cy="1388.4" r="2.7"/>
<circle cx="1784.6" cy="1384" r="2.7"/>
<circle cx="1786.6" cy="1386" r="2.7"/>
<circle cx="1788.7" cy="1375.8" r="2.7"/>
<circle cx="1790.7" cy="1378.6" r="2.7"/>
<circle cx="1792.7" cy="1379.6" r="2.7"/>
<circle cx="1794.8" cy="1376.3" r="2.7"/>
<circle cx="1796.8" cy="1378.7" r="2.7"/>
<circle cx="1798.8" cy="1376.7" r="2.7"/>
<circle cx="1800.9" cy="1379.4" r="2.7"/>
<circle cx="1802.9" cy="1384.9" r="2.7"/>
<circle cx="1804.9" cy="1380.7" r="2.7"/>
<circle cx="1806.9" cy="1380.8" r="2.7"/>
<circle cx="1809" cy="1378.3" r="2.7"/>
<circle cx="1811" cy="1379.2" r="2.7"/>
<circle cx="1813" cy="1389.6" r="2.7"/>
<circle cx="1815.1" cy="1385.1" r="2.7"/>
<circle cx="1817.1" cy="1384.5" r="2.7"/>
<circle cx="1819.1" cy="1377.7" r="2.7"/>
<circle cx="1821.2" cy="1386.4" r="2.7"/>
<circle cx="1823.2" cy="1377.6" r="2.7"/>
<circle cx="1825.2" cy="1381" r="2.7"/>
<circle cx="1827.3" cy="1390.4" r="2.7"/>
<circle cx="1829.3" cy="1385" r="2.7"/>
<circle cx="1831.3" cy="1383.7" r="2.7"/>
<circle cx="1833.3" cy="1385.7" r="2.7"/>
<circle cx="1835.4" cy="1388.1" r="2.7"/>
<circle cx="1837.4" cy="1387.1" r="2.7"/>
<circle cx="1839.4" cy="1378.6" r="2.7"/>
<circle cx="1841.5" cy="1375.6" r="2.7"/>
<circle cx="1843.5" cy="1380" r="2.7"/>
<circle cx="1845.5" cy="1379.2" r="2.7"/>
<circle cx="1847.6" cy="1378.4" r="2.7"/>
<circle cx="1849.6" cy="1389.7" r="2.7"/>
<circle cx="1851.6" cy="1388.6" r="2.7"/>
<circle cx="1853.7" cy="1380" r="2.7"/>
<circle cx="1855.7" cy="1385.2" r="2.7"/>
<circle cx="1857.7" cy="1381.2" r="2.7"/>
<circle cx="1859.7" cy="1389.2" r="2.7"/>
<circle cx="1861.8" cy="1382.2" r="2.7"/>
<circle cx="1863.8" cy="1379.2" r="2.7"/>
<circle cx="1865.8" cy="1378.9" r="2.7"/>
<circle cx="1867.9" cy="1383.8" r="2.7"/>
<circle cx="1869.9" cy="1379.2" r="2.7"/>
<circle cx="1871.9" cy="1384.1" r="2.7"/>
<circle cx="1874" cy="1389" r="2.7"/>
<circle cx="1876" cy="1381.3" r="2.7"/>
<circle cx="1878" cy="1378.5" r="2.7"/>
<circle cx="1880.1" cy="1390.5" r="2.7"/>
<circle cx="1882.1" cy="1383" r="2.7"/>
</g>
<rect x="1704.4" y="1358.4" width="178.7" height="62.4" fill="none" stroke="#000" stroke-width="2.4"/>
<line x1="1691.4" y1="1358.4" x2="1704.4" y2="1358.4" class="k"/>
<text x="1675.9" y="1367.7" text-anchor="end">100</text>
<line x1="1691.4" y1="1420.8" x2="1704.4" y2="1420.8" class="k"/>
<text x="1675.9" y="1430.1" text-anchor="end">0</text>
<line x1="1704.4" y1="1420.8" x2="1704.4" y2="1433.8" class="k"/>
<line x1="1805.8" y1="1420.8" x2="1805.8" y2="1433.8" class="k"/>
<text x="1704.4" y="1466.1" text-anchor="middle">0</text>
<text x="1805.8" y="1466.1" text-anchor="middle">50</text>
<text transform="translate(1589.9 1389.6) rotate(-90)" text-anchor="middle">Cell</text>
<text transform="translate(1615.9 1389.6) rotate(-90)" text-anchor="middle">Consistency (%)</text>
<text x="1793.4" y="1503.3" text-anchor="middle">Cell (#)</text>
<line x1="1958.5" y1="1358.4" x2="1958.5" y2="1420.8" stroke="#000" stroke-width="1.2" stroke-dasharray="1.2 2"/>
<line x1="1929" y1="1400" x2="1974.3" y2="1400" stroke="#000" stroke-width="1.2" stroke-dasharray="1.2 2"/>
<line x1="1927" y1="1358.4" x2="1927" y2="1433.8" class="k"/>
<line x1="1974.3" y1="1358.4" x2="1974.3" y2="1433.8" class="k"/>
<line x1="1927" y1="1358.4" x2="1989.1" y2="1358.4" class="k"/>
<line x1="1927" y1="1420.8" x2="1989.1" y2="1420.8" class="k"/>
<text x="2003.9" y="1367.7">100</text>
<text x="2003.9" y="1430.1">0</text>
<text x="1927" y="1466.1" text-anchor="middle">100</text>
<text x="1974.9" y="1466.1" text-anchor="middle">0</text>
<line x1="1928" y1="1381.6" x2="1962" y2="1381.6" stroke="#000" stroke-width="1.6"/>
<line x1="1928" y1="1378.6" x2="1928" y2="1384.6" stroke="#000" stroke-width="1.6"/>
<line x1="1962" y1="1378.6" x2="1962" y2="1384.6" stroke="#000" stroke-width="1.6"/>
<line x1="1945.5" y1="1376" x2="1945.5" y2="1386.8" stroke="#000" stroke-width="1.6"/>
<line x1="1942.5" y1="1376" x2="1948.5" y2="1376" stroke="#000" stroke-width="1.6"/>
<line x1="1942.5" y1="1386.8" x2="1948.5" y2="1386.8" stroke="#000" stroke-width="1.6"/>
<g fill="#1038f0" opacity="1">
<circle cx="119" cy="1757.3" r="5.2"/>
<circle cx="123.7" cy="1768.2" r="5.2"/>
<circle cx="117.5" cy="1773.4" r="5.2"/>
<circle cx="121.2" cy="1775.6" r="5.2"/>
<circle cx="126.8" cy="1777.4" r="5.2"/>
<circle cx="125.2" cy="1770.3" r="5.2"/>
<circle cx="132.9" cy="1758.9" r="5.2"/>
<circle cx="136" cy="1773.4" r="5.2"/>
<circle cx="135.1" cy="1778" r="5.2"/>
<circle cx="144.7" cy="1753.3" r="5.2"/>
<circle cx="145.9" cy="1740.3" r="5.2"/>
<circle cx="159.2" cy="1738.8" r="5.2"/>
<circle cx="148.4" cy="1767.8" r="5.2"/>
<circle cx="153" cy="1768.8" r="5.2"/>
<circle cx="151.5" cy="1774.3" r="5.2"/>
<circle cx="149.9" cy="1781.1" r="5.2"/>
<circle cx="154.6" cy="1778" r="5.2"/>
<circle cx="159.2" cy="1784.2" r="5.2"/>
<circle cx="160.8" cy="1775.6" r="5.2"/>
<circle cx="159.8" cy="1771.2" r="5.2"/>
<circle cx="165.4" cy="1767.2" r="5.2"/>
<circle cx="170" cy="1774.3" r="5.2"/>
<circle cx="177.8" cy="1768.8" r="5.2"/>
<circle cx="180.2" cy="1758.9" r="5.2"/>
<circle cx="193.2" cy="1752.1" r="5.2"/>
<circle cx="175.6" cy="1735.4" r="5.2"/>
<circle cx="176.8" cy="1731.1" r="5.2"/>
<circle cx="177.8" cy="1723.9" r="5.2"/>
<circle cx="183" cy="1718.7" r="5.2"/>
<circle cx="204.7" cy="1720.9" r="5.2"/>
</g>
<line x1="102.6" y1="1795" x2="257" y2="1650.8" stroke="#000" stroke-width="1.9"/>
<rect x="102.6" y="1650.8" width="154.4" height="144.2" fill="none" stroke="#000" stroke-width="2.4"/>
<line x1="146.5" y1="1795" x2="146.5" y2="1808" class="k"/>
<text x="146.5" y="1840" text-anchor="middle">0.0</text>
<line x1="203.4" y1="1795" x2="203.4" y2="1808" class="k"/>
<text x="203.4" y="1840" text-anchor="middle">2.5</text>
<line x1="89.6" y1="1700.7" x2="102.6" y2="1700.7" class="k"/>
<text x="74.1" y="1710" text-anchor="end">2.5</text>
<line x1="89.6" y1="1753.9" x2="102.6" y2="1753.9" class="k"/>
<text x="74.1" y="1763.2" text-anchor="end">0.0</text>
<text x="179.8" y="1602.4" text-anchor="middle">E3-KI</text>
<text x="179.8" y="1628.7" text-anchor="middle">7-9mo</text>
<text x="106.6" y="1672.7">Hyper</text>
<text x="253.3" y="1788.2" text-anchor="end">Normal</text>
<g fill="#1038f0" opacity="0.86">
<circle cx="333.3" cy="1764.1" r="5.2"/>
<circle cx="336.4" cy="1743.4" r="5.2"/>
<circle cx="347.2" cy="1749.6" r="5.2"/>
<circle cx="350.9" cy="1741" r="5.2"/>
<circle cx="352.4" cy="1736.3" r="5.2"/>
<circle cx="358.6" cy="1737.9" r="5.2"/>
<circle cx="359.5" cy="1755.5" r="5.2"/>
<circle cx="364.8" cy="1723.3" r="5.2"/>
<circle cx="380.9" cy="1719.3" r="5.2"/>
<circle cx="384.3" cy="1709.4" r="5.2"/>
<circle cx="382.4" cy="1738.8" r="5.2"/>
<circle cx="413.7" cy="1704.5" r="5.2"/>
<circle cx="342.2" cy="1779" r="5.2"/>
<circle cx="352.4" cy="1779.6" r="5.2"/>
<circle cx="363.9" cy="1785.8" r="5.2"/>
<circle cx="377.8" cy="1771.9" r="5.2"/>
<circle cx="391.1" cy="1771.9" r="5.2"/>
</g>
<line x1="323.3" y1="1795" x2="477.7" y2="1650.8" stroke="#000" stroke-width="1.9"/>
<rect x="323.3" y="1650.8" width="154.4" height="144.2" fill="none" stroke="#000" stroke-width="2.4"/>
<line x1="367.2" y1="1795" x2="367.2" y2="1808" class="k"/>
<text x="367.2" y="1840" text-anchor="middle">0.0</text>
<line x1="424.1" y1="1795" x2="424.1" y2="1808" class="k"/>
<text x="424.1" y="1840" text-anchor="middle">2.5</text>
<line x1="310.3" y1="1700.7" x2="323.3" y2="1700.7" class="k"/>
<text x="294.8" y="1710" text-anchor="end">2.5</text>
<line x1="310.3" y1="1753.9" x2="323.3" y2="1753.9" class="k"/>
<text x="294.8" y="1763.2" text-anchor="end">0.0</text>
<text x="400.5" y="1602.4" text-anchor="middle">E3-KI</text>
<text x="400.5" y="1628.7" text-anchor="middle">17-19mo</text>
<text x="327.3" y="1672.7">Hyper</text>
<text x="474" y="1788.2" text-anchor="end">Normal</text>
<g fill="#f5300f" opacity="1">
<circle cx="115.9" cy="2042.2" r="5.2"/>
<circle cx="120" cy="2044.7" r="5.2"/>
<circle cx="123.7" cy="2042.8" r="5.2"/>
<circle cx="126.8" cy="2045.3" r="5.2"/>
<circle cx="122.1" cy="2051.5" r="5.2"/>
<circle cx="125.2" cy="2054" r="5.2"/>
<circle cx="129.8" cy="2047.8" r="5.2"/>
<circle cx="119" cy="2059.2" r="5.2"/>
<circle cx="123" cy="2062.3" r="5.2"/>
<circle cx="123.7" cy="2029.8" r="5.2"/>
<circle cx="130.8" cy="2017.5" r="5.2"/>
<circle cx="134.5" cy="2026.8" r="5.2"/>
<circle cx="139.1" cy="2039.1" r="5.2"/>
<circle cx="145.3" cy="2010.7" r="5.2"/>
<circle cx="152.1" cy="2001.1" r="5.2"/>
<circle cx="163.2" cy="1999.5" r="5.2"/>
<circle cx="166.9" cy="1996.5" r="5.2"/>
<circle cx="162.9" cy="2008.2" r="5.2"/>
<circle cx="172.2" cy="2007.3" r="5.2"/>
<circle cx="197.9" cy="2020" r="5.2"/>
<circle cx="150.9" cy="2049.3" r="5.2"/>
<circle cx="147.8" cy="2065.4" r="5.2"/>
<circle cx="148.4" cy="2071" r="5.2"/>
<circle cx="149.3" cy="2073.7" r="5.2"/>
<circle cx="127.4" cy="2049.9" r="5.2"/>
</g>
<line x1="102.6" y1="2081.5" x2="257" y2="1937.3" stroke="#000" stroke-width="1.9"/>
<rect x="102.6" y="1937.3" width="154.4" height="144.2" fill="none" stroke="#000" stroke-width="2.4"/>
<line x1="146.5" y1="2081.5" x2="146.5" y2="2094.5" class="k"/>
<text x="146.5" y="2126.5" text-anchor="middle">0.0</text>
<line x1="203.4" y1="2081.5" x2="203.4" y2="2094.5" class="k"/>
<text x="203.4" y="2126.5" text-anchor="middle">2.5</text>
<line x1="89.6" y1="1987.2" x2="102.6" y2="1987.2" class="k"/>
<text x="74.1" y="1996.5" text-anchor="end">2.5</text>
<line x1="89.6" y1="2040.4" x2="102.6" y2="2040.4" class="k"/>
<text x="74.1" y="2049.7" text-anchor="end">0.0</text>
<text x="179.8" y="1888.9" text-anchor="middle">E4-KI</text>
<text x="179.8" y="1915.2" text-anchor="middle">7-9mo</text>
<text x="106.6" y="1959.2">Hyper</text>
<text x="253.3" y="2074.7" text-anchor="end">Normal</text>
<g fill="#f5300f" opacity="0.86">
<circle cx="339.5" cy="2033.6" r="5.2"/>
<circle cx="344.7" cy="2036" r="5.2"/>
<circle cx="347.8" cy="2031.4" r="5.2"/>
<circle cx="349.3" cy="2026.1" r="5.2"/>
<circle cx="355.5" cy="2032.9" r="5.2"/>
<circle cx="363.3" cy="2026.1" r="5.2"/>
<circle cx="366.3" cy="2015.9" r="5.2"/>
<circle cx="346.3" cy="2042.2" r="5.2"/>
<circle cx="343.2" cy="2045.3" r="5.2"/>
<circle cx="355.5" cy="2043.8" r="5.2"/>
<circle cx="366.3" cy="2047.8" r="5.2"/>
<circle cx="377.2" cy="2038.2" r="5.2"/>
<circle cx="333.3" cy="2046.8" r="5.2"/>
<circle cx="333.9" cy="2053" r="5.2"/>
<circle cx="341.6" cy="2057.7" r="5.2"/>
<circle cx="398.8" cy="2060.8" r="5.2"/>
<circle cx="354.9" cy="2075.3" r="5.2"/>
<circle cx="358" cy="2071.6" r="5.2"/>
<circle cx="360.2" cy="2070" r="5.2"/>
<circle cx="360.2" cy="2075.3" r="5.2"/>
</g>
<line x1="323.3" y1="2081.5" x2="477.7" y2="1937.3" stroke="#000" stroke-width="1.9"/>
<rect x="323.3" y="1937.3" width="154.4" height="144.2" fill="none" stroke="#000" stroke-width="2.4"/>
<line x1="367.2" y1="2081.5" x2="367.2" y2="2094.5" class="k"/>
<text x="367.2" y="2126.5" text-anchor="middle">0.0</text>
<line x1="424.1" y1="2081.5" x2="424.1" y2="2094.5" class="k"/>
<text x="424.1" y="2126.5" text-anchor="middle">2.5</text>
<line x1="310.3" y1="1987.2" x2="323.3" y2="1987.2" class="k"/>
<text x="294.8" y="1996.5" text-anchor="end">2.5</text>
<line x1="310.3" y1="2040.4" x2="323.3" y2="2040.4" class="k"/>
<text x="294.8" y="2049.7" text-anchor="end">0.0</text>
<text x="400.5" y="1888.9" text-anchor="middle">E4-KI</text>
<text x="400.5" y="1915.2" text-anchor="middle">17-19mo</text>
<text x="327.3" y="1959.2">Hyper</text>
<text x="474" y="2074.7" text-anchor="end">Normal</text>
<g fill="#6b2408" opacity="1">
<circle cx="122.1" cy="2322" r="5.2"/>
<circle cx="129.2" cy="2329.7" r="5.2"/>
<circle cx="125.2" cy="2336.5" r="5.2"/>
<circle cx="120.6" cy="2346.1" r="5.2"/>
<circle cx="140.7" cy="2339" r="5.2"/>
<circle cx="142.2" cy="2353.5" r="5.2"/>
<circle cx="148.4" cy="2317.4" r="5.2"/>
<circle cx="171.6" cy="2311.2" r="5.2"/>
<circle cx="179.3" cy="2312.1" r="5.2"/>
<circle cx="186.1" cy="2318" r="5.2"/>
<circle cx="206.2" cy="2320.5" r="5.2"/>
<circle cx="177.1" cy="2329.1" r="5.2"/>
<circle cx="181.8" cy="2332.8" r="5.2"/>
<circle cx="191.7" cy="2333.7" r="5.2"/>
<circle cx="159.2" cy="2356" r="5.2"/>
<circle cx="162.3" cy="2352.9" r="5.2"/>
<circle cx="166.3" cy="2351.4" r="5.2"/>
<circle cx="197.9" cy="2276.2" r="5.2"/>
</g>
<line x1="102.6" y1="2367.9" x2="257" y2="2223.7" stroke="#000" stroke-width="1.9"/>
<rect x="102.6" y="2223.7" width="154.4" height="144.2" fill="none" stroke="#000" stroke-width="2.4"/>
<line x1="146.5" y1="2367.9" x2="146.5" y2="2380.9" class="k"/>
<text x="146.5" y="2412.9" text-anchor="middle">0.0</text>
<line x1="203.4" y1="2367.9" x2="203.4" y2="2380.9" class="k"/>
<text x="203.4" y="2412.9" text-anchor="middle">2.5</text>
<line x1="89.6" y1="2273.6" x2="102.6" y2="2273.6" class="k"/>
<text x="74.1" y="2282.9" text-anchor="end">2.5</text>
<line x1="89.6" y1="2326.8" x2="102.6" y2="2326.8" class="k"/>
<text x="74.1" y="2336.1" text-anchor="end">0.0</text>
<text x="179.8" y="2175.3" text-anchor="middle">fE4/Syn1-Cre+</text>
<text x="179.8" y="2201.6" text-anchor="middle">7-9mo</text>
<text x="106.6" y="2245.6">Hyper</text>
<text x="253.3" y="2361.1" text-anchor="end">Normal</text>
<g fill="#6b2408" opacity="0.9">
<circle cx="329.3" cy="2334.4" r="5.2"/>
<circle cx="332.3" cy="2331.3" r="5.2"/>
<circle cx="343.8" cy="2332.8" r="5.2"/>
<circle cx="348.7" cy="2330.3" r="5.2"/>
<circle cx="355.5" cy="2327.6" r="5.2"/>
<circle cx="358.6" cy="2324.2" r="5.2"/>
<circle cx="348.4" cy="2309.6" r="5.2"/>
<circle cx="364.2" cy="2296.6" r="5.2"/>
<circle cx="384.9" cy="2294.8" r="5.2"/>
<circle cx="378.7" cy="2282.7" r="5.2"/>
<circle cx="402.8" cy="2273.5" r="5.2"/>
<circle cx="421.1" cy="2276.6" r="5.2"/>
<circle cx="371" cy="2323.5" r="5.2"/>
<circle cx="375.6" cy="2321.1" r="5.2"/>
<circle cx="380.3" cy="2317.4" r="5.2"/>
<circle cx="377.2" cy="2326.6" r="5.2"/>
<circle cx="379.6" cy="2335.9" r="5.2"/>
<circle cx="388" cy="2342.7" r="5.2"/>
<circle cx="371.9" cy="2352" r="5.2"/>
<circle cx="348.4" cy="2355.1" r="5.2"/>
</g>
<line x1="323.3" y1="2367.9" x2="477.7" y2="2223.7" stroke="#000" stroke-width="1.9"/>
<rect x="323.3" y="2223.7" width="154.4" height="144.2" fill="none" stroke="#000" stroke-width="2.4"/>
<line x1="367.2" y1="2367.9" x2="367.2" y2="2380.9" class="k"/>
<text x="367.2" y="2412.9" text-anchor="middle">0.0</text>
<line x1="424.1" y1="2367.9" x2="424.1" y2="2380.9" class="k"/>
<text x="424.1" y="2412.9" text-anchor="middle">2.5</text>
<line x1="310.3" y1="2273.6" x2="323.3" y2="2273.6" class="k"/>
<text x="294.8" y="2282.9" text-anchor="end">2.5</text>
<line x1="310.3" y1="2326.8" x2="323.3" y2="2326.8" class="k"/>
<text x="294.8" y="2336.1" text-anchor="end">0.0</text>
<text x="400.5" y="2175.3" text-anchor="middle">fE4/Syn1-Cre-</text>
<text x="400.5" y="2201.6" text-anchor="middle">7-9mo</text>
<text x="327.3" y="2245.6">Hyper</text>
<text x="474" y="2361.1" text-anchor="end">Normal</text>
<text transform="translate(28.8 2000) rotate(-90)" text-anchor="middle" font-size="28.4">Normal Distance</text>
<text x="286" y="2452" text-anchor="middle" font-size="28.4">Hyper Distance</text>
<g fill="#1038f0" opacity="1">
<circle cx="653.9" cy="1752.7" r="5.2"/>
<circle cx="659.1" cy="1736.3" r="5.2"/>
<circle cx="670.6" cy="1735.7" r="5.2"/>
<circle cx="687.9" cy="1725.8" r="5.2"/>
<circle cx="718.8" cy="1724.9" r="5.2"/>
<circle cx="698.4" cy="1741" r="5.2"/>
<circle cx="694.7" cy="1744" r="5.2"/>
<circle cx="691.6" cy="1750.2" r="5.2"/>
<circle cx="688.5" cy="1753.3" r="5.2"/>
<circle cx="683.9" cy="1745.6" r="5.2"/>
<circle cx="680.8" cy="1756.4" r="5.2"/>
<circle cx="674.6" cy="1758" r="5.2"/>
<circle cx="668.4" cy="1756.4" r="5.2"/>
<circle cx="663.8" cy="1762.6" r="5.2"/>
<circle cx="665.3" cy="1768.8" r="5.2"/>
<circle cx="662.8" cy="1776.5" r="5.2"/>
<circle cx="682.3" cy="1766.6" r="5.2"/>
<circle cx="669.3" cy="1762" r="5.2"/>
</g>
<line x1="643.6" y1="1782" x2="778.9" y2="1650.7" stroke="#000" stroke-width="1.9"/>
<rect x="643.6" y="1650.7" width="135.3" height="131.3" fill="none" stroke="#000" stroke-width="2.4"/>
<line x1="675.3" y1="1782" x2="675.3" y2="1795" class="k"/>
<text x="675.3" y="1825.6" text-anchor="middle">0</text>
<line x1="749.2" y1="1782" x2="749.2" y2="1795" class="k"/>
<text x="749.2" y="1825.6" text-anchor="middle">5</text>
<line x1="630.6" y1="1680" x2="643.6" y2="1680" class="k"/>
<text x="615.1" y="1689.3" text-anchor="end">5</text>
<line x1="630.6" y1="1751.7" x2="643.6" y2="1751.7" class="k"/>
<text x="615.1" y="1761" text-anchor="end">0</text>
<text x="711.2" y="1602.3" text-anchor="middle">E3-KI</text>
<text x="711.2" y="1628.6" text-anchor="middle">7-9mo</text>
<text x="647.6" y="1670.5">Hyper</text>
<text x="775.2" y="1775.2" text-anchor="end">Normal</text>
<g fill="#1038f0" opacity="0.86">
<circle cx="893.5" cy="1721.8" r="5.2"/>
<circle cx="898.7" cy="1722.4" r="5.2"/>
<circle cx="883.3" cy="1734.8" r="5.2"/>
<circle cx="895" cy="1736.3" r="5.2"/>
<circle cx="896.6" cy="1742.5" r="5.2"/>
<circle cx="908" cy="1742.5" r="5.2"/>
<circle cx="923.4" cy="1744" r="5.2"/>
<circle cx="918.8" cy="1748.7" r="5.2"/>
<circle cx="912.6" cy="1753.3" r="5.2"/>
<circle cx="914.2" cy="1759.5" r="5.2"/>
<circle cx="908" cy="1761" r="5.2"/>
<circle cx="901.8" cy="1751.8" r="5.2"/>
<circle cx="886.3" cy="1752.7" r="5.2"/>
<circle cx="880.2" cy="1756.4" r="5.2"/>
<circle cx="874" cy="1762" r="5.2"/>
<circle cx="889.4" cy="1761" r="5.2"/>
<circle cx="895.6" cy="1767.2" r="5.2"/>
<circle cx="883.3" cy="1773.4" r="5.2"/>
<circle cx="887.9" cy="1764.1" r="5.2"/>
</g>
<line x1="865" y1="1782" x2="1000.3" y2="1650.7" stroke="#000" stroke-width="1.9"/>
<rect x="865" y="1650.7" width="135.3" height="131.3" fill="none" stroke="#000" stroke-width="2.4"/>
<line x1="896.7" y1="1782" x2="896.7" y2="1795" class="k"/>
<text x="896.7" y="1825.6" text-anchor="middle">0</text>
<line x1="970.6" y1="1782" x2="970.6" y2="1795" class="k"/>
<text x="970.6" y="1825.6" text-anchor="middle">5</text>
<line x1="852" y1="1680" x2="865" y2="1680" class="k"/>
<text x="836.5" y="1689.3" text-anchor="end">5</text>
<line x1="852" y1="1751.7" x2="865" y2="1751.7" class="k"/>
<text x="836.5" y="1761" text-anchor="end">0</text>
<text x="932.6" y="1602.3" text-anchor="middle">E3-KI</text>
<text x="932.6" y="1628.6" text-anchor="middle">17-19mo</text>
<text x="869" y="1670.5">Hyper</text>
<text x="996.6" y="1775.2" text-anchor="end">Normal</text>
<g fill="#f5300f" opacity="1">
<circle cx="696.8" cy="1993.2" r="5.2"/>
<circle cx="666.2" cy="1999.7" r="5.2"/>
<circle cx="663.8" cy="2006.8" r="5.2"/>
<circle cx="651.4" cy="2012.1" r="5.2"/>
<circle cx="657.6" cy="2013" r="5.2"/>
<circle cx="668.4" cy="2013.9" r="5.2"/>
<circle cx="652.9" cy="2023.2" r="5.2"/>
<circle cx="665.3" cy="2022.3" r="5.2"/>
<circle cx="679.2" cy="2020.1" r="5.2"/>
<circle cx="700.9" cy="2022.3" r="5.2"/>
<circle cx="665.3" cy="2030" r="5.2"/>
<circle cx="680.8" cy="2029.4" r="5.2"/>
<circle cx="649.8" cy="2036.2" r="5.2"/>
<circle cx="657.6" cy="2037.1" r="5.2"/>
<circle cx="666.8" cy="2041.8" r="5.2"/>
<circle cx="669.9" cy="2043.9" r="5.2"/>
<circle cx="679.2" cy="2040.8" r="5.2"/>
<circle cx="679.2" cy="2034.6" r="5.2"/>
</g>
<line x1="643.6" y1="2055.5" x2="778.9" y2="1924.2" stroke="#000" stroke-width="1.9"/>
<rect x="643.6" y="1924.2" width="135.3" height="131.3" fill="none" stroke="#000" stroke-width="2.4"/>
<line x1="675.3" y1="2055.5" x2="675.3" y2="2068.5" class="k"/>
<text x="675.3" y="2099.1" text-anchor="middle">0</text>
<line x1="749.2" y1="2055.5" x2="749.2" y2="2068.5" class="k"/>
<text x="749.2" y="2099.1" text-anchor="middle">5</text>
<line x1="630.6" y1="1953.5" x2="643.6" y2="1953.5" class="k"/>
<text x="615.1" y="1962.8" text-anchor="end">5</text>
<line x1="630.6" y1="2025.2" x2="643.6" y2="2025.2" class="k"/>
<text x="615.1" y="2034.5" text-anchor="end">0</text>
<text x="711.2" y="1875.8" text-anchor="middle">E4-KI</text>
<text x="711.2" y="1902.1" text-anchor="middle">7-9mo</text>
<text x="647.6" y="1944">Hyper</text>
<text x="775.2" y="2048.7" text-anchor="end">Normal</text>
<g fill="#f5300f" opacity="0.86">
<circle cx="927.5" cy="1958" r="5.2"/>
<circle cx="921" cy="2014.6" r="5.2"/>
<circle cx="921.9" cy="2022.3" r="5.2"/>
<circle cx="915.7" cy="2026.3" r="5.2"/>
<circle cx="872.4" cy="2021.4" r="5.2"/>
<circle cx="898.7" cy="2023.2" r="5.2"/>
<circle cx="872.4" cy="2034" r="5.2"/>
<circle cx="877.1" cy="2037.1" r="5.2"/>
<circle cx="884.8" cy="2029.4" r="5.2"/>
<circle cx="889.4" cy="2034.6" r="5.2"/>
<circle cx="894.1" cy="2031.6" r="5.2"/>
<circle cx="900.3" cy="2028.5" r="5.2"/>
<circle cx="903.4" cy="2033.1" r="5.2"/>
<circle cx="903.4" cy="2040.2" r="5.2"/>
<circle cx="895.6" cy="2042.4" r="5.2"/>
<circle cx="889.4" cy="2044.5" r="5.2"/>
<circle cx="884.8" cy="2040.2" r="5.2"/>
<circle cx="880.2" cy="2034.6" r="5.2"/>
</g>
<line x1="865" y1="2055.5" x2="1000.3" y2="1924.2" stroke="#000" stroke-width="1.9"/>
<rect x="865" y="1924.2" width="135.3" height="131.3" fill="none" stroke="#000" stroke-width="2.4"/>
<line x1="896.7" y1="2055.5" x2="896.7" y2="2068.5" class="k"/>
<text x="896.7" y="2099.1" text-anchor="middle">0</text>
<line x1="970.6" y1="2055.5" x2="970.6" y2="2068.5" class="k"/>
<text x="970.6" y="2099.1" text-anchor="middle">5</text>
<line x1="852" y1="1953.5" x2="865" y2="1953.5" class="k"/>
<text x="836.5" y="1962.8" text-anchor="end">5</text>
<line x1="852" y1="2025.2" x2="865" y2="2025.2" class="k"/>
<text x="836.5" y="2034.5" text-anchor="end">0</text>
<text x="932.6" y="1875.8" text-anchor="middle">E4-KI</text>
<text x="932.6" y="1902.1" text-anchor="middle">17-19mo</text>
<text x="869" y="1944">Hyper</text>
<text x="996.6" y="2048.7" text-anchor="end">Normal</text>
<text transform="translate(574.2 1842.6) rotate(-90)" text-anchor="middle" font-size="28.4">Normal Distance</text>
<text x="820.5" y="2146.8" text-anchor="middle" font-size="28.4">Hyper Distance</text>
<g fill="#1038f0" opacity="1">
<circle cx="1151.3" cy="1758.9" r="5.2"/>
<circle cx="1164.3" cy="1742.8" r="5.2"/>
<circle cx="1166.8" cy="1754.9" r="5.2"/>
<circle cx="1180.7" cy="1754.2" r="5.2"/>
<circle cx="1174.5" cy="1761" r="5.2"/>
<circle cx="1171.4" cy="1767.8" r="5.2"/>
<circle cx="1182.2" cy="1770.3" r="5.2"/>
<circle cx="1187.8" cy="1763.2" r="5.2"/>
<circle cx="1192.1" cy="1763.2" r="5.2"/>
<circle cx="1168.3" cy="1760.1" r="5.2"/>
</g>
<line x1="1146" y1="1782" x2="1300.4" y2="1650.7" stroke="#000" stroke-width="1.9"/>
<rect x="1146" y="1650.7" width="154.4" height="131.3" fill="none" stroke="#000" stroke-width="2.4"/>
<line x1="1182.2" y1="1782" x2="1182.2" y2="1795" class="k"/>
<text x="1182.2" y="1825.6" text-anchor="middle">0</text>
<line x1="1285.1" y1="1782" x2="1285.1" y2="1795" class="k"/>
<text x="1285.1" y="1825.6" text-anchor="middle">5</text>
<line x1="1133" y1="1664.3" x2="1146" y2="1664.3" class="k"/>
<text x="1117.5" y="1673.6" text-anchor="end">5</text>
<line x1="1133" y1="1751.7" x2="1146" y2="1751.7" class="k"/>
<text x="1117.5" y="1761" text-anchor="end">0</text>
<text x="1223.2" y="1602.3" text-anchor="middle">E3-KI</text>
<text x="1223.2" y="1628.6" text-anchor="middle">7-9mo</text>
<text x="1150" y="1670.5">Hyper</text>
<text x="1296.7" y="1775.2" text-anchor="end">Normal</text>
<g fill="#1038f0" opacity="0.86">
<circle cx="1424.9" cy="1697.1" r="5.2"/>
<circle cx="1475.3" cy="1706.3" r="5.2"/>
<circle cx="1410.4" cy="1726.4" r="5.2"/>
<circle cx="1434.2" cy="1727" r="5.2"/>
<circle cx="1433.2" cy="1732.3" r="5.2"/>
<circle cx="1448.7" cy="1722.4" r="5.2"/>
<circle cx="1451.8" cy="1728.6" r="5.2"/>
<circle cx="1386.3" cy="1740" r="5.2"/>
<circle cx="1383.8" cy="1752.7" r="5.2"/>
<circle cx="1390.9" cy="1753.3" r="5.2"/>
<circle cx="1381.6" cy="1758.9" r="5.2"/>
<circle cx="1401.7" cy="1757" r="5.2"/>
<circle cx="1395.5" cy="1761" r="5.2"/>
<circle cx="1388.7" cy="1767.2" r="5.2"/>
<circle cx="1404.2" cy="1765.7" r="5.2"/>
<circle cx="1405.4" cy="1770.3" r="5.2"/>
<circle cx="1398" cy="1775.6" r="5.2"/>
<circle cx="1419.6" cy="1754.9" r="5.2"/>
<circle cx="1424.9" cy="1745.6" r="5.2"/>
<circle cx="1428" cy="1752.7" r="5.2"/>
<circle cx="1420.9" cy="1760.1" r="5.2"/>
</g>
<line x1="1367" y1="1782" x2="1521.4" y2="1650.7" stroke="#000" stroke-width="1.9"/>
<rect x="1367" y="1650.7" width="154.4" height="131.3" fill="none" stroke="#000" stroke-width="2.4"/>
<line x1="1403.2" y1="1782" x2="1403.2" y2="1795" class="k"/>
<text x="1403.2" y="1825.6" text-anchor="middle">0</text>
<line x1="1506.1" y1="1782" x2="1506.1" y2="1795" class="k"/>
<text x="1506.1" y="1825.6" text-anchor="middle">5</text>
<line x1="1354" y1="1664.3" x2="1367" y2="1664.3" class="k"/>
<text x="1338.5" y="1673.6" text-anchor="end">5</text>
<line x1="1354" y1="1751.7" x2="1367" y2="1751.7" class="k"/>
<text x="1338.5" y="1761" text-anchor="end">0</text>
<text x="1444.2" y="1602.3" text-anchor="middle">E3-KI</text>
<text x="1444.2" y="1628.6" text-anchor="middle">17-19mo</text>
<text x="1371" y="1670.5">Hyper</text>
<text x="1517.7" y="1775.2" text-anchor="end">Normal</text>
<g fill="#f5300f" opacity="1">
<circle cx="1175.4" cy="2005.3" r="5.2"/>
<circle cx="1168.3" cy="2018.6" r="5.2"/>
<circle cx="1165.2" cy="2022.3" r="5.2"/>
<circle cx="1163.7" cy="2026" r="5.2"/>
<circle cx="1183.8" cy="2026.9" r="5.2"/>
<circle cx="1153.8" cy="2038.7" r="5.2"/>
<circle cx="1165.2" cy="2037.1" r="5.2"/>
<circle cx="1173.6" cy="2041.5" r="5.2"/>
<circle cx="1176.6" cy="2046.1" r="5.2"/>
</g>
<line x1="1146" y1="2055.5" x2="1300.4" y2="1924.2" stroke="#000" stroke-width="1.9"/>
<rect x="1146" y="1924.2" width="154.4" height="131.3" fill="none" stroke="#000" stroke-width="2.4"/>
<line x1="1182.2" y1="2055.5" x2="1182.2" y2="2068.5" class="k"/>
<text x="1182.2" y="2099.1" text-anchor="middle">0</text>
<line x1="1285.1" y1="2055.5" x2="1285.1" y2="2068.5" class="k"/>
<text x="1285.1" y="2099.1" text-anchor="middle">5</text>
<line x1="1133" y1="1937.8" x2="1146" y2="1937.8" class="k"/>
<text x="1117.5" y="1947.1" text-anchor="end">5</text>
<line x1="1133" y1="2025.2" x2="1146" y2="2025.2" class="k"/>
<text x="1117.5" y="2034.5" text-anchor="end">0</text>
<text x="1223.2" y="1875.8" text-anchor="middle">E4-KI</text>
<text x="1223.2" y="1902.1" text-anchor="middle">7-9mo</text>
<text x="1150" y="1944">Hyper</text>
<text x="1296.7" y="2048.7" text-anchor="end">Normal</text>
<g fill="#f5300f" opacity="0.86">
<circle cx="1420.9" cy="1979.6" r="5.2"/>
<circle cx="1471.3" cy="1985.2" r="5.2"/>
<circle cx="1398" cy="1994.5" r="5.2"/>
<circle cx="1398.6" cy="1999.7" r="5.2"/>
<circle cx="1417.2" cy="2001.6" r="5.2"/>
<circle cx="1415.6" cy="2013.6" r="5.2"/>
<circle cx="1424" cy="2013.9" r="5.2"/>
<circle cx="1377" cy="2021.4" r="5.2"/>
<circle cx="1397.1" cy="2018.6" r="5.2"/>
<circle cx="1395.5" cy="2022.3" r="5.2"/>
<circle cx="1404.8" cy="2023.2" r="5.2"/>
<circle cx="1386.3" cy="2028.5" r="5.2"/>
<circle cx="1395.5" cy="2031.6" r="5.2"/>
<circle cx="1400.2" cy="2031.6" r="5.2"/>
<circle cx="1378.5" cy="2036.8" r="5.2"/>
<circle cx="1389.3" cy="2038.4" r="5.2"/>
<circle cx="1400.2" cy="2038.4" r="5.2"/>
<circle cx="1409.4" cy="2038.4" r="5.2"/>
<circle cx="1387.8" cy="2045.5" r="5.2"/>
<circle cx="1395.5" cy="2047" r="5.2"/>
</g>
<line x1="1367" y1="2055.5" x2="1521.4" y2="1924.2" stroke="#000" stroke-width="1.9"/>
<rect x="1367" y="1924.2" width="154.4" height="131.3" fill="none" stroke="#000" stroke-width="2.4"/>
<line x1="1403.2" y1="2055.5" x2="1403.2" y2="2068.5" class="k"/>
<text x="1403.2" y="2099.1" text-anchor="middle">0</text>
<line x1="1506.1" y1="2055.5" x2="1506.1" y2="2068.5" class="k"/>
<text x="1506.1" y="2099.1" text-anchor="middle">5</text>
<line x1="1354" y1="1937.8" x2="1367" y2="1937.8" class="k"/>
<text x="1338.5" y="1947.1" text-anchor="end">5</text>
<line x1="1354" y1="2025.2" x2="1367" y2="2025.2" class="k"/>
<text x="1338.5" y="2034.5" text-anchor="end">0</text>
<text x="1444.2" y="1875.8" text-anchor="middle">E4-KI</text>
<text x="1444.2" y="1902.1" text-anchor="middle">17-19mo</text>
<text x="1371" y="1944">Hyper</text>
<text x="1517.7" y="2048.7" text-anchor="end">Normal</text>
<text transform="translate(1084 1846.3) rotate(-90)" text-anchor="middle" font-size="28.4">Normal Distance</text>
<text x="1335.6" y="2146.6" text-anchor="middle" font-size="28.4">Hyper Distance</text>
<g fill="#1038f0" opacity="1">
<circle cx="1688.9" cy="1732.3" r="5.2"/>
<circle cx="1699.8" cy="1733.2" r="5.2"/>
<circle cx="1679.7" cy="1738.8" r="5.2"/>
<circle cx="1689.6" cy="1745.6" r="5.2"/>
<circle cx="1699.8" cy="1743.4" r="5.2"/>
<circle cx="1679.7" cy="1753.9" r="5.2"/>
<circle cx="1691.1" cy="1754.9" r="5.2"/>
<circle cx="1705.9" cy="1750.8" r="5.2"/>
<circle cx="1672.9" cy="1759.5" r="5.2"/>
<circle cx="1678.1" cy="1763.2" r="5.2"/>
<circle cx="1681.8" cy="1760.1" r="5.2"/>
<circle cx="1692" cy="1761.7" r="5.2"/>
<circle cx="1707.5" cy="1756.4" r="5.2"/>
<circle cx="1712.7" cy="1758.9" r="5.2"/>
<circle cx="1725.4" cy="1753.3" r="5.2"/>
<circle cx="1735.9" cy="1753.9" r="5.2"/>
<circle cx="1750.8" cy="1742.5" r="5.2"/>
<circle cx="1752.3" cy="1727" r="5.2"/>
<circle cx="1687.4" cy="1770.3" r="5.2"/>
<circle cx="1718.9" cy="1768.8" r="5.2"/>
<circle cx="1700.4" cy="1777.1" r="5.2"/>
</g>
<line x1="1664.8" y1="1782" x2="1819.4" y2="1650.7" stroke="#000" stroke-width="1.9"/>
<rect x="1664.8" y="1650.7" width="154.6" height="131.3" fill="none" stroke="#000" stroke-width="2.4"/>
<line x1="1700.5" y1="1782" x2="1700.5" y2="1795" class="k"/>
<text x="1700.5" y="1825.6" text-anchor="middle">0</text>
<line x1="1801.8" y1="1782" x2="1801.8" y2="1795" class="k"/>
<text x="1801.8" y="1825.6" text-anchor="middle">5</text>
<line x1="1651.8" y1="1665.8" x2="1664.8" y2="1665.8" class="k"/>
<text x="1636.3" y="1675.1" text-anchor="end">5</text>
<line x1="1651.8" y1="1752" x2="1664.8" y2="1752" class="k"/>
<text x="1636.3" y="1761.3" text-anchor="end">0</text>
<text x="1742.1" y="1602.3" text-anchor="middle">E3-KI</text>
<text x="1742.1" y="1628.6" text-anchor="middle">7-9mo</text>
<text x="1668.8" y="1670.5">Hyper</text>
<text x="1815.7" y="1775.2" text-anchor="end">Normal</text>
<g fill="#1038f0" opacity="0.86">
<circle cx="1994.4" cy="1709.4" r="5.2"/>
<circle cx="1927.9" cy="1727.7" r="5.2"/>
<circle cx="1925.4" cy="1730.7" r="5.2"/>
<circle cx="1918.3" cy="1732.6" r="5.2"/>
<circle cx="1895.5" cy="1750.2" r="5.2"/>
<circle cx="1940.3" cy="1744.7" r="5.2"/>
<circle cx="1944" cy="1742.5" r="5.2"/>
<circle cx="1927" cy="1754.9" r="5.2"/>
<circle cx="1922.4" cy="1757.3" r="5.2"/>
<circle cx="1909.4" cy="1759.5" r="5.2"/>
<circle cx="1913.1" cy="1763.2" r="5.2"/>
<circle cx="1906.9" cy="1767.2" r="5.2"/>
<circle cx="1930.1" cy="1763.2" r="5.2"/>
<circle cx="1922.4" cy="1768.8" r="5.2"/>
<circle cx="1935.6" cy="1767.8" r="5.2"/>
<circle cx="1947.7" cy="1763.2" r="5.2"/>
<circle cx="1920.8" cy="1773.4" r="5.2"/>
<circle cx="1927.9" cy="1776.5" r="5.2"/>
</g>
<line x1="1885.8" y1="1782" x2="2040.4" y2="1650.7" stroke="#000" stroke-width="1.9"/>
<rect x="1885.8" y="1650.7" width="154.6" height="131.3" fill="none" stroke="#000" stroke-width="2.4"/>
<line x1="1921.5" y1="1782" x2="1921.5" y2="1795" class="k"/>
<text x="1921.5" y="1825.6" text-anchor="middle">0</text>
<line x1="2022.8" y1="1782" x2="2022.8" y2="1795" class="k"/>
<text x="2022.8" y="1825.6" text-anchor="middle">5</text>
<line x1="1872.8" y1="1665.8" x2="1885.8" y2="1665.8" class="k"/>
<text x="1857.3" y="1675.1" text-anchor="end">5</text>
<line x1="1872.8" y1="1752" x2="1885.8" y2="1752" class="k"/>
<text x="1857.3" y="1761.3" text-anchor="end">0</text>
<text x="1963.1" y="1602.3" text-anchor="middle">E3-KI</text>
<text x="1963.1" y="1628.6" text-anchor="middle">17-19mo</text>
<text x="1889.8" y="1670.5">Hyper</text>
<text x="2036.7" y="1775.2" text-anchor="end">Normal</text>
<g fill="#f5300f" opacity="1">
<circle cx="1765.3" cy="1964.2" r="5.2"/>
<circle cx="1705" cy="1987.3" r="5.2"/>
<circle cx="1721.4" cy="1990.4" r="5.2"/>
<circle cx="1681.2" cy="2005.3" r="5.2"/>
<circle cx="1689.6" cy="2005.9" r="5.2"/>
<circle cx="1697.3" cy="2003.7" r="5.2"/>
<circle cx="1702.9" cy="2011.5" r="5.2"/>
<circle cx="1679.7" cy="2020.1" r="5.2"/>
<circle cx="1685.8" cy="2020.7" r="5.2"/>
<circle cx="1699.8" cy="2020.1" r="5.2"/>
<circle cx="1713.7" cy="2016.1" r="5.2"/>
<circle cx="1672.6" cy="2027.5" r="5.2"/>
<circle cx="1690.5" cy="2028.5" r="5.2"/>
<circle cx="1707.5" cy="2030.6" r="5.2"/>
<circle cx="1722.3" cy="2028.5" r="5.2"/>
<circle cx="1705.9" cy="2040.8" r="5.2"/>
<circle cx="1712.1" cy="2042.4" r="5.2"/>
<circle cx="1717.7" cy="2043.9" r="5.2"/>
<circle cx="1692.7" cy="2044.5" r="5.2"/>
<circle cx="1694.2" cy="2049.2" r="5.2"/>
<circle cx="1678.1" cy="2047" r="5.2"/>
<circle cx="1683.7" cy="2048.6" r="5.2"/>
</g>
<line x1="1664.8" y1="2055.5" x2="1819.4" y2="1924.2" stroke="#000" stroke-width="1.9"/>
<rect x="1664.8" y="1924.2" width="154.6" height="131.3" fill="none" stroke="#000" stroke-width="2.4"/>
<line x1="1700.5" y1="2055.5" x2="1700.5" y2="2068.5" class="k"/>
<text x="1700.5" y="2099.1" text-anchor="middle">0</text>
<line x1="1801.8" y1="2055.5" x2="1801.8" y2="2068.5" class="k"/>
<text x="1801.8" y="2099.1" text-anchor="middle">5</text>
<line x1="1651.8" y1="1939.3" x2="1664.8" y2="1939.3" class="k"/>
<text x="1636.3" y="1948.6" text-anchor="end">5</text>
<line x1="1651.8" y1="2025.5" x2="1664.8" y2="2025.5" class="k"/>
<text x="1636.3" y="2034.8" text-anchor="end">0</text>
<text x="1742.1" y="1875.8" text-anchor="middle">E4-KI</text>
<text x="1742.1" y="1902.1" text-anchor="middle">7-9mo</text>
<text x="1668.8" y="1944">Hyper</text>
<text x="1815.7" y="2048.7" text-anchor="end">Normal</text>
<g fill="#f5300f" opacity="0.86">
<circle cx="1977.4" cy="1988.3" r="5.2"/>
<circle cx="1930.1" cy="2001.6" r="5.2"/>
<circle cx="1920.8" cy="2004.7" r="5.2"/>
<circle cx="1907.8" cy="2009.9" r="5.2"/>
<circle cx="1914.6" cy="2013" r="5.2"/>
<circle cx="1908.4" cy="2018.6" r="5.2"/>
<circle cx="1910" cy="2023.8" r="5.2"/>
<circle cx="1915.6" cy="2024.4" r="5.2"/>
<circle cx="1895.5" cy="2027.5" r="5.2"/>
<circle cx="1905.3" cy="2028.5" r="5.2"/>
<circle cx="1899.2" cy="2033.7" r="5.2"/>
<circle cx="1908.4" cy="2036.2" r="5.2"/>
<circle cx="1933.2" cy="2036.2" r="5.2"/>
<circle cx="1912.5" cy="2041.5" r="5.2"/>
<circle cx="1916.8" cy="2047.6" r="5.2"/>
</g>
<line x1="1885.8" y1="2055.5" x2="2040.4" y2="1924.2" stroke="#000" stroke-width="1.9"/>
<rect x="1885.8" y="1924.2" width="154.6" height="131.3" fill="none" stroke="#000" stroke-width="2.4"/>
<line x1="1921.5" y1="2055.5" x2="1921.5" y2="2068.5" class="k"/>
<text x="1921.5" y="2099.1" text-anchor="middle">0</text>
<line x1="2022.8" y1="2055.5" x2="2022.8" y2="2068.5" class="k"/>
<text x="2022.8" y="2099.1" text-anchor="middle">5</text>
<line x1="1872.8" y1="1939.3" x2="1885.8" y2="1939.3" class="k"/>
<text x="1857.3" y="1948.6" text-anchor="end">5</text>
<line x1="1872.8" y1="2025.5" x2="1885.8" y2="2025.5" class="k"/>
<text x="1857.3" y="2034.8" text-anchor="end">0</text>
<text x="1963.1" y="1875.8" text-anchor="middle">E4-KI</text>
<text x="1963.1" y="1902.1" text-anchor="middle">17-19mo</text>
<text x="1889.8" y="1944">Hyper</text>
<text x="2036.7" y="2048.7" text-anchor="end">Normal</text>
<text transform="translate(1612.4 1846.6) rotate(-90)" text-anchor="middle" font-size="28.4">Normal Distance</text>
<text x="1868.2" y="2146.6" text-anchor="middle" font-size="28.4">Hyper Distance</text>
<path d="M1209.8 2332.5 L1208.5 2333.2 L1206.8 2333.8 L1205 2336.1 L1203.1 2338.5 L1201.4 2341 L1199.1 2343.5 L1195.4 2346.1 L1191.1 2348.8 L1186.7 2351.5 L1181.8 2354.1 L1178.8 2356.1 L1175.4 2358.1 L1172.3 2360.1 L1169.8 2362.1 L1167.8 2364.1 L1166.8 2366.1 L1166.1 2368.1 L1165.4 2370.1 L1165.5 2372.1 L1165.9 2374.1 L1166.7 2376.1 L1167.8 2378.1 L1169.9 2380.9 L1172.5 2383.8 L1174.2 2386 L1176.1 2388.2 L1178.1 2390.4 L1180.2 2392.6 L1182.3 2394.9 L1184.4 2397.1 L1186.5 2399.3 L1188.5 2401.5 L1190.4 2403.7 L1192.5 2406 L1194.5 2408.2 L1196.4 2410.4 L1198.3 2412.6 L1200.1 2414.8 L1201.8 2417.1 L1203.3 2419.3 L1204.6 2421.5 L1205.8 2423.7 L1207.1 2426.4 L1208.1 2429 L1209.1 2430.4 L1209.8 2431.7 L1209.8 2431.7 L1210.4 2430.4 L1211.4 2429 L1212.4 2426.4 L1213.7 2423.7 L1214.9 2421.5 L1216.2 2419.3 L1217.7 2417.1 L1219.4 2414.8 L1221.2 2412.6 L1223.1 2410.4 L1225 2408.2 L1227 2406 L1229.1 2403.7 L1231 2401.5 L1233 2399.3 L1235.1 2397.1 L1237.2 2394.9 L1239.3 2392.6 L1241.4 2390.4 L1243.4 2388.2 L1245.3 2386 L1247 2383.8 L1249.6 2380.9 L1251.7 2378.1 L1252.8 2376.1 L1253.6 2374.1 L1254 2372.1 L1254.1 2370.1 L1253.4 2368.1 L1252.7 2366.1 L1251.7 2364.1 L1249.7 2362.1 L1247.2 2360.1 L1244.1 2358.1 L1240.7 2356.1 L1237.7 2354.1 L1232.8 2351.5 L1228.4 2348.8 L1224.1 2346.1 L1220.4 2343.5 L1218.1 2341 L1216.4 2338.5 L1214.5 2336.1 L1212.7 2333.8 L1211 2333.2 L1209.8 2332.5Z" fill="#74acdf" stroke="#1a9bde" stroke-width="4.0" stroke-linejoin="round"/>
<g fill="#1a1a1a">
<circle cx="1201.4" cy="2355.5" r="2.4"/>
<circle cx="1209.8" cy="2357.1" r="2.4"/>
<circle cx="1200.8" cy="2363.4" r="2.4"/>
<circle cx="1209.8" cy="2365.8" r="2.4"/>
<circle cx="1205.8" cy="2373.1" r="2.4"/>
<circle cx="1214.1" cy="2374.1" r="2.4"/>
<circle cx="1201.4" cy="2380.8" r="2.4"/>
<circle cx="1209.8" cy="2380.8" r="2.4"/>
<circle cx="1209.8" cy="2389.8" r="2.4"/>
<circle cx="1209.8" cy="2400.4" r="2.4"/>
<circle cx="1209.8" cy="2409.7" r="2.4"/>
</g>
<path d="M1317.3 2359.1 L1316.5 2360.8 L1315.3 2362.4 L1314.2 2365 L1312.8 2367.6 L1311.3 2370.1 L1310.4 2372.4 L1309.3 2374.7 L1308.1 2376.9 L1307 2379.2 L1306.1 2381.5 L1305.3 2383.8 L1304.8 2386 L1304.6 2388.2 L1304.5 2390.4 L1304.4 2392.6 L1304.3 2394.9 L1304 2397.1 L1303.6 2399.2 L1303.2 2401.3 L1302.7 2403.5 L1301.9 2405.6 L1300.6 2407.7 L1298.1 2409.7 L1294.8 2411.7 L1291.2 2413.7 L1288 2415.7 L1285 2417.7 L1282.1 2419.7 L1279.5 2421.7 L1277.3 2423.7 L1275 2425.9 L1273.4 2428.1 L1273 2430.4 L1273.8 2432.7 L1275.5 2435 L1277.6 2437.4 L1280 2439.7 L1282.1 2441.8 L1284.5 2444 L1287 2446.1 L1289.6 2448.2 L1292 2450.3 L1294.3 2452.5 L1296.5 2454.7 L1298.7 2456.9 L1300.7 2459.1 L1302.6 2461.3 L1304.4 2463.5 L1305.9 2465.6 L1307.4 2467.7 L1308.7 2469.9 L1310 2472 L1311.2 2474.1 L1312.3 2476.2 L1313.4 2478.4 L1314.3 2480.5 L1315.1 2482.6 L1316.5 2485 L1317.3 2487.3 L1317.3 2487.3 L1318 2485 L1319.5 2482.6 L1320.3 2480.5 L1321.2 2478.4 L1322.2 2476.2 L1323.4 2474.1 L1324.6 2472 L1325.9 2469.9 L1327.2 2467.7 L1328.7 2465.6 L1330.2 2463.5 L1331.9 2461.3 L1333.8 2459.1 L1335.9 2456.9 L1338.1 2454.7 L1340.3 2452.5 L1342.6 2450.3 L1345 2448.2 L1347.5 2446.1 L1350.1 2444 L1352.5 2441.8 L1354.6 2439.7 L1356.9 2437.4 L1359.1 2435 L1360.7 2432.7 L1361.6 2430.4 L1361.2 2428.1 L1359.6 2425.9 L1357.2 2423.7 L1355.1 2421.7 L1352.4 2419.7 L1349.5 2417.7 L1346.6 2415.7 L1343.3 2413.7 L1339.8 2411.7 L1336.5 2409.7 L1333.9 2407.7 L1332.6 2405.6 L1331.8 2403.5 L1331.3 2401.3 L1331 2399.2 L1330.6 2397.1 L1330.3 2394.9 L1330.2 2392.6 L1330.1 2390.4 L1330 2388.2 L1329.7 2386 L1329.3 2383.8 L1328.5 2381.5 L1327.5 2379.2 L1326.4 2376.9 L1325.3 2374.7 L1324.2 2372.4 L1323.3 2370.1 L1321.7 2367.6 L1320.4 2365 L1319.3 2362.4 L1318 2360.8 L1317.3 2359.1Z" fill="#b4d1ec" stroke="#1a9bde" stroke-width="4.0" stroke-linejoin="round"/>
<g fill="#1a1a1a">
<circle cx="1317.3" cy="2381.4" r="2.4"/>
<circle cx="1318" cy="2390.4" r="2.4"/>
<circle cx="1313" cy="2397.4" r="2.4"/>
<circle cx="1317.3" cy="2404.1" r="2.4"/>
<circle cx="1322.9" cy="2419" r="2.4"/>
<circle cx="1314.6" cy="2423" r="2.4"/>
<circle cx="1284.7" cy="2424.7" r="2.4"/>
<circle cx="1293" cy="2425.4" r="2.4"/>
<circle cx="1301.3" cy="2428.4" r="2.4"/>
<circle cx="1309" cy="2430.4" r="2.4"/>
<circle cx="1317.3" cy="2430.4" r="2.4"/>
<circle cx="1325.6" cy="2429" r="2.4"/>
<circle cx="1333.9" cy="2426.7" r="2.4"/>
<circle cx="1341.9" cy="2425" r="2.4"/>
<circle cx="1293" cy="2438.7" r="2.4"/>
<circle cx="1300.6" cy="2441.4" r="2.4"/>
<circle cx="1309" cy="2443" r="2.4"/>
<circle cx="1317.3" cy="2443.4" r="2.4"/>
<circle cx="1325.6" cy="2441.4" r="2.4"/>
<circle cx="1333.9" cy="2439.7" r="2.4"/>
<circle cx="1312.3" cy="2458.3" r="2.4"/>
<circle cx="1317.3" cy="2464.7" r="2.4"/>
</g>
<path d="M1425.2 2322.2 L1424.5 2323.8 L1423.2 2325.5 L1421.8 2327.9 L1420 2330.4 L1417.7 2332.8 L1415.9 2334.9 L1413.8 2337.1 L1411.5 2339.2 L1409.1 2341.3 L1406.5 2343.5 L1402.9 2345.8 L1399 2348.1 L1395.1 2350.5 L1391.9 2352.8 L1387.1 2355.5 L1383.9 2358.1 L1381.6 2360 L1380.9 2361.8 L1382 2363.8 L1384.5 2365.8 L1388.4 2367.9 L1393.2 2370.1 L1396 2372.2 L1399.2 2374.3 L1402.3 2376.3 L1405.2 2378.4 L1407.6 2380.4 L1409.8 2382.4 L1411.8 2384.4 L1413.8 2386.4 L1415.9 2388.4 L1417.9 2390.4 L1419.7 2392.4 L1421.2 2394.4 L1423.1 2396.7 L1424.2 2399.1 L1424.8 2400.1 L1425.2 2401.1 L1425.2 2401.1 L1425.5 2400.1 L1426.2 2399.1 L1427.3 2396.7 L1429.2 2394.4 L1430.7 2392.4 L1432.5 2390.4 L1434.5 2388.4 L1436.5 2386.4 L1438.5 2384.4 L1440.5 2382.4 L1442.7 2380.4 L1445.1 2378.4 L1448 2376.3 L1451.1 2374.3 L1454.3 2372.2 L1457.1 2370.1 L1462 2367.9 L1465.8 2365.8 L1468.3 2363.8 L1469.4 2361.8 L1468.7 2360 L1466.4 2358.1 L1463.2 2355.5 L1458.5 2352.8 L1455.2 2350.5 L1451.3 2348.1 L1447.4 2345.8 L1443.8 2343.5 L1441.3 2341.3 L1438.8 2339.2 L1436.5 2337.1 L1434.5 2334.9 L1432.7 2332.8 L1430.3 2330.4 L1428.5 2327.9 L1427.2 2325.5 L1425.8 2323.8 L1425.2 2322.2Z" fill="#fb7f73" stroke="#f0574b" stroke-width="3.0" stroke-linejoin="round"/>
<g fill="#1a1a1a">
<circle cx="1416.8" cy="2339.8" r="2.4"/>
<circle cx="1425.2" cy="2342.1" r="2.4"/>
<circle cx="1425.2" cy="2352.1" r="2.4"/>
<circle cx="1408.5" cy="2359.1" r="2.4"/>
<circle cx="1416.8" cy="2360.8" r="2.4"/>
<circle cx="1425.2" cy="2361.5" r="2.4"/>
<circle cx="1437.8" cy="2364.1" r="2.4"/>
<circle cx="1420.2" cy="2368.8" r="2.4"/>
<circle cx="1429.5" cy="2368.8" r="2.4"/>
<circle cx="1425.2" cy="2374.8" r="2.4"/>
<circle cx="1425.2" cy="2385.8" r="2.4"/>
</g>
<path d="M1532.7 2303.5 L1532.3 2305.9 L1531.7 2308.2 L1531.5 2310.2 L1531.2 2312.2 L1531 2314.2 L1530.7 2316.2 L1530.4 2318.2 L1530 2320.2 L1529.5 2322.2 L1529.1 2324.3 L1528.7 2326.4 L1528.3 2328.6 L1527.8 2330.7 L1527.3 2332.8 L1526.8 2334.9 L1526.3 2337.1 L1525.8 2339.2 L1525.2 2341.3 L1524.7 2343.5 L1523.8 2345.7 L1523 2347.9 L1522.1 2350.1 L1521.2 2352.4 L1520 2354.6 L1518.7 2356.8 L1517.1 2359 L1515.3 2361.2 L1513.3 2363.4 L1511.2 2365.7 L1509.2 2367.9 L1507.4 2370.1 L1505.7 2372.4 L1504 2374.7 L1502.4 2376.9 L1500.8 2379.2 L1499.4 2381.5 L1498.1 2383.8 L1496.9 2386 L1496 2388.2 L1495.1 2390.4 L1494.3 2392.6 L1493.5 2394.9 L1492.7 2397.1 L1492 2399.3 L1491.2 2401.5 L1490.5 2403.7 L1489.8 2406 L1489.2 2408.2 L1488.8 2410.4 L1488.2 2412.4 L1487.7 2414.4 L1487.5 2416.4 L1487.8 2418.4 L1488.2 2420.6 L1488.8 2422.8 L1489.6 2425 L1490.5 2427.3 L1491.6 2429.5 L1492.7 2431.7 L1494 2433.9 L1495.5 2436.1 L1497.1 2438.4 L1498.7 2440.6 L1500.4 2442.8 L1502.1 2445 L1503.8 2447.3 L1505.5 2449.6 L1507.4 2451.8 L1509.2 2454.1 L1511 2456.4 L1512.7 2458.7 L1514.5 2460.9 L1516.2 2463.1 L1518 2465.3 L1519.6 2467.5 L1521.2 2469.8 L1522.7 2472 L1524.3 2474.1 L1525.8 2476.2 L1527.2 2478.4 L1528.4 2480.5 L1529.5 2482.6 L1531 2484.9 L1532 2487.1 L1532.7 2489.3 L1532.7 2489.3 L1533.4 2487.1 L1534.4 2484.9 L1535.9 2482.6 L1537 2480.5 L1538.2 2478.4 L1539.6 2476.2 L1541.1 2474.1 L1542.7 2472 L1544.2 2469.8 L1545.8 2467.5 L1547.4 2465.3 L1549.2 2463.1 L1550.9 2460.9 L1552.7 2458.7 L1554.4 2456.4 L1556.2 2454.1 L1558 2451.8 L1559.9 2449.6 L1561.6 2447.3 L1563.3 2445 L1565 2442.8 L1566.7 2440.6 L1568.3 2438.4 L1569.9 2436.1 L1571.4 2433.9 L1572.7 2431.7 L1573.8 2429.5 L1574.9 2427.3 L1575.8 2425 L1576.6 2422.8 L1577.2 2420.6 L1577.6 2418.4 L1577.9 2416.4 L1577.7 2414.4 L1577.2 2412.4 L1576.6 2410.4 L1576.2 2408.2 L1575.6 2406 L1574.9 2403.7 L1574.2 2401.5 L1573.4 2399.3 L1572.7 2397.1 L1571.9 2394.9 L1571.1 2392.6 L1570.3 2390.4 L1569.4 2388.2 L1568.5 2386 L1567.3 2383.8 L1566 2381.5 L1564.6 2379.2 L1563 2376.9 L1561.4 2374.7 L1559.7 2372.4 L1558 2370.1 L1556.2 2367.9 L1554.2 2365.7 L1552.1 2363.4 L1550.1 2361.2 L1548.3 2359 L1546.7 2356.8 L1545.4 2354.6 L1544.2 2352.4 L1543.3 2350.1 L1542.4 2347.9 L1541.6 2345.7 L1540.7 2343.5 L1540.1 2341.3 L1539.6 2339.2 L1539.1 2337.1 L1538.6 2334.9 L1538.1 2332.8 L1537.6 2330.7 L1537.1 2328.6 L1536.7 2326.4 L1536.3 2324.3 L1535.9 2322.2 L1535.4 2320.2 L1535 2318.2 L1534.7 2316.2 L1534.4 2314.2 L1534.2 2312.2 L1533.9 2310.2 L1533.7 2308.2 L1533.1 2305.9 L1532.7 2303.5Z" fill="#fbb5af" stroke="#f8a39c" stroke-width="3.0" stroke-linejoin="round"/>
<g fill="#1a1a1a">
<circle cx="1532.7" cy="2337.5" r="2.4"/>
<circle cx="1532.7" cy="2368.8" r="2.4"/>
<circle cx="1527" cy="2382.4" r="2.4"/>
<circle cx="1535" cy="2380.1" r="2.4"/>
<circle cx="1543.4" cy="2378.8" r="2.4"/>
<circle cx="1532.7" cy="2388.8" r="2.4"/>
<circle cx="1527" cy="2400.7" r="2.4"/>
<circle cx="1535" cy="2398.7" r="2.4"/>
<circle cx="1532.7" cy="2408.1" r="2.4"/>
<circle cx="1524.4" cy="2414.1" r="2.4"/>
<circle cx="1532.7" cy="2417.1" r="2.4"/>
<circle cx="1540" cy="2413.4" r="2.4"/>
<circle cx="1548.3" cy="2411.4" r="2.4"/>
<circle cx="1522" cy="2430" r="2.4"/>
<circle cx="1535" cy="2428.7" r="2.4"/>
<circle cx="1544" cy="2428.4" r="2.4"/>
<circle cx="1528.4" cy="2435.4" r="2.4"/>
<circle cx="1537.7" cy="2436.4" r="2.4"/>
<circle cx="1534" cy="2442" r="2.4"/>
<circle cx="1529.4" cy="2448.3" r="2.4"/>
<circle cx="1533" cy="2456.3" r="2.4"/>
</g>
<path d="M1640.5 2336.8 L1639.8 2338 L1638.5 2339.1 L1637 2341.3 L1633.8 2343.5 L1630.9 2345.5 L1627.1 2347.5 L1623.1 2349.5 L1619.2 2351.5 L1615.4 2353.5 L1611.4 2355.5 L1607.7 2357.5 L1604.5 2359.5 L1602 2361.5 L1600 2363.4 L1598.4 2365.4 L1597.2 2367.4 L1596.5 2369.5 L1596.2 2371.6 L1596.2 2373.7 L1596.2 2375.8 L1596.2 2377.8 L1596.3 2379.8 L1596.7 2381.8 L1597.5 2383.8 L1598.5 2386 L1599.8 2388.2 L1601.2 2390.4 L1602.8 2392.6 L1604.3 2394.9 L1605.9 2397.1 L1607.4 2399.3 L1609 2401.5 L1610.6 2403.7 L1612.1 2406 L1613.7 2408.2 L1615.2 2410.4 L1616.6 2412.6 L1618 2414.8 L1619.3 2417.1 L1620.6 2419.3 L1621.9 2421.5 L1623.2 2423.7 L1624.5 2425.9 L1625.9 2428.1 L1627.3 2430.4 L1628.7 2432.6 L1630 2434.8 L1631.2 2437 L1632.4 2439.2 L1633.5 2441.5 L1634.6 2443.7 L1635.6 2445.9 L1636.5 2448.1 L1637.3 2450.3 L1638.7 2453 L1639.5 2455.7 L1640.1 2456.8 L1640.5 2458 L1640.5 2458 L1640.9 2456.8 L1641.5 2455.7 L1642.3 2453 L1643.7 2450.3 L1644.5 2448.1 L1645.4 2445.9 L1646.4 2443.7 L1647.5 2441.5 L1648.6 2439.2 L1649.8 2437 L1651 2434.8 L1652.3 2432.6 L1653.7 2430.4 L1655.1 2428.1 L1656.5 2425.9 L1657.8 2423.7 L1659.1 2421.5 L1660.4 2419.3 L1661.7 2417.1 L1663 2414.8 L1664.4 2412.6 L1665.8 2410.4 L1667.3 2408.2 L1668.8 2406 L1670.4 2403.7 L1672 2401.5 L1673.6 2399.3 L1675.1 2397.1 L1676.6 2394.9 L1678.2 2392.6 L1679.8 2390.4 L1681.2 2388.2 L1682.5 2386 L1683.4 2383.8 L1684.3 2381.8 L1684.7 2379.8 L1684.8 2377.8 L1684.8 2375.8 L1684.8 2373.7 L1684.8 2371.6 L1684.5 2369.5 L1683.8 2367.4 L1682.6 2365.4 L1681 2363.4 L1678.9 2361.5 L1676.5 2359.5 L1673.3 2357.5 L1669.6 2355.5 L1665.6 2353.5 L1661.8 2351.5 L1657.9 2349.5 L1653.9 2347.5 L1650.1 2345.5 L1647.2 2343.5 L1644 2341.3 L1642.5 2339.1 L1641.2 2338 L1640.5 2336.8Z" fill="#74acdf" stroke="#1a9bde" stroke-width="4.0" stroke-linejoin="round"/>
<g fill="#1a1a1a">
<circle cx="1617.2" cy="2366.1" r="2.4"/>
<circle cx="1625.5" cy="2366.8" r="2.4"/>
<circle cx="1633.2" cy="2369.8" r="2.4"/>
<circle cx="1640.5" cy="2361.5" r="2.4"/>
<circle cx="1645.5" cy="2367.4" r="2.4"/>
<circle cx="1653.8" cy="2367.1" r="2.4"/>
<circle cx="1662.1" cy="2366.4" r="2.4"/>
<circle cx="1640.5" cy="2372.4" r="2.4"/>
<circle cx="1645.5" cy="2378.8" r="2.4"/>
<circle cx="1638.8" cy="2382.8" r="2.4"/>
<circle cx="1652.8" cy="2382.8" r="2.4"/>
<circle cx="1632.2" cy="2388.4" r="2.4"/>
<circle cx="1640.5" cy="2391.4" r="2.4"/>
<circle cx="1647.2" cy="2387.1" r="2.4"/>
<circle cx="1655.5" cy="2394.7" r="2.4"/>
<circle cx="1647.8" cy="2395.4" r="2.4"/>
<circle cx="1633.2" cy="2398.4" r="2.4"/>
<circle cx="1640.5" cy="2400.4" r="2.4"/>
<circle cx="1632.2" cy="2409.7" r="2.4"/>
<circle cx="1640.5" cy="2409.7" r="2.4"/>
<circle cx="1638.2" cy="2418" r="2.4"/>
<circle cx="1645.5" cy="2418" r="2.4"/>
<circle cx="1646.5" cy="2424.7" r="2.4"/>
<circle cx="1638.2" cy="2426.4" r="2.4"/>
<circle cx="1640.5" cy="2434.4" r="2.4"/>
</g>
<path d="M1748.4 2315.5 L1747.6 2316.8 L1746.7 2318.2 L1746.5 2320.2 L1746.2 2322.2 L1746 2324.2 L1745.8 2326.2 L1745.6 2328.2 L1745.4 2330.2 L1745.1 2332.3 L1744.8 2334.4 L1744.6 2336.5 L1744.4 2338.7 L1744.4 2340.8 L1744.5 2342.9 L1744.8 2345.1 L1745.1 2347.2 L1745.4 2349.3 L1745.7 2351.5 L1746.4 2354.1 L1746.7 2356.8 L1746.5 2358.9 L1745.9 2361 L1745 2363.1 L1744 2365.4 L1742.7 2367.8 L1740.4 2370.1 L1738.6 2372.4 L1736.5 2374.7 L1734.2 2376.9 L1731.7 2379.2 L1729.3 2381.5 L1727.1 2383.8 L1724.9 2386 L1722.8 2388.2 L1720.7 2390.4 L1718.7 2392.6 L1716.8 2394.9 L1715.1 2397.1 L1713.5 2399.3 L1711.9 2401.5 L1710.5 2403.7 L1709.2 2406 L1708.1 2408.2 L1707.1 2410.4 L1706.2 2412.6 L1705.4 2414.8 L1704.7 2417.1 L1704.3 2419.3 L1704 2421.5 L1704.1 2423.7 L1704.5 2425.9 L1705.1 2428.1 L1706 2430.4 L1707.1 2432.6 L1708.3 2434.8 L1709.7 2437 L1711.3 2439.2 L1713.2 2441.5 L1715.2 2443.7 L1717.3 2445.9 L1719.5 2448.1 L1721.7 2450.3 L1724.1 2452.6 L1726.6 2454.9 L1729.2 2457.2 L1731.8 2459.4 L1734.2 2461.7 L1736.4 2464 L1738.7 2466.1 L1740.8 2468.3 L1742.7 2470.4 L1744.4 2472.5 L1745.7 2474.6 L1747.6 2476.6 L1748.4 2478.6 L1748.4 2478.6 L1749.1 2476.6 L1751 2474.6 L1752.4 2472.5 L1754 2470.4 L1755.9 2468.3 L1758 2466.1 L1760.4 2464 L1762.5 2461.7 L1764.9 2459.4 L1767.5 2457.2 L1770.1 2454.9 L1772.7 2452.6 L1775 2450.3 L1777.2 2448.1 L1779.4 2445.9 L1781.6 2443.7 L1783.6 2441.5 L1785.4 2439.2 L1787 2437 L1788.4 2434.8 L1789.7 2432.6 L1790.8 2430.4 L1791.6 2428.1 L1792.3 2425.9 L1792.7 2423.7 L1792.7 2421.5 L1792.5 2419.3 L1792 2417.1 L1791.3 2414.8 L1790.5 2412.6 L1789.7 2410.4 L1788.7 2408.2 L1787.5 2406 L1786.2 2403.7 L1784.8 2401.5 L1783.3 2399.3 L1781.7 2397.1 L1779.9 2394.9 L1778 2392.6 L1776 2390.4 L1773.9 2388.2 L1771.8 2386 L1769.7 2383.8 L1767.4 2381.5 L1765 2379.2 L1762.6 2376.9 L1760.2 2374.7 L1758.1 2372.4 L1756.4 2370.1 L1754.1 2367.8 L1752.7 2365.4 L1751.7 2363.1 L1750.8 2361 L1750.3 2358.9 L1750 2356.8 L1750.3 2354.1 L1751 2351.5 L1751.3 2349.3 L1751.7 2347.2 L1752 2345.1 L1752.2 2342.9 L1752.4 2340.8 L1752.3 2338.7 L1752.1 2336.5 L1751.9 2334.4 L1751.6 2332.3 L1751.4 2330.2 L1751.2 2328.2 L1751 2326.2 L1750.7 2324.2 L1750.5 2322.2 L1750.3 2320.2 L1750 2318.2 L1749.1 2316.8 L1748.4 2315.5Z" fill="#b4d1ec" stroke="#1a9bde" stroke-width="4.0" stroke-linejoin="round"/>
<g fill="#1a1a1a">
<circle cx="1748.4" cy="2342.1" r="2.4"/>
<circle cx="1748.4" cy="2386.8" r="2.4"/>
<circle cx="1739.4" cy="2394.4" r="2.4"/>
<circle cx="1748.4" cy="2394.7" r="2.4"/>
<circle cx="1726.1" cy="2406.7" r="2.4"/>
<circle cx="1734.1" cy="2409.7" r="2.4"/>
<circle cx="1748.4" cy="2408.1" r="2.4"/>
<circle cx="1763.7" cy="2409.7" r="2.4"/>
<circle cx="1740.4" cy="2414.7" r="2.4"/>
<circle cx="1755.4" cy="2414.1" r="2.4"/>
<circle cx="1748.4" cy="2417.7" r="2.4"/>
<circle cx="1721.4" cy="2426" r="2.4"/>
<circle cx="1729.4" cy="2429" r="2.4"/>
<circle cx="1737.7" cy="2430.4" r="2.4"/>
<circle cx="1746" cy="2430.7" r="2.4"/>
<circle cx="1754.4" cy="2430.4" r="2.4"/>
<circle cx="1762.7" cy="2429" r="2.4"/>
<circle cx="1770.7" cy="2426.4" r="2.4"/>
<circle cx="1748.4" cy="2438" r="2.4"/>
<circle cx="1732.7" cy="2445.7" r="2.4"/>
<circle cx="1740.4" cy="2449" r="2.4"/>
<circle cx="1748.4" cy="2452" r="2.4"/>
<circle cx="1755.4" cy="2447" r="2.4"/>
<circle cx="1763.7" cy="2446.3" r="2.4"/>
</g>
<path d="M1855.9 2329.5 L1855.5 2331.3 L1854.9 2333.2 L1854.7 2335.2 L1854.4 2337.3 L1854.2 2339.3 L1853.8 2341.4 L1853.2 2343.5 L1852.6 2345.6 L1851.9 2347.7 L1851 2349.9 L1849.9 2352 L1848.6 2354.1 L1846.6 2356.1 L1844.2 2358.1 L1841.5 2360.1 L1838.6 2362.1 L1833.9 2364.3 L1828.6 2366.6 L1823.9 2368.8 L1818.4 2370.9 L1814.3 2373.1 L1812.2 2374.4 L1811.6 2375.8 L1812.4 2377.3 L1814.3 2378.8 L1816.5 2380.6 L1820 2382.4 L1823.9 2384.6 L1828.7 2386.9 L1833.3 2389.1 L1836.3 2391.1 L1839.2 2393.1 L1841.8 2395.1 L1843.9 2397.1 L1845.4 2399.1 L1846.5 2401.1 L1847.2 2403.1 L1847.9 2405.1 L1848.5 2407.1 L1849 2409.1 L1849.5 2411.1 L1850 2413.1 L1850.8 2415.1 L1851.6 2417.1 L1852.5 2419 L1853.2 2421 L1854.8 2423.5 L1855.9 2426 L1855.9 2426 L1857 2423.5 L1858.6 2421 L1859.4 2419 L1860.2 2417.1 L1861.1 2415.1 L1861.8 2413.1 L1862.4 2411.1 L1862.8 2409.1 L1863.3 2407.1 L1863.9 2405.1 L1864.6 2403.1 L1865.4 2401.1 L1866.4 2399.1 L1867.9 2397.1 L1870 2395.1 L1872.6 2393.1 L1875.5 2391.1 L1878.5 2389.1 L1883.1 2386.9 L1887.9 2384.6 L1891.9 2382.4 L1895.4 2380.6 L1897.5 2378.8 L1899.4 2377.3 L1900.2 2375.8 L1899.6 2374.4 L1897.5 2373.1 L1893.4 2370.9 L1887.9 2368.8 L1883.2 2366.6 L1877.9 2364.3 L1873.2 2362.1 L1870.3 2360.1 L1867.6 2358.1 L1865.2 2356.1 L1863.2 2354.1 L1861.9 2352 L1860.8 2349.9 L1860 2347.7 L1859.2 2345.6 L1858.6 2343.5 L1858 2341.4 L1857.7 2339.3 L1857.4 2337.3 L1857.1 2335.2 L1856.9 2333.2 L1856.3 2331.3 L1855.9 2329.5Z" fill="#fb7f73" stroke="#f0574b" stroke-width="3.0" stroke-linejoin="round"/>
<g fill="#1a1a1a">
<circle cx="1855.9" cy="2345.1" r="2.4"/>
<circle cx="1848.6" cy="2359.1" r="2.4"/>
<circle cx="1855.9" cy="2362.4" r="2.4"/>
<circle cx="1833.6" cy="2370.4" r="2.4"/>
<circle cx="1848.6" cy="2369.1" r="2.4"/>
<circle cx="1856.9" cy="2371.4" r="2.4"/>
<circle cx="1866.9" cy="2370.4" r="2.4"/>
<circle cx="1826.9" cy="2375.4" r="2.4"/>
<circle cx="1841.9" cy="2376.4" r="2.4"/>
<circle cx="1848.6" cy="2376.4" r="2.4"/>
<circle cx="1861.2" cy="2376.4" r="2.4"/>
<circle cx="1876.9" cy="2376.4" r="2.4"/>
<circle cx="1884.5" cy="2375.4" r="2.4"/>
<circle cx="1891.9" cy="2373.1" r="2.4"/>
<circle cx="1833.6" cy="2380.8" r="2.4"/>
<circle cx="1855.9" cy="2381.4" r="2.4"/>
<circle cx="1871.9" cy="2382.1" r="2.4"/>
<circle cx="1840.3" cy="2385.4" r="2.4"/>
<circle cx="1863.6" cy="2387.1" r="2.4"/>
<circle cx="1848.6" cy="2389.8" r="2.4"/>
<circle cx="1855.9" cy="2390.4" r="2.4"/>
<circle cx="1848.6" cy="2404.7" r="2.4"/>
<circle cx="1855.9" cy="2409.7" r="2.4"/>
</g>
<path d="M1963.8 2341.5 L1963.5 2343.1 L1962.8 2344.8 L1962.4 2346.8 L1962 2348.8 L1961.6 2350.8 L1961 2352.8 L1960.4 2354.8 L1959.8 2356.8 L1959 2359 L1958.1 2361.2 L1957.2 2363.4 L1956.2 2365.7 L1955.3 2367.9 L1954.5 2370.1 L1953.7 2372.4 L1953.1 2374.7 L1952.5 2376.9 L1951.8 2379.2 L1951.2 2381.5 L1950.5 2383.8 L1949.7 2386 L1948.9 2388.2 L1948.1 2390.4 L1947.3 2392.6 L1946.3 2394.9 L1945.1 2397.1 L1943.8 2399.3 L1942.4 2401.5 L1940.8 2403.7 L1939.2 2406 L1937.5 2408.2 L1935.8 2410.4 L1934.1 2412.6 L1932.2 2414.8 L1930.3 2417.1 L1928.4 2419.3 L1926.7 2421.5 L1925.2 2423.7 L1923.5 2425.8 L1922 2428 L1920.7 2430.1 L1919.8 2432.2 L1919.5 2434.4 L1919.8 2436.5 L1920.6 2438.6 L1921.8 2440.8 L1923.4 2442.9 L1925.2 2445 L1927.3 2447.2 L1929.9 2449.4 L1932.8 2451.6 L1935.7 2453.8 L1938.5 2456 L1941.2 2458.1 L1944 2460.3 L1946.8 2462.4 L1949.4 2464.5 L1951.8 2466.7 L1954 2468.8 L1956.1 2470.9 L1958.1 2473.1 L1959.7 2475.2 L1961.1 2477.3 L1963 2479.3 L1963.8 2481.3 L1963.8 2481.3 L1964.5 2479.3 L1966.4 2477.3 L1967.8 2475.2 L1969.5 2473.1 L1971.4 2470.9 L1973.5 2468.8 L1975.8 2466.7 L1978.2 2464.5 L1980.8 2462.4 L1983.6 2460.3 L1986.4 2458.1 L1989.1 2456 L1991.9 2453.8 L1994.8 2451.6 L1997.6 2449.4 L2000.2 2447.2 L2002.4 2445 L2004.2 2442.9 L2005.8 2440.8 L2007 2438.6 L2007.8 2436.5 L2008.1 2434.4 L2007.7 2432.2 L2006.9 2430.1 L2005.6 2428 L2004 2425.8 L2002.4 2423.7 L2000.9 2421.5 L1999.2 2419.3 L1997.3 2417.1 L1995.4 2414.8 L1993.5 2412.6 L1991.7 2410.4 L1990.1 2408.2 L1988.4 2406 L1986.8 2403.7 L1985.2 2401.5 L1983.7 2399.3 L1982.4 2397.1 L1981.3 2394.9 L1980.3 2392.6 L1979.4 2390.4 L1978.6 2388.2 L1977.9 2386 L1977.1 2383.8 L1976.4 2381.5 L1975.7 2379.2 L1975.1 2376.9 L1974.5 2374.7 L1973.8 2372.4 L1973.1 2370.1 L1972.3 2367.9 L1971.3 2365.7 L1970.4 2363.4 L1969.4 2361.2 L1968.5 2359 L1967.8 2356.8 L1967.1 2354.8 L1966.5 2352.8 L1966 2350.8 L1965.5 2348.8 L1965.1 2346.8 L1964.8 2344.8 L1964.1 2343.1 L1963.8 2341.5Z" fill="#fbb5af" stroke="#f8a39c" stroke-width="3.0" stroke-linejoin="round"/>
<g fill="#1a1a1a">
<circle cx="1963.8" cy="2368.8" r="2.4"/>
<circle cx="1963.8" cy="2376.4" r="2.4"/>
<circle cx="1956.8" cy="2398.1" r="2.4"/>
<circle cx="1963.8" cy="2402.4" r="2.4"/>
<circle cx="1948.5" cy="2412.4" r="2.4"/>
<circle cx="1955.8" cy="2416.4" r="2.4"/>
<circle cx="1963.8" cy="2418.4" r="2.4"/>
<circle cx="1971.8" cy="2415.7" r="2.4"/>
<circle cx="1956.8" cy="2426.4" r="2.4"/>
<circle cx="1964.4" cy="2428.7" r="2.4"/>
<circle cx="1951.1" cy="2435.7" r="2.4"/>
<circle cx="1958.5" cy="2435.4" r="2.4"/>
<circle cx="1979.1" cy="2435.4" r="2.4"/>
<circle cx="1966.8" cy="2439.7" r="2.4"/>
<circle cx="1974.4" cy="2440.7" r="2.4"/>
<circle cx="1952.5" cy="2443" r="2.4"/>
<circle cx="1960.1" cy="2446.3" r="2.4"/>
<circle cx="1970.1" cy="2448" r="2.4"/>
<circle cx="1955.8" cy="2453.7" r="2.4"/>
<circle cx="1963.8" cy="2453.7" r="2.4"/>
</g>
<line x1="1124.5" y1="2402.1" x2="2049.3" y2="2402.1" stroke="#000" stroke-width="2.6"/>
<line x1="1586.8" y1="2257.8" x2="1586.8" y2="2517.9" stroke="#000" stroke-width="3.3" stroke-dasharray="6 9.8"/>
<rect x="1124.5" y="2256.6" width="924.8" height="261.3" fill="none" stroke="#000" stroke-width="2.4"/>
<line x1="1111.5" y1="2325.3" x2="1124.5" y2="2325.3" class="k"/>
<text x="1095.5" y="2334.3" text-anchor="end">5</text>
<line x1="1111.5" y1="2402.1" x2="1124.5" y2="2402.1" class="k"/>
<text x="1095.5" y="2411.1" text-anchor="end">0</text>
<line x1="1111.5" y1="2478.9" x2="1124.5" y2="2478.9" class="k"/>
<text x="1095.5" y="2487.9" text-anchor="end">−5</text>
<line x1="1209.7" y1="2517.9" x2="1209.7" y2="2530.9" class="k"/>
<text x="1209.7" y="2562.6" text-anchor="middle">E3-KI</text>
<text x="1209.7" y="2588.2" text-anchor="middle">Type I</text>
<line x1="1317.4" y1="2517.9" x2="1317.4" y2="2530.9" class="k"/>
<text x="1317.4" y="2562.6" text-anchor="middle">E3-KI</text>
<text x="1317.4" y="2588.2" text-anchor="middle">Type II</text>
<line x1="1425.1" y1="2517.9" x2="1425.1" y2="2530.9" class="k"/>
<text x="1425.1" y="2562.6" text-anchor="middle">E4-KI</text>
<text x="1425.1" y="2588.2" text-anchor="middle">Type I</text>
<line x1="1532.8" y1="2517.9" x2="1532.8" y2="2530.9" class="k"/>
<text x="1532.8" y="2562.6" text-anchor="middle">E4-KI</text>
<text x="1532.8" y="2588.2" text-anchor="middle">Type II</text>
<line x1="1640.5" y1="2517.9" x2="1640.5" y2="2530.9" class="k"/>
<text x="1640.5" y="2562.6" text-anchor="middle">E3-KI</text>
<text x="1640.5" y="2588.2" text-anchor="middle">Type I</text>
<line x1="1748.2" y1="2517.9" x2="1748.2" y2="2530.9" class="k"/>
<text x="1748.2" y="2562.6" text-anchor="middle">E3-KI</text>
<text x="1748.2" y="2588.2" text-anchor="middle">Type II</text>
<line x1="1855.9" y1="2517.9" x2="1855.9" y2="2530.9" class="k"/>
<text x="1855.9" y="2562.6" text-anchor="middle">E4-KI</text>
<text x="1855.9" y="2588.2" text-anchor="middle">Type I</text>
<line x1="1963.6" y1="2517.9" x2="1963.6" y2="2530.9" class="k"/>
<text x="1963.6" y="2562.6" text-anchor="middle">E4-KI</text>
<text x="1963.6" y="2588.2" text-anchor="middle">Type II</text>
<line x1="1209.7" y1="2309.8" x2="1317.4" y2="2309.8" stroke="#000" stroke-width="2.6"/>
<line x1="1210.2" y1="2306.4" x2="1210.2" y2="2313.2" stroke="#000" stroke-width="3.6"/>
<line x1="1316.9" y1="2306.4" x2="1316.9" y2="2313.2" stroke="#000" stroke-width="3.6"/>
<text x="1262.6" y="2301.8" text-anchor="middle">&lt;0.0001</text>
<line x1="1425.1" y1="2295.9" x2="1532.8" y2="2295.9" stroke="#000" stroke-width="2.6"/>
<line x1="1425.6" y1="2292.5" x2="1425.6" y2="2299.3" stroke="#000" stroke-width="3.6"/>
<line x1="1532.3" y1="2292.5" x2="1532.3" y2="2299.3" stroke="#000" stroke-width="3.6"/>
<text x="1478" y="2287.9" text-anchor="middle">&lt;0.0001</text>
<line x1="1640.5" y1="2294.5" x2="1748.2" y2="2294.5" stroke="#000" stroke-width="2.6"/>
<line x1="1641" y1="2291.1" x2="1641" y2="2297.9" stroke="#000" stroke-width="3.6"/>
<line x1="1747.7" y1="2291.1" x2="1747.7" y2="2297.9" stroke="#000" stroke-width="3.6"/>
<text x="1693.3" y="2286.5" text-anchor="middle">0.0001</text>
<line x1="1855.9" y1="2286.9" x2="1963.6" y2="2286.9" stroke="#000" stroke-width="2.6"/>
<line x1="1856.4" y1="2283.5" x2="1856.4" y2="2290.3" stroke="#000" stroke-width="3.6"/>
<line x1="1963.1" y1="2283.5" x2="1963.1" y2="2290.3" stroke="#000" stroke-width="3.6"/>
<text x="1908.8" y="2278.9" text-anchor="middle">&lt;0.0001</text>
<text x="1380" y="2509.8" text-anchor="middle" font-size="29.5">Young</text>
<text x="1828" y="2509.8" text-anchor="middle" font-size="29.5">Aged</text>
<text x="1109.5" y="2261.6" text-anchor="end" fill="#9a0f9a">Hyper</text>
<text x="1111.8" y="2529.8" text-anchor="end" fill="#159a9a">Normal</text>
<text transform="translate(1049 2387) rotate(-90)" text-anchor="middle">Residual Value</text>
<text x="1601.7" y="2230" text-anchor="middle" font-size="30.1">Combined DGC Cluster Membership</text>
<line x1="513.8" y1="52.3" x2="513.8" y2="2479" stroke="#000" stroke-width="3.4" stroke-dasharray="12.1 11.9"/>
<line x1="1038.8" y1="61.6" x2="1038.8" y2="2152.3" stroke="#000" stroke-width="3.4" stroke-dasharray="12.1 11.9"/>
<line x1="1561" y1="61.6" x2="1561" y2="2152.3" stroke="#000" stroke-width="3.4" stroke-dasharray="12.1 11.9"/>
<text x="-4" y="37.1" font-size="45.5" class="b">a</text>
<text x="530.1" y="37.1" font-size="45.5" class="b">b</text>
<text x="1049.3" y="37.5" font-size="45.5" class="b">c</text>
<text x="1569.1" y="38" font-size="45.5" class="b">d</text>
<text x="-0.9" y="547.2" font-size="45.5" class="b">e</text>
<text x="542" y="555" font-size="45.5" class="b">f</text>
<text x="1064" y="555.5" font-size="45.5" class="b">g</text>
<text x="1573.8" y="555.5" font-size="45.5" class="b">h</text>
<text x="2.4" y="1044.8" font-size="45.5" class="b">i</text>
<text x="542.8" y="1064" font-size="45.5" class="b">j</text>
<text x="1063.4" y="1065.5" font-size="45.5" class="b">k</text>
<text x="1571.7" y="1065.5" font-size="45.5" class="b">l</text>
<text x="5.5" y="1595.6" font-size="45.5" class="b">m</text>
<text x="531.7" y="1595.6" font-size="45.5" class="b">n</text>
<text x="1064.8" y="1596.3" font-size="45.5" class="b">o</text>
<text x="1574.8" y="1596.3" font-size="45.5" class="b">p</text>
<text x="534.9" y="2204.5" font-size="45.5" class="b">q</text>
<text x="1012.1" y="2208.2" font-size="45.5" class="b">r</text>
</svg>
</body></html>
